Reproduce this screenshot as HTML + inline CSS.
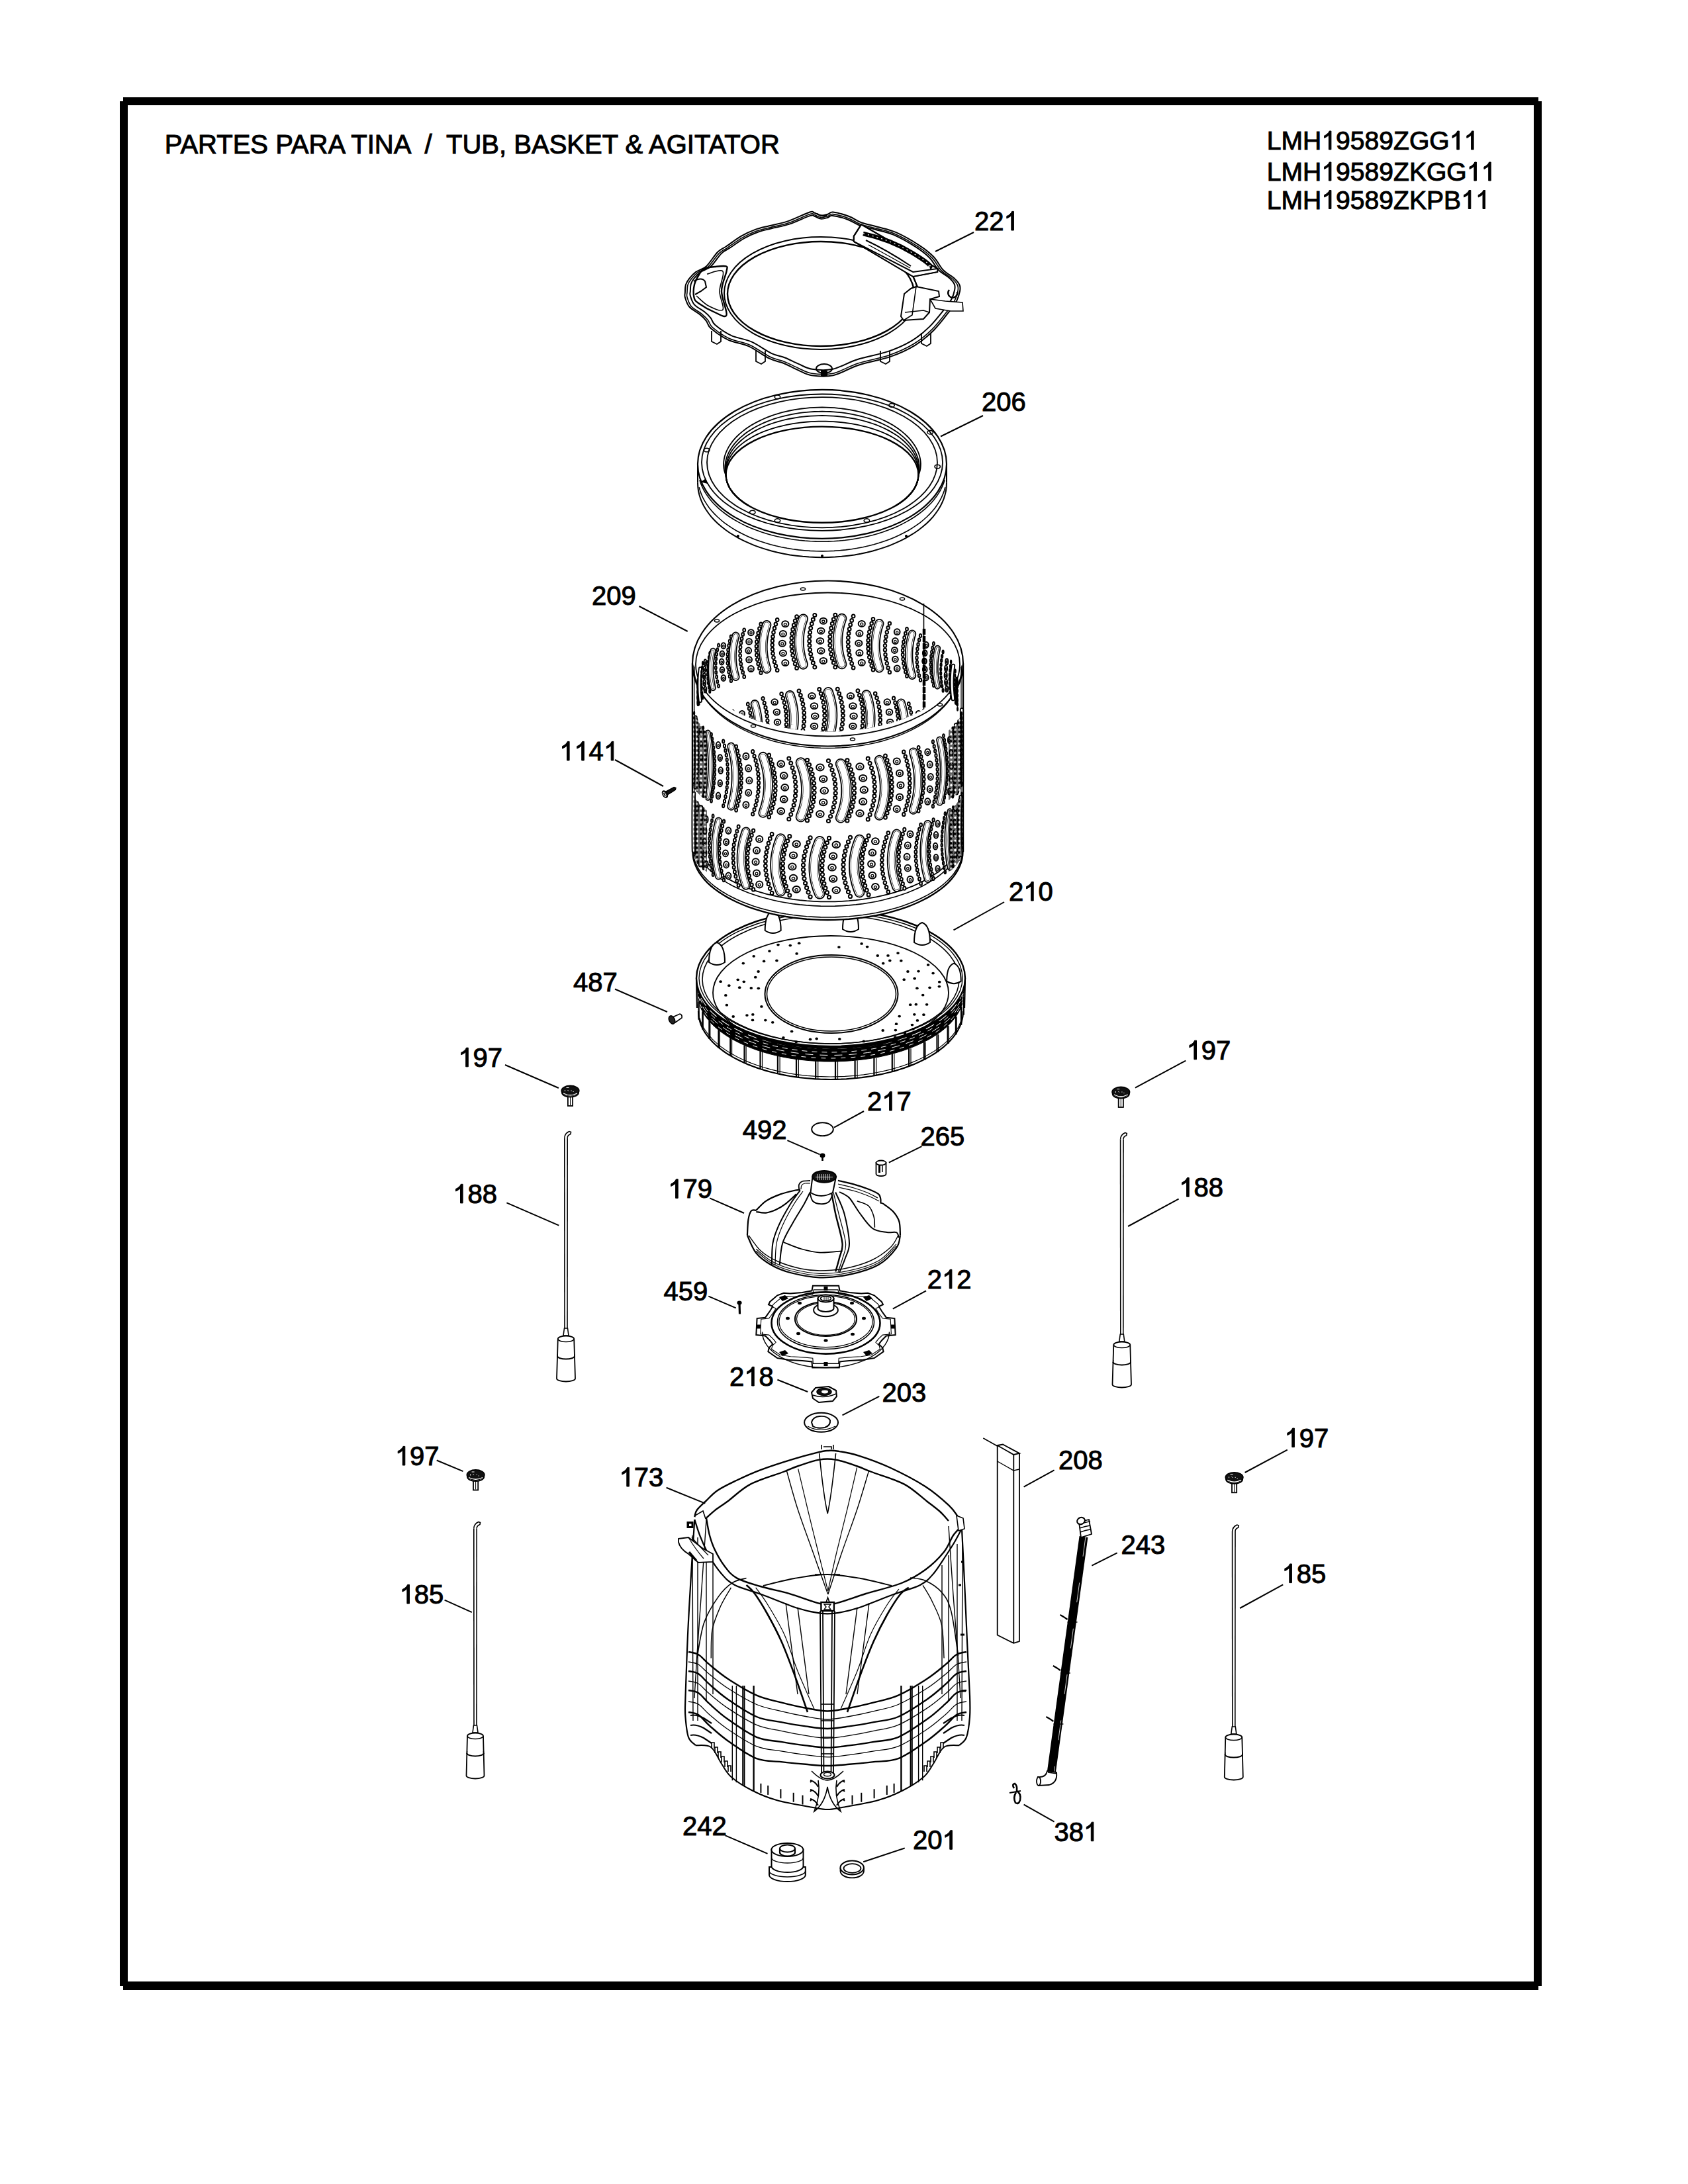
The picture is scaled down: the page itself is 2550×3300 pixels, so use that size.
<!DOCTYPE html>
<html><head><meta charset="utf-8"><style>
html,body{margin:0;padding:0;background:#fff;}
svg{display:block;}
text{font-family:"Liberation Sans",sans-serif;fill:#000;}
.k{fill:none;stroke:#000;stroke-linecap:round}
.w{fill:none;stroke:#fff;stroke-linecap:round}
.c{fill:#fff;stroke:#000;stroke-width:2}
.b{fill:#fff;stroke:#000;stroke-width:2}
.i{fill:none;stroke:#000;stroke-width:1.3}
</style></head><body>
<svg width="2550" height="3300" viewBox="0 0 2550 3300">
<rect width="2550" height="3300" fill="#fff"/>
<rect x="186" y="147" width="2138" height="12" fill="#000"/>
<rect x="186" y="2994" width="2138" height="13" fill="#000"/>
<rect x="181" y="153" width="12" height="2848" fill="#000"/>
<rect x="2317" y="153" width="12" height="2848" fill="#000"/>
<text x="248.7" y="232" font-size="40" stroke="#000" stroke-width="1.0" style="white-space:pre">PARTES PARA TINA  /  TUB, BASKET &amp; AGITATOR</text>
<text x="1913.8" y="226" font-size="39.1" stroke="#000" stroke-width="1.0" style="white-space:pre">LMH</text>
<path d="M2010.9,226 L2007.4,226 L2007.4,204.1 L2006.1,205.3 L2004.2,206.6 L2002.2,207.7 L2000.6,208.4 L2000.6,205.1 L2003,203.9 L2005.3,202.1 L2007.1,200.2 L2008.3,198 L2010.9,198Z" fill="#000" stroke="#000" stroke-width="1.0"/>
<text x="2018.1" y="226" font-size="39.1" stroke="#000" stroke-width="1.0" style="white-space:pre">9589ZGG</text>
<path d="M2204.4,226 L2200.8,226 L2200.8,204.1 L2199.6,205.3 L2197.6,206.6 L2195.6,207.7 L2194,208.4 L2194,205.1 L2196.4,203.9 L2198.8,202.1 L2200.5,200.2 L2201.7,198 L2204.4,198Z" fill="#000" stroke="#000" stroke-width="1.0"/>
<path d="M2226.1,226 L2222.6,226 L2222.6,204.1 L2221.3,205.3 L2219.3,206.6 L2217.4,207.7 L2215.8,208.4 L2215.8,205.1 L2218.2,203.9 L2220.5,202.1 L2222.3,200.2 L2223.5,198 L2226.1,198Z" fill="#000" stroke="#000" stroke-width="1.0"/>
<text x="1913.8" y="273" font-size="39.1" stroke="#000" stroke-width="1.0" style="white-space:pre">LMH</text>
<path d="M2010.9,273 L2007.4,273 L2007.4,251.1 L2006.1,252.3 L2004.2,253.6 L2002.2,254.7 L2000.6,255.4 L2000.6,252.1 L2003,250.9 L2005.3,249.1 L2007.1,247.2 L2008.3,245 L2010.9,245Z" fill="#000" stroke="#000" stroke-width="1.0"/>
<text x="2018.1" y="273" font-size="39.1" stroke="#000" stroke-width="1.0" style="white-space:pre">9589ZKGG</text>
<path d="M2230.4,273 L2226.9,273 L2226.9,251.1 L2225.6,252.3 L2223.7,253.6 L2221.7,254.7 L2220.1,255.4 L2220.1,252.1 L2222.5,250.9 L2224.9,249.1 L2226.6,247.2 L2227.8,245 L2230.4,245Z" fill="#000" stroke="#000" stroke-width="1.0"/>
<path d="M2252.2,273 L2248.7,273 L2248.7,251.1 L2247.4,252.3 L2245.4,253.6 L2243.5,254.7 L2241.9,255.4 L2241.9,252.1 L2244.3,250.9 L2246.6,249.1 L2248.4,247.2 L2249.5,245 L2252.2,245Z" fill="#000" stroke="#000" stroke-width="1.0"/>
<text x="1913.8" y="315.5" font-size="39.1" stroke="#000" stroke-width="1.0" style="white-space:pre">LMH</text>
<path d="M2010.9,315.5 L2007.4,315.5 L2007.4,293.6 L2006.1,294.8 L2004.2,296.1 L2002.2,297.2 L2000.6,297.9 L2000.6,294.6 L2003,293.4 L2005.3,291.6 L2007.1,289.7 L2008.3,287.5 L2010.9,287.5Z" fill="#000" stroke="#000" stroke-width="1.0"/>
<text x="2018.1" y="315.5" font-size="39.1" stroke="#000" stroke-width="1.0" style="white-space:pre">9589ZKPB</text>
<path d="M2221.8,315.5 L2218.3,315.5 L2218.3,293.6 L2217,294.8 L2215,296.1 L2213.1,297.2 L2211.5,297.9 L2211.5,294.6 L2213.8,293.4 L2216.2,291.6 L2217.9,289.7 L2219.1,287.5 L2221.8,287.5Z" fill="#000" stroke="#000" stroke-width="1.0"/>
<path d="M2243.5,315.5 L2240,315.5 L2240,293.6 L2238.7,294.8 L2236.8,296.1 L2234.8,297.2 L2233.2,297.9 L2233.2,294.6 L2235.6,293.4 L2237.9,291.6 L2239.7,289.7 L2240.9,287.5 L2243.5,287.5Z" fill="#000" stroke="#000" stroke-width="1.0"/>
<text x="1472" y="348" font-size="40" stroke="#000" stroke-width="1.0" style="white-space:pre">22</text>
<path d="M1531.4,348 L1527.8,348 L1527.8,325.6 L1526.5,326.8 L1524.5,328.2 L1522.5,329.3 L1520.8,330 L1520.8,326.6 L1523.3,325.4 L1525.7,323.6 L1527.5,321.6 L1528.7,319.4 L1531.4,319.4Z" fill="#000" stroke="#000" stroke-width="1.0"/>
<line x1="1471" y1="351" x2="1413" y2="380" stroke="#000" stroke-width="2"/>
<text x="1483" y="621" font-size="40" stroke="#000" stroke-width="1.0" style="white-space:pre">206</text>
<line x1="1485" y1="628" x2="1421" y2="659.5" stroke="#000" stroke-width="2"/>
<text x="894" y="914" font-size="40" stroke="#000" stroke-width="1.0" style="white-space:pre">209</text>
<line x1="965.5" y1="916" x2="1038.7" y2="954" stroke="#000" stroke-width="2"/>
<path d="M860.1,1149 L856.5,1149 L856.5,1126.6 L855.1,1127.8 L853.1,1129.2 L851.1,1130.3 L849.5,1131 L849.5,1127.6 L851.9,1126.4 L854.3,1124.6 L856.1,1122.6 L857.3,1120.4 L860.1,1120.4Z" fill="#000" stroke="#000" stroke-width="1.0"/>
<path d="M882.3,1149 L878.7,1149 L878.7,1126.6 L877.4,1127.8 L875.4,1129.2 L873.4,1130.3 L871.7,1131 L871.7,1127.6 L874.2,1126.4 L876.6,1124.6 L878.4,1122.6 L879.6,1120.4 L882.3,1120.4Z" fill="#000" stroke="#000" stroke-width="1.0"/>
<text x="889.6" y="1149" font-size="40" stroke="#000" stroke-width="1.0" style="white-space:pre">4</text>
<path d="M926.8,1149 L923.2,1149 L923.2,1126.6 L921.9,1127.8 L919.9,1129.2 L917.9,1130.3 L916.2,1131 L916.2,1127.6 L918.7,1126.4 L921.1,1124.6 L922.9,1122.6 L924.1,1120.4 L926.8,1120.4Z" fill="#000" stroke="#000" stroke-width="1.0"/>
<line x1="929" y1="1148" x2="1002" y2="1188" stroke="#000" stroke-width="2"/>
<text x="1524" y="1361" font-size="40" stroke="#000" stroke-width="1.0" style="white-space:pre">2</text>
<path d="M1561.2,1361 L1557.6,1361 L1557.6,1338.6 L1556.2,1339.8 L1554.2,1341.2 L1552.2,1342.3 L1550.6,1343 L1550.6,1339.6 L1553,1338.4 L1555.4,1336.6 L1557.2,1334.6 L1558.4,1332.4 L1561.2,1332.4Z" fill="#000" stroke="#000" stroke-width="1.0"/>
<text x="1568.5" y="1361" font-size="40" stroke="#000" stroke-width="1.0" style="white-space:pre">0</text>
<line x1="1517" y1="1363" x2="1440.5" y2="1405.4" stroke="#000" stroke-width="2"/>
<text x="866.1" y="1498" font-size="40" stroke="#000" stroke-width="1.0" style="white-space:pre">487</text>
<line x1="929" y1="1494.5" x2="1008" y2="1529" stroke="#000" stroke-width="2"/>
<path d="M707.3,1611.8 L703.7,1611.8 L703.7,1589.4 L702.3,1590.6 L700.3,1592 L698.3,1593.1 L696.7,1593.8 L696.7,1590.4 L699.1,1589.2 L701.5,1587.4 L703.3,1585.4 L704.5,1583.2 L707.3,1583.2Z" fill="#000" stroke="#000" stroke-width="1.0"/>
<text x="714.6" y="1611.8" font-size="40" stroke="#000" stroke-width="1.0" style="white-space:pre">97</text>
<line x1="763" y1="1609" x2="843.9" y2="1644" stroke="#000" stroke-width="2"/>
<path d="M1807.5,1600.8 L1803.9,1600.8 L1803.9,1578.4 L1802.5,1579.6 L1800.5,1581 L1798.5,1582.1 L1796.9,1582.8 L1796.9,1579.4 L1799.3,1578.2 L1801.7,1576.4 L1803.5,1574.4 L1804.7,1572.2 L1807.5,1572.2Z" fill="#000" stroke="#000" stroke-width="1.0"/>
<text x="1814.8" y="1600.8" font-size="40" stroke="#000" stroke-width="1.0" style="white-space:pre">97</text>
<line x1="1791.3" y1="1602.6" x2="1714.9" y2="1643.6" stroke="#000" stroke-width="2"/>
<text x="1310" y="1678" font-size="40" stroke="#000" stroke-width="1.0" style="white-space:pre">2</text>
<path d="M1347.2,1678 L1343.6,1678 L1343.6,1655.6 L1342.2,1656.8 L1340.2,1658.2 L1338.2,1659.3 L1336.6,1660 L1336.6,1656.6 L1339,1655.4 L1341.4,1653.6 L1343.2,1651.6 L1344.4,1649.4 L1347.2,1649.4Z" fill="#000" stroke="#000" stroke-width="1.0"/>
<text x="1354.5" y="1678" font-size="40" stroke="#000" stroke-width="1.0" style="white-space:pre">7</text>
<line x1="1305" y1="1679" x2="1260" y2="1703.6" stroke="#000" stroke-width="2"/>
<text x="1121.7" y="1721.3" font-size="40" stroke="#000" stroke-width="1.0" style="white-space:pre">492</text>
<line x1="1189.4" y1="1723.2" x2="1238.4" y2="1744.4" stroke="#000" stroke-width="2"/>
<text x="1390.4" y="1731" font-size="40" stroke="#000" stroke-width="1.0" style="white-space:pre">265</text>
<line x1="1392.4" y1="1732.2" x2="1342.8" y2="1756.7" stroke="#000" stroke-width="2"/>
<path d="M699.1,1817.9 L695.5,1817.9 L695.5,1795.5 L694.1,1796.7 L692.1,1798.1 L690.1,1799.2 L688.5,1799.9 L688.5,1796.5 L690.9,1795.3 L693.3,1793.5 L695.1,1791.5 L696.3,1789.3 L699.1,1789.3Z" fill="#000" stroke="#000" stroke-width="1.0"/>
<text x="706.4" y="1817.9" font-size="40" stroke="#000" stroke-width="1.0" style="white-space:pre">88</text>
<line x1="765.4" y1="1817.3" x2="844.3" y2="1851.7" stroke="#000" stroke-width="2"/>
<path d="M1796.2,1808.2 L1792.6,1808.2 L1792.6,1785.8 L1791.2,1787 L1789.2,1788.4 L1787.2,1789.5 L1785.6,1790.2 L1785.6,1786.8 L1788,1785.6 L1790.4,1783.8 L1792.2,1781.8 L1793.4,1779.6 L1796.2,1779.6Z" fill="#000" stroke="#000" stroke-width="1.0"/>
<text x="1803.5" y="1808.2" font-size="40" stroke="#000" stroke-width="1.0" style="white-space:pre">88</text>
<line x1="1780.5" y1="1811.5" x2="1704.1" y2="1853" stroke="#000" stroke-width="2"/>
<path d="M1024.2,1810.4 L1020.6,1810.4 L1020.6,1788 L1019.2,1789.2 L1017.2,1790.6 L1015.2,1791.7 L1013.6,1792.4 L1013.6,1789 L1016,1787.8 L1018.4,1786 L1020.2,1784 L1021.4,1781.8 L1024.2,1781.8Z" fill="#000" stroke="#000" stroke-width="1.0"/>
<text x="1031.5" y="1810.4" font-size="40" stroke="#000" stroke-width="1.0" style="white-space:pre">79</text>
<line x1="1072.2" y1="1810.4" x2="1124" y2="1833" stroke="#000" stroke-width="2"/>
<text x="1400.7" y="1946.9" font-size="40" stroke="#000" stroke-width="1.0" style="white-space:pre">2</text>
<path d="M1437.9,1946.9 L1434.3,1946.9 L1434.3,1924.5 L1432.9,1925.7 L1430.9,1927.1 L1428.9,1928.2 L1427.3,1928.9 L1427.3,1925.5 L1429.7,1924.3 L1432.1,1922.5 L1433.9,1920.5 L1435.1,1918.3 L1437.9,1918.3Z" fill="#000" stroke="#000" stroke-width="1.0"/>
<text x="1445.2" y="1946.9" font-size="40" stroke="#000" stroke-width="1.0" style="white-space:pre">2</text>
<line x1="1399" y1="1950.4" x2="1348.8" y2="1977.7" stroke="#000" stroke-width="2"/>
<text x="1002.4" y="1965.4" font-size="40" stroke="#000" stroke-width="1.0" style="white-space:pre">459</text>
<line x1="1070.3" y1="1958.6" x2="1111.7" y2="1976.3" stroke="#000" stroke-width="2"/>
<text x="1102" y="2094" font-size="40" stroke="#000" stroke-width="1.0" style="white-space:pre">2</text>
<path d="M1139.2,2094 L1135.6,2094 L1135.6,2071.6 L1134.2,2072.8 L1132.2,2074.2 L1130.2,2075.3 L1128.6,2076 L1128.6,2072.6 L1131,2071.4 L1133.4,2069.6 L1135.2,2067.6 L1136.4,2065.4 L1139.2,2065.4Z" fill="#000" stroke="#000" stroke-width="1.0"/>
<text x="1146.5" y="2094" font-size="40" stroke="#000" stroke-width="1.0" style="white-space:pre">8</text>
<line x1="1174.4" y1="2084.7" x2="1220.2" y2="2103" stroke="#000" stroke-width="2"/>
<text x="1332.6" y="2118" font-size="40" stroke="#000" stroke-width="1.0" style="white-space:pre">203</text>
<line x1="1328.3" y1="2109.8" x2="1272.5" y2="2138.4" stroke="#000" stroke-width="2"/>
<path d="M611.8,2214 L608.2,2214 L608.2,2191.6 L606.8,2192.8 L604.8,2194.2 L602.8,2195.3 L601.2,2196 L601.2,2192.6 L603.6,2191.4 L606,2189.6 L607.8,2187.6 L609,2185.4 L611.8,2185.4Z" fill="#000" stroke="#000" stroke-width="1.0"/>
<text x="619.1" y="2214" font-size="40" stroke="#000" stroke-width="1.0" style="white-space:pre">97</text>
<line x1="659.7" y1="2206.5" x2="699.5" y2="2223.2" stroke="#000" stroke-width="2"/>
<path d="M1955.4,2186.6 L1951.8,2186.6 L1951.8,2164.2 L1950.4,2165.4 L1948.4,2166.8 L1946.4,2167.9 L1944.8,2168.6 L1944.8,2165.2 L1947.2,2164 L1949.6,2162.2 L1951.4,2160.2 L1952.6,2158 L1955.4,2158Z" fill="#000" stroke="#000" stroke-width="1.0"/>
<text x="1962.7" y="2186.6" font-size="40" stroke="#000" stroke-width="1.0" style="white-space:pre">97</text>
<line x1="1944.8" y1="2190.6" x2="1880.6" y2="2225" stroke="#000" stroke-width="2"/>
<path d="M950.4,2246 L946.8,2246 L946.8,2223.6 L945.4,2224.8 L943.4,2226.2 L941.4,2227.3 L939.8,2228 L939.8,2224.6 L942.2,2223.4 L944.6,2221.6 L946.4,2219.6 L947.6,2217.4 L950.4,2217.4Z" fill="#000" stroke="#000" stroke-width="1.0"/>
<text x="957.7" y="2246" font-size="40" stroke="#000" stroke-width="1.0" style="white-space:pre">73</text>
<line x1="1006.6" y1="2247.8" x2="1065.3" y2="2271.6" stroke="#000" stroke-width="2"/>
<text x="1599" y="2219.6" font-size="40" stroke="#000" stroke-width="1.0" style="white-space:pre">208</text>
<line x1="1592.6" y1="2221.4" x2="1546.6" y2="2246.6" stroke="#000" stroke-width="2"/>
<text x="1693.4" y="2348.4" font-size="40" stroke="#000" stroke-width="1.0" style="white-space:pre">243</text>
<line x1="1687.7" y1="2346.3" x2="1649.4" y2="2365.6" stroke="#000" stroke-width="2"/>
<path d="M618.5,2423 L614.9,2423 L614.9,2400.6 L613.5,2401.8 L611.5,2403.2 L609.5,2404.3 L607.9,2405 L607.9,2401.6 L610.3,2400.4 L612.7,2398.6 L614.5,2396.6 L615.7,2394.4 L618.5,2394.4Z" fill="#000" stroke="#000" stroke-width="1.0"/>
<text x="625.8" y="2423" font-size="40" stroke="#000" stroke-width="1.0" style="white-space:pre">85</text>
<line x1="671.6" y1="2417.6" x2="712.8" y2="2436.2" stroke="#000" stroke-width="2"/>
<path d="M1951.4,2391.6 L1947.8,2391.6 L1947.8,2369.2 L1946.4,2370.4 L1944.4,2371.8 L1942.4,2372.9 L1940.8,2373.6 L1940.8,2370.2 L1943.2,2369 L1945.6,2367.2 L1947.4,2365.2 L1948.6,2363 L1951.4,2363Z" fill="#000" stroke="#000" stroke-width="1.0"/>
<text x="1958.7" y="2391.6" font-size="40" stroke="#000" stroke-width="1.0" style="white-space:pre">85</text>
<line x1="1938.2" y1="2394.3" x2="1873.1" y2="2430" stroke="#000" stroke-width="2"/>
<text x="1592.5" y="2781.8" font-size="40" stroke="#000" stroke-width="1.0" style="white-space:pre">38</text>
<path d="M1651.9,2781.8 L1648.3,2781.8 L1648.3,2759.4 L1647,2760.6 L1645,2762 L1643,2763.1 L1641.3,2763.8 L1641.3,2760.4 L1643.8,2759.2 L1646.2,2757.4 L1648,2755.4 L1649.2,2753.2 L1651.9,2753.2Z" fill="#000" stroke="#000" stroke-width="1.0"/>
<line x1="1546.6" y1="2726.6" x2="1592.6" y2="2752.7" stroke="#000" stroke-width="2"/>
<text x="1031" y="2773.4" font-size="40" stroke="#000" stroke-width="1.0" style="white-space:pre">242</text>
<line x1="1095.6" y1="2773.4" x2="1159.5" y2="2800.8" stroke="#000" stroke-width="2"/>
<text x="1379" y="2794.3" font-size="40" stroke="#000" stroke-width="1.0" style="white-space:pre">20</text>
<path d="M1438.4,2794.3 L1434.8,2794.3 L1434.8,2771.9 L1433.5,2773.1 L1431.5,2774.5 L1429.5,2775.6 L1427.8,2776.3 L1427.8,2772.9 L1430.3,2771.7 L1432.7,2769.9 L1434.5,2767.9 L1435.7,2765.7 L1438.4,2765.7Z" fill="#000" stroke="#000" stroke-width="1.0"/>
<line x1="1366.7" y1="2792.5" x2="1304.2" y2="2813.3" stroke="#000" stroke-width="2"/>
<path d="M1034.9,442.0 C1035.1,438.8 1034.9,433.5 1036.0,430.0 C1037.1,426.5 1038.8,424.1 1041.3,420.9 C1043.8,417.7 1047.0,414.0 1051.3,410.9 C1055.6,407.8 1061.5,407.4 1066.9,402.4 C1072.4,397.4 1079.0,386.0 1084.0,381.0 C1089.0,376.0 1090.9,376.5 1096.8,372.5 C1102.7,368.5 1112.2,361.2 1119.5,356.9 C1126.8,352.6 1133.8,349.5 1140.9,346.9 C1148.0,344.3 1153.9,343.3 1162.2,341.2 C1170.5,339.1 1180.4,337.6 1190.6,334.1 C1200.8,330.7 1216.7,322.6 1223.3,320.5 C1229.9,318.4 1227.2,320.7 1230.0,321.5 C1232.8,322.3 1236.5,325.2 1240.0,325.5 C1243.5,325.8 1247.9,324.3 1251.0,323.5 C1254.1,322.7 1253.2,319.9 1258.5,320.5 C1263.8,321.1 1275.6,324.4 1282.7,327.0 C1289.8,329.6 1294.0,333.7 1301.1,336.3 C1308.2,338.9 1316.5,340.2 1325.3,342.7 C1334.1,345.2 1343.0,346.5 1353.7,351.2 C1364.4,355.9 1379.8,364.9 1389.3,371.1 C1398.8,377.3 1404.7,382.1 1410.6,388.2 C1416.5,394.3 1419.6,402.6 1424.8,408.0 C1430.0,413.4 1437.8,417.1 1441.9,420.9 C1446.1,424.7 1448.4,427.6 1449.7,430.8 C1451.0,434.0 1450.8,436.0 1450.0,440.0 C1449.2,444.0 1447.3,450.4 1445.0,455.0 C1442.7,459.6 1441.9,460.5 1436.2,467.8 C1430.5,475.1 1419.6,490.0 1410.6,499.0 C1401.6,508.0 1393.1,515.1 1382.2,521.8 C1371.3,528.4 1359.4,533.9 1345.2,538.9 C1331.0,543.9 1311.4,547.0 1296.9,551.7 C1282.5,556.4 1270.3,564.7 1258.5,567.3 C1246.7,569.9 1235.2,568.7 1226.2,567.3 C1217.2,565.9 1211.9,561.9 1204.8,558.8 C1197.7,555.7 1190.6,551.6 1183.5,548.8 C1176.4,545.9 1171.0,546.0 1162.2,541.7 C1153.4,537.4 1141.3,527.9 1130.9,523.2 C1120.5,518.5 1109.1,517.8 1099.6,513.3 C1090.1,508.8 1079.5,500.9 1074.0,496.2 C1068.5,491.4 1069.7,488.4 1066.9,484.8 C1064.1,481.2 1061.3,478.4 1057.0,474.9 C1052.7,471.3 1045.0,467.8 1041.3,463.5 C1037.6,459.2 1036.0,452.9 1034.9,449.3 C1033.8,445.7 1034.7,445.2 1034.9,442.0Z" fill="none" stroke="#000" stroke-width="2" />
<path d="M1038.0,442.0 C1038.2,438.9 1038.1,433.8 1039.1,430.3 C1040.2,426.9 1041.8,424.6 1044.3,421.5 C1046.8,418.3 1050.0,414.7 1054.2,411.7 C1058.4,408.7 1064.2,408.3 1069.5,403.4 C1074.9,398.6 1081.5,387.4 1086.4,382.6 C1091.3,377.7 1093.2,378.2 1099.0,374.3 C1104.8,370.3 1114.1,363.2 1121.4,359.1 C1128.6,354.9 1135.4,351.9 1142.4,349.3 C1149.4,346.8 1155.3,345.8 1163.4,343.7 C1171.6,341.7 1181.4,340.2 1191.4,336.8 C1201.4,333.5 1217.1,325.6 1223.6,323.6 C1230.1,321.5 1227.5,323.7 1230.2,324.5 C1232.9,325.4 1236.6,328.1 1240.0,328.4 C1243.5,328.8 1247.8,327.3 1250.9,326.5 C1253.9,325.7 1253.1,323.0 1258.3,323.6 C1263.5,324.1 1275.1,327.3 1282.1,329.9 C1289.1,332.5 1293.2,336.4 1300.2,339.0 C1307.2,341.5 1315.4,342.8 1324.1,345.2 C1332.7,347.6 1341.5,348.9 1352.0,353.5 C1362.5,358.1 1377.8,366.9 1387.1,372.9 C1396.4,378.9 1402.3,383.6 1408.1,389.6 C1413.9,395.6 1416.9,403.6 1422.1,408.9 C1427.2,414.2 1434.8,417.7 1438.9,421.5 C1443.0,425.2 1445.3,428.0 1446.6,431.1 C1447.9,434.2 1447.7,436.1 1446.9,440.1 C1446.1,444.0 1444.2,450.2 1442.0,454.7 C1439.7,459.2 1438.9,460.0 1433.3,467.2 C1427.7,474.3 1417.0,488.8 1408.1,497.6 C1399.2,506.4 1390.8,513.3 1380.1,519.8 C1369.4,526.3 1357.7,531.6 1343.7,536.5 C1329.7,541.4 1310.3,544.4 1296.1,549.0 C1281.9,553.6 1269.9,561.7 1258.3,564.2 C1246.7,566.7 1235.3,565.6 1226.5,564.2 C1217.6,562.8 1212.4,558.9 1205.4,555.9 C1198.4,552.9 1191.4,548.9 1184.4,546.2 C1177.4,543.4 1172.0,543.4 1163.4,539.2 C1154.8,535.1 1142.9,525.8 1132.6,521.2 C1122.3,516.6 1111.1,515.9 1101.8,511.5 C1092.4,507.2 1081.9,499.5 1076.5,494.9 C1071.2,490.2 1072.3,487.2 1069.5,483.8 C1066.8,480.3 1064.0,477.6 1059.8,474.1 C1055.6,470.6 1048.0,467.1 1044.3,463.0 C1040.7,458.8 1039.1,452.6 1038.0,449.1 C1037.0,445.6 1037.8,445.2 1038.0,442.0Z" fill="none" stroke="#000" stroke-width="1.6" />
<path d="M1042.8,440.1 C1043.0,437.0 1042.8,432.1 1043.9,428.8 C1044.9,425.5 1046.5,423.2 1049.0,420.2 C1051.4,417.2 1054.5,413.7 1058.6,410.8 C1062.7,407.9 1068.3,407.5 1073.6,402.8 C1078.8,398.2 1085.2,387.4 1090.0,382.7 C1094.8,378.0 1096.7,378.5 1102.4,374.7 C1108.0,371.0 1117.1,364.1 1124.2,360.1 C1131.3,356.1 1137.9,353.1 1144.8,350.7 C1151.6,348.2 1157.3,347.3 1165.3,345.3 C1173.2,343.3 1182.8,341.9 1192.6,338.6 C1202.4,335.4 1217.7,327.8 1224.0,325.9 C1230.4,323.9 1227.8,326.0 1230.5,326.8 C1233.2,327.6 1236.7,330.2 1240.1,330.6 C1243.5,330.9 1247.7,329.5 1250.7,328.7 C1253.7,327.9 1252.8,325.3 1257.9,325.9 C1263.0,326.4 1274.4,329.5 1281.2,332.0 C1288.0,334.4 1292.1,338.2 1298.9,340.7 C1305.7,343.2 1313.7,344.4 1322.2,346.7 C1330.6,349.1 1339.2,350.3 1349.5,354.7 C1359.8,359.2 1374.6,367.6 1383.7,373.4 C1392.9,379.2 1398.5,383.7 1404.2,389.5 C1409.9,395.3 1412.9,403.0 1417.9,408.1 C1422.9,413.2 1430.3,416.7 1434.3,420.2 C1438.3,423.8 1440.5,426.5 1441.8,429.5 C1443.1,432.5 1442.9,434.4 1442.1,438.2 C1441.4,442.0 1439.5,447.9 1437.3,452.3 C1435.1,456.6 1434.4,457.4 1428.9,464.3 C1423.3,471.2 1412.9,485.2 1404.2,493.6 C1395.6,502.1 1387.4,508.8 1376.9,515.1 C1366.4,521.3 1355.0,526.5 1341.3,531.1 C1327.6,535.8 1308.8,538.7 1294.9,543.2 C1281.0,547.6 1269.2,555.4 1257.9,557.8 C1246.6,560.3 1235.4,559.2 1226.8,557.8 C1218.2,556.5 1213.1,552.8 1206.3,549.9 C1199.4,547.0 1192.6,543.1 1185.8,540.5 C1178.9,537.8 1173.7,537.8 1165.3,533.8 C1156.8,529.8 1145.2,520.8 1135.2,516.4 C1125.1,511.9 1114.2,511.3 1105.0,507.1 C1095.9,502.9 1085.7,495.5 1080.4,491.0 C1075.2,486.5 1076.3,483.6 1073.6,480.3 C1070.9,477.0 1068.2,474.3 1064.1,471.0 C1060.0,467.6 1052.5,464.3 1049.0,460.3 C1045.4,456.3 1043.8,450.3 1042.8,446.9 C1041.8,443.6 1042.6,443.1 1042.8,440.1Z" fill="none" stroke="#000" stroke-width="2" />
<path d="M1233,323 Q1240,329 1250,326 L1249,324 Q1241,327 1235,322 Z" fill="#000"/>
<ellipse cx="1240" cy="443" rx="146" ry="85" fill="none" stroke="#000" stroke-width="2" />
<ellipse cx="1240" cy="444" rx="141" ry="79" fill="none" stroke="#000" stroke-width="2.4" />
<path d="M1064.0,406.0 C1068.0,404.0 1074.5,403.6 1080.0,403.0 C1085.5,402.4 1093.9,401.2 1096.8,402.4 C1099.7,403.6 1098.6,403.7 1097.5,410.0 C1096.4,416.3 1090.0,429.0 1090.0,440.0 C1090.0,451.0 1099.2,470.7 1097.5,476.0 C1095.8,481.3 1087.1,475.0 1080.0,472.0 C1072.9,469.0 1060.3,461.8 1055.0,458.0 C1049.7,454.2 1049.4,453.7 1048.4,449.0 C1047.4,444.3 1047.7,435.7 1049.0,430.0 C1050.3,424.3 1053.5,419.0 1056.0,415.0 C1058.5,411.0 1060.0,408.0 1064.0,406.0Z" fill="none" stroke="#000" stroke-width="2.4" />
<path d="M1068.0,414.0 C1072.0,413.3 1088.8,405.7 1092.0,410.0 C1095.2,414.3 1087.0,430.3 1087.0,440.0 C1087.0,449.7 1094.8,464.3 1092.0,468.0 C1089.2,471.7 1076.7,465.5 1070.0,462.0 C1063.3,458.5 1055.0,449.5 1052.0,447.0" fill="none" stroke="#000" stroke-width="1.6" />
<path d="M1048,425 Q1060,418 1065,425 L1067,434 Q1060,440 1050,445" fill="none" stroke="#000" stroke-width="2" />
<path d="M1289.8,356.9 L1301.1,339.1 L1416.3,405.9 L1416.3,411.0 L1379.3,418.0 L1289.8,365.0Z" fill="#fff" stroke="#000" stroke-width="2" />
<path d="M1289.8,356.9 L1301.1,339.1 L1416.3,405.9 L1379.3,410.9 L1289.8,365.0Z" fill="none" stroke="#000" stroke-width="2" />
<path d="M1289.8,365.0 L1379.3,418.0 L1416.3,411.0" fill="none" stroke="#000" stroke-width="1.6" />
<path d="M1304,353 Q1345,362 1378,382 T1404.4,403.8" fill="none" stroke="#000" stroke-width="6.5"/>
<path d="M1304,353 Q1345,362 1378,382 T1404.4,403.8" fill="none" stroke="#fff" stroke-width="1.3" stroke-dasharray="2 5"/>
<path d="M1308,363 Q1340,378 1376,402" fill="none" stroke="#000" stroke-width="2" />
<path d="M1312,370 Q1345,388 1375,405" fill="none" stroke="#000" stroke-width="1.4" />
<path d="M1379.3,418.0 L1386.0,433.0 L1376.0,436.0" fill="none" stroke="#000" stroke-width="2" />
<path d="M1376.0,436.0 L1384.0,433.0 L1418.0,440.0 L1419.0,448.0 L1405.0,452.0 L1404.0,472.0 L1395.0,482.0 L1365.0,484.0 L1361.0,478.0 L1366.0,444.0Z" fill="#fff" stroke="#000" stroke-width="2" />
<path d="M1384.0,433.0 L1378.0,476.0 L1365.0,484.0" fill="none" stroke="#000" stroke-width="1.6" />
<path d="M1367.0,472.0 L1395.0,469.0 L1404.0,472.0" fill="none" stroke="#000" stroke-width="1.6" />
<path d="M1405.0,452.0 L1428.0,455.0 L1454.0,457.0 L1455.0,470.0 L1436.0,470.0 L1413.0,466.0Z" fill="#fff" stroke="#000" stroke-width="1.6" />
<path d="M1434,438 a7,7 0 1,0 12,3" fill="none" stroke="#000" stroke-width="2.4" />
<path d="M1075.0,500.0 L1075.0,516.0 L1083.0,520.0 L1089.0,516.0 L1089.0,500.0" fill="none" stroke="#000" stroke-width="1.8" />
<path d="M1142.0,530.0 L1142.0,546.0 L1150.0,550.0 L1156.0,546.0 L1156.0,530.0" fill="none" stroke="#000" stroke-width="1.8" />
<path d="M1330.0,530.0 L1330.0,546.0 L1338.0,550.0 L1344.0,546.0 L1344.0,530.0" fill="none" stroke="#000" stroke-width="1.8" />
<path d="M1392.0,503.0 L1392.0,519.0 L1400.0,523.0 L1406.0,519.0 L1406.0,503.0" fill="none" stroke="#000" stroke-width="1.8" />
<ellipse cx="1245" cy="557" rx="12" ry="7" fill="none" stroke="#000" stroke-width="2" />
<rect x="1240" y="560" width="10" height="8" fill="#000"/>
<path d="M1050.8,2637.2 C1054.7,2637.7 1067.5,2635.4 1074.0,2640.0 C1080.5,2644.6 1084.9,2657.5 1090.0,2665.0 C1095.1,2672.5 1097.1,2678.3 1104.7,2685.0 C1112.3,2691.7 1124.0,2699.1 1135.5,2705.0 C1147.0,2710.9 1158.6,2716.0 1174.0,2720.3 C1189.4,2724.6 1215.3,2728.7 1228.0,2731.0 C1240.7,2733.3 1242.7,2734.0 1250.0,2734.0 C1257.3,2734.0 1259.3,2733.3 1272.0,2731.0 C1284.7,2728.7 1310.6,2724.6 1326.0,2720.3 C1341.4,2716.0 1353.0,2710.9 1364.5,2705.0 C1376.0,2699.1 1387.7,2691.7 1395.3,2685.0 C1402.9,2678.3 1404.9,2672.5 1410.0,2665.0 C1415.1,2657.5 1419.5,2644.6 1426.0,2640.0 C1432.5,2635.4 1445.3,2637.7 1449.2,2637.2" fill="none" stroke="#000" stroke-width="2"/>
<path d="M1049.3,2296.0 C1048.4,2310.0 1045.7,2351.0 1044.0,2380.0 C1042.3,2409.0 1040.4,2439.0 1039.0,2470.0 C1037.6,2501.0 1036.0,2545.3 1035.4,2566.0 C1034.8,2586.7 1034.6,2584.2 1035.4,2594.0 C1036.2,2603.8 1037.4,2617.6 1040.0,2624.8 C1042.6,2632.0 1049.0,2635.1 1050.8,2637.2" fill="none" stroke="#000" stroke-width="2.2"/>
<path d="M1452.8,2306.0 C1453.5,2320.0 1455.6,2361.0 1457.0,2390.0 C1458.4,2419.0 1459.7,2451.3 1461.0,2480.0 C1462.3,2508.7 1464.3,2543.0 1465.0,2562.0 C1465.7,2581.0 1465.8,2583.5 1465.0,2594.0 C1464.2,2604.5 1462.6,2617.6 1460.0,2624.8 C1457.4,2632.0 1451.0,2635.1 1449.2,2637.2" fill="none" stroke="#000" stroke-width="2.2"/>
<path d="M1067.0,2296.0 C1065.8,2313.3 1062.3,2366.0 1060.0,2400.0 C1057.7,2434.0 1054.8,2472.3 1053.0,2500.0 C1051.2,2527.7 1049.7,2555.0 1049.0,2566.0" fill="none" stroke="#000" stroke-width="1.4"/>
<path d="M1433.0,2306.0 C1434.2,2323.3 1437.7,2377.7 1440.0,2410.0 C1442.3,2442.3 1445.2,2474.0 1447.0,2500.0 C1448.8,2526.0 1450.3,2555.0 1451.0,2566.0" fill="none" stroke="#000" stroke-width="1.4"/>
<path d="M1046,2320 L1047,2600 M1054,2323 L1054,2600 M1067,2344 L1067,2570 M1077,2360 L1077,2560" fill="none" stroke="#000" stroke-width="1.4"/>
<path d="M1454,2330 L1453,2600 M1446,2333 L1446,2600 M1433,2350 L1433,2570 M1423,2365 L1423,2560" fill="none" stroke="#000" stroke-width="1.4"/>
<path d="M1075.0,2642.0 l0,-9 l4.0,0 l0,9" fill="none" stroke="#000" stroke-width="1.6"/>
<path d="M1080.0,2649.0 l0,-9 l4.0,0 l0,9" fill="none" stroke="#000" stroke-width="1.6"/>
<path d="M1085.0,2656.0 l0,-9 l4.0,0 l0,9" fill="none" stroke="#000" stroke-width="1.6"/>
<path d="M1090.0,2663.0 l0,-9 l4.0,0 l0,9" fill="none" stroke="#000" stroke-width="1.6"/>
<path d="M1095.0,2670.0 l0,-9 l4.0,0 l0,9" fill="none" stroke="#000" stroke-width="1.6"/>
<path d="M1100.0,2677.0 l0,-9 l4.0,0 l0,9" fill="none" stroke="#000" stroke-width="1.6"/>
<line x1="1149.4" y1="2694.9" x2="1149.4" y2="2708.9" stroke="#000" stroke-width="2"/>
<line x1="1160.2" y1="2697.9" x2="1160.2" y2="2711.9" stroke="#000" stroke-width="2"/>
<line x1="1179.4" y1="2703.3" x2="1179.4" y2="2717.3" stroke="#000" stroke-width="2"/>
<line x1="1198.7" y1="2708.8" x2="1198.7" y2="2722.8" stroke="#000" stroke-width="2"/>
<line x1="1212.5" y1="2712.6" x2="1212.5" y2="2726.6" stroke="#000" stroke-width="2"/>
<path d="M1425.0,2642.0 l0,-9 l-4.0,0 l0,9" fill="none" stroke="#000" stroke-width="1.6"/>
<path d="M1420.0,2649.0 l0,-9 l-4.0,0 l0,9" fill="none" stroke="#000" stroke-width="1.6"/>
<path d="M1415.0,2656.0 l0,-9 l-4.0,0 l0,9" fill="none" stroke="#000" stroke-width="1.6"/>
<path d="M1410.0,2663.0 l0,-9 l-4.0,0 l0,9" fill="none" stroke="#000" stroke-width="1.6"/>
<path d="M1405.0,2670.0 l0,-9 l-4.0,0 l0,9" fill="none" stroke="#000" stroke-width="1.6"/>
<path d="M1400.0,2677.0 l0,-9 l-4.0,0 l0,9" fill="none" stroke="#000" stroke-width="1.6"/>
<line x1="1350.6" y1="2694.9" x2="1350.6" y2="2708.9" stroke="#000" stroke-width="2"/>
<line x1="1339.8" y1="2697.9" x2="1339.8" y2="2711.9" stroke="#000" stroke-width="2"/>
<line x1="1320.6" y1="2703.3" x2="1320.6" y2="2717.3" stroke="#000" stroke-width="2"/>
<line x1="1301.3" y1="2708.8" x2="1301.3" y2="2722.8" stroke="#000" stroke-width="2"/>
<line x1="1287.5" y1="2712.6" x2="1287.5" y2="2726.6" stroke="#000" stroke-width="2"/>
<path d="M1040.0,2496.0 C1042.5,2496.7 1049.7,2496.8 1055.0,2500.0 C1060.3,2503.2 1064.5,2509.3 1072.0,2515.4 C1079.5,2521.6 1088.2,2529.3 1100.0,2537.0 C1111.8,2544.7 1129.7,2555.8 1143.0,2561.7 C1156.3,2567.6 1167.7,2569.2 1180.0,2572.4 C1192.3,2575.6 1205.3,2578.6 1217.0,2580.7 C1228.7,2582.9 1239.0,2585.5 1250.0,2585.5 C1261.0,2585.5 1271.3,2582.9 1283.0,2580.7 C1294.7,2578.6 1307.7,2575.6 1320.0,2572.4 C1332.3,2569.2 1343.7,2567.6 1357.0,2561.7 C1370.3,2555.8 1388.2,2544.7 1400.0,2537.0 C1411.8,2529.3 1420.5,2521.6 1428.0,2515.4 C1435.5,2509.3 1439.7,2503.2 1445.0,2500.0 C1450.3,2496.8 1457.5,2496.7 1460.0,2496.0" fill="none" stroke="#000" stroke-width="2.4"/>
<path d="M1040.0,2511.0 C1042.5,2511.7 1049.7,2511.8 1055.0,2515.0 C1060.3,2518.2 1064.5,2524.1 1072.0,2530.1 C1079.5,2536.2 1088.2,2543.7 1100.0,2551.3 C1111.8,2558.9 1129.7,2569.8 1143.0,2575.5 C1156.3,2581.2 1167.7,2582.6 1180.0,2585.6 C1192.3,2588.6 1205.3,2591.4 1217.0,2593.5 C1228.7,2595.6 1239.0,2598.0 1250.0,2598.0 C1261.0,2598.0 1271.3,2595.6 1283.0,2593.5 C1294.7,2591.4 1307.7,2588.6 1320.0,2585.6 C1332.3,2582.6 1343.7,2581.2 1357.0,2575.5 C1370.3,2569.8 1388.2,2558.9 1400.0,2551.3 C1411.8,2543.7 1420.5,2536.2 1428.0,2530.1 C1435.5,2524.1 1439.7,2518.2 1445.0,2515.0 C1450.3,2511.8 1457.5,2511.7 1460.0,2511.0" fill="none" stroke="#000" stroke-width="1.3"/>
<path d="M1040.0,2525.0 C1042.5,2525.7 1049.7,2525.6 1055.0,2529.0 C1060.3,2532.4 1064.5,2538.8 1072.0,2545.2 C1079.5,2551.8 1088.2,2559.9 1100.0,2568.0 C1111.8,2576.1 1129.7,2588.3 1143.0,2594.0 C1156.3,2599.7 1167.7,2599.7 1180.0,2602.1 C1192.3,2604.5 1205.3,2606.8 1217.0,2608.4 C1228.7,2610.1 1239.0,2612.0 1250.0,2612.0 C1261.0,2612.0 1271.3,2610.1 1283.0,2608.4 C1294.7,2606.8 1307.7,2604.5 1320.0,2602.1 C1332.3,2599.7 1343.7,2599.7 1357.0,2594.0 C1370.3,2588.3 1388.2,2576.1 1400.0,2568.0 C1411.8,2559.9 1420.5,2551.8 1428.0,2545.2 C1435.5,2538.8 1439.7,2532.4 1445.0,2529.0 C1450.3,2525.6 1457.5,2525.7 1460.0,2525.0" fill="none" stroke="#000" stroke-width="2.4"/>
<path d="M1040.0,2540.0 C1042.5,2540.7 1049.7,2540.7 1055.0,2544.0 C1060.3,2547.3 1064.5,2553.4 1072.0,2559.6 C1079.5,2565.8 1088.2,2573.6 1100.0,2581.4 C1111.8,2589.2 1129.7,2600.7 1143.0,2606.4 C1156.3,2612.1 1167.7,2612.7 1180.0,2615.4 C1192.3,2618.1 1205.3,2620.6 1217.0,2622.4 C1228.7,2624.2 1239.0,2626.4 1250.0,2626.4 C1261.0,2626.4 1271.3,2624.2 1283.0,2622.4 C1294.7,2620.6 1307.7,2618.1 1320.0,2615.4 C1332.3,2612.7 1343.7,2612.1 1357.0,2606.4 C1370.3,2600.7 1388.2,2589.2 1400.0,2581.4 C1411.8,2573.6 1420.5,2565.8 1428.0,2559.6 C1435.5,2553.4 1439.7,2547.3 1445.0,2544.0 C1450.3,2540.7 1457.5,2540.7 1460.0,2540.0" fill="none" stroke="#000" stroke-width="1.3"/>
<path d="M1040.0,2554.0 C1042.5,2554.7 1049.7,2554.6 1055.0,2558.0 C1060.3,2561.4 1064.5,2568.0 1072.0,2574.7 C1079.5,2581.4 1088.2,2589.7 1100.0,2598.1 C1111.8,2606.4 1129.7,2619.2 1143.0,2624.8 C1156.3,2630.4 1167.7,2629.8 1180.0,2631.9 C1192.3,2634.0 1205.3,2636.0 1217.0,2637.4 C1228.7,2638.9 1239.0,2640.6 1250.0,2640.6 C1261.0,2640.6 1271.3,2638.9 1283.0,2637.4 C1294.7,2636.0 1307.7,2634.0 1320.0,2631.9 C1332.3,2629.8 1343.7,2630.4 1357.0,2624.8 C1370.3,2619.2 1388.2,2606.4 1400.0,2598.1 C1411.8,2589.7 1420.5,2581.4 1428.0,2574.7 C1435.5,2568.0 1439.7,2561.4 1445.0,2558.0 C1450.3,2554.6 1457.5,2554.7 1460.0,2554.0" fill="none" stroke="#000" stroke-width="2.4"/>
<path d="M1040.0,2571.0 C1042.5,2571.7 1049.7,2571.7 1055.0,2575.0 C1060.3,2578.3 1064.5,2584.6 1072.0,2590.9 C1079.5,2597.3 1088.2,2605.3 1100.0,2613.2 C1111.8,2621.2 1129.7,2633.2 1143.0,2638.7 C1156.3,2644.2 1167.7,2643.8 1180.0,2645.9 C1192.3,2648.1 1205.3,2650.1 1217.0,2651.6 C1228.7,2653.1 1239.0,2654.8 1250.0,2654.8 C1261.0,2654.8 1271.3,2653.1 1283.0,2651.6 C1294.7,2650.1 1307.7,2648.1 1320.0,2645.9 C1332.3,2643.8 1343.7,2644.2 1357.0,2638.7 C1370.3,2633.2 1388.2,2621.2 1400.0,2613.2 C1411.8,2605.3 1420.5,2597.3 1428.0,2590.9 C1435.5,2584.6 1439.7,2578.3 1445.0,2575.0 C1450.3,2571.7 1457.5,2571.7 1460.0,2571.0" fill="none" stroke="#000" stroke-width="1.3"/>
<path d="M1040.0,2587.0 C1042.5,2587.7 1049.7,2587.6 1055.0,2591.0 C1060.3,2594.4 1064.5,2600.9 1072.0,2607.6 C1079.5,2614.2 1088.2,2622.4 1100.0,2630.7 C1111.8,2639.0 1129.7,2652.0 1143.0,2657.2 C1156.3,2662.4 1167.7,2660.6 1180.0,2662.1 C1192.3,2663.5 1205.3,2664.9 1217.0,2665.8 C1228.7,2666.8 1239.0,2668.0 1250.0,2668.0 C1261.0,2668.0 1271.3,2666.8 1283.0,2665.8 C1294.7,2664.9 1307.7,2663.5 1320.0,2662.1 C1332.3,2660.6 1343.7,2662.4 1357.0,2657.2 C1370.3,2652.0 1388.2,2639.0 1400.0,2630.7 C1411.8,2622.4 1420.5,2614.2 1428.0,2607.6 C1435.5,2600.9 1439.7,2594.4 1445.0,2591.0 C1450.3,2587.6 1457.5,2587.7 1460.0,2587.0" fill="none" stroke="#000" stroke-width="2.4"/>
<path d="M1043.0,2592 q8,-2 20,4 l12,8" fill="none" stroke="#000" stroke-width="2.2"/>
<path d="M1457.0,2592 q-8,-2 -20,4 l-12,8" fill="none" stroke="#000" stroke-width="2.2"/>
<path d="M1043.0,2607 q8,-2 20,4 l12,8" fill="none" stroke="#000" stroke-width="2.2"/>
<path d="M1457.0,2607 q-8,-2 -20,4 l-12,8" fill="none" stroke="#000" stroke-width="2.2"/>
<path d="M1043.0,2622 q8,-2 20,4 l12,8" fill="none" stroke="#000" stroke-width="2.2"/>
<path d="M1457.0,2622 q-8,-2 -20,4 l-12,8" fill="none" stroke="#000" stroke-width="2.2"/>
<line x1="1106.3" y1="2547" x2="1106.3" y2="2690.2" stroke="#000" stroke-width="1.4"/>
<line x1="1393.7" y1="2547" x2="1393.7" y2="2690.2" stroke="#000" stroke-width="1.4"/>
<line x1="1112.4" y1="2547" x2="1112.4" y2="2693.2" stroke="#000" stroke-width="1.4"/>
<line x1="1387.6" y1="2547" x2="1387.6" y2="2693.2" stroke="#000" stroke-width="1.4"/>
<line x1="1122.4" y1="2547" x2="1122.4" y2="2698.2" stroke="#000" stroke-width="2.4"/>
<line x1="1377.6" y1="2547" x2="1377.6" y2="2698.2" stroke="#000" stroke-width="2.4"/>
<line x1="1124.7" y1="2547" x2="1124.7" y2="2699.3" stroke="#000" stroke-width="1.4"/>
<line x1="1375.3" y1="2547" x2="1375.3" y2="2699.3" stroke="#000" stroke-width="1.4"/>
<line x1="1138.6" y1="2547" x2="1138.6" y2="2706.3" stroke="#000" stroke-width="2.4"/>
<line x1="1361.4" y1="2547" x2="1361.4" y2="2706.3" stroke="#000" stroke-width="2.4"/>
<path d="M1239,2434 L1241,2683 M1261,2434 L1259,2683 M1243,2434 L1244.5,2683 M1257,2434 L1255.5,2683" fill="none" stroke="#000" stroke-width="1.8"/>
<line x1="1241" y1="2575" x2="1259" y2="2575" stroke="#000" stroke-width="1.6"/>
<line x1="1241" y1="2600" x2="1259" y2="2600" stroke="#000" stroke-width="1.6"/>
<line x1="1241" y1="2625" x2="1259" y2="2625" stroke="#000" stroke-width="1.6"/>
<line x1="1241" y1="2650" x2="1259" y2="2650" stroke="#000" stroke-width="1.6"/>
<ellipse cx="1250" cy="2682" rx="10.5" ry="5.5" fill="#fff" stroke="#000" stroke-width="2"/>
<ellipse cx="1250" cy="2681" rx="5.5" ry="2.8" fill="none" stroke="#000" stroke-width="1.4"/>
<path d="M1226,2676 Q1240,2690 1250,2690 Q1260,2690 1274,2676" fill="none" stroke="#000" stroke-width="1.6"/>
<path d="M1236,2690 Q1240,2712 1230,2737 Q1246,2725 1250,2700 Q1254,2725 1270,2737 Q1260,2712 1264,2690" fill="none" stroke="#000" stroke-width="1.6"/>
<path d="M1224.0,2690.0 q8,2 12,10 M1224.0,2693.0 l3,-3" fill="none" stroke="#000" stroke-width="2"/>
<path d="M1224.0,2704.0 q8,2 12,10 M1224.0,2707.0 l3,-3" fill="none" stroke="#000" stroke-width="2"/>
<path d="M1224.0,2718.0 q8,2 12,10 M1224.0,2721.0 l3,-3" fill="none" stroke="#000" stroke-width="2"/>
<path d="M1276.0,2690.0 q-8,2 -12,10 M1276.0,2693.0 l-3,-3" fill="none" stroke="#000" stroke-width="2"/>
<path d="M1276.0,2704.0 q-8,2 -12,10 M1276.0,2707.0 l-3,-3" fill="none" stroke="#000" stroke-width="2"/>
<path d="M1276.0,2718.0 q-8,2 -12,10 M1276.0,2721.0 l-3,-3" fill="none" stroke="#000" stroke-width="2"/>
<path d="M1052.9,2505.5 C1054.7,2496.6 1058.2,2467.6 1063.5,2452.2 C1068.8,2436.8 1077.8,2423.2 1084.9,2413.1 C1092.0,2403.0 1099.1,2396.4 1106.2,2391.7 C1113.3,2386.9 1124.0,2385.8 1127.5,2384.6" fill="none" stroke="#000" stroke-width="1.6"/>
<path d="M1074.2,2505.5 C1074.5,2498.4 1073.6,2475.8 1076.0,2462.8 C1078.4,2449.8 1083.7,2438.0 1088.4,2427.3 C1093.1,2416.6 1101.7,2403.6 1104.4,2398.8" fill="none" stroke="#000" stroke-width="1.4"/>
<path d="M1447.5,2502.0 C1445.7,2490.7 1441.0,2450.4 1436.8,2434.4 C1432.6,2418.4 1429.1,2413.7 1422.6,2406.0 C1416.1,2398.3 1405.6,2391.9 1397.7,2388.2 C1389.8,2384.5 1378.8,2384.7 1375.0,2384.0" fill="none" stroke="#000" stroke-width="1.6"/>
<path d="M1426.1,2505.5 C1425.5,2497.2 1425.5,2469.9 1422.6,2455.7 C1419.6,2441.5 1413.2,2430.3 1408.4,2420.2 C1403.7,2410.1 1396.5,2399.5 1394.1,2395.3" fill="none" stroke="#000" stroke-width="1.4"/>
<path d="M1153.0,2396.0 C1160.8,2394.2 1183.8,2387.8 1200.0,2385.0 C1216.2,2382.2 1233.3,2379.0 1250.0,2379.0 C1266.7,2379.0 1283.8,2382.2 1300.0,2385.0 C1316.2,2387.8 1339.2,2394.2 1347.0,2396.0" fill="none" stroke="#000" stroke-width="2"/>
<path d="M1127.5,2395.0 C1129.6,2397.1 1134.6,2400.3 1140.0,2407.8 C1145.4,2415.3 1153.3,2428.0 1160.0,2440.0 C1166.7,2452.0 1173.7,2465.0 1180.4,2480.0 C1187.1,2495.0 1193.4,2512.2 1200.0,2530.0 C1206.6,2547.8 1216.7,2577.5 1220.0,2587.0" fill="none" stroke="#000" stroke-width="2.6"/>
<path d="M1141.7,2398.8 C1144.8,2403.2 1152.8,2413.1 1160.0,2425.0 C1167.2,2436.9 1177.5,2453.3 1185.0,2470.0 C1192.5,2486.7 1197.4,2506.1 1205.0,2525.0 C1212.6,2543.9 1226.3,2573.9 1230.6,2583.7" fill="none" stroke="#000" stroke-width="1.2"/>
<path d="M1372.8,2398.8 C1370.7,2400.5 1365.5,2402.1 1360.0,2409.0 C1354.5,2415.9 1346.7,2428.2 1340.0,2440.0 C1333.3,2451.8 1326.5,2465.0 1319.8,2480.0 C1313.1,2495.0 1306.6,2512.2 1300.0,2530.0 C1293.4,2547.8 1283.3,2577.5 1280.0,2587.0" fill="none" stroke="#000" stroke-width="2.6"/>
<path d="M1358.0,2401.0 C1355.0,2405.0 1347.2,2413.5 1340.0,2425.0 C1332.8,2436.5 1322.5,2453.3 1315.0,2470.0 C1307.5,2486.7 1302.6,2506.1 1295.0,2525.0 C1287.4,2543.9 1273.7,2573.9 1269.4,2583.7" fill="none" stroke="#000" stroke-width="1.2"/>
<path d="M1187,2422 L1205,2560 M1205,2428.6 L1222,2560 M1313,2422 L1295,2560 M1295,2428.6 L1278,2560" fill="none" stroke="#000" stroke-width="1.4"/>
<path d="M1188.0,2221.0 C1190.8,2230.8 1198.3,2259.3 1205.0,2280.0 C1211.7,2300.7 1220.4,2323.5 1228.0,2345.0 C1235.6,2366.5 1247.0,2398.3 1250.8,2409.0" fill="none" stroke="#000" stroke-width="1.4"/>
<path d="M1312.4,2222.9 C1309.5,2232.4 1301.7,2259.7 1295.0,2280.0 C1288.3,2300.3 1279.4,2323.5 1272.0,2345.0 C1264.6,2366.5 1254.3,2398.3 1250.8,2409.0" fill="none" stroke="#000" stroke-width="1.4"/>
<path d="M1205.7,2219.3 C1208.1,2229.4 1215.0,2259.1 1220.0,2280.0 C1225.0,2300.9 1230.9,2324.3 1236.0,2345.0 C1241.1,2365.7 1248.3,2394.2 1250.8,2404.0" fill="none" stroke="#000" stroke-width="1.2"/>
<path d="M1294.6,2217.5 C1292.2,2227.9 1285.1,2258.8 1280.0,2280.0 C1274.9,2301.2 1268.9,2324.3 1264.0,2345.0 C1259.1,2365.7 1253.0,2394.2 1250.8,2404.0" fill="none" stroke="#000" stroke-width="1.2"/>
<path d="M1237.7,2196 Q1244,2260 1250.2,2287 Q1256,2260 1262.6,2196" fill="none" stroke="#000" stroke-width="1.6"/>
<path d="M1231,2379 L1241,2379 M1259,2379 L1269,2379" stroke="#000" stroke-width="1.6"/>
<path d="M1049.3,2292.2 C1049.9,2290.4 1049.9,2285.7 1052.9,2281.5 C1055.9,2277.3 1061.9,2272.2 1067.1,2267.3 C1072.3,2262.4 1076.5,2257.1 1084.0,2252.0 C1091.5,2246.9 1101.6,2242.2 1112.4,2237.0 C1123.2,2231.8 1134.6,2226.4 1148.8,2221.1 C1163.0,2215.8 1183.2,2209.3 1197.7,2204.9 C1212.2,2200.5 1227.2,2196.6 1236.0,2194.4 C1244.8,2192.2 1245.2,2192.3 1250.2,2192.0 C1255.2,2191.7 1258.2,2191.4 1266.2,2192.7 C1274.2,2194.0 1285.1,2195.7 1298.1,2199.8 C1311.1,2203.9 1327.8,2209.8 1344.4,2217.5 C1361.0,2225.2 1382.9,2236.5 1397.7,2246.0 C1412.5,2255.5 1424.9,2266.7 1433.2,2274.4 C1441.5,2282.1 1444.1,2287.4 1447.4,2292.2 C1450.7,2296.9 1451.9,2301.1 1452.8,2302.9" fill="none" stroke="#000" stroke-width="2.4"/>
<path d="M1067.0,2293.7 C1069.1,2291.8 1074.3,2286.7 1079.7,2282.4 C1085.1,2278.2 1090.6,2274.8 1099.6,2268.2 C1108.6,2261.6 1119.7,2250.0 1133.7,2242.6 C1147.7,2235.2 1171.7,2228.5 1183.5,2224.0 C1195.3,2219.5 1195.8,2218.6 1204.8,2215.5 C1213.8,2212.4 1227.9,2207.2 1237.5,2205.6 C1247.1,2203.9 1252.9,2203.9 1262.5,2205.6 C1272.1,2207.2 1286.0,2212.4 1295.0,2215.5 C1304.0,2218.6 1304.7,2219.5 1316.5,2224.0 C1328.3,2228.5 1352.1,2235.2 1366.0,2242.6 C1379.9,2250.0 1391.0,2261.3 1400.0,2268.2 C1409.0,2275.1 1414.5,2279.0 1420.0,2284.0 C1425.5,2289.0 1430.8,2295.7 1433.0,2298.0" fill="none" stroke="#000" stroke-width="2.4"/>
<path d="M1067.0,2293.7 C1067.8,2298.1 1069.8,2311.9 1072.0,2320.0 C1074.2,2328.1 1076.2,2334.2 1080.0,2342.0 C1083.8,2349.8 1089.5,2359.9 1095.0,2367.0 C1100.5,2374.1 1104.3,2379.6 1113.3,2384.6 C1122.3,2389.6 1135.7,2393.1 1148.8,2397.0 C1161.9,2400.9 1177.0,2403.5 1192.0,2407.8 C1207.0,2412.1 1227.5,2420.5 1239.0,2423.0 C1250.5,2425.5 1249.5,2425.5 1261.0,2423.0 C1272.5,2420.5 1291.2,2413.2 1308.0,2408.0 C1324.8,2402.8 1347.0,2398.0 1362.0,2392.0 C1377.0,2386.0 1387.0,2379.8 1397.7,2372.0 C1408.4,2364.2 1419.0,2353.7 1426.0,2345.0 C1433.0,2336.3 1435.5,2326.5 1440.0,2320.0 C1444.5,2313.5 1450.7,2308.3 1452.8,2306.0" fill="none" stroke="#000" stroke-width="2.4"/>
<path d="M1049.3,2296.0 C1050.8,2300.3 1054.2,2312.7 1058.0,2322.0 C1061.8,2331.3 1066.7,2342.7 1072.0,2352.0 C1077.3,2361.3 1083.7,2370.8 1090.0,2378.0 C1096.3,2385.2 1100.0,2389.8 1110.0,2395.0 C1120.0,2400.2 1134.2,2403.2 1150.0,2409.0 C1165.8,2414.8 1190.2,2425.2 1205.0,2430.0 C1219.8,2434.8 1229.7,2436.4 1239.0,2437.7 C1248.3,2439.0 1251.7,2439.0 1261.0,2437.7 C1270.3,2436.4 1280.2,2434.8 1295.0,2430.0 C1309.8,2425.2 1334.2,2414.8 1350.0,2409.0 C1365.8,2403.2 1380.0,2400.2 1390.0,2395.0 C1400.0,2389.8 1403.7,2385.2 1410.0,2378.0 C1416.3,2370.8 1422.7,2360.0 1428.0,2352.0 C1433.3,2344.0 1437.9,2337.0 1442.0,2330.0 C1446.1,2323.0 1451.0,2313.3 1452.8,2310.0" fill="none" stroke="#000" stroke-width="2.2"/>
<rect x="1240.4" y="2421" width="19.5" height="13" fill="#fff" stroke="#000" stroke-width="2.4"/>
<path d="M1245,2424 L1255,2424 L1252,2428 L1255,2432 L1245,2432 L1248,2428 Z" fill="none" stroke="#000" stroke-width="1.4"/>
<path d="M1248,2421 L1250.5,2414 L1253,2421" fill="none" stroke="#000" stroke-width="1.6"/>
<path d="M1241,2190 L1241,2183 M1259,2190 L1259,2183 M1244,2186 L1256,2186 L1256,2190" fill="none" stroke="#000" stroke-width="1.6"/>
<rect x="1037.5" y="2299" width="10" height="10" fill="#000"/><rect x="1041" y="2302.5" width="3.5" height="3.5" fill="#fff"/>
<path d="M1025,2325 L1040,2323 L1062,2340 L1077,2348 L1077,2360 L1055,2361 L1040,2348 Q1027,2340 1025,2330 Z" fill="#fff" stroke="#000" stroke-width="1.8"/>
<path d="M1040,2323 Q1050,2340 1063,2355 M1045,2323 Q1058,2338 1070,2350" fill="none" stroke="#000" stroke-width="1.2"/>
<path d="M1041,2345 L1052,2358" stroke="#000" stroke-width="3"/>
<path d="M1050,2290 L1062,2283 L1066,2295" fill="none" stroke="#000" stroke-width="1.6"/>
<path d="M1445,2290 L1455,2294 L1457,2310 L1448,2313 Z" fill="#fff" stroke="#000" stroke-width="1.6"/>
<path d="M1452,2360 l3,0 M1448,2395 l4,0 M1451,2470 l6,0 M1453,2555 l6,0" stroke="#000" stroke-width="3"/>
<path d="M1005.9,1202.4 L1020.3,1193.4 L1021.0,1190.5 L1018.1,1189.6 L1003.1,1197.6Z" fill="#111" stroke="#000" stroke-width="1.4"/>
<ellipse cx="1004.5" cy="1200.0" rx="3.3" ry="5.5" transform="rotate(-30.0 1004.5 1200.0)" fill="#222" stroke="#000" stroke-width="1.6"/>
<ellipse cx="1003.7" cy="1200.0" rx="1.6" ry="3.6" transform="rotate(-30.0 1004.5 1200.0)" fill="none" stroke="#fff" stroke-width="0.8"/>
<path d="M1016,1537 L1027,1532 Q1031,1533 1030,1538 L1020,1545 Z" fill="#fff" stroke="#000" stroke-width="1.6"/>
<ellipse cx="1015" cy="1541" rx="4.2" ry="6.5" transform="rotate(-25 1015 1541)" fill="#222" stroke="#000" stroke-width="1.6"/>
<rect x="857.9" y="1651.0" width="7.2" height="20" fill="#fff" stroke="#000" stroke-width="1.8"/>
<line x1="861.5" y1="1654.0" x2="861.5" y2="1670.0" stroke="#000" stroke-width="1"/>
<ellipse cx="861.5" cy="1651.0" rx="12.6" ry="6.5" fill="#fff" stroke="#000" stroke-width="1.8"/>
<ellipse cx="861.5" cy="1648.0" rx="13.3" ry="7.6" fill="#111" stroke="#000" stroke-width="1.6"/>
<path d="M851.0,1652.0 Q861.5,1657.5 872.0,1652.0" fill="none" stroke="#fff" stroke-width="1.3"/>
<path d="M855.5,1643.5 h4 M857.5,1647.0 l1.5,1.5 M862.5,1648.0 h1.2 M865.5,1649.5 h1.2 M853.5,1647.0 v2" fill="none" stroke="#fff" stroke-width="1"/>
<rect x="1689.7" y="1653.0" width="7.2" height="20" fill="#fff" stroke="#000" stroke-width="1.8"/>
<line x1="1693.3" y1="1656.0" x2="1693.3" y2="1672.0" stroke="#000" stroke-width="1"/>
<ellipse cx="1693.3" cy="1653.0" rx="12.6" ry="6.5" fill="#fff" stroke="#000" stroke-width="1.8"/>
<ellipse cx="1693.3" cy="1650.0" rx="13.3" ry="7.6" fill="#111" stroke="#000" stroke-width="1.6"/>
<path d="M1682.8,1654.0 Q1693.3,1659.5 1703.8,1654.0" fill="none" stroke="#fff" stroke-width="1.3"/>
<path d="M1687.3,1645.5 h4 M1689.3,1649.0 l1.5,1.5 M1694.3,1650.0 h1.2 M1697.3,1651.5 h1.2 M1685.3,1649.0 v2" fill="none" stroke="#fff" stroke-width="1"/>
<rect x="715.0" y="2231.5" width="7.2" height="20" fill="#fff" stroke="#000" stroke-width="1.8"/>
<line x1="718.6" y1="2234.5" x2="718.6" y2="2250.5" stroke="#000" stroke-width="1"/>
<ellipse cx="718.6" cy="2231.5" rx="12.6" ry="6.5" fill="#fff" stroke="#000" stroke-width="1.8"/>
<ellipse cx="718.6" cy="2228.5" rx="13.3" ry="7.6" fill="#111" stroke="#000" stroke-width="1.6"/>
<path d="M708.1,2232.5 Q718.6,2238.0 729.1,2232.5" fill="none" stroke="#fff" stroke-width="1.3"/>
<path d="M712.6,2224.0 h4 M714.6,2227.5 l1.5,1.5 M719.6,2228.5 h1.2 M722.6,2230.0 h1.2 M710.6,2227.5 v2" fill="none" stroke="#fff" stroke-width="1"/>
<rect x="1861.0" y="2235.3" width="7.2" height="20" fill="#fff" stroke="#000" stroke-width="1.8"/>
<line x1="1864.6" y1="2238.3" x2="1864.6" y2="2254.3" stroke="#000" stroke-width="1"/>
<ellipse cx="1864.6" cy="2235.3" rx="12.6" ry="6.5" fill="#fff" stroke="#000" stroke-width="1.8"/>
<ellipse cx="1864.6" cy="2232.3" rx="13.3" ry="7.6" fill="#111" stroke="#000" stroke-width="1.6"/>
<path d="M1854.1,2236.3 Q1864.6,2241.8 1875.1,2236.3" fill="none" stroke="#fff" stroke-width="1.3"/>
<path d="M1858.6,2227.8 h4 M1860.6,2231.3 l1.5,1.5 M1865.6,2232.3 h1.2 M1868.6,2233.8 h1.2 M1856.6,2231.3 v2" fill="none" stroke="#fff" stroke-width="1"/>
<path d="M852.8,1719.5 Q853.0,1712.5 860.0,1709.5 L862.5,1710.5 L862.0,1713.5 Q857.0,1715.5 857.2,1719.5" fill="#fff" stroke="#000" stroke-width="1.6"/>
<line x1="852.8" y1="1719.5" x2="853.0" y2="2007.0" stroke="#000" stroke-width="1.6"/>
<line x1="857.2" y1="1719.5" x2="857.0" y2="2007.0" stroke="#000" stroke-width="1.6"/>
<path d="M852.5,2007.0 L857.5,2007.0 L859.0,2018.0 L851.0,2018.0 Z" fill="#fff" stroke="#000" stroke-width="1.6"/>
<path d="M842.8,2023.0 L841.0,2083.0 A14.0,4.5 0 0 0 869.0,2083.0 L867.2,2023.0 A12.2,4.5 0 0 0 842.8,2023.0 Z" fill="#fff" stroke="#000" stroke-width="1.8"/>
<path d="M842.8,2023.0 A12.2,4.5 0 0 0 867.2,2023.0" fill="none" stroke="#000" stroke-width="1.6"/>
<path d="M842.0,2049.0 A13.0,4.5 0 0 0 868.0,2049.0" fill="none" stroke="#000" stroke-width="2"/>
<path d="M842.3,2046.0 L842.0,2050.0 M867.7,2046.0 L868.0,2050.0" fill="none" stroke="#000" stroke-width="1.4"/>
<path d="M1692.6,1721.5 Q1692.8,1714.5 1699.8,1711.5 L1702.3,1712.5 L1701.8,1715.5 Q1696.8,1717.5 1697.0,1721.5" fill="#fff" stroke="#000" stroke-width="1.6"/>
<line x1="1692.6" y1="1721.5" x2="1692.8" y2="2016.0" stroke="#000" stroke-width="1.6"/>
<line x1="1697.0" y1="1721.5" x2="1696.8" y2="2016.0" stroke="#000" stroke-width="1.6"/>
<path d="M1692.3,2016.0 L1697.3,2016.0 L1698.8,2027.0 L1690.8,2027.0 Z" fill="#fff" stroke="#000" stroke-width="1.6"/>
<path d="M1682.3,2032.0 L1680.5,2092.0 A14.2,4.5 0 0 0 1709.0,2092.0 L1707.3,2032.0 A12.5,4.5 0 0 0 1682.3,2032.0 Z" fill="#fff" stroke="#000" stroke-width="1.8"/>
<path d="M1682.3,2032.0 A12.5,4.5 0 0 0 1707.3,2032.0" fill="none" stroke="#000" stroke-width="1.6"/>
<path d="M1681.5,2058.0 A13.3,4.5 0 0 0 1708.1,2058.0" fill="none" stroke="#000" stroke-width="2"/>
<path d="M1681.8,2055.0 L1681.5,2059.0 M1707.8,2055.0 L1708.1,2059.0" fill="none" stroke="#000" stroke-width="1.4"/>
<path d="M715.8,2309.5 Q716.0,2302.5 723.0,2299.5 L725.5,2300.5 L725.0,2303.5 Q720.0,2305.5 720.2,2309.5" fill="#fff" stroke="#000" stroke-width="1.6"/>
<line x1="715.8" y1="2309.5" x2="716.0" y2="2607.0" stroke="#000" stroke-width="1.6"/>
<line x1="720.2" y1="2309.5" x2="720.0" y2="2607.0" stroke="#000" stroke-width="1.6"/>
<path d="M715.5,2607.0 L720.5,2607.0 L722.0,2618.0 L714.0,2618.0 Z" fill="#fff" stroke="#000" stroke-width="1.6"/>
<path d="M706.0,2623.0 L704.5,2683.0 A13.5,4.5 0 0 0 731.5,2683.0 L730.0,2623.0 A12.0,4.5 0 0 0 706.0,2623.0 Z" fill="#fff" stroke="#000" stroke-width="1.8"/>
<path d="M706.0,2623.0 A12.0,4.5 0 0 0 730.0,2623.0" fill="none" stroke="#000" stroke-width="1.6"/>
<path d="M705.3,2649.0 A12.7,4.5 0 0 0 730.7,2649.0" fill="none" stroke="#000" stroke-width="2"/>
<path d="M705.6,2646.0 L705.3,2650.0 M730.4,2646.0 L730.7,2650.0" fill="none" stroke="#000" stroke-width="1.4"/>
<path d="M1861.6,2314.0 Q1861.8,2307.0 1868.8,2304.0 L1871.3,2305.0 L1870.8,2308.0 Q1865.8,2310.0 1866.0,2314.0" fill="#fff" stroke="#000" stroke-width="1.6"/>
<line x1="1861.6" y1="2314.0" x2="1861.8" y2="2609.0" stroke="#000" stroke-width="1.6"/>
<line x1="1866.0" y1="2314.0" x2="1865.8" y2="2609.0" stroke="#000" stroke-width="1.6"/>
<path d="M1861.3,2609.0 L1866.3,2609.0 L1867.8,2620.0 L1859.8,2620.0 Z" fill="#fff" stroke="#000" stroke-width="1.6"/>
<path d="M1851.3,2625.0 L1849.8,2685.0 A14.0,4.5 0 0 0 1877.8,2685.0 L1876.3,2625.0 A12.5,4.5 0 0 0 1851.3,2625.0 Z" fill="#fff" stroke="#000" stroke-width="1.8"/>
<path d="M1851.3,2625.0 A12.5,4.5 0 0 0 1876.3,2625.0" fill="none" stroke="#000" stroke-width="1.6"/>
<path d="M1850.6,2651.0 A13.2,4.5 0 0 0 1877.0,2651.0" fill="none" stroke="#000" stroke-width="2"/>
<path d="M1850.9,2648.0 L1850.6,2652.0 M1876.7,2648.0 L1877.0,2652.0" fill="none" stroke="#000" stroke-width="1.4"/>
<ellipse cx="1242.5" cy="1706.3" rx="16.3" ry="10" fill="none" stroke="#000" stroke-width="2" />
<ellipse cx="1242.5" cy="1746" rx="4" ry="3.4" fill="#000"/>
<line x1="1242.5" y1="1748" x2="1242.5" y2="1754" stroke="#000" stroke-width="2.6"/>
<path d="M1323.5,1757 L1323.5,1774 A7.5,3 0 0 0 1338.5,1774 L1338.5,1757 Z" fill="#fff" stroke="#000" stroke-width="1.8"/>
<ellipse cx="1331" cy="1757" rx="7.5" ry="3.5" fill="#fff" stroke="#000" stroke-width="1.8"/>
<rect x="1327" y="1760" width="3" height="12" fill="#000"/><rect x="1332" y="1761" width="2" height="10" fill="#444"/>
<ellipse cx="1117" cy="1968.5" rx="3.6" ry="3" fill="#000"/>
<line x1="1117" y1="1969" x2="1117.5" y2="1985.5" stroke="#000" stroke-width="3.2"/>
<path d="M1226,2104 L1232,2097 L1252,2095 L1263,2101 L1264,2110 L1258,2117 L1237,2119 L1228,2113 Z" fill="#fff" stroke="#000" stroke-width="2"/>
<ellipse cx="1245" cy="2103" rx="11" ry="5.5" fill="#111" stroke="#000" stroke-width="1.5"/>
<ellipse cx="1246" cy="2103" rx="5" ry="2.4" fill="#fff"/>
<path d="M1228,2108 Q1245,2114 1263,2106" fill="none" stroke="#000" stroke-width="1.6"/>
<ellipse cx="1240.6" cy="2149.3" rx="25.5" ry="14.5" fill="none" stroke="#000" stroke-width="2" />
<path d="M1226,2149 Q1228,2141 1238,2140 Q1250,2139 1254,2146 Q1255,2154 1246,2157 Q1234,2159 1228,2155 Z" fill="none" stroke="#000" stroke-width="2"/>
<path d="M1220,2155 Q1240,2166 1262,2155" fill="none" stroke="#000" stroke-width="1.2"/>
<path d="M1162,2821 L1162,2833 A27.4,10 0 0 0 1216.8,2833 L1216.8,2821 Z" fill="#fff" stroke="#000" stroke-width="2"/>
<path d="M1162,2827 A27.4,9 0 0 0 1216.8,2827" fill="none" stroke="#000" stroke-width="1.6"/>
<path d="M1165.5,2795 L1165.5,2820 A24,9 0 0 0 1213.5,2820 L1213.5,2795 Z" fill="#fff" stroke="#000" stroke-width="2"/>
<path d="M1165.5,2807 A24,8 0 0 0 1213.5,2807" fill="none" stroke="#000" stroke-width="1.4"/>
<ellipse cx="1189.4" cy="2795" rx="24" ry="10" fill="#fff" stroke="#000" stroke-width="2" />
<path d="M1178,2793 L1178,2799 A11.5,5.5 0 0 0 1201,2799 L1201,2793" fill="#fff" stroke="#000" stroke-width="2.2"/>
<ellipse cx="1189.5" cy="2793" rx="11.5" ry="5.5" fill="#fff" stroke="#000" stroke-width="2" />
<path d="M1269.5,2822 L1269.5,2827 A17.7,10.4 0 0 0 1305,2827 L1305,2822" fill="#fff" stroke="#000" stroke-width="1.8"/>
<ellipse cx="1287.2" cy="2822" rx="17.7" ry="10.4" fill="#fff" stroke="#000" stroke-width="2" />
<ellipse cx="1287.5" cy="2823" rx="13" ry="6.8" fill="none" stroke="#000" stroke-width="1.8" />
<path d="M1532,2702 Q1528,2696 1533,2695 Q1537,2698 1536,2706 Q1543,2710 1541,2720 Q1539,2727 1534,2724 Q1530,2716 1535,2708" fill="none" stroke="#000" stroke-width="2.6"/>
<line x1="1525" y1="2709" x2="1542" y2="2706" stroke="#000" stroke-width="2"/>
<path d="M1485.3,2173 L1506.7,2185" fill="none" stroke="#000" stroke-width="1.6"/>
<path d="M1506.7,2184 L1515,2182.5 L1540,2196 L1531.3,2198 Z" fill="#fff" stroke="#000" stroke-width="1.8"/>
<path d="M1506.7,2184 L1506.7,2470.5 L1531.3,2482.8 L1539.9,2480 L1540,2196 M1531.3,2198 L1531.3,2482.8" fill="none" stroke="#000" stroke-width="1.8"/>
<path d="M1506.7,2208 L1531.3,2222 L1540,2220" fill="none" stroke="#000" stroke-width="1.4"/>
<path d="M1637,2322 L1588,2680" fill="none" stroke="#000" stroke-width="13"/>
<path d="M1640,2322 L1592,2680" fill="none" stroke="#fff" stroke-width="0.8" stroke-dasharray="30 40"/>
<path d="M1612.5,2447.0 Q1605.5,2442.0 1601.5,2440.0" fill="none" stroke="#000" stroke-width="2.4"/>
<path d="M1612.5,2451.0 L1627.5,2451.0" fill="none" stroke="#000" stroke-width="1.4"/>
<path d="M1601.9,2524.0 Q1594.9,2519.0 1590.9,2517.0" fill="none" stroke="#000" stroke-width="2.4"/>
<path d="M1601.9,2528.0 L1616.9,2528.0" fill="none" stroke="#000" stroke-width="1.4"/>
<path d="M1591.4,2601.0 Q1584.4,2596.0 1580.4,2594.0" fill="none" stroke="#000" stroke-width="2.4"/>
<path d="M1591.4,2605.0 L1606.4,2605.0" fill="none" stroke="#000" stroke-width="1.4"/>
<path d="M1630,2300 L1645,2296 L1649,2318 L1633,2323 Z" fill="#fff" stroke="#000" stroke-width="1.8"/>
<path d="M1630.0,2303.0 Q1640.0,2300.0 1647.0,2299.0" fill="none" stroke="#000" stroke-width="1.6"/>
<path d="M1631.0,2309.0 Q1640.0,2306.0 1647.0,2305.0" fill="none" stroke="#000" stroke-width="1.6"/>
<path d="M1632.0,2315.0 Q1640.0,2312.0 1647.0,2311.0" fill="none" stroke="#000" stroke-width="1.6"/>
<ellipse cx="1633" cy="2298" rx="6" ry="5" transform="rotate(-20 1633 2298)" fill="#fff" stroke="#000" stroke-width="2"/>
<path d="M1582,2676 L1596,2678 Q1598,2693 1585,2697 L1569,2698 L1568,2685 Q1580,2686 1582,2676 Z" fill="#fff" stroke="#000" stroke-width="1.8"/>
<ellipse cx="1569" cy="2691.5" rx="3" ry="6.5" fill="#fff" stroke="#000" stroke-width="1.8"/>
<path d="M1583,2678 L1597,2680" stroke="#000" stroke-width="1.4"/>
<path d="M1128.9,1866.6 C1126.9,1858.2 1129.4,1849.2 1130.4,1843.0 C1131.4,1836.8 1130.4,1834.3 1134.8,1829.6 C1139.2,1824.9 1149.6,1819.0 1157.0,1814.8 C1164.4,1810.6 1171.8,1807.1 1179.2,1804.4 C1186.6,1801.7 1196.4,1800.9 1201.5,1798.5 C1206.6,1796.1 1205.9,1793.2 1210.0,1790.0 C1214.1,1786.8 1220.2,1782.5 1226.0,1779.0 C1231.8,1775.5 1238.7,1769.0 1245.0,1769.0 C1251.3,1769.0 1256.5,1775.6 1264.0,1779.0 C1271.5,1782.4 1282.2,1786.6 1290.3,1789.6 C1298.4,1792.6 1306.3,1794.5 1312.5,1797.0 C1318.7,1799.5 1323.6,1800.7 1327.3,1804.4 C1331.0,1808.1 1331.1,1814.8 1334.8,1819.2 C1338.5,1823.6 1345.7,1826.5 1349.6,1831.0 C1353.5,1835.5 1356.7,1840.0 1358.4,1845.9 C1360.1,1851.8 1360.7,1859.9 1360.0,1866.6 C1359.3,1873.3 1359.5,1878.5 1354.0,1885.9 C1348.5,1893.3 1339.1,1904.3 1327.3,1911.0 C1315.5,1917.7 1297.8,1922.7 1283.0,1925.9 C1268.2,1929.1 1253.3,1930.8 1238.5,1930.3 C1223.7,1929.8 1206.3,1926.2 1194.0,1923.0 C1181.7,1919.8 1173.0,1916.0 1164.4,1911.0 C1155.8,1906.0 1148.1,1900.7 1142.2,1893.3 C1136.3,1885.9 1130.9,1875.0 1128.9,1866.6Z" fill="#fff" stroke="#000" stroke-width="0"/>
<path d="M1128.9,1866.6 C1131.1,1871.0 1136.3,1885.9 1142.2,1893.3 C1148.1,1900.7 1155.8,1906.0 1164.4,1911.0 C1173.0,1916.0 1181.7,1919.8 1194.0,1923.0 C1206.3,1926.2 1223.7,1929.8 1238.5,1930.3 C1253.3,1930.8 1268.2,1929.1 1283.0,1925.9 C1297.8,1922.7 1315.5,1917.7 1327.3,1911.0 C1339.1,1904.3 1348.5,1893.3 1354.0,1885.9 C1359.5,1878.5 1359.0,1869.8 1360.0,1866.6" fill="none" stroke="#000" stroke-width="2.2"/>
<path d="M1142.2,1890.3 C1145.9,1893.2 1155.8,1903.0 1164.4,1908.0 C1173.0,1913.0 1181.7,1916.8 1194.0,1920.0 C1206.3,1923.2 1223.7,1926.8 1238.5,1927.3 C1253.3,1927.8 1268.2,1926.1 1283.0,1922.9 C1297.8,1919.7 1315.5,1914.7 1327.3,1908.0 C1339.1,1901.3 1349.5,1887.1 1354.0,1882.9" fill="none" stroke="#000" stroke-width="1.2"/>
<path d="M1142.2,1887.3 C1145.9,1890.2 1155.8,1900.0 1164.4,1905.0 C1173.0,1910.0 1181.7,1913.8 1194.0,1917.0 C1206.3,1920.2 1223.7,1923.8 1238.5,1924.3 C1253.3,1924.8 1268.2,1923.1 1283.0,1919.9 C1297.8,1916.7 1315.5,1911.7 1327.3,1905.0 C1339.1,1898.3 1349.5,1884.1 1354.0,1879.9" fill="none" stroke="#000" stroke-width="1.2"/>
<path d="M1131.0,1866.6 C1134.1,1870.5 1142.3,1883.7 1149.6,1890.3 C1156.9,1896.9 1164.9,1901.5 1175.0,1906.0 C1185.1,1910.5 1199.4,1914.7 1210.0,1917.0 C1220.6,1919.3 1227.7,1920.0 1238.5,1920.0 C1249.3,1920.0 1262.2,1919.5 1275.0,1917.0 C1287.8,1914.5 1303.3,1910.3 1315.0,1905.0 C1326.7,1899.7 1338.0,1891.4 1345.0,1885.0 C1352.0,1878.6 1355.0,1869.7 1357.0,1866.6" fill="none" stroke="#000" stroke-width="1.4"/>
<path d="M1128.9,1866.6 C1129.2,1862.7 1129.4,1849.2 1130.4,1843.0 C1131.4,1836.8 1132.8,1831.9 1134.8,1829.6 C1136.8,1827.2 1141.0,1829.0 1142.2,1828.9" fill="none" stroke="#000" stroke-width="2.2"/>
<path d="M1142.2,1828.9 C1144.7,1826.6 1150.8,1818.9 1157.0,1814.8 C1163.2,1810.7 1171.8,1807.1 1179.2,1804.4 C1186.6,1801.7 1196.5,1799.6 1201.5,1798.5 C1206.5,1797.4 1207.7,1797.9 1208.9,1797.8" fill="none" stroke="#000" stroke-width="2.2"/>
<path d="M1142.2,1831.0 C1144.7,1831.3 1152.1,1833.1 1157.0,1832.6 C1161.9,1832.1 1166.9,1830.3 1171.8,1828.1 C1176.7,1825.9 1181.4,1823.2 1186.6,1819.2 C1191.8,1815.2 1200.3,1806.9 1203.0,1804.4" fill="none" stroke="#000" stroke-width="2.2"/>
<path d="M1207.4,1798.5 C1207.3,1797.1 1206.2,1792.2 1207.0,1790.0 C1207.8,1787.8 1209.2,1786.0 1212.0,1785.0 C1214.8,1784.0 1222.0,1784.2 1224.0,1784.0" fill="none" stroke="#000" stroke-width="1.8"/>
<path d="M1210.0,1797.0 C1210.2,1796.0 1210.0,1792.5 1211.0,1791.0 C1212.0,1789.5 1213.8,1788.5 1216.0,1788.0 C1218.2,1787.5 1222.7,1788.0 1224.0,1788.0" fill="none" stroke="#000" stroke-width="1.2"/>
<path d="M1265.9,1783.7 C1270.0,1784.7 1282.5,1787.4 1290.3,1789.6 C1298.1,1791.8 1306.3,1794.5 1312.5,1797.0 C1318.7,1799.5 1324.3,1801.9 1327.3,1804.4 C1330.3,1806.9 1329.8,1809.6 1330.3,1811.8 C1330.8,1814.0 1330.3,1816.8 1330.3,1817.8" fill="none" stroke="#000" stroke-width="2.2"/>
<path d="M1266.0,1789.0 C1270.0,1790.0 1282.7,1792.8 1290.0,1795.0 C1297.3,1797.2 1304.0,1799.5 1310.0,1802.0 C1316.0,1804.5 1323.3,1808.7 1326.0,1810.0" fill="none" stroke="#000" stroke-width="1.2"/>
<path d="M1267.0,1794.0 C1271.2,1795.0 1284.2,1797.7 1292.0,1800.0 C1299.8,1802.3 1308.0,1805.5 1314.0,1808.0 C1320.0,1810.5 1325.7,1813.8 1328.0,1815.0" fill="none" stroke="#000" stroke-width="1.2"/>
<path d="M1330.3,1817.8 C1331.0,1818.0 1331.6,1817.0 1334.8,1819.2 C1338.0,1821.4 1345.7,1826.5 1349.6,1831.0 C1353.5,1835.5 1356.7,1840.0 1358.4,1845.9 C1360.1,1851.8 1359.7,1863.1 1360.0,1866.6" fill="none" stroke="#000" stroke-width="2.2"/>
<path d="M1268.0,1801.0 C1270.5,1802.5 1278.0,1804.8 1283.0,1810.0 C1288.0,1815.2 1292.2,1824.3 1298.0,1832.0 C1303.8,1839.7 1311.0,1851.0 1318.0,1856.0 C1325.0,1861.0 1334.0,1861.0 1340.0,1862.0 C1346.0,1863.0 1351.0,1860.9 1354.0,1862.2 C1357.0,1863.5 1357.3,1868.7 1358.0,1870.0" fill="none" stroke="#000" stroke-width="2"/>
<path d="M1294.8,1814.8 C1297.7,1816.0 1307.8,1818.1 1312.0,1822.0 C1316.2,1825.9 1318.4,1832.5 1320.0,1838.0 C1321.6,1843.5 1321.2,1852.0 1321.4,1854.8" fill="none" stroke="#000" stroke-width="1.6"/>
<path d="M1183.7,1877.0 C1188.1,1878.7 1200.9,1884.4 1210.0,1887.0 C1219.1,1889.6 1228.1,1892.0 1238.5,1892.6 C1248.9,1893.1 1266.8,1890.7 1272.5,1890.3" fill="none" stroke="#000" stroke-width="1.8"/>
<path d="M1208.9,1798.5 C1206.4,1802.0 1199.4,1810.3 1194.0,1819.2 C1188.6,1828.1 1180.7,1841.9 1176.3,1851.8 C1171.9,1861.7 1169.1,1868.6 1167.4,1878.5 C1165.7,1888.4 1166.2,1905.6 1165.9,1911.0" fill="none" stroke="#000" stroke-width="2"/>
<path d="M1213.0,1800.0 C1210.7,1803.3 1204.2,1811.3 1199.0,1820.0 C1193.8,1828.7 1186.3,1842.2 1182.0,1852.0 C1177.7,1861.8 1174.8,1869.2 1173.0,1879.0 C1171.2,1888.8 1171.3,1905.7 1171.0,1911.0" fill="none" stroke="#000" stroke-width="1.2"/>
<path d="M1223.7,1801.5 C1222.2,1804.5 1219.2,1811.3 1214.8,1819.2 C1210.3,1827.1 1202.4,1839.0 1197.0,1848.9 C1191.6,1858.8 1185.4,1868.2 1182.2,1878.5 C1179.0,1888.8 1178.5,1905.6 1177.8,1911.0" fill="none" stroke="#000" stroke-width="2"/>
<path d="M1256.3,1803.0 C1257.3,1808.2 1259.5,1821.4 1262.2,1834.0 C1264.9,1846.6 1271.5,1867.4 1272.5,1878.5 C1273.5,1889.6 1269.7,1893.5 1268.0,1900.7 C1266.3,1907.9 1263.2,1918.0 1262.2,1921.4" fill="none" stroke="#000" stroke-width="2.4"/>
<path d="M1259.0,1802.0 C1260.3,1807.3 1263.9,1821.2 1267.0,1834.0 C1270.1,1846.8 1276.5,1867.4 1277.5,1878.5 C1278.5,1889.6 1274.9,1893.5 1273.0,1900.7 C1271.1,1908.0 1267.2,1918.5 1266.0,1922.0" fill="none" stroke="#000" stroke-width="1.2"/>
<path d="M1262.2,1801.5 C1264.4,1806.9 1272.0,1821.2 1275.5,1834.0 C1279.0,1846.8 1282.8,1867.4 1283.0,1878.5 C1283.2,1889.6 1279.5,1893.3 1277.0,1900.7 C1274.5,1908.1 1269.5,1919.3 1268.0,1923.0" fill="none" stroke="#000" stroke-width="2"/>
<path d="M1227.5,1778 L1224.5,1802 Q1240,1812 1258,1802 L1263,1778 Z" fill="#fff" stroke="#000" stroke-width="2"/>
<path d="M1223.7,1803.0 C1224.4,1805.0 1225.3,1812.3 1228.0,1815.0 C1230.7,1817.7 1236.0,1819.0 1240.0,1819.2 C1244.0,1819.4 1249.0,1818.4 1252.0,1816.0 C1255.0,1813.6 1256.8,1806.8 1257.7,1805.0" fill="none" stroke="#000" stroke-width="1.8"/>
<ellipse cx="1245.1" cy="1777.8" rx="17.8" ry="8.9" fill="#111" stroke="#000" stroke-width="2"/>
<g stroke="#fff" stroke-width="0.8"><line x1="1235" y1="1774" x2="1235" y2="1783"/><line x1="1238" y1="1774" x2="1238" y2="1783"/><line x1="1241" y1="1774" x2="1241" y2="1783"/><line x1="1244" y1="1774" x2="1244" y2="1783"/><line x1="1247" y1="1774" x2="1247" y2="1783"/><line x1="1250" y1="1774" x2="1250" y2="1783"/><line x1="1253" y1="1774" x2="1253" y2="1783"/><line x1="1232" y1="1778.5" x2="1258" y2="1778.5"/></g>
<path d="M1247.5,1942.7 L1267.1,1942.7 L1268.5,1950.3 L1283.1,1953.1 L1301.2,1954.5 L1311.0,1953.8 L1320.7,1957.3 L1331.9,1967.0 L1334.0,1971.2 L1327.7,1974.0 L1331.9,1981.0 L1338.8,1990.7 L1351.4,1992.1 L1352.7,2017.1 L1338.8,2018.5 L1331.9,2025.5 L1327.7,2031.0 L1333.3,2036.6 L1334.6,2042.2 L1320.7,2052.0 L1304.0,2054.7 L1283.1,2056.1 L1268.5,2057.5 L1267.8,2066.6 L1247.5,2066.6 L1227.2,2066.6 L1226.5,2057.5 L1211.9,2056.1 L1191.0,2054.7 L1174.3,2052.0 L1160.4,2042.2 L1161.7,2036.6 L1167.3,2031.0 L1163.1,2025.5 L1156.2,2018.5 L1142.3,2017.1 L1143.6,1992.1 L1156.2,1990.7 L1163.1,1981.0 L1167.3,1974.0 L1161.0,1971.2 L1163.1,1967.0 L1174.3,1957.3 L1184.0,1953.8 L1193.8,1954.5 L1211.9,1953.1 L1226.5,1950.3 L1227.9,1942.7Z" fill="#fff" stroke="#000" stroke-width="2"/>
<path d="M1247.5,1948.9 L1265.9,1948.9 L1267.2,1955.7 L1281.0,1958.2 L1298.0,1959.5 L1307.2,1958.9 L1316.3,1962.0 L1326.8,1970.8 L1328.8,1974.5 L1322.9,1977.0 L1326.8,1983.3 L1333.3,1992.1 L1345.2,1993.3 L1346.4,2015.8 L1333.3,2017.1 L1326.8,2023.4 L1322.9,2028.3 L1328.2,2033.4 L1329.4,2038.4 L1316.3,2047.2 L1300.6,2049.7 L1281.0,2050.9 L1267.2,2052.2 L1266.6,2060.4 L1247.5,2060.4 L1228.4,2060.4 L1227.8,2052.2 L1214.0,2050.9 L1194.4,2049.7 L1178.7,2047.2 L1165.6,2038.4 L1166.8,2033.4 L1172.1,2028.3 L1168.2,2023.4 L1161.7,2017.1 L1148.6,2015.8 L1149.8,1993.3 L1161.7,1992.1 L1168.2,1983.3 L1172.1,1977.0 L1166.2,1974.5 L1168.2,1970.8 L1178.7,1962.0 L1187.8,1958.9 L1197.0,1959.5 L1214.0,1958.2 L1227.8,1955.7 L1229.1,1948.9Z" fill="none" stroke="#000" stroke-width="1.1"/>
<path d="M1151.5,2012.5 A96,54 0 0 0 1343.5,2012.5" fill="none" stroke="#000" stroke-width="1.4"/>
<rect x="1244.5" y="1944.0" width="6" height="6" fill="#000"/>
<rect x="1244.5" y="2058.0" width="6" height="6" fill="#000"/>
<rect x="1143.0" y="2001.5" width="6" height="6" fill="#000"/>
<rect x="1346.0" y="2001.5" width="6" height="6" fill="#000"/>
<path d="M1177.0,1960.0 l9,-3 l5,5 l-9,4 z" fill="#000"/>
<path d="M1304.0,1960.0 l9,-3 l5,5 l-9,4 z" fill="#000"/>
<path d="M1177.0,2043.0 l9,-3 l5,5 l-9,4 z" fill="#000"/>
<path d="M1304.0,2043.0 l9,-3 l5,5 l-9,4 z" fill="#000"/>
<ellipse cx="1247.5" cy="1999" rx="82" ry="46.6" fill="none" stroke="#000" stroke-width="2.6" />
<ellipse cx="1247.5" cy="1997.5" rx="73" ry="41" fill="none" stroke="#000" stroke-width="1.6" />
<ellipse cx="1247.5" cy="1997" rx="70.5" ry="38.6" fill="none" stroke="#000" stroke-width="1.2" />
<ellipse cx="1247.5" cy="1993" rx="46.6" ry="26" fill="none" stroke="#000" stroke-width="2" />
<ellipse cx="1247.5" cy="1993" rx="44" ry="24.4" fill="none" stroke="#000" stroke-width="1.2" />
<ellipse cx="1208" cy="1969" rx="3" ry="2.2" fill="#000"/>
<ellipse cx="1287" cy="1969" rx="3" ry="2.2" fill="#000"/>
<ellipse cx="1190" cy="1992" rx="3" ry="2.2" fill="#000"/>
<ellipse cx="1305" cy="1992" rx="3" ry="2.2" fill="#000"/>
<ellipse cx="1206" cy="2015" rx="3" ry="2.2" fill="#000"/>
<ellipse cx="1288" cy="2016" rx="3" ry="2.2" fill="#000"/>
<ellipse cx="1247.5" cy="2025.5" rx="3" ry="2.2" fill="#000"/>
<ellipse cx="1247.5" cy="1979.5" rx="18.4" ry="9.7" fill="#fff" stroke="#000" stroke-width="2"/>
<path d="M1235.5,1962 L1235.5,1977 A12,5 0 0 0 1259.5,1977 L1259.5,1962 Z" fill="#fff" stroke="#000" stroke-width="2"/>
<ellipse cx="1247.5" cy="1962" rx="12" ry="5.4" fill="#fff" stroke="#000" stroke-width="2"/>
<ellipse cx="1247.5" cy="1962" rx="8" ry="3.4" fill="none" stroke="#000" stroke-width="1.6"/>
<path d="M1245,1959.5 L1245,1964.5 M1248,1959 L1248,1965 M1251,1959.5 L1251,1964.5" stroke="#000" stroke-width="1"/>
<polyline points="1430,729.7 1429.7,735.6 1429,741.5 1427.7,747.3 1425.9,753.1 1423.6,758.8 1420.8,764.5 1417.5,770 1413.7,775.5 1409.5,780.8 1404.8,786 1399.7,791 1394.1,795.8 1388.1,800.5 1381.7,805 1374.9,809.2 1367.8,813.3 1360.3,817.1 1352.5,820.7 1344.4,824.1 1336,827.1 1327.4,829.9 1318.5,832.5 1309.4,834.7 1300.1,836.7 1290.7,838.4 1281.1,839.7 1271.4,840.8 1261.7,841.6 1251.8,842 1242,842.2 1232.2,842 1222.3,841.6 1212.6,840.8 1202.9,839.7 1193.3,838.4 1183.9,836.7 1174.6,834.7 1165.5,832.5 1156.6,829.9 1148,827.1 1139.6,824.1 1131.5,820.7 1123.7,817.1 1116.2,813.3 1109.1,809.2 1102.3,805 1095.9,800.5 1089.9,795.8 1084.3,791 1079.2,786 1074.5,780.8 1070.3,775.5 1066.5,770 1063.2,764.5 1060.4,758.8 1058.1,753.1 1056.3,747.3 1055,741.5 1054.3,735.6 1054,729.7" fill="none" stroke="#000" stroke-width="2"/>
<line x1="1054" y1="701.3" x2="1054" y2="729.7" stroke="#000" stroke-width="2"/>
<line x1="1430" y1="701.3" x2="1430" y2="729.7" stroke="#000" stroke-width="2"/>
<polyline points="1427.9,736.1 1426.4,741.4 1424.5,746.6 1422.2,751.8 1419.5,756.9 1416.4,761.9 1412.9,766.9 1409,771.7 1404.8,776.4 1400.1,781 1395.1,785.5 1389.8,789.8 1384.1,793.9 1378.1,797.9 1371.8,801.7 1365.1,805.3 1358.2,808.7 1351.1,811.9 1343.7,815 1336,817.8 1328.2,820.3 1320.1,822.7 1311.9,824.8 1303.5,826.7 1295,828.3 1286.3,829.7 1277.6,830.9 1268.8,831.7 1259.9,832.4 1251,832.8 1242,832.9 1233,832.8 1224.1,832.4 1215.2,831.7 1206.4,830.9 1197.7,829.7 1189,828.3 1180.5,826.7 1172.1,824.8 1163.9,822.7 1155.8,820.3 1148,817.8 1140.3,815 1132.9,811.9 1125.8,808.7 1118.9,805.3 1112.2,801.7 1105.9,797.9 1099.9,793.9 1094.2,789.8 1088.9,785.5 1083.9,781 1079.2,776.4 1075,771.7 1071.1,766.9 1067.6,761.9 1064.5,756.9 1061.8,751.8 1059.5,746.6 1057.6,741.4 1056.1,736.1" fill="none" stroke="#000" stroke-width="1.6"/>
<polyline points="1427.1,725.2 1425.4,730.4 1423.3,735.4 1420.8,740.5 1417.9,745.4 1414.6,750.3 1411,755 1407,759.7 1402.6,764.2 1397.9,768.6 1392.8,772.9 1387.4,777 1381.7,781 1375.7,784.8 1369.4,788.4 1362.8,791.9 1356,795.2 1348.9,798.2 1341.6,801.1 1334.1,803.8 1326.4,806.2 1318.5,808.5 1310.4,810.5 1302.2,812.3 1293.8,813.8 1285.4,815.2 1276.8,816.3 1268.2,817.1 1259.5,817.7 1250.7,818.1 1242,818.2 1233.3,818.1 1224.5,817.7 1215.8,817.1 1207.2,816.3 1198.6,815.2 1190.2,813.8 1181.8,812.3 1173.6,810.5 1165.5,808.5 1157.6,806.2 1149.9,803.8 1142.4,801.1 1135.1,798.2 1128,795.2 1121.2,791.9 1114.6,788.4 1108.3,784.8 1102.3,781 1096.6,777 1091.2,772.9 1086.1,768.6 1081.4,764.2 1077,759.7 1073,755 1069.4,750.3 1066.1,745.4 1063.2,740.5 1060.7,735.4 1058.6,730.4 1056.9,725.2" fill="none" stroke="#000" stroke-width="1.6"/>
<ellipse cx="1242" cy="701.3" rx="188" ry="112.5" fill="none" stroke="#000" stroke-width="2.2" />
<ellipse cx="1242" cy="698.7" rx="182" ry="103.2" fill="none" stroke="#000" stroke-width="1.8" />
<ellipse cx="1242" cy="698.8" rx="174" ry="98.6" fill="none" stroke="#000" stroke-width="1.8" />
<path d="M1130.6,763.9 L1127.2,761.7 L1123.9,759.5 L1120.8,757.3 L1117.8,755.0 L1115.0,752.6 L1112.4,750.2 L1110.0,747.7 L1107.8,745.2 L1105.8,742.6 L1104.0,740.0 L1102.3,737.4 L1100.9,734.8 L1099.7,732.1 L1098.7,729.4 L1097.8,726.7 L1097.2,723.9 L1096.8,721.2 L1096.6,718.5 L1095.3,714.9 L1094.2,711.2 L1093.5,707.6 L1093.2,704.0 L1093.1,700.4 L1093.4,696.9 L1093.9,693.3 L1094.7,689.8 L1095.8,686.3 L1097.1,682.8 L1098.7,679.4 L1100.5,675.9 L1102.6,672.5 L1104.9,669.2 L1107.4,665.9 L1110.2,662.7 L1113.2,659.5 L1116.4,656.4 L1119.9,653.4 L1123.5,650.4 L1127.4,647.6 L1131.5,644.8 L1135.7,642.1 L1140.2,639.5 L1144.8,637.1 L1149.6,634.7 L1154.5,632.5 L1159.6,630.4 L1164.9,628.4 L1170.3,626.5 L1175.8,624.8 L1181.4,623.2 L1187.2,621.8 L1193.0,620.5 L1199.0,619.3 L1205.0,618.3 L1211.0,617.5 L1217.2,616.8 L1223.3,616.2 L1229.5,615.8 L1235.8,615.6 L1242.0,615.5 L1248.2,615.6 L1254.5,615.8 L1260.7,616.2 L1266.8,616.8 L1273.0,617.5 L1279.0,618.3 L1285.0,619.3 L1291.0,620.5 L1296.8,621.8 L1302.6,623.2 L1308.2,624.8 L1313.7,626.5 L1319.1,628.4 L1324.4,630.4 L1329.5,632.5 L1334.4,634.7 L1339.2,637.1 L1343.8,639.5 L1348.3,642.1 L1352.5,644.8 L1356.6,647.6 L1360.5,650.4 L1364.1,653.4 L1367.6,656.4 L1370.8,659.5 L1373.8,662.7 L1376.6,665.9 L1379.1,669.2 L1381.4,672.5 L1383.5,675.9 L1385.3,679.4 L1386.9,682.8 L1388.2,686.3 L1389.3,689.8 L1390.1,693.3 L1390.6,696.9 L1390.9,700.4 L1390.8,704.0 L1390.5,707.6 L1389.8,711.2 L1388.7,714.9 L1387.4,718.5 L1387.2,721.2 L1386.8,723.9 L1386.2,726.7 L1385.3,729.4 L1384.3,732.1 L1383.1,734.8 L1381.7,737.4 L1380.0,740.0 L1378.2,742.6 L1376.2,745.2 L1374.0,747.7 L1371.6,750.2 L1369.0,752.6 L1366.2,755.0 L1363.2,757.3 L1360.1,759.5 L1356.8,761.7 L1353.4,763.9" fill="none" stroke="#000" stroke-width="1.8"/>
<path d="M1130.6,763.9 L1127.2,761.7 L1123.9,759.5 L1120.8,757.3 L1117.8,755.0 L1115.0,752.6 L1112.4,750.2 L1110.0,747.7 L1107.8,745.2 L1105.8,742.6 L1104.0,740.0 L1102.3,737.4 L1100.9,734.8 L1099.7,732.1 L1098.7,729.4 L1097.8,726.7 L1097.2,723.9 L1096.8,721.2 L1096.6,718.5 L1095.9,714.8 L1095.4,711.0 L1095.2,707.3 L1095.3,703.8 L1095.7,700.2 L1096.3,696.8 L1097.2,693.3 L1098.3,689.9 L1099.6,686.6 L1101.2,683.2 L1103.0,680.0 L1105.0,676.7 L1107.2,673.6 L1109.6,670.4 L1112.3,667.4 L1115.1,664.4 L1118.2,661.4 L1121.5,658.6 L1124.9,655.8 L1128.6,653.1 L1132.4,650.5 L1136.4,648.0 L1140.6,645.5 L1144.9,643.2 L1149.4,641.0 L1154.0,638.9 L1158.8,636.9 L1163.7,635.0 L1168.8,633.2 L1173.9,631.5 L1179.2,630.0 L1184.6,628.6 L1190.1,627.3 L1195.6,626.1 L1201.3,625.1 L1207.0,624.2 L1212.7,623.4 L1218.5,622.8 L1224.3,622.3 L1230.2,622.0 L1236.1,621.8 L1242.0,621.7 L1247.9,621.8 L1253.8,622.0 L1259.7,622.3 L1265.5,622.8 L1271.3,623.4 L1277.0,624.2 L1282.7,625.1 L1288.4,626.1 L1293.9,627.3 L1299.4,628.6 L1304.8,630.0 L1310.1,631.5 L1315.2,633.2 L1320.3,635.0 L1325.2,636.9 L1330.0,638.9 L1334.6,641.0 L1339.1,643.2 L1343.4,645.5 L1347.6,648.0 L1351.6,650.5 L1355.4,653.1 L1359.1,655.8 L1362.5,658.6 L1365.8,661.4 L1368.9,664.4 L1371.7,667.4 L1374.4,670.4 L1376.8,673.6 L1379.0,676.7 L1381.0,680.0 L1382.8,683.2 L1384.4,686.6 L1385.7,689.9 L1386.8,693.3 L1387.7,696.8 L1388.3,700.2 L1388.7,703.8 L1388.8,707.3 L1388.6,711.0 L1388.1,714.8 L1387.4,718.5 L1387.2,721.2 L1386.8,723.9 L1386.2,726.7 L1385.3,729.4 L1384.3,732.1 L1383.1,734.8 L1381.7,737.4 L1380.0,740.0 L1378.2,742.6 L1376.2,745.2 L1374.0,747.7 L1371.6,750.2 L1369.0,752.6 L1366.2,755.0 L1363.2,757.3 L1360.1,759.5 L1356.8,761.7 L1353.4,763.9" fill="none" stroke="#000" stroke-width="1.8"/>
<path d="M1130.6,763.9 L1127.2,761.7 L1123.9,759.5 L1120.8,757.3 L1117.8,755.0 L1115.0,752.6 L1112.4,750.2 L1110.0,747.7 L1107.8,745.2 L1105.8,742.6 L1104.0,740.0 L1102.3,737.4 L1100.9,734.8 L1099.7,732.1 L1098.7,729.4 L1097.8,726.7 L1097.2,723.9 L1096.8,721.2 L1096.6,718.5 L1096.3,714.9 L1096.1,711.1 L1096.2,707.6 L1096.5,704.2 L1097.1,700.8 L1098.0,697.5 L1099.0,694.2 L1100.3,691.0 L1101.7,687.8 L1103.4,684.6 L1105.3,681.5 L1107.4,678.5 L1109.8,675.5 L1112.3,672.6 L1115.0,669.8 L1117.9,667.0 L1121.0,664.3 L1124.3,661.6 L1127.7,659.0 L1131.4,656.6 L1135.2,654.2 L1139.1,651.9 L1143.3,649.6 L1147.5,647.5 L1152.0,645.5 L1156.5,643.5 L1161.2,641.7 L1166.0,640.0 L1170.9,638.4 L1176.0,636.9 L1181.1,635.5 L1186.4,634.2 L1191.7,633.0 L1197.1,632.0 L1202.5,631.1 L1208.1,630.2 L1213.6,629.6 L1219.3,629.0 L1224.9,628.6 L1230.6,628.3 L1236.3,628.1 L1242.0,628.0 L1247.7,628.1 L1253.4,628.3 L1259.1,628.6 L1264.7,629.0 L1270.4,629.6 L1275.9,630.2 L1281.5,631.1 L1286.9,632.0 L1292.3,633.0 L1297.6,634.2 L1302.9,635.5 L1308.0,636.9 L1313.1,638.4 L1318.0,640.0 L1322.8,641.7 L1327.5,643.5 L1332.0,645.5 L1336.5,647.5 L1340.7,649.6 L1344.9,651.9 L1348.8,654.2 L1352.6,656.6 L1356.3,659.0 L1359.7,661.6 L1363.0,664.3 L1366.1,667.0 L1369.0,669.8 L1371.7,672.6 L1374.2,675.5 L1376.6,678.5 L1378.7,681.5 L1380.6,684.6 L1382.3,687.8 L1383.7,691.0 L1385.0,694.2 L1386.0,697.5 L1386.9,700.8 L1387.5,704.2 L1387.8,707.6 L1387.9,711.1 L1387.7,714.9 L1387.4,718.5 L1387.2,721.2 L1386.8,723.9 L1386.2,726.7 L1385.3,729.4 L1384.3,732.1 L1383.1,734.8 L1381.7,737.4 L1380.0,740.0 L1378.2,742.6 L1376.2,745.2 L1374.0,747.7 L1371.6,750.2 L1369.0,752.6 L1366.2,755.0 L1363.2,757.3 L1360.1,759.5 L1356.8,761.7 L1353.4,763.9" fill="none" stroke="#000" stroke-width="1.8"/>
<path d="M1130.6,763.9 L1127.2,761.7 L1123.9,759.5 L1120.8,757.3 L1117.8,755.0 L1115.0,752.6 L1112.4,750.2 L1110.0,747.7 L1107.8,745.2 L1105.8,742.6 L1104.0,740.0 L1102.3,737.4 L1100.9,734.8 L1099.7,732.1 L1098.7,729.4 L1097.8,726.7 L1097.2,723.9 L1096.8,721.2 L1096.6,718.5 L1096.5,715.2 L1096.5,711.9 L1096.8,708.7 L1097.3,705.5 L1098.0,702.4 L1098.9,699.4 L1100.1,696.4 L1101.4,693.4 L1103.0,690.5 L1104.8,687.7 L1106.8,684.8 L1108.9,682.1 L1111.3,679.4 L1113.9,676.7 L1116.6,674.1 L1119.6,671.6 L1122.7,669.1 L1126.0,666.8 L1129.4,664.4 L1133.1,662.2 L1136.8,660.0 L1140.8,657.9 L1144.9,655.9 L1149.1,654.0 L1153.5,652.2 L1158.0,650.5 L1162.6,648.8 L1167.4,647.3 L1172.2,645.9 L1177.2,644.5 L1182.3,643.3 L1187.4,642.1 L1192.6,641.1 L1197.9,640.1 L1203.3,639.3 L1208.7,638.6 L1214.2,638.0 L1219.7,637.5 L1225.2,637.1 L1230.8,636.8 L1236.4,636.7 L1242.0,636.6 L1247.6,636.7 L1253.2,636.8 L1258.8,637.1 L1264.3,637.5 L1269.8,638.0 L1275.3,638.6 L1280.7,639.3 L1286.1,640.1 L1291.4,641.1 L1296.6,642.1 L1301.7,643.3 L1306.8,644.5 L1311.8,645.9 L1316.6,647.3 L1321.4,648.8 L1326.0,650.5 L1330.5,652.2 L1334.9,654.0 L1339.1,655.9 L1343.2,657.9 L1347.2,660.0 L1350.9,662.2 L1354.6,664.4 L1358.0,666.8 L1361.3,669.1 L1364.4,671.6 L1367.4,674.1 L1370.1,676.7 L1372.7,679.4 L1375.1,682.1 L1377.2,684.8 L1379.2,687.7 L1381.0,690.5 L1382.6,693.4 L1383.9,696.4 L1385.1,699.4 L1386.0,702.4 L1386.7,705.5 L1387.2,708.7 L1387.5,711.9 L1387.5,715.2 L1387.4,718.5 L1387.2,721.2 L1386.8,723.9 L1386.2,726.7 L1385.3,729.4 L1384.3,732.1 L1383.1,734.8 L1381.7,737.4 L1380.0,740.0 L1378.2,742.6 L1376.2,745.2 L1374.0,747.7 L1371.6,750.2 L1369.0,752.6 L1366.2,755.0 L1363.2,757.3 L1360.1,759.5 L1356.8,761.7 L1353.4,763.9" fill="none" stroke="#000" stroke-width="1.8"/>
<ellipse cx="1242" cy="717.2" rx="145.4" ry="72.6" fill="none" stroke="#000" stroke-width="2.4" />
<ellipse cx="1174.5" cy="599.8" rx="4.2" ry="2.8" fill="none" stroke="#000" stroke-width="1.6" />
<ellipse cx="1347" cy="612.4" rx="4.2" ry="2.8" fill="none" stroke="#000" stroke-width="1.6" />
<ellipse cx="1405.2" cy="653.2" rx="4.2" ry="2.8" fill="none" stroke="#000" stroke-width="1.6" />
<ellipse cx="1416.2" cy="705" rx="4.2" ry="2.8" fill="none" stroke="#000" stroke-width="1.6" />
<ellipse cx="1067.7" cy="680" rx="4.2" ry="2.8" fill="none" stroke="#000" stroke-width="1.6" />
<ellipse cx="1136.8" cy="774" rx="4.2" ry="2.8" fill="none" stroke="#000" stroke-width="1.6" />
<ellipse cx="1174.5" cy="786.6" rx="4.2" ry="2.8" fill="none" stroke="#000" stroke-width="1.6" />
<ellipse cx="1309.4" cy="786.6" rx="4.2" ry="2.8" fill="none" stroke="#000" stroke-width="1.6" />
<ellipse cx="1114.8" cy="810" rx="1.6" ry="1.6" fill="#000" stroke="#000" stroke-width="1" />
<ellipse cx="1369" cy="810" rx="1.6" ry="1.6" fill="#000" stroke="#000" stroke-width="1" />
<ellipse cx="1242" cy="840" rx="1.6" ry="1.6" fill="#000" stroke="#000" stroke-width="1" />
<path d="M1060,728 l6,-4 l2,6 z" fill="#000" stroke="#000" stroke-width="1.4" />
<polyline points="1455,1528 1454.8,1532 1454.4,1536.1 1453.6,1540.1 1452.5,1544.1 1451.2,1548.1 1449.5,1552 1447.5,1556 1445.2,1559.8 1442.6,1563.7 1439.8,1567.4 1436.6,1571.1 1433.2,1574.8 1429.5,1578.3 1425.5,1581.8 1421.3,1585.2 1416.8,1588.5 1412.1,1591.8 1407.1,1594.9 1401.9,1597.9 1396.4,1600.8 1390.8,1603.6 1384.9,1606.3 1378.8,1608.9 1372.6,1611.3 1366.1,1613.6 1359.5,1615.8 1352.7,1617.9 1345.8,1619.8 1338.7,1621.5 1331.5,1623.2 1324.2,1624.6 1316.8,1626 1309.3,1627.1 1301.7,1628.2 1294,1629 1286.3,1629.7 1278.5,1630.3 1270.7,1630.7 1262.9,1630.9 1255,1631 1247.1,1630.9 1239.3,1630.7 1231.5,1630.3 1223.7,1629.7 1216,1629 1208.3,1628.2 1200.7,1627.1 1193.2,1626 1185.8,1624.6 1178.5,1623.2 1171.3,1621.5 1164.2,1619.8 1157.3,1617.9 1150.5,1615.8 1143.9,1613.6 1137.4,1611.3 1131.2,1608.9 1125.1,1606.3 1119.2,1603.6 1113.6,1600.8 1108.1,1597.9 1102.9,1594.9 1097.9,1591.8 1093.2,1588.5 1088.7,1585.2 1084.5,1581.8 1080.5,1578.3 1076.8,1574.8 1073.4,1571.1 1070.2,1567.4 1067.4,1563.7 1064.8,1559.8 1062.5,1556 1060.5,1552 1058.8,1548.1 1057.5,1544.1 1056.4,1540.1 1055.6,1536.1 1055.2,1532 1055,1528" fill="none" stroke="#000" stroke-width="2.2"/>
<polyline points="1453.1,1538.3 1451.9,1542 1450.6,1545.6 1448.9,1549.2 1447.1,1552.7 1444.9,1556.3 1442.6,1559.7 1440,1563.2 1437.1,1566.5 1434.1,1569.9 1430.8,1573.1 1427.2,1576.4 1423.5,1579.5 1419.5,1582.6 1415.4,1585.6 1411,1588.5 1406.4,1591.3 1401.6,1594 1396.7,1596.7 1391.5,1599.3 1386.2,1601.7 1380.7,1604.1 1375.1,1606.4 1369.3,1608.5 1363.3,1610.6 1357.3,1612.5 1351,1614.3 1344.7,1616.1 1338.3,1617.7 1331.7,1619.1 1325,1620.5 1318.3,1621.7 1311.5,1622.8 1304.6,1623.8 1297.6,1624.6 1290.6,1625.4 1283.5,1625.9 1276.4,1626.4 1269.3,1626.7 1262.2,1626.9 1255,1627 1247.8,1626.9 1240.7,1626.7 1233.6,1626.4 1226.5,1625.9 1219.4,1625.4 1212.4,1624.6 1205.4,1623.8 1198.5,1622.8 1191.7,1621.7 1185,1620.5 1178.3,1619.1 1171.7,1617.7 1165.3,1616.1 1159,1614.3 1152.7,1612.5 1146.7,1610.6 1140.7,1608.5 1134.9,1606.4 1129.3,1604.1 1123.8,1601.7 1118.5,1599.3 1113.3,1596.7 1108.4,1594 1103.6,1591.3 1099,1588.5 1094.6,1585.6 1090.5,1582.6 1086.5,1579.5 1082.8,1576.4 1079.2,1573.1 1075.9,1569.9 1072.9,1566.5 1070,1563.2 1067.4,1559.7 1065.1,1556.3 1062.9,1552.7 1061.1,1549.2 1059.4,1545.6 1058.1,1542 1056.9,1538.3" fill="none" stroke="#000" stroke-width="1.2"/>
<line x1="1052" y1="1478" x2="1053" y2="1523" stroke="#000" stroke-width="2.2"/>
<line x1="1458" y1="1478" x2="1457" y2="1523" stroke="#000" stroke-width="2.2"/>
<path d="M1458.0,1478.0 L1457.7,1483.4 L1456.9,1488.8 L1455.5,1494.1 L1453.6,1499.4 L1451.1,1504.7 L1448.1,1509.8 L1444.5,1514.9 L1440.4,1519.9 L1435.9,1524.8 L1430.8,1529.5 L1425.3,1534.1 L1419.2,1538.5 L1412.8,1542.8 L1405.9,1546.9 L1398.5,1550.8 L1390.8,1554.5 L1382.8,1558.0 L1374.3,1561.3 L1365.6,1564.4 L1356.5,1567.2 L1347.2,1569.8 L1337.6,1572.1 L1327.7,1574.2 L1317.7,1576.0 L1307.5,1577.5 L1297.2,1578.7 L1286.8,1579.7 L1276.2,1580.4 L1265.6,1580.9 L1255.0,1581.0 L1244.4,1580.9 L1233.8,1580.4 L1223.2,1579.7 L1212.8,1578.7 L1202.5,1577.5 L1192.3,1576.0 L1182.3,1574.2 L1172.4,1572.1 L1162.8,1569.8 L1153.5,1567.2 L1144.4,1564.4 L1135.7,1561.3 L1127.2,1558.0 L1119.2,1554.5 L1111.5,1550.8 L1104.1,1546.9 L1097.2,1542.8 L1090.8,1538.5 L1084.7,1534.1 L1079.2,1529.5 L1074.1,1524.8 L1069.6,1519.9 L1065.5,1514.9 L1061.9,1509.8 L1058.9,1504.7 L1056.4,1499.4 L1054.5,1494.1 L1053.1,1488.8 L1052.3,1483.4 L1052.0,1478.0 L1054.0,1501.0 L1054.3,1506.4 L1055.1,1511.8 L1056.5,1517.1 L1058.4,1522.4 L1060.8,1527.7 L1063.8,1532.8 L1067.4,1537.9 L1071.4,1542.9 L1075.9,1547.8 L1080.9,1552.5 L1086.4,1557.1 L1092.4,1561.5 L1098.8,1565.8 L1105.6,1569.9 L1112.9,1573.8 L1120.5,1577.5 L1128.5,1581.0 L1136.9,1584.3 L1145.5,1587.4 L1154.5,1590.2 L1163.7,1592.8 L1173.2,1595.1 L1183.0,1597.2 L1192.9,1599.0 L1203.0,1600.5 L1213.2,1601.7 L1223.6,1602.7 L1234.0,1603.4 L1244.5,1603.9 L1255.0,1604.0 L1265.5,1603.9 L1276.0,1603.4 L1286.4,1602.7 L1296.8,1601.7 L1307.0,1600.5 L1317.1,1599.0 L1327.0,1597.2 L1336.8,1595.1 L1346.3,1592.8 L1355.5,1590.2 L1364.5,1587.4 L1373.1,1584.3 L1381.5,1581.0 L1389.5,1577.5 L1397.1,1573.8 L1404.4,1569.9 L1411.2,1565.8 L1417.6,1561.5 L1423.6,1557.1 L1429.1,1552.5 L1434.1,1547.8 L1438.6,1542.9 L1442.6,1537.9 L1446.2,1532.8 L1449.2,1527.7 L1451.6,1522.4 L1453.5,1517.1 L1454.9,1511.8 L1455.7,1506.4 L1456.0,1501.0Z" fill="#000" stroke="#000" stroke-width="1"/>
<g fill="none" stroke="#fff">
<path d="M1455.0,1496.8 L1453.9,1500.4 L1452.6,1503.9 L1451.0,1507.4 L1449.2,1510.9 L1447.1,1514.3 L1444.8,1517.7 L1442.3,1521.1 L1439.5,1524.4 L1436.6,1527.7 L1433.4,1530.9 L1429.9,1534.0 L1426.3,1537.1 L1422.5,1540.1 L1418.4,1543.0 L1414.2,1545.9 L1409.7,1548.7 L1405.1,1551.4 L1400.3,1554.0 L1395.3,1556.6 L1390.2,1559.0 L1384.8,1561.4 L1379.4,1563.7 L1373.7,1565.8 L1368.0,1567.9 L1362.0,1569.8 L1356.0,1571.7 L1349.8,1573.4 L1343.6,1575.1 L1337.2,1576.6 L1330.7,1578.0 L1324.1,1579.3 L1317.4,1580.5 L1310.7,1581.5 L1303.9,1582.4 L1297.0,1583.2 L1290.1,1583.9 L1283.1,1584.5 L1276.1,1584.9 L1269.1,1585.2 L1262.0,1585.4 L1255.0,1585.5 L1248.0,1585.4 L1240.9,1585.2 L1233.9,1584.9 L1226.9,1584.5 L1219.9,1583.9 L1213.0,1583.2 L1206.1,1582.4 L1199.3,1581.5 L1192.6,1580.5 L1185.9,1579.3 L1179.3,1578.0 L1172.8,1576.6 L1166.4,1575.1 L1160.2,1573.4 L1154.0,1571.7 L1148.0,1569.8 L1142.0,1567.9 L1136.3,1565.8 L1130.6,1563.7 L1125.2,1561.4 L1119.8,1559.0 L1114.7,1556.6 L1109.7,1554.0 L1104.9,1551.4 L1100.3,1548.7 L1095.8,1545.9 L1091.6,1543.0 L1087.5,1540.1 L1083.7,1537.1 L1080.1,1534.0 L1076.6,1530.9 L1073.4,1527.7 L1070.5,1524.4 L1067.7,1521.1 L1065.2,1517.7 L1062.9,1514.3 L1060.8,1510.9 L1059.0,1507.4 L1057.4,1503.9 L1056.1,1500.4 L1055.0,1496.8" stroke-width="1.1" stroke-dasharray="14 9" stroke-dashoffset="0"/>
<path d="M1455.0,1501.3 L1453.9,1504.9 L1452.6,1508.4 L1451.0,1511.9 L1449.2,1515.4 L1447.1,1518.8 L1444.8,1522.2 L1442.3,1525.6 L1439.5,1528.9 L1436.6,1532.2 L1433.4,1535.4 L1429.9,1538.5 L1426.3,1541.6 L1422.5,1544.6 L1418.4,1547.5 L1414.2,1550.4 L1409.7,1553.2 L1405.1,1555.9 L1400.3,1558.5 L1395.3,1561.1 L1390.2,1563.5 L1384.8,1565.9 L1379.4,1568.2 L1373.7,1570.3 L1368.0,1572.4 L1362.0,1574.3 L1356.0,1576.2 L1349.8,1577.9 L1343.6,1579.6 L1337.2,1581.1 L1330.7,1582.5 L1324.1,1583.8 L1317.4,1585.0 L1310.7,1586.0 L1303.9,1586.9 L1297.0,1587.7 L1290.1,1588.4 L1283.1,1589.0 L1276.1,1589.4 L1269.1,1589.7 L1262.0,1589.9 L1255.0,1590.0 L1248.0,1589.9 L1240.9,1589.7 L1233.9,1589.4 L1226.9,1589.0 L1219.9,1588.4 L1213.0,1587.7 L1206.1,1586.9 L1199.3,1586.0 L1192.6,1585.0 L1185.9,1583.8 L1179.3,1582.5 L1172.8,1581.1 L1166.4,1579.6 L1160.2,1577.9 L1154.0,1576.2 L1148.0,1574.3 L1142.0,1572.4 L1136.3,1570.3 L1130.6,1568.2 L1125.2,1565.9 L1119.8,1563.5 L1114.7,1561.1 L1109.7,1558.5 L1104.9,1555.9 L1100.3,1553.2 L1095.8,1550.4 L1091.6,1547.5 L1087.5,1544.6 L1083.7,1541.6 L1080.1,1538.5 L1076.6,1535.4 L1073.4,1532.2 L1070.5,1528.9 L1067.7,1525.6 L1065.2,1522.2 L1062.9,1518.8 L1060.8,1515.4 L1059.0,1511.9 L1057.4,1508.4 L1056.1,1504.9 L1055.0,1501.3" stroke-width="1.0" stroke-dasharray="8 7" stroke-dashoffset="3"/>
<path d="M1455.0,1505.8 L1453.9,1509.4 L1452.6,1512.9 L1451.0,1516.4 L1449.2,1519.9 L1447.1,1523.3 L1444.8,1526.7 L1442.3,1530.1 L1439.5,1533.4 L1436.6,1536.7 L1433.4,1539.9 L1429.9,1543.0 L1426.3,1546.1 L1422.5,1549.1 L1418.4,1552.0 L1414.2,1554.9 L1409.7,1557.7 L1405.1,1560.4 L1400.3,1563.0 L1395.3,1565.6 L1390.2,1568.0 L1384.8,1570.4 L1379.4,1572.7 L1373.7,1574.8 L1368.0,1576.9 L1362.0,1578.8 L1356.0,1580.7 L1349.8,1582.4 L1343.6,1584.1 L1337.2,1585.6 L1330.7,1587.0 L1324.1,1588.3 L1317.4,1589.5 L1310.7,1590.5 L1303.9,1591.4 L1297.0,1592.2 L1290.1,1592.9 L1283.1,1593.5 L1276.1,1593.9 L1269.1,1594.2 L1262.0,1594.4 L1255.0,1594.5 L1248.0,1594.4 L1240.9,1594.2 L1233.9,1593.9 L1226.9,1593.5 L1219.9,1592.9 L1213.0,1592.2 L1206.1,1591.4 L1199.3,1590.5 L1192.6,1589.5 L1185.9,1588.3 L1179.3,1587.0 L1172.8,1585.6 L1166.4,1584.1 L1160.2,1582.4 L1154.0,1580.7 L1148.0,1578.8 L1142.0,1576.9 L1136.3,1574.8 L1130.6,1572.7 L1125.2,1570.4 L1119.8,1568.0 L1114.7,1565.6 L1109.7,1563.0 L1104.9,1560.4 L1100.3,1557.7 L1095.8,1554.9 L1091.6,1552.0 L1087.5,1549.1 L1083.7,1546.1 L1080.1,1543.0 L1076.6,1539.9 L1073.4,1536.7 L1070.5,1533.4 L1067.7,1530.1 L1065.2,1526.7 L1062.9,1523.3 L1060.8,1519.9 L1059.0,1516.4 L1057.4,1512.9 L1056.1,1509.4 L1055.0,1505.8" stroke-width="1.0" stroke-dasharray="12 10" stroke-dashoffset="6"/>
<path d="M1455.0,1510.3 L1453.9,1513.9 L1452.6,1517.4 L1451.0,1520.9 L1449.2,1524.4 L1447.1,1527.8 L1444.8,1531.2 L1442.3,1534.6 L1439.5,1537.9 L1436.6,1541.2 L1433.4,1544.4 L1429.9,1547.5 L1426.3,1550.6 L1422.5,1553.6 L1418.4,1556.5 L1414.2,1559.4 L1409.7,1562.2 L1405.1,1564.9 L1400.3,1567.5 L1395.3,1570.1 L1390.2,1572.5 L1384.8,1574.9 L1379.4,1577.2 L1373.7,1579.3 L1368.0,1581.4 L1362.0,1583.3 L1356.0,1585.2 L1349.8,1586.9 L1343.6,1588.6 L1337.2,1590.1 L1330.7,1591.5 L1324.1,1592.8 L1317.4,1594.0 L1310.7,1595.0 L1303.9,1595.9 L1297.0,1596.7 L1290.1,1597.4 L1283.1,1598.0 L1276.1,1598.4 L1269.1,1598.7 L1262.0,1598.9 L1255.0,1599.0 L1248.0,1598.9 L1240.9,1598.7 L1233.9,1598.4 L1226.9,1598.0 L1219.9,1597.4 L1213.0,1596.7 L1206.1,1595.9 L1199.3,1595.0 L1192.6,1594.0 L1185.9,1592.8 L1179.3,1591.5 L1172.8,1590.1 L1166.4,1588.6 L1160.2,1586.9 L1154.0,1585.2 L1148.0,1583.3 L1142.0,1581.4 L1136.3,1579.3 L1130.6,1577.2 L1125.2,1574.9 L1119.8,1572.5 L1114.7,1570.1 L1109.7,1567.5 L1104.9,1564.9 L1100.3,1562.2 L1095.8,1559.4 L1091.6,1556.5 L1087.5,1553.6 L1083.7,1550.6 L1080.1,1547.5 L1076.6,1544.4 L1073.4,1541.2 L1070.5,1537.9 L1067.7,1534.6 L1065.2,1531.2 L1062.9,1527.8 L1060.8,1524.4 L1059.0,1520.9 L1057.4,1517.4 L1056.1,1513.9 L1055.0,1510.3" stroke-width="1.0" stroke-dasharray="7 8" stroke-dashoffset="1"/>
</g>
<line x1="1455.7" y1="1506.4" x2="1455.7" y2="1533.4" stroke="#000" stroke-width="2.2"/>
<line x1="1455.9" y1="1506.4" x2="1455.9" y2="1533.4" stroke="#000" stroke-width="1.2"/>
<line x1="1452" y1="1521.5" x2="1452" y2="1548.5" stroke="#000" stroke-width="2.2"/>
<line x1="1452.7" y1="1521.5" x2="1452.7" y2="1548.5" stroke="#000" stroke-width="1.2"/>
<line x1="1443.9" y1="1536.2" x2="1443.9" y2="1563.2" stroke="#000" stroke-width="2.2"/>
<line x1="1445.1" y1="1536.2" x2="1445.1" y2="1563.2" stroke="#000" stroke-width="1.2"/>
<line x1="1431.6" y1="1550.1" x2="1431.6" y2="1577.1" stroke="#000" stroke-width="2.2"/>
<line x1="1433.3" y1="1550.1" x2="1433.3" y2="1577.1" stroke="#000" stroke-width="1.2"/>
<line x1="1415.5" y1="1563" x2="1415.5" y2="1590" stroke="#000" stroke-width="2.2"/>
<line x1="1417.6" y1="1563" x2="1417.6" y2="1590" stroke="#000" stroke-width="1.2"/>
<line x1="1395.9" y1="1574.5" x2="1395.9" y2="1601.5" stroke="#000" stroke-width="2.2"/>
<line x1="1398.4" y1="1574.5" x2="1398.4" y2="1601.5" stroke="#000" stroke-width="1.2"/>
<line x1="1373.1" y1="1584.3" x2="1373.1" y2="1611.3" stroke="#000" stroke-width="2.2"/>
<line x1="1376" y1="1584.3" x2="1376" y2="1611.3" stroke="#000" stroke-width="1.2"/>
<line x1="1347.8" y1="1592.4" x2="1347.8" y2="1619.4" stroke="#000" stroke-width="2.2"/>
<line x1="1350.9" y1="1592.4" x2="1350.9" y2="1619.4" stroke="#000" stroke-width="1.2"/>
<line x1="1320.4" y1="1598.4" x2="1320.4" y2="1625.4" stroke="#000" stroke-width="2.2"/>
<line x1="1323.7" y1="1598.4" x2="1323.7" y2="1625.4" stroke="#000" stroke-width="1.2"/>
<line x1="1291.6" y1="1602.3" x2="1291.6" y2="1629.3" stroke="#000" stroke-width="2.2"/>
<line x1="1295.1" y1="1602.3" x2="1295.1" y2="1629.3" stroke="#000" stroke-width="1.2"/>
<line x1="1262" y1="1603.9" x2="1262" y2="1630.9" stroke="#000" stroke-width="2.2"/>
<line x1="1265.5" y1="1603.9" x2="1265.5" y2="1630.9" stroke="#000" stroke-width="1.2"/>
<line x1="1232.2" y1="1603.3" x2="1232.2" y2="1630.3" stroke="#000" stroke-width="2.2"/>
<line x1="1235.7" y1="1603.3" x2="1235.7" y2="1630.3" stroke="#000" stroke-width="1.2"/>
<line x1="1203" y1="1600.5" x2="1203" y2="1627.5" stroke="#000" stroke-width="2.2"/>
<line x1="1206.4" y1="1600.5" x2="1206.4" y2="1627.5" stroke="#000" stroke-width="1.2"/>
<line x1="1174.9" y1="1595.5" x2="1174.9" y2="1622.5" stroke="#000" stroke-width="2.2"/>
<line x1="1178.1" y1="1595.5" x2="1178.1" y2="1622.5" stroke="#000" stroke-width="1.2"/>
<line x1="1148.5" y1="1588.3" x2="1148.5" y2="1615.3" stroke="#000" stroke-width="2.2"/>
<line x1="1151.5" y1="1588.3" x2="1151.5" y2="1615.3" stroke="#000" stroke-width="1.2"/>
<line x1="1124.5" y1="1579.3" x2="1124.5" y2="1606.3" stroke="#000" stroke-width="2.2"/>
<line x1="1127.1" y1="1579.3" x2="1127.1" y2="1606.3" stroke="#000" stroke-width="1.2"/>
<line x1="1103.3" y1="1568.6" x2="1103.3" y2="1595.6" stroke="#000" stroke-width="2.2"/>
<line x1="1105.6" y1="1568.6" x2="1105.6" y2="1595.6" stroke="#000" stroke-width="1.2"/>
<line x1="1085.5" y1="1556.3" x2="1085.5" y2="1583.3" stroke="#000" stroke-width="2.2"/>
<line x1="1087.4" y1="1556.3" x2="1087.4" y2="1583.3" stroke="#000" stroke-width="1.2"/>
<line x1="1071.4" y1="1542.9" x2="1071.4" y2="1569.9" stroke="#000" stroke-width="2.2"/>
<line x1="1072.8" y1="1542.9" x2="1072.8" y2="1569.9" stroke="#000" stroke-width="1.2"/>
<line x1="1061.3" y1="1528.5" x2="1061.3" y2="1555.5" stroke="#000" stroke-width="2.2"/>
<line x1="1062.2" y1="1528.5" x2="1062.2" y2="1555.5" stroke="#000" stroke-width="1.2"/>
<line x1="1055.5" y1="1513.6" x2="1055.5" y2="1540.6" stroke="#000" stroke-width="2.2"/>
<line x1="1055.9" y1="1513.6" x2="1055.9" y2="1540.6" stroke="#000" stroke-width="1.2"/>
<ellipse cx="1255" cy="1478" rx="203" ry="103" fill="#fff" stroke="#000" stroke-width="2.4"/>
<ellipse cx="1255" cy="1478" rx="199" ry="99" fill="none" stroke="#000" stroke-width="1.4" />
<ellipse cx="1255" cy="1480" rx="194" ry="97" fill="none" stroke="#000" stroke-width="1.6" />
<ellipse cx="1255" cy="1500" rx="178" ry="86" fill="none" stroke="#000" stroke-width="1.8" />
<path d="M1155.7,1406 Q1155.7,1380 1167.7,1376 Q1179.7,1380 1179.7,1406 Q1167.7,1414 1155.7,1406 Z" fill="#fff" stroke="#000" stroke-width="2"/>
<path d="M1273,1404 Q1273,1378 1285,1374 Q1297,1378 1297,1404 Q1285,1412 1273,1404 Z" fill="#fff" stroke="#000" stroke-width="2"/>
<path d="M1381,1424 Q1381,1398 1393,1394 Q1405,1398 1405,1424 Q1393,1432 1381,1424 Z" fill="#fff" stroke="#000" stroke-width="2"/>
<path d="M1071,1454 Q1071,1428 1083,1424 Q1095,1428 1095,1454 Q1083,1462 1071,1454 Z" fill="#fff" stroke="#000" stroke-width="2"/>
<path d="M1430.2,1482.6 Q1430.2,1459.2 1441,1455.6 Q1451.8,1459.2 1451.8,1482.6 Q1441,1489.8 1430.2,1482.6 Z" fill="#fff" stroke="#000" stroke-width="2"/>
<ellipse cx="1256" cy="1502" rx="100.5" ry="59" fill="none" stroke="#000" stroke-width="2" />
<ellipse cx="1256" cy="1502" rx="97.5" ry="56" fill="none" stroke="#000" stroke-width="1.6" />
<ellipse cx="1175.5" cy="1427.6" rx="2.3" ry="1.9" fill="#000"/>
<ellipse cx="1193.8" cy="1428.6" rx="2.3" ry="1.9" fill="#000"/>
<ellipse cx="1207.2" cy="1425.2" rx="2.3" ry="1.9" fill="#000"/>
<ellipse cx="1267.4" cy="1431.1" rx="2.3" ry="1.9" fill="#000"/>
<ellipse cx="1301.6" cy="1425.9" rx="2.3" ry="1.9" fill="#000"/>
<ellipse cx="1310.1" cy="1430.6" rx="2.3" ry="1.9" fill="#000"/>
<ellipse cx="1138.7" cy="1444.8" rx="2.3" ry="1.9" fill="#000"/>
<ellipse cx="1162.4" cy="1437.1" rx="2.3" ry="1.9" fill="#000"/>
<ellipse cx="1203.6" cy="1440.9" rx="2.3" ry="1.9" fill="#000"/>
<ellipse cx="1325.8" cy="1444.0" rx="2.3" ry="1.9" fill="#000"/>
<ellipse cx="1341.5" cy="1443.9" rx="2.3" ry="1.9" fill="#000"/>
<ellipse cx="1356.5" cy="1440.1" rx="2.3" ry="1.9" fill="#000"/>
<ellipse cx="1122.8" cy="1455.6" rx="2.3" ry="1.9" fill="#000"/>
<ellipse cx="1154.1" cy="1452.4" rx="2.3" ry="1.9" fill="#000"/>
<ellipse cx="1173.4" cy="1451.4" rx="2.3" ry="1.9" fill="#000"/>
<ellipse cx="1334.2" cy="1455.7" rx="2.3" ry="1.9" fill="#000"/>
<ellipse cx="1344.3" cy="1451.4" rx="2.3" ry="1.9" fill="#000"/>
<ellipse cx="1361.3" cy="1451.7" rx="2.3" ry="1.9" fill="#000"/>
<ellipse cx="1402.1" cy="1457.9" rx="2.3" ry="1.9" fill="#000"/>
<ellipse cx="1145.6" cy="1468.0" rx="2.3" ry="1.9" fill="#000"/>
<ellipse cx="1371.4" cy="1468.0" rx="2.3" ry="1.9" fill="#000"/>
<ellipse cx="1387.5" cy="1467.6" rx="2.3" ry="1.9" fill="#000"/>
<ellipse cx="1409.6" cy="1470.6" rx="2.3" ry="1.9" fill="#000"/>
<ellipse cx="1088.6" cy="1483.2" rx="2.3" ry="1.9" fill="#000"/>
<ellipse cx="1114.7" cy="1480.3" rx="2.3" ry="1.9" fill="#000"/>
<ellipse cx="1123.8" cy="1483.3" rx="2.3" ry="1.9" fill="#000"/>
<ellipse cx="1141.2" cy="1476.7" rx="2.3" ry="1.9" fill="#000"/>
<ellipse cx="1365.7" cy="1480.2" rx="2.3" ry="1.9" fill="#000"/>
<ellipse cx="1381.7" cy="1478.5" rx="2.3" ry="1.9" fill="#000"/>
<ellipse cx="1419.2" cy="1483.7" rx="2.3" ry="1.9" fill="#000"/>
<ellipse cx="1101.3" cy="1489.2" rx="2.3" ry="1.9" fill="#000"/>
<ellipse cx="1117.2" cy="1492.2" rx="2.3" ry="1.9" fill="#000"/>
<ellipse cx="1134.8" cy="1492.9" rx="2.3" ry="1.9" fill="#000"/>
<ellipse cx="1145.8" cy="1493.3" rx="2.3" ry="1.9" fill="#000"/>
<ellipse cx="1385.4" cy="1493.2" rx="2.3" ry="1.9" fill="#000"/>
<ellipse cx="1404.5" cy="1492.3" rx="2.3" ry="1.9" fill="#000"/>
<ellipse cx="1418.9" cy="1490.6" rx="2.3" ry="1.9" fill="#000"/>
<ellipse cx="1096.3" cy="1503.9" rx="2.3" ry="1.9" fill="#000"/>
<ellipse cx="1394.2" cy="1503.6" rx="2.3" ry="1.9" fill="#000"/>
<ellipse cx="1097.9" cy="1518.7" rx="2.3" ry="1.9" fill="#000"/>
<ellipse cx="1150.4" cy="1520.9" rx="2.3" ry="1.9" fill="#000"/>
<ellipse cx="1375.2" cy="1518.2" rx="2.3" ry="1.9" fill="#000"/>
<ellipse cx="1383.8" cy="1517.7" rx="2.3" ry="1.9" fill="#000"/>
<ellipse cx="1400.1" cy="1517.8" rx="2.3" ry="1.9" fill="#000"/>
<ellipse cx="1107.7" cy="1536.0" rx="2.3" ry="1.9" fill="#000"/>
<ellipse cx="1128.4" cy="1534.1" rx="2.3" ry="1.9" fill="#000"/>
<ellipse cx="1137.3" cy="1532.9" rx="2.3" ry="1.9" fill="#000"/>
<ellipse cx="1358.7" cy="1535.6" rx="2.3" ry="1.9" fill="#000"/>
<ellipse cx="1381.3" cy="1532.8" rx="2.3" ry="1.9" fill="#000"/>
<ellipse cx="1395.4" cy="1533.2" rx="2.3" ry="1.9" fill="#000"/>
<ellipse cx="1137.0" cy="1541.4" rx="2.3" ry="1.9" fill="#000"/>
<ellipse cx="1156.3" cy="1541.6" rx="2.3" ry="1.9" fill="#000"/>
<ellipse cx="1167.2" cy="1544.8" rx="2.3" ry="1.9" fill="#000"/>
<ellipse cx="1354.0" cy="1547.2" rx="2.3" ry="1.9" fill="#000"/>
<ellipse cx="1378.0" cy="1548.6" rx="2.3" ry="1.9" fill="#000"/>
<ellipse cx="1385.9" cy="1541.9" rx="2.3" ry="1.9" fill="#000"/>
<ellipse cx="1196.1" cy="1558.4" rx="2.3" ry="1.9" fill="#000"/>
<ellipse cx="1333.7" cy="1557.0" rx="2.3" ry="1.9" fill="#000"/>
<ellipse cx="1352.9" cy="1556.6" rx="2.3" ry="1.9" fill="#000"/>
<ellipse cx="1367.0" cy="1561.4" rx="2.3" ry="1.9" fill="#000"/>
<ellipse cx="1379.4" cy="1554.8" rx="2.3" ry="1.9" fill="#000"/>
<ellipse cx="1183.4" cy="1567.9" rx="2.3" ry="1.9" fill="#000"/>
<ellipse cx="1202.8" cy="1574.3" rx="2.3" ry="1.9" fill="#000"/>
<ellipse cx="1224.0" cy="1570.5" rx="2.3" ry="1.9" fill="#000"/>
<ellipse cx="1233.7" cy="1569.5" rx="2.3" ry="1.9" fill="#000"/>
<ellipse cx="1268.3" cy="1569.9" rx="2.3" ry="1.9" fill="#000"/>
<ellipse cx="1304.8" cy="1573.4" rx="2.3" ry="1.9" fill="#000"/>
<ellipse cx="1352.4" cy="1567.2" rx="2.3" ry="1.9" fill="#000"/>
<path d="M1046.0,1002.5 A204.5,125 0 0 1 1455.0,1002.5 L1455.0,1287 A204.5,103 0 0 1 1046.0,1287 Z" fill="#fff" stroke="none"/>
<line x1="1046" y1="1002.5" x2="1046" y2="1287" stroke="#000" stroke-width="2.4"/>
<line x1="1455" y1="1002.5" x2="1455" y2="1287" stroke="#000" stroke-width="2.4"/>
<line x1="1049" y1="1007.5" x2="1049" y2="1281" stroke="#000" stroke-width="1.2"/>
<line x1="1452" y1="1007.5" x2="1452" y2="1281" stroke="#000" stroke-width="1.2"/>
<ellipse cx="1250.5" cy="1002.5" rx="204.5" ry="125" fill="none" stroke="#000" stroke-width="2.2" />
<ellipse cx="1250.5" cy="1004" rx="199.5" ry="108.5" fill="none" stroke="#000" stroke-width="1.8" />
<polyline points="1453,1005.5 1452.7,1012 1451.9,1018.6 1450.5,1025.1 1448.6,1031.5 1446.1,1037.9 1443.1,1044.1 1439.6,1050.3 1435.5,1056.3 1430.9,1062.2 1425.9,1068 1420.3,1073.6 1414.3,1079 1407.9,1084.2 1401,1089.1 1393.7,1093.9 1386,1098.4 1377.9,1102.6 1369.5,1106.6 1360.8,1110.3 1351.8,1113.8 1342.4,1116.9 1332.9,1119.7 1323.1,1122.2 1313.1,1124.4 1302.9,1126.2 1292.6,1127.8 1282.2,1129 1271.7,1129.8 1261.1,1130.3 1250.5,1130.5 1239.9,1130.3 1229.3,1129.8 1218.8,1129 1208.4,1127.8 1198.1,1126.2 1187.9,1124.4 1177.9,1122.2 1168.1,1119.7 1158.6,1116.9 1149.2,1113.8 1140.2,1110.3 1131.5,1106.6 1123.1,1102.6 1115,1098.4 1107.3,1093.9 1100,1089.1 1093.1,1084.2 1086.7,1079 1080.7,1073.6 1075.1,1068 1070.1,1062.2 1065.5,1056.3 1061.4,1050.3 1057.9,1044.1 1054.9,1037.9 1052.4,1031.5 1050.5,1025.1 1049.1,1018.6 1048.3,1012 1048,1005.5" fill="none" stroke="#000" stroke-width="1.4"/>
<polyline points="1454.5,1256.4 1454.2,1261.9 1453.4,1267.5 1452,1273 1450,1278.4 1447.5,1283.8 1444.5,1289.2 1441,1294.4 1436.9,1299.5 1432.3,1304.5 1427.2,1309.4 1421.6,1314.1 1415.5,1318.7 1409,1323.1 1402.1,1327.3 1394.7,1331.4 1387,1335.2 1378.9,1338.8 1370.4,1342.2 1361.6,1345.3 1352.5,1348.2 1343.1,1350.8 1333.5,1353.2 1323.6,1355.4 1313.5,1357.2 1303.3,1358.8 1292.9,1360.1 1282.4,1361.1 1271.8,1361.8 1261.2,1362.3 1250.5,1362.4 1239.8,1362.3 1229.2,1361.8 1218.6,1361.1 1208.1,1360.1 1197.7,1358.8 1187.5,1357.2 1177.4,1355.4 1167.5,1353.2 1157.9,1350.8 1148.5,1348.2 1139.4,1345.3 1130.6,1342.2 1122.1,1338.8 1114,1335.2 1106.3,1331.4 1098.9,1327.3 1092,1323.1 1085.5,1318.7 1079.4,1314.1 1073.8,1309.4 1068.7,1304.5 1064.1,1299.5 1060,1294.4 1056.5,1289.2 1053.5,1283.8 1051,1278.4 1049,1273 1047.6,1267.5 1046.8,1261.9 1046.5,1256.4" fill="none" stroke="#000" stroke-width="1.8"/>
<polyline points="1454.5,1263.2 1454.2,1268.7 1453.4,1274.3 1452,1279.8 1450,1285.2 1447.5,1290.6 1444.5,1296 1441,1301.2 1436.9,1306.3 1432.3,1311.3 1427.2,1316.2 1421.6,1320.9 1415.5,1325.5 1409,1329.9 1402.1,1334.1 1394.7,1338.2 1387,1342 1378.9,1345.6 1370.4,1349 1361.6,1352.1 1352.5,1355 1343.1,1357.6 1333.5,1360 1323.6,1362.2 1313.5,1364 1303.3,1365.6 1292.9,1366.9 1282.4,1367.9 1271.8,1368.6 1261.2,1369.1 1250.5,1369.2 1239.8,1369.1 1229.2,1368.6 1218.6,1367.9 1208.1,1366.9 1197.7,1365.6 1187.5,1364 1177.4,1362.2 1167.5,1360 1157.9,1357.6 1148.5,1355 1139.4,1352.1 1130.6,1349 1122.1,1345.6 1114,1342 1106.3,1338.2 1098.9,1334.1 1092,1329.9 1085.5,1325.5 1079.4,1320.9 1073.8,1316.2 1068.7,1311.3 1064.1,1306.3 1060,1301.2 1056.5,1296 1053.5,1290.6 1051,1285.2 1049,1279.8 1047.6,1274.3 1046.8,1268.7 1046.5,1263.2" fill="none" stroke="#000" stroke-width="1.6"/>
<polyline points="1454.5,1283 1454.2,1288.4 1453.4,1293.8 1452,1299.1 1450,1304.4 1447.5,1309.7 1444.5,1314.8 1441,1319.9 1436.9,1324.9 1432.3,1329.8 1427.2,1334.5 1421.6,1339.1 1415.5,1343.5 1409,1347.8 1402.1,1351.9 1394.7,1355.8 1387,1359.5 1378.9,1363 1370.4,1366.3 1361.6,1369.4 1352.5,1372.2 1343.1,1374.8 1333.5,1377.1 1323.6,1379.2 1313.5,1381 1303.3,1382.5 1292.9,1383.7 1282.4,1384.7 1271.8,1385.4 1261.2,1385.9 1250.5,1386 1239.8,1385.9 1229.2,1385.4 1218.6,1384.7 1208.1,1383.7 1197.7,1382.5 1187.5,1381 1177.4,1379.2 1167.5,1377.1 1157.9,1374.8 1148.5,1372.2 1139.4,1369.4 1130.6,1366.3 1122.1,1363 1114,1359.5 1106.3,1355.8 1098.9,1351.9 1092,1347.8 1085.5,1343.5 1079.4,1339.1 1073.8,1334.5 1068.7,1329.8 1064.1,1324.9 1060,1319.9 1056.5,1314.8 1053.5,1309.7 1051,1304.4 1049,1299.1 1047.6,1293.8 1046.8,1288.4 1046.5,1283" fill="none" stroke="#000" stroke-width="1.6"/>
<polyline points="1454.5,1287 1454.2,1292.4 1453.4,1297.8 1452,1303.1 1450,1308.4 1447.5,1313.7 1444.5,1318.8 1441,1323.9 1436.9,1328.9 1432.3,1333.8 1427.2,1338.5 1421.6,1343.1 1415.5,1347.5 1409,1351.8 1402.1,1355.9 1394.7,1359.8 1387,1363.5 1378.9,1367 1370.4,1370.3 1361.6,1373.4 1352.5,1376.2 1343.1,1378.8 1333.5,1381.1 1323.6,1383.2 1313.5,1385 1303.3,1386.5 1292.9,1387.7 1282.4,1388.7 1271.8,1389.4 1261.2,1389.9 1250.5,1390 1239.8,1389.9 1229.2,1389.4 1218.6,1388.7 1208.1,1387.7 1197.7,1386.5 1187.5,1385 1177.4,1383.2 1167.5,1381.1 1157.9,1378.8 1148.5,1376.2 1139.4,1373.4 1130.6,1370.3 1122.1,1367 1114,1363.5 1106.3,1359.8 1098.9,1355.9 1092,1351.8 1085.5,1347.5 1079.4,1343.1 1073.8,1338.5 1068.7,1333.8 1064.1,1328.9 1060,1323.9 1056.5,1318.8 1053.5,1313.7 1051,1308.4 1049,1303.1 1047.6,1297.8 1046.8,1292.4 1046.5,1287" fill="none" stroke="#000" stroke-width="2.4"/>
<path class="k" d="M1453.0,1072.3 C1453.0,1074.5 1453.0,1081.3 1453.0,1085.8 C1453.0,1090.4 1453.0,1094.9 1453.0,1099.4 C1453.0,1103.9 1453.0,1108.4 1453.0,1112.9 C1453.0,1117.5 1453.0,1122.0 1453.0,1126.5 C1453.0,1131.0 1453.0,1135.5 1453.0,1140.1 C1453.0,1144.6 1453.0,1149.1 1453.0,1153.6 C1453.0,1158.1 1453.0,1162.6 1453.0,1167.2 C1453.0,1171.7 1453.0,1178.5 1453.0,1180.7" style="stroke-width:6.2"/>
<path class="w" d="M1453.0,1072.3 C1453.0,1074.5 1453.0,1081.3 1453.0,1085.8 C1453.0,1090.4 1453.0,1094.9 1453.0,1099.4 C1453.0,1103.9 1453.0,1108.4 1453.0,1112.9 C1453.0,1117.5 1453.0,1122.0 1453.0,1126.5 C1453.0,1131.0 1453.0,1135.5 1453.0,1140.1 C1453.0,1144.6 1453.0,1149.1 1453.0,1153.6 C1453.0,1158.1 1453.0,1162.6 1453.0,1167.2 C1453.0,1171.7 1453.0,1178.5 1453.0,1180.7" style="stroke-width:2.6"/>
<ellipse class="c" cx="1452.5" cy="1078.6" rx="0.6" ry="2.6"/>
<ellipse class="c" cx="1452.7" cy="1085.2" rx="0.6" ry="2.6"/>
<ellipse class="c" cx="1452.9" cy="1091.9" rx="0.6" ry="2.6"/>
<ellipse class="c" cx="1453.0" cy="1098.6" rx="0.6" ry="2.6"/>
<ellipse class="c" cx="1453.2" cy="1105.3" rx="0.6" ry="2.6"/>
<ellipse class="c" cx="1453.3" cy="1112.0" rx="0.6" ry="2.6"/>
<ellipse class="c" cx="1453.3" cy="1118.7" rx="0.6" ry="2.6"/>
<ellipse class="c" cx="1453.4" cy="1125.3" rx="0.6" ry="2.6"/>
<ellipse class="c" cx="1453.4" cy="1132.0" rx="0.6" ry="2.6"/>
<ellipse class="c" cx="1453.4" cy="1138.7" rx="0.6" ry="2.6"/>
<ellipse class="c" cx="1453.3" cy="1145.4" rx="0.6" ry="2.6"/>
<ellipse class="c" cx="1453.3" cy="1152.1" rx="0.6" ry="2.6"/>
<ellipse class="c" cx="1453.2" cy="1158.8" rx="0.6" ry="2.6"/>
<ellipse class="c" cx="1453.0" cy="1165.4" rx="0.6" ry="2.6"/>
<ellipse class="c" cx="1452.9" cy="1172.1" rx="0.6" ry="2.6"/>
<ellipse class="c" cx="1452.7" cy="1178.8" rx="0.6" ry="2.6"/>
<ellipse class="c" cx="1452.5" cy="1185.5" rx="0.6" ry="2.6"/>
<ellipse class="b" cx="1451.3" cy="1096.8" rx="1.3" ry="4.9"/>
<ellipse class="i" cx="1451.3" cy="1097.4" rx="0.5" ry="1.9"/>
<ellipse class="b" cx="1452.1" cy="1117.3" rx="1.3" ry="4.9"/>
<ellipse class="i" cx="1452.1" cy="1117.9" rx="0.5" ry="1.9"/>
<ellipse class="b" cx="1452.4" cy="1137.7" rx="1.3" ry="4.9"/>
<ellipse class="i" cx="1452.4" cy="1138.3" rx="0.5" ry="1.9"/>
<ellipse class="b" cx="1452.1" cy="1158.2" rx="1.3" ry="4.9"/>
<ellipse class="i" cx="1452.1" cy="1158.8" rx="0.5" ry="1.9"/>
<ellipse class="b" cx="1451.3" cy="1178.6" rx="1.3" ry="4.9"/>
<ellipse class="i" cx="1451.3" cy="1179.2" rx="0.5" ry="1.9"/>
<ellipse class="c" cx="1447.7" cy="1090.7" rx="0.6" ry="2.6"/>
<ellipse class="c" cx="1448.3" cy="1097.7" rx="0.6" ry="2.6"/>
<ellipse class="c" cx="1448.9" cy="1104.6" rx="0.6" ry="2.6"/>
<ellipse class="c" cx="1449.4" cy="1111.5" rx="0.6" ry="2.6"/>
<ellipse class="c" cx="1449.7" cy="1118.5" rx="0.6" ry="2.6"/>
<ellipse class="c" cx="1450.0" cy="1125.4" rx="0.6" ry="2.6"/>
<ellipse class="c" cx="1450.2" cy="1132.3" rx="0.6" ry="2.6"/>
<ellipse class="c" cx="1450.3" cy="1139.3" rx="0.6" ry="2.6"/>
<ellipse class="c" cx="1450.3" cy="1146.2" rx="0.6" ry="2.6"/>
<ellipse class="c" cx="1450.2" cy="1153.1" rx="0.6" ry="2.6"/>
<ellipse class="c" cx="1450.0" cy="1160.1" rx="0.6" ry="2.6"/>
<ellipse class="c" cx="1449.7" cy="1167.0" rx="0.6" ry="2.6"/>
<ellipse class="c" cx="1449.4" cy="1174.0" rx="0.6" ry="2.6"/>
<ellipse class="c" cx="1448.9" cy="1180.9" rx="0.6" ry="2.6"/>
<ellipse class="c" cx="1448.3" cy="1187.8" rx="0.6" ry="2.6"/>
<ellipse class="c" cx="1447.7" cy="1194.8" rx="0.6" ry="2.6"/>
<path class="k" d="M1444.6,1095.6 C1444.9,1097.7 1445.6,1104.1 1446.0,1108.4 C1446.4,1112.6 1446.8,1116.9 1447.0,1121.1 C1447.3,1125.4 1447.5,1129.7 1447.6,1133.9 C1447.8,1138.2 1447.8,1142.4 1447.8,1146.7 C1447.8,1150.9 1447.8,1155.2 1447.6,1159.5 C1447.5,1163.7 1447.3,1168.0 1447.0,1172.2 C1446.8,1176.5 1446.4,1180.8 1446.0,1185.0 C1445.6,1189.3 1444.9,1195.7 1444.6,1197.8" style="stroke-width:7.4"/>
<path class="w" d="M1444.6,1095.6 C1444.9,1097.7 1445.6,1104.1 1446.0,1108.4 C1446.4,1112.6 1446.8,1116.9 1447.0,1121.1 C1447.3,1125.4 1447.5,1129.7 1447.6,1133.9 C1447.8,1138.2 1447.8,1142.4 1447.8,1146.7 C1447.8,1150.9 1447.8,1155.2 1447.6,1159.5 C1447.5,1163.7 1447.3,1168.0 1447.0,1172.2 C1446.8,1176.5 1446.4,1180.8 1446.0,1185.0 C1445.6,1189.3 1444.9,1195.7 1444.6,1197.8" style="stroke-width:3.8"/>
<ellipse class="c" cx="1439.3" cy="1101.0" rx="1.0" ry="2.6"/>
<ellipse class="c" cx="1440.3" cy="1107.7" rx="1.0" ry="2.6"/>
<ellipse class="c" cx="1441.2" cy="1114.5" rx="1.0" ry="2.6"/>
<ellipse class="c" cx="1441.9" cy="1121.3" rx="1.0" ry="2.6"/>
<ellipse class="c" cx="1442.5" cy="1128.1" rx="1.0" ry="2.6"/>
<ellipse class="c" cx="1442.9" cy="1134.9" rx="1.0" ry="2.6"/>
<ellipse class="c" cx="1443.2" cy="1141.7" rx="1.0" ry="2.6"/>
<ellipse class="c" cx="1443.4" cy="1148.5" rx="1.0" ry="2.6"/>
<ellipse class="c" cx="1443.4" cy="1155.3" rx="1.0" ry="2.6"/>
<ellipse class="c" cx="1443.2" cy="1162.1" rx="1.0" ry="2.6"/>
<ellipse class="c" cx="1442.9" cy="1168.9" rx="1.0" ry="2.6"/>
<ellipse class="c" cx="1442.5" cy="1175.7" rx="1.0" ry="2.6"/>
<ellipse class="c" cx="1441.9" cy="1182.5" rx="1.0" ry="2.6"/>
<ellipse class="c" cx="1441.2" cy="1189.3" rx="1.0" ry="2.6"/>
<ellipse class="c" cx="1440.3" cy="1196.1" rx="1.0" ry="2.6"/>
<ellipse class="c" cx="1439.3" cy="1202.9" rx="1.0" ry="2.6"/>
<ellipse class="b" cx="1434.5" cy="1118.2" rx="2.6" ry="4.9"/>
<ellipse class="i" cx="1434.5" cy="1118.8" rx="1.0" ry="1.9"/>
<ellipse class="b" cx="1436.7" cy="1137.7" rx="2.6" ry="4.9"/>
<ellipse class="i" cx="1436.7" cy="1138.3" rx="1.0" ry="1.9"/>
<ellipse class="b" cx="1437.4" cy="1157.1" rx="2.6" ry="4.9"/>
<ellipse class="i" cx="1437.4" cy="1157.7" rx="1.0" ry="1.9"/>
<ellipse class="b" cx="1436.7" cy="1176.6" rx="2.6" ry="4.9"/>
<ellipse class="i" cx="1436.7" cy="1177.2" rx="1.0" ry="1.9"/>
<ellipse class="b" cx="1434.5" cy="1196.1" rx="2.6" ry="4.9"/>
<ellipse class="i" cx="1434.5" cy="1196.7" rx="1.0" ry="1.9"/>
<ellipse class="c" cx="1425.4" cy="1111.8" rx="1.3" ry="2.6"/>
<ellipse class="c" cx="1426.8" cy="1118.5" rx="1.3" ry="2.6"/>
<ellipse class="c" cx="1428.0" cy="1125.1" rx="1.3" ry="2.6"/>
<ellipse class="c" cx="1429.0" cy="1131.7" rx="1.3" ry="2.6"/>
<ellipse class="c" cx="1429.8" cy="1138.4" rx="1.3" ry="2.6"/>
<ellipse class="c" cx="1430.4" cy="1145.0" rx="1.3" ry="2.6"/>
<ellipse class="c" cx="1430.8" cy="1151.7" rx="1.3" ry="2.6"/>
<ellipse class="c" cx="1431.0" cy="1158.3" rx="1.3" ry="2.6"/>
<ellipse class="c" cx="1431.0" cy="1165.0" rx="1.3" ry="2.6"/>
<ellipse class="c" cx="1430.8" cy="1171.6" rx="1.3" ry="2.6"/>
<ellipse class="c" cx="1430.4" cy="1178.2" rx="1.3" ry="2.6"/>
<ellipse class="c" cx="1429.8" cy="1184.9" rx="1.3" ry="2.6"/>
<ellipse class="c" cx="1429.0" cy="1191.5" rx="1.3" ry="2.6"/>
<ellipse class="c" cx="1428.0" cy="1198.2" rx="1.3" ry="2.6"/>
<ellipse class="c" cx="1426.8" cy="1204.8" rx="1.3" ry="2.6"/>
<ellipse class="c" cx="1425.4" cy="1211.5" rx="1.3" ry="2.6"/>
<path class="k" d="M1419.5,1118.0 C1419.9,1119.9 1421.3,1125.8 1422.0,1129.8 C1422.7,1133.7 1423.3,1137.6 1423.7,1141.5 C1424.2,1145.5 1424.5,1149.4 1424.8,1153.3 C1425.0,1157.2 1425.1,1161.2 1425.1,1165.1 C1425.1,1169.0 1425.0,1172.9 1424.8,1176.9 C1424.5,1180.8 1424.2,1184.7 1423.7,1188.6 C1423.3,1192.6 1422.7,1196.5 1422.0,1200.4 C1421.3,1204.3 1419.9,1210.2 1419.5,1212.2" style="stroke-width:10.8"/>
<path class="w" d="M1419.5,1118.0 C1419.9,1119.9 1421.3,1125.8 1422.0,1129.8 C1422.7,1133.7 1423.3,1137.6 1423.7,1141.5 C1424.2,1145.5 1424.5,1149.4 1424.8,1153.3 C1425.0,1157.2 1425.1,1161.2 1425.1,1165.1 C1425.1,1169.0 1425.0,1172.9 1424.8,1176.9 C1424.5,1180.8 1424.2,1184.7 1423.7,1188.6 C1423.3,1192.6 1422.7,1196.5 1422.0,1200.4 C1421.3,1204.3 1419.9,1210.2 1419.5,1212.2" style="stroke-width:7.2"/>
<path class="k" d="M1419.5,1118.0 C1419.9,1119.9 1421.3,1125.8 1422.0,1129.8 C1422.7,1133.7 1423.3,1137.6 1423.7,1141.5 C1424.2,1145.5 1424.5,1149.4 1424.8,1153.3 C1425.0,1157.2 1425.1,1161.2 1425.1,1165.1 C1425.1,1169.0 1425.0,1172.9 1424.8,1176.9 C1424.5,1180.8 1424.2,1184.7 1423.7,1188.6 C1423.3,1192.6 1422.7,1196.5 1422.0,1200.4 C1421.3,1204.3 1419.9,1210.2 1419.5,1212.2" style="stroke-width:5.0"/>
<path class="w" d="M1419.5,1118.0 C1419.9,1119.9 1421.3,1125.8 1422.0,1129.8 C1422.7,1133.7 1423.3,1137.6 1423.7,1141.5 C1424.2,1145.5 1424.5,1149.4 1424.8,1153.3 C1425.0,1157.2 1425.1,1161.2 1425.1,1165.1 C1425.1,1169.0 1425.0,1172.9 1424.8,1176.9 C1424.5,1180.8 1424.2,1184.7 1423.7,1188.6 C1423.3,1192.6 1422.7,1196.5 1422.0,1200.4 C1421.3,1204.3 1419.9,1210.2 1419.5,1212.2" style="stroke-width:3.8"/>
<ellipse class="c" cx="1409.4" cy="1120.8" rx="1.6" ry="2.6"/>
<ellipse class="c" cx="1411.2" cy="1127.8" rx="1.6" ry="2.6"/>
<ellipse class="c" cx="1412.7" cy="1134.8" rx="1.6" ry="2.6"/>
<ellipse class="c" cx="1414.0" cy="1141.7" rx="1.6" ry="2.6"/>
<ellipse class="c" cx="1415.0" cy="1148.7" rx="1.6" ry="2.6"/>
<ellipse class="c" cx="1415.7" cy="1155.6" rx="1.6" ry="2.6"/>
<ellipse class="c" cx="1416.1" cy="1162.6" rx="1.6" ry="2.6"/>
<ellipse class="c" cx="1416.2" cy="1169.5" rx="1.6" ry="2.6"/>
<ellipse class="c" cx="1416.1" cy="1176.5" rx="1.6" ry="2.6"/>
<ellipse class="c" cx="1415.7" cy="1183.4" rx="1.6" ry="2.6"/>
<ellipse class="c" cx="1415.0" cy="1190.4" rx="1.6" ry="2.6"/>
<ellipse class="c" cx="1414.0" cy="1197.3" rx="1.6" ry="2.6"/>
<ellipse class="c" cx="1412.7" cy="1204.3" rx="1.6" ry="2.6"/>
<ellipse class="c" cx="1411.2" cy="1211.3" rx="1.6" ry="2.6"/>
<ellipse class="c" cx="1409.4" cy="1218.2" rx="1.6" ry="2.6"/>
<ellipse class="b" cx="1401.3" cy="1136.5" rx="4.0" ry="4.9"/>
<ellipse class="i" cx="1401.3" cy="1137.1" rx="1.5" ry="1.9"/>
<ellipse class="b" cx="1404.7" cy="1155.2" rx="4.0" ry="4.9"/>
<ellipse class="i" cx="1404.7" cy="1155.8" rx="1.5" ry="1.9"/>
<ellipse class="b" cx="1405.8" cy="1173.8" rx="4.0" ry="4.9"/>
<ellipse class="i" cx="1405.8" cy="1174.4" rx="1.5" ry="1.9"/>
<ellipse class="b" cx="1404.7" cy="1192.5" rx="4.0" ry="4.9"/>
<ellipse class="i" cx="1404.7" cy="1193.1" rx="1.5" ry="1.9"/>
<ellipse class="b" cx="1401.3" cy="1211.1" rx="4.0" ry="4.9"/>
<ellipse class="i" cx="1401.3" cy="1211.7" rx="1.5" ry="1.9"/>
<ellipse class="c" cx="1387.6" cy="1129.6" rx="1.9" ry="2.6"/>
<ellipse class="c" cx="1389.7" cy="1136.5" rx="1.9" ry="2.6"/>
<ellipse class="c" cx="1391.5" cy="1143.3" rx="1.9" ry="2.6"/>
<ellipse class="c" cx="1393.0" cy="1150.1" rx="1.9" ry="2.6"/>
<ellipse class="c" cx="1394.2" cy="1156.9" rx="1.9" ry="2.6"/>
<ellipse class="c" cx="1395.0" cy="1163.8" rx="1.9" ry="2.6"/>
<ellipse class="c" cx="1395.5" cy="1170.6" rx="1.9" ry="2.6"/>
<ellipse class="c" cx="1395.7" cy="1177.4" rx="1.9" ry="2.6"/>
<ellipse class="c" cx="1395.5" cy="1184.2" rx="1.9" ry="2.6"/>
<ellipse class="c" cx="1395.0" cy="1191.1" rx="1.9" ry="2.6"/>
<ellipse class="c" cx="1394.2" cy="1197.9" rx="1.9" ry="2.6"/>
<ellipse class="c" cx="1393.0" cy="1204.7" rx="1.9" ry="2.6"/>
<ellipse class="c" cx="1391.5" cy="1211.5" rx="1.9" ry="2.6"/>
<ellipse class="c" cx="1389.7" cy="1218.4" rx="1.9" ry="2.6"/>
<ellipse class="c" cx="1387.6" cy="1225.2" rx="1.9" ry="2.6"/>
<path class="k" d="M1379.7,1136.2 C1380.2,1138.0 1381.9,1143.5 1382.8,1147.2 C1383.7,1150.8 1384.5,1154.5 1385.1,1158.1 C1385.7,1161.8 1386.2,1165.4 1386.5,1169.1 C1386.8,1172.7 1386.9,1176.4 1386.9,1180.1 C1386.9,1183.7 1386.8,1187.4 1386.5,1191.0 C1386.2,1194.7 1385.7,1198.3 1385.1,1202.0 C1384.5,1205.6 1383.7,1209.3 1382.8,1212.9 C1381.9,1216.6 1380.2,1222.1 1379.7,1223.9" style="stroke-width:13.6"/>
<path class="w" d="M1379.7,1136.2 C1380.2,1138.0 1381.9,1143.5 1382.8,1147.2 C1383.7,1150.8 1384.5,1154.5 1385.1,1158.1 C1385.7,1161.8 1386.2,1165.4 1386.5,1169.1 C1386.8,1172.7 1386.9,1176.4 1386.9,1180.1 C1386.9,1183.7 1386.8,1187.4 1386.5,1191.0 C1386.2,1194.7 1385.7,1198.3 1385.1,1202.0 C1384.5,1205.6 1383.7,1209.3 1382.8,1212.9 C1381.9,1216.6 1380.2,1222.1 1379.7,1223.9" style="stroke-width:10.0"/>
<path class="k" d="M1379.7,1136.2 C1380.2,1138.0 1381.9,1143.5 1382.8,1147.2 C1383.7,1150.8 1384.5,1154.5 1385.1,1158.1 C1385.7,1161.8 1386.2,1165.4 1386.5,1169.1 C1386.8,1172.7 1386.9,1176.4 1386.9,1180.1 C1386.9,1183.7 1386.8,1187.4 1386.5,1191.0 C1386.2,1194.7 1385.7,1198.3 1385.1,1202.0 C1384.5,1205.6 1383.7,1209.3 1382.8,1212.9 C1381.9,1216.6 1380.2,1222.1 1379.7,1223.9" style="stroke-width:7.8"/>
<path class="w" d="M1379.7,1136.2 C1380.2,1138.0 1381.9,1143.5 1382.8,1147.2 C1383.7,1150.8 1384.5,1154.5 1385.1,1158.1 C1385.7,1161.8 1386.2,1165.4 1386.5,1169.1 C1386.8,1172.7 1386.9,1176.4 1386.9,1180.1 C1386.9,1183.7 1386.8,1187.4 1386.5,1191.0 C1386.2,1194.7 1385.7,1198.3 1385.1,1202.0 C1384.5,1205.6 1383.7,1209.3 1382.8,1212.9 C1381.9,1216.6 1380.2,1222.1 1379.7,1223.9" style="stroke-width:6.6"/>
<ellipse class="c" cx="1365.3" cy="1136.2" rx="2.2" ry="2.6"/>
<ellipse class="c" cx="1367.7" cy="1143.0" rx="2.2" ry="2.6"/>
<ellipse class="c" cx="1369.7" cy="1149.7" rx="2.2" ry="2.6"/>
<ellipse class="c" cx="1371.4" cy="1156.4" rx="2.2" ry="2.6"/>
<ellipse class="c" cx="1372.7" cy="1163.1" rx="2.2" ry="2.6"/>
<ellipse class="c" cx="1373.6" cy="1169.9" rx="2.2" ry="2.6"/>
<ellipse class="c" cx="1374.2" cy="1176.6" rx="2.2" ry="2.6"/>
<ellipse class="c" cx="1374.4" cy="1183.3" rx="2.2" ry="2.6"/>
<ellipse class="c" cx="1374.2" cy="1190.1" rx="2.2" ry="2.6"/>
<ellipse class="c" cx="1373.6" cy="1196.8" rx="2.2" ry="2.6"/>
<ellipse class="c" cx="1372.7" cy="1203.5" rx="2.2" ry="2.6"/>
<ellipse class="c" cx="1371.4" cy="1210.2" rx="2.2" ry="2.6"/>
<ellipse class="c" cx="1369.7" cy="1217.0" rx="2.2" ry="2.6"/>
<ellipse class="c" cx="1367.7" cy="1223.7" rx="2.2" ry="2.6"/>
<ellipse class="c" cx="1365.3" cy="1230.4" rx="2.2" ry="2.6"/>
<ellipse class="b" cx="1354.8" cy="1150.3" rx="5.1" ry="4.9"/>
<ellipse class="i" cx="1354.8" cy="1150.9" rx="1.9" ry="1.9"/>
<ellipse class="b" cx="1359.1" cy="1168.3" rx="5.1" ry="4.9"/>
<ellipse class="i" cx="1359.1" cy="1168.9" rx="1.9" ry="1.9"/>
<ellipse class="b" cx="1360.5" cy="1186.3" rx="5.1" ry="4.9"/>
<ellipse class="i" cx="1360.5" cy="1186.9" rx="1.9" ry="1.9"/>
<ellipse class="b" cx="1359.1" cy="1204.4" rx="5.1" ry="4.9"/>
<ellipse class="i" cx="1359.1" cy="1205.0" rx="1.9" ry="1.9"/>
<ellipse class="b" cx="1354.8" cy="1222.4" rx="5.1" ry="4.9"/>
<ellipse class="i" cx="1354.8" cy="1223.0" rx="1.9" ry="1.9"/>
<ellipse class="c" cx="1337.5" cy="1142.2" rx="2.4" ry="2.6"/>
<ellipse class="c" cx="1340.2" cy="1148.8" rx="2.4" ry="2.6"/>
<ellipse class="c" cx="1342.4" cy="1155.5" rx="2.4" ry="2.6"/>
<ellipse class="c" cx="1344.2" cy="1162.1" rx="2.4" ry="2.6"/>
<ellipse class="c" cx="1345.6" cy="1168.7" rx="2.4" ry="2.6"/>
<ellipse class="c" cx="1346.6" cy="1175.4" rx="2.4" ry="2.6"/>
<ellipse class="c" cx="1347.2" cy="1182.0" rx="2.4" ry="2.6"/>
<ellipse class="c" cx="1347.4" cy="1188.7" rx="2.4" ry="2.6"/>
<ellipse class="c" cx="1347.2" cy="1195.3" rx="2.4" ry="2.6"/>
<ellipse class="c" cx="1346.6" cy="1201.9" rx="2.4" ry="2.6"/>
<ellipse class="c" cx="1345.6" cy="1208.6" rx="2.4" ry="2.6"/>
<ellipse class="c" cx="1344.2" cy="1215.2" rx="2.4" ry="2.6"/>
<ellipse class="c" cx="1342.4" cy="1221.8" rx="2.4" ry="2.6"/>
<ellipse class="c" cx="1340.2" cy="1228.5" rx="2.4" ry="2.6"/>
<ellipse class="c" cx="1337.5" cy="1235.1" rx="2.4" ry="2.6"/>
<path class="k" d="M1328.4,1148.6 C1329.0,1150.4 1330.9,1155.6 1332.0,1159.0 C1333.0,1162.5 1333.9,1166.0 1334.5,1169.4 C1335.2,1172.9 1335.7,1176.4 1336.1,1179.9 C1336.4,1183.3 1336.6,1186.8 1336.6,1190.3 C1336.6,1193.7 1336.4,1197.2 1336.1,1200.7 C1335.7,1204.1 1335.2,1207.6 1334.5,1211.1 C1333.9,1214.5 1333.0,1218.0 1332.0,1221.5 C1330.9,1225.0 1329.0,1230.2 1328.4,1231.9" style="stroke-width:15.5"/>
<path class="w" d="M1328.4,1148.6 C1329.0,1150.4 1330.9,1155.6 1332.0,1159.0 C1333.0,1162.5 1333.9,1166.0 1334.5,1169.4 C1335.2,1172.9 1335.7,1176.4 1336.1,1179.9 C1336.4,1183.3 1336.6,1186.8 1336.6,1190.3 C1336.6,1193.7 1336.4,1197.2 1336.1,1200.7 C1335.7,1204.1 1335.2,1207.6 1334.5,1211.1 C1333.9,1214.5 1333.0,1218.0 1332.0,1221.5 C1330.9,1225.0 1329.0,1230.2 1328.4,1231.9" style="stroke-width:11.9"/>
<path class="k" d="M1328.4,1148.6 C1329.0,1150.4 1330.9,1155.6 1332.0,1159.0 C1333.0,1162.5 1333.9,1166.0 1334.5,1169.4 C1335.2,1172.9 1335.7,1176.4 1336.1,1179.9 C1336.4,1183.3 1336.6,1186.8 1336.6,1190.3 C1336.6,1193.7 1336.4,1197.2 1336.1,1200.7 C1335.7,1204.1 1335.2,1207.6 1334.5,1211.1 C1333.9,1214.5 1333.0,1218.0 1332.0,1221.5 C1330.9,1225.0 1329.0,1230.2 1328.4,1231.9" style="stroke-width:9.7"/>
<path class="w" d="M1328.4,1148.6 C1329.0,1150.4 1330.9,1155.6 1332.0,1159.0 C1333.0,1162.5 1333.9,1166.0 1334.5,1169.4 C1335.2,1172.9 1335.7,1176.4 1336.1,1179.9 C1336.4,1183.3 1336.6,1186.8 1336.6,1190.3 C1336.6,1193.7 1336.4,1197.2 1336.1,1200.7 C1335.7,1204.1 1335.2,1207.6 1334.5,1211.1 C1333.9,1214.5 1333.0,1218.0 1332.0,1221.5 C1330.9,1225.0 1329.0,1230.2 1328.4,1231.9" style="stroke-width:8.5"/>
<ellipse class="c" cx="1311.2" cy="1146.2" rx="2.5" ry="2.6"/>
<ellipse class="c" cx="1314.1" cy="1153.3" rx="2.5" ry="2.6"/>
<ellipse class="c" cx="1316.5" cy="1160.3" rx="2.5" ry="2.6"/>
<ellipse class="c" cx="1318.5" cy="1167.4" rx="2.5" ry="2.6"/>
<ellipse class="c" cx="1319.9" cy="1174.4" rx="2.5" ry="2.6"/>
<ellipse class="c" cx="1320.9" cy="1181.5" rx="2.5" ry="2.6"/>
<ellipse class="c" cx="1321.4" cy="1188.6" rx="2.5" ry="2.6"/>
<ellipse class="c" cx="1321.4" cy="1195.6" rx="2.5" ry="2.6"/>
<ellipse class="c" cx="1320.9" cy="1202.7" rx="2.5" ry="2.6"/>
<ellipse class="c" cx="1319.9" cy="1209.7" rx="2.5" ry="2.6"/>
<ellipse class="c" cx="1318.5" cy="1216.8" rx="2.5" ry="2.6"/>
<ellipse class="c" cx="1316.5" cy="1223.8" rx="2.5" ry="2.6"/>
<ellipse class="c" cx="1314.1" cy="1230.9" rx="2.5" ry="2.6"/>
<ellipse class="c" cx="1311.2" cy="1237.9" rx="2.5" ry="2.6"/>
<ellipse class="b" cx="1299.0" cy="1158.2" rx="5.7" ry="4.9"/>
<ellipse class="i" cx="1299.0" cy="1158.8" rx="2.2" ry="1.9"/>
<ellipse class="b" cx="1303.7" cy="1175.8" rx="5.7" ry="4.9"/>
<ellipse class="i" cx="1303.7" cy="1176.4" rx="2.2" ry="1.9"/>
<ellipse class="b" cx="1305.3" cy="1193.5" rx="5.7" ry="4.9"/>
<ellipse class="i" cx="1305.3" cy="1194.1" rx="2.2" ry="1.9"/>
<ellipse class="b" cx="1303.7" cy="1211.2" rx="5.7" ry="4.9"/>
<ellipse class="i" cx="1303.7" cy="1211.8" rx="2.2" ry="1.9"/>
<ellipse class="b" cx="1299.0" cy="1228.9" rx="5.7" ry="4.9"/>
<ellipse class="i" cx="1299.0" cy="1229.5" rx="2.2" ry="1.9"/>
<ellipse class="c" cx="1279.9" cy="1148.8" rx="2.6" ry="2.6"/>
<ellipse class="c" cx="1282.9" cy="1155.8" rx="2.6" ry="2.6"/>
<ellipse class="c" cx="1285.5" cy="1162.8" rx="2.6" ry="2.6"/>
<ellipse class="c" cx="1287.5" cy="1169.8" rx="2.6" ry="2.6"/>
<ellipse class="c" cx="1289.0" cy="1176.9" rx="2.6" ry="2.6"/>
<ellipse class="c" cx="1290.0" cy="1183.9" rx="2.6" ry="2.6"/>
<ellipse class="c" cx="1290.5" cy="1190.9" rx="2.6" ry="2.6"/>
<ellipse class="c" cx="1290.5" cy="1197.9" rx="2.6" ry="2.6"/>
<ellipse class="c" cx="1290.0" cy="1204.9" rx="2.6" ry="2.6"/>
<ellipse class="c" cx="1289.0" cy="1211.9" rx="2.6" ry="2.6"/>
<ellipse class="c" cx="1287.5" cy="1218.9" rx="2.6" ry="2.6"/>
<ellipse class="c" cx="1285.5" cy="1225.9" rx="2.6" ry="2.6"/>
<ellipse class="c" cx="1282.9" cy="1232.9" rx="2.6" ry="2.6"/>
<ellipse class="c" cx="1279.9" cy="1240.0" rx="2.6" ry="2.6"/>
<path class="k" d="M1270.0,1154.2 C1270.7,1155.9 1272.7,1160.9 1273.8,1164.3 C1274.9,1167.7 1275.7,1171.1 1276.5,1174.5 C1277.2,1177.9 1277.7,1181.3 1278.1,1184.6 C1278.4,1188.0 1278.6,1191.4 1278.6,1194.8 C1278.6,1198.2 1278.4,1201.6 1278.1,1205.0 C1277.7,1208.4 1277.2,1211.7 1276.5,1215.1 C1275.7,1218.5 1274.9,1221.9 1273.8,1225.3 C1272.7,1228.7 1270.7,1233.8 1270.0,1235.5" style="stroke-width:16.4"/>
<path class="w" d="M1270.0,1154.2 C1270.7,1155.9 1272.7,1160.9 1273.8,1164.3 C1274.9,1167.7 1275.7,1171.1 1276.5,1174.5 C1277.2,1177.9 1277.7,1181.3 1278.1,1184.6 C1278.4,1188.0 1278.6,1191.4 1278.6,1194.8 C1278.6,1198.2 1278.4,1201.6 1278.1,1205.0 C1277.7,1208.4 1277.2,1211.7 1276.5,1215.1 C1275.7,1218.5 1274.9,1221.9 1273.8,1225.3 C1272.7,1228.7 1270.7,1233.8 1270.0,1235.5" style="stroke-width:12.8"/>
<path class="k" d="M1270.0,1154.2 C1270.7,1155.9 1272.7,1160.9 1273.8,1164.3 C1274.9,1167.7 1275.7,1171.1 1276.5,1174.5 C1277.2,1177.9 1277.7,1181.3 1278.1,1184.6 C1278.4,1188.0 1278.6,1191.4 1278.6,1194.8 C1278.6,1198.2 1278.4,1201.6 1278.1,1205.0 C1277.7,1208.4 1277.2,1211.7 1276.5,1215.1 C1275.7,1218.5 1274.9,1221.9 1273.8,1225.3 C1272.7,1228.7 1270.7,1233.8 1270.0,1235.5" style="stroke-width:10.6"/>
<path class="w" d="M1270.0,1154.2 C1270.7,1155.9 1272.7,1160.9 1273.8,1164.3 C1274.9,1167.7 1275.7,1171.1 1276.5,1174.5 C1277.2,1177.9 1277.7,1181.3 1278.1,1184.6 C1278.4,1188.0 1278.6,1191.4 1278.6,1194.8 C1278.6,1198.2 1278.4,1201.6 1278.1,1205.0 C1277.7,1208.4 1277.2,1211.7 1276.5,1215.1 C1275.7,1218.5 1274.9,1221.9 1273.8,1225.3 C1272.7,1228.7 1270.7,1233.8 1270.0,1235.5" style="stroke-width:9.4"/>
<ellipse class="c" cx="1251.5" cy="1149.5" rx="2.6" ry="2.6"/>
<ellipse class="c" cx="1254.6" cy="1156.5" rx="2.6" ry="2.6"/>
<ellipse class="c" cx="1257.1" cy="1163.5" rx="2.6" ry="2.6"/>
<ellipse class="c" cx="1259.2" cy="1170.5" rx="2.6" ry="2.6"/>
<ellipse class="c" cx="1260.7" cy="1177.5" rx="2.6" ry="2.6"/>
<ellipse class="c" cx="1261.7" cy="1184.5" rx="2.6" ry="2.6"/>
<ellipse class="c" cx="1262.2" cy="1191.5" rx="2.6" ry="2.6"/>
<ellipse class="c" cx="1262.2" cy="1198.5" rx="2.6" ry="2.6"/>
<ellipse class="c" cx="1261.7" cy="1205.5" rx="2.6" ry="2.6"/>
<ellipse class="c" cx="1260.7" cy="1212.5" rx="2.6" ry="2.6"/>
<ellipse class="c" cx="1259.2" cy="1219.5" rx="2.6" ry="2.6"/>
<ellipse class="c" cx="1257.1" cy="1226.5" rx="2.6" ry="2.6"/>
<ellipse class="c" cx="1254.6" cy="1233.5" rx="2.6" ry="2.6"/>
<ellipse class="c" cx="1251.5" cy="1240.5" rx="2.6" ry="2.6"/>
<ellipse class="b" cx="1238.9" cy="1159.5" rx="5.8" ry="4.9"/>
<ellipse class="i" cx="1238.9" cy="1160.1" rx="2.2" ry="1.9"/>
<ellipse class="b" cx="1243.7" cy="1177.1" rx="5.8" ry="4.9"/>
<ellipse class="i" cx="1243.7" cy="1177.7" rx="2.2" ry="1.9"/>
<ellipse class="b" cx="1245.3" cy="1194.7" rx="5.8" ry="4.9"/>
<ellipse class="i" cx="1245.3" cy="1195.3" rx="2.2" ry="1.9"/>
<ellipse class="b" cx="1243.7" cy="1212.3" rx="5.8" ry="4.9"/>
<ellipse class="i" cx="1243.7" cy="1212.9" rx="2.2" ry="1.9"/>
<ellipse class="b" cx="1238.9" cy="1230.0" rx="5.8" ry="4.9"/>
<ellipse class="i" cx="1238.9" cy="1230.6" rx="2.2" ry="1.9"/>
<ellipse class="c" cx="1219.5" cy="1148.5" rx="2.6" ry="2.6"/>
<ellipse class="c" cx="1222.5" cy="1155.5" rx="2.6" ry="2.6"/>
<ellipse class="c" cx="1225.1" cy="1162.5" rx="2.6" ry="2.6"/>
<ellipse class="c" cx="1227.1" cy="1169.5" rx="2.6" ry="2.6"/>
<ellipse class="c" cx="1228.6" cy="1176.5" rx="2.6" ry="2.6"/>
<ellipse class="c" cx="1229.6" cy="1183.5" rx="2.6" ry="2.6"/>
<ellipse class="c" cx="1230.1" cy="1190.6" rx="2.6" ry="2.6"/>
<ellipse class="c" cx="1230.1" cy="1197.6" rx="2.6" ry="2.6"/>
<ellipse class="c" cx="1229.6" cy="1204.6" rx="2.6" ry="2.6"/>
<ellipse class="c" cx="1228.6" cy="1211.6" rx="2.6" ry="2.6"/>
<ellipse class="c" cx="1227.1" cy="1218.6" rx="2.6" ry="2.6"/>
<ellipse class="c" cx="1225.1" cy="1225.6" rx="2.6" ry="2.6"/>
<ellipse class="c" cx="1222.5" cy="1232.7" rx="2.6" ry="2.6"/>
<ellipse class="c" cx="1219.5" cy="1239.7" rx="2.6" ry="2.6"/>
<path class="k" d="M1209.7,1152.3 C1210.3,1154.0 1212.3,1159.1 1213.4,1162.6 C1214.4,1166.0 1215.3,1169.4 1216.0,1172.8 C1216.7,1176.2 1217.2,1179.6 1217.6,1183.0 C1217.9,1186.5 1218.1,1189.9 1218.1,1193.3 C1218.1,1196.7 1217.9,1200.1 1217.6,1203.5 C1217.2,1206.9 1216.7,1210.4 1216.0,1213.8 C1215.3,1217.2 1214.4,1220.6 1213.4,1224.0 C1212.3,1227.4 1210.3,1232.5 1209.7,1234.3" style="stroke-width:16.1"/>
<path class="w" d="M1209.7,1152.3 C1210.3,1154.0 1212.3,1159.1 1213.4,1162.6 C1214.4,1166.0 1215.3,1169.4 1216.0,1172.8 C1216.7,1176.2 1217.2,1179.6 1217.6,1183.0 C1217.9,1186.5 1218.1,1189.9 1218.1,1193.3 C1218.1,1196.7 1217.9,1200.1 1217.6,1203.5 C1217.2,1206.9 1216.7,1210.4 1216.0,1213.8 C1215.3,1217.2 1214.4,1220.6 1213.4,1224.0 C1212.3,1227.4 1210.3,1232.5 1209.7,1234.3" style="stroke-width:12.5"/>
<path class="k" d="M1209.7,1152.3 C1210.3,1154.0 1212.3,1159.1 1213.4,1162.6 C1214.4,1166.0 1215.3,1169.4 1216.0,1172.8 C1216.7,1176.2 1217.2,1179.6 1217.6,1183.0 C1217.9,1186.5 1218.1,1189.9 1218.1,1193.3 C1218.1,1196.7 1217.9,1200.1 1217.6,1203.5 C1217.2,1206.9 1216.7,1210.4 1216.0,1213.8 C1215.3,1217.2 1214.4,1220.6 1213.4,1224.0 C1212.3,1227.4 1210.3,1232.5 1209.7,1234.3" style="stroke-width:10.3"/>
<path class="w" d="M1209.7,1152.3 C1210.3,1154.0 1212.3,1159.1 1213.4,1162.6 C1214.4,1166.0 1215.3,1169.4 1216.0,1172.8 C1216.7,1176.2 1217.2,1179.6 1217.6,1183.0 C1217.9,1186.5 1218.1,1189.9 1218.1,1193.3 C1218.1,1196.7 1217.9,1200.1 1217.6,1203.5 C1217.2,1206.9 1216.7,1210.4 1216.0,1213.8 C1215.3,1217.2 1214.4,1220.6 1213.4,1224.0 C1212.3,1227.4 1210.3,1232.5 1209.7,1234.3" style="stroke-width:9.1"/>
<ellipse class="c" cx="1191.8" cy="1146.0" rx="2.5" ry="2.6"/>
<ellipse class="c" cx="1194.7" cy="1153.0" rx="2.5" ry="2.6"/>
<ellipse class="c" cx="1197.1" cy="1160.1" rx="2.5" ry="2.6"/>
<ellipse class="c" cx="1199.1" cy="1167.1" rx="2.5" ry="2.6"/>
<ellipse class="c" cx="1200.5" cy="1174.2" rx="2.5" ry="2.6"/>
<ellipse class="c" cx="1201.5" cy="1181.3" rx="2.5" ry="2.6"/>
<ellipse class="c" cx="1202.0" cy="1188.3" rx="2.5" ry="2.6"/>
<ellipse class="c" cx="1202.0" cy="1195.4" rx="2.5" ry="2.6"/>
<ellipse class="c" cx="1201.5" cy="1202.4" rx="2.5" ry="2.6"/>
<ellipse class="c" cx="1200.5" cy="1209.5" rx="2.5" ry="2.6"/>
<ellipse class="c" cx="1199.1" cy="1216.5" rx="2.5" ry="2.6"/>
<ellipse class="c" cx="1197.1" cy="1223.6" rx="2.5" ry="2.6"/>
<ellipse class="c" cx="1194.7" cy="1230.6" rx="2.5" ry="2.6"/>
<ellipse class="c" cx="1191.8" cy="1237.7" rx="2.5" ry="2.6"/>
<ellipse class="b" cx="1179.8" cy="1154.2" rx="5.4" ry="4.9"/>
<ellipse class="i" cx="1179.8" cy="1154.8" rx="2.0" ry="1.9"/>
<ellipse class="b" cx="1184.2" cy="1172.0" rx="5.4" ry="4.9"/>
<ellipse class="i" cx="1184.2" cy="1172.6" rx="2.0" ry="1.9"/>
<ellipse class="b" cx="1185.7" cy="1189.9" rx="5.4" ry="4.9"/>
<ellipse class="i" cx="1185.7" cy="1190.5" rx="2.0" ry="1.9"/>
<ellipse class="b" cx="1184.2" cy="1207.7" rx="5.4" ry="4.9"/>
<ellipse class="i" cx="1184.2" cy="1208.3" rx="2.0" ry="1.9"/>
<ellipse class="b" cx="1179.8" cy="1225.6" rx="5.4" ry="4.9"/>
<ellipse class="i" cx="1179.8" cy="1226.2" rx="2.0" ry="1.9"/>
<ellipse class="c" cx="1161.8" cy="1141.2" rx="2.3" ry="2.6"/>
<ellipse class="c" cx="1164.4" cy="1147.8" rx="2.3" ry="2.6"/>
<ellipse class="c" cx="1166.6" cy="1154.5" rx="2.3" ry="2.6"/>
<ellipse class="c" cx="1168.4" cy="1161.2" rx="2.3" ry="2.6"/>
<ellipse class="c" cx="1169.8" cy="1167.8" rx="2.3" ry="2.6"/>
<ellipse class="c" cx="1170.8" cy="1174.5" rx="2.3" ry="2.6"/>
<ellipse class="c" cx="1171.3" cy="1181.1" rx="2.3" ry="2.6"/>
<ellipse class="c" cx="1171.5" cy="1187.8" rx="2.3" ry="2.6"/>
<ellipse class="c" cx="1171.3" cy="1194.4" rx="2.3" ry="2.6"/>
<ellipse class="c" cx="1170.8" cy="1201.1" rx="2.3" ry="2.6"/>
<ellipse class="c" cx="1169.8" cy="1207.7" rx="2.3" ry="2.6"/>
<ellipse class="c" cx="1168.4" cy="1214.4" rx="2.3" ry="2.6"/>
<ellipse class="c" cx="1166.6" cy="1221.0" rx="2.3" ry="2.6"/>
<ellipse class="c" cx="1164.4" cy="1227.7" rx="2.3" ry="2.6"/>
<ellipse class="c" cx="1161.8" cy="1234.3" rx="2.3" ry="2.6"/>
<path class="k" d="M1152.7,1143.2 C1153.3,1145.0 1155.1,1150.3 1156.1,1153.9 C1157.1,1157.4 1157.9,1161.0 1158.6,1164.5 C1159.2,1168.1 1159.7,1171.6 1160.0,1175.2 C1160.3,1178.7 1160.5,1182.3 1160.5,1185.8 C1160.5,1189.4 1160.3,1192.9 1160.0,1196.5 C1159.7,1200.0 1159.2,1203.6 1158.6,1207.1 C1157.9,1210.7 1157.1,1214.2 1156.1,1217.8 C1155.1,1221.3 1153.3,1226.6 1152.7,1228.4" style="stroke-width:14.7"/>
<path class="w" d="M1152.7,1143.2 C1153.3,1145.0 1155.1,1150.3 1156.1,1153.9 C1157.1,1157.4 1157.9,1161.0 1158.6,1164.5 C1159.2,1168.1 1159.7,1171.6 1160.0,1175.2 C1160.3,1178.7 1160.5,1182.3 1160.5,1185.8 C1160.5,1189.4 1160.3,1192.9 1160.0,1196.5 C1159.7,1200.0 1159.2,1203.6 1158.6,1207.1 C1157.9,1210.7 1157.1,1214.2 1156.1,1217.8 C1155.1,1221.3 1153.3,1226.6 1152.7,1228.4" style="stroke-width:11.1"/>
<path class="k" d="M1152.7,1143.2 C1153.3,1145.0 1155.1,1150.3 1156.1,1153.9 C1157.1,1157.4 1157.9,1161.0 1158.6,1164.5 C1159.2,1168.1 1159.7,1171.6 1160.0,1175.2 C1160.3,1178.7 1160.5,1182.3 1160.5,1185.8 C1160.5,1189.4 1160.3,1192.9 1160.0,1196.5 C1159.7,1200.0 1159.2,1203.6 1158.6,1207.1 C1157.9,1210.7 1157.1,1214.2 1156.1,1217.8 C1155.1,1221.3 1153.3,1226.6 1152.7,1228.4" style="stroke-width:8.9"/>
<path class="w" d="M1152.7,1143.2 C1153.3,1145.0 1155.1,1150.3 1156.1,1153.9 C1157.1,1157.4 1157.9,1161.0 1158.6,1164.5 C1159.2,1168.1 1159.7,1171.6 1160.0,1175.2 C1160.3,1178.7 1160.5,1182.3 1160.5,1185.8 C1160.5,1189.4 1160.3,1192.9 1160.0,1196.5 C1159.7,1200.0 1159.2,1203.6 1158.6,1207.1 C1157.9,1210.7 1157.1,1214.2 1156.1,1217.8 C1155.1,1221.3 1153.3,1226.6 1152.7,1228.4" style="stroke-width:7.7"/>
<ellipse class="c" cx="1137.2" cy="1135.7" rx="2.1" ry="2.6"/>
<ellipse class="c" cx="1139.5" cy="1142.5" rx="2.1" ry="2.6"/>
<ellipse class="c" cx="1141.6" cy="1149.2" rx="2.1" ry="2.6"/>
<ellipse class="c" cx="1143.2" cy="1155.9" rx="2.1" ry="2.6"/>
<ellipse class="c" cx="1144.5" cy="1162.7" rx="2.1" ry="2.6"/>
<ellipse class="c" cx="1145.4" cy="1169.4" rx="2.1" ry="2.6"/>
<ellipse class="c" cx="1145.9" cy="1176.1" rx="2.1" ry="2.6"/>
<ellipse class="c" cx="1146.1" cy="1182.9" rx="2.1" ry="2.6"/>
<ellipse class="c" cx="1145.9" cy="1189.6" rx="2.1" ry="2.6"/>
<ellipse class="c" cx="1145.4" cy="1196.3" rx="2.1" ry="2.6"/>
<ellipse class="c" cx="1144.5" cy="1203.1" rx="2.1" ry="2.6"/>
<ellipse class="c" cx="1143.2" cy="1209.8" rx="2.1" ry="2.6"/>
<ellipse class="c" cx="1141.6" cy="1216.5" rx="2.1" ry="2.6"/>
<ellipse class="c" cx="1139.5" cy="1223.3" rx="2.1" ry="2.6"/>
<ellipse class="c" cx="1137.2" cy="1230.0" rx="2.1" ry="2.6"/>
<ellipse class="b" cx="1126.9" cy="1142.7" rx="4.5" ry="4.9"/>
<ellipse class="i" cx="1126.9" cy="1143.3" rx="1.7" ry="1.9"/>
<ellipse class="b" cx="1130.7" cy="1161.0" rx="4.5" ry="4.9"/>
<ellipse class="i" cx="1130.7" cy="1161.6" rx="1.7" ry="1.9"/>
<ellipse class="b" cx="1131.9" cy="1179.4" rx="4.5" ry="4.9"/>
<ellipse class="i" cx="1131.9" cy="1180.0" rx="1.7" ry="1.9"/>
<ellipse class="b" cx="1130.7" cy="1197.8" rx="4.5" ry="4.9"/>
<ellipse class="i" cx="1130.7" cy="1198.4" rx="1.7" ry="1.9"/>
<ellipse class="b" cx="1126.9" cy="1216.2" rx="4.5" ry="4.9"/>
<ellipse class="i" cx="1126.9" cy="1216.8" rx="1.7" ry="1.9"/>
<ellipse class="c" cx="1112.1" cy="1128.1" rx="1.9" ry="2.6"/>
<ellipse class="c" cx="1114.2" cy="1134.9" rx="1.9" ry="2.6"/>
<ellipse class="c" cx="1115.9" cy="1141.8" rx="1.9" ry="2.6"/>
<ellipse class="c" cx="1117.4" cy="1148.6" rx="1.9" ry="2.6"/>
<ellipse class="c" cx="1118.5" cy="1155.5" rx="1.9" ry="2.6"/>
<ellipse class="c" cx="1119.3" cy="1162.3" rx="1.9" ry="2.6"/>
<ellipse class="c" cx="1119.8" cy="1169.2" rx="1.9" ry="2.6"/>
<ellipse class="c" cx="1120.0" cy="1176.0" rx="1.9" ry="2.6"/>
<ellipse class="c" cx="1119.8" cy="1182.9" rx="1.9" ry="2.6"/>
<ellipse class="c" cx="1119.3" cy="1189.7" rx="1.9" ry="2.6"/>
<ellipse class="c" cx="1118.5" cy="1196.6" rx="1.9" ry="2.6"/>
<ellipse class="c" cx="1117.4" cy="1203.4" rx="1.9" ry="2.6"/>
<ellipse class="c" cx="1115.9" cy="1210.2" rx="1.9" ry="2.6"/>
<ellipse class="c" cx="1114.2" cy="1217.1" rx="1.9" ry="2.6"/>
<ellipse class="c" cx="1112.1" cy="1223.9" rx="1.9" ry="2.6"/>
<path class="k" d="M1104.4,1127.7 C1104.8,1129.6 1106.4,1135.3 1107.2,1139.1 C1108.0,1142.8 1108.7,1146.6 1109.3,1150.4 C1109.8,1154.2 1110.2,1158.0 1110.5,1161.8 C1110.8,1165.5 1110.9,1169.3 1110.9,1173.1 C1110.9,1176.9 1110.8,1180.7 1110.5,1184.4 C1110.2,1188.2 1109.8,1192.0 1109.3,1195.8 C1108.7,1199.6 1108.0,1203.3 1107.2,1207.1 C1106.4,1210.9 1104.8,1216.6 1104.4,1218.5" style="stroke-width:12.3"/>
<path class="w" d="M1104.4,1127.7 C1104.8,1129.6 1106.4,1135.3 1107.2,1139.1 C1108.0,1142.8 1108.7,1146.6 1109.3,1150.4 C1109.8,1154.2 1110.2,1158.0 1110.5,1161.8 C1110.8,1165.5 1110.9,1169.3 1110.9,1173.1 C1110.9,1176.9 1110.8,1180.7 1110.5,1184.4 C1110.2,1188.2 1109.8,1192.0 1109.3,1195.8 C1108.7,1199.6 1108.0,1203.3 1107.2,1207.1 C1106.4,1210.9 1104.8,1216.6 1104.4,1218.5" style="stroke-width:8.7"/>
<path class="k" d="M1104.4,1127.7 C1104.8,1129.6 1106.4,1135.3 1107.2,1139.1 C1108.0,1142.8 1108.7,1146.6 1109.3,1150.4 C1109.8,1154.2 1110.2,1158.0 1110.5,1161.8 C1110.8,1165.5 1110.9,1169.3 1110.9,1173.1 C1110.9,1176.9 1110.8,1180.7 1110.5,1184.4 C1110.2,1188.2 1109.8,1192.0 1109.3,1195.8 C1108.7,1199.6 1108.0,1203.3 1107.2,1207.1 C1106.4,1210.9 1104.8,1216.6 1104.4,1218.5" style="stroke-width:6.5"/>
<path class="w" d="M1104.4,1127.7 C1104.8,1129.6 1106.4,1135.3 1107.2,1139.1 C1108.0,1142.8 1108.7,1146.6 1109.3,1150.4 C1109.8,1154.2 1110.2,1158.0 1110.5,1161.8 C1110.8,1165.5 1110.9,1169.3 1110.9,1173.1 C1110.9,1176.9 1110.8,1180.7 1110.5,1184.4 C1110.2,1188.2 1109.8,1192.0 1109.3,1195.8 C1108.7,1199.6 1108.0,1203.3 1107.2,1207.1 C1106.4,1210.9 1104.8,1216.6 1104.4,1218.5" style="stroke-width:5.3"/>
<ellipse class="c" cx="1092.7" cy="1120.1" rx="1.6" ry="2.6"/>
<ellipse class="c" cx="1094.5" cy="1127.1" rx="1.6" ry="2.6"/>
<ellipse class="c" cx="1096.0" cy="1134.1" rx="1.6" ry="2.6"/>
<ellipse class="c" cx="1097.3" cy="1141.0" rx="1.6" ry="2.6"/>
<ellipse class="c" cx="1098.2" cy="1148.0" rx="1.6" ry="2.6"/>
<ellipse class="c" cx="1098.9" cy="1155.0" rx="1.6" ry="2.6"/>
<ellipse class="c" cx="1099.3" cy="1161.9" rx="1.6" ry="2.6"/>
<ellipse class="c" cx="1099.5" cy="1168.9" rx="1.6" ry="2.6"/>
<ellipse class="c" cx="1099.3" cy="1175.9" rx="1.6" ry="2.6"/>
<ellipse class="c" cx="1098.9" cy="1182.8" rx="1.6" ry="2.6"/>
<ellipse class="c" cx="1098.2" cy="1189.8" rx="1.6" ry="2.6"/>
<ellipse class="c" cx="1097.3" cy="1196.7" rx="1.6" ry="2.6"/>
<ellipse class="c" cx="1096.0" cy="1203.7" rx="1.6" ry="2.6"/>
<ellipse class="c" cx="1094.5" cy="1210.7" rx="1.6" ry="2.6"/>
<ellipse class="c" cx="1092.7" cy="1217.6" rx="1.6" ry="2.6"/>
<ellipse class="b" cx="1085.0" cy="1126.0" rx="3.2" ry="4.9"/>
<ellipse class="i" cx="1085.0" cy="1126.6" rx="1.2" ry="1.9"/>
<ellipse class="b" cx="1087.8" cy="1145.1" rx="3.2" ry="4.9"/>
<ellipse class="i" cx="1087.8" cy="1145.7" rx="1.2" ry="1.9"/>
<ellipse class="b" cx="1088.7" cy="1164.2" rx="3.2" ry="4.9"/>
<ellipse class="i" cx="1088.7" cy="1164.8" rx="1.2" ry="1.9"/>
<ellipse class="b" cx="1087.8" cy="1183.4" rx="3.2" ry="4.9"/>
<ellipse class="i" cx="1087.8" cy="1184.0" rx="1.2" ry="1.9"/>
<ellipse class="b" cx="1085.0" cy="1202.5" rx="3.2" ry="4.9"/>
<ellipse class="i" cx="1085.0" cy="1203.1" rx="1.2" ry="1.9"/>
<ellipse class="c" cx="1074.6" cy="1109.8" rx="1.3" ry="2.6"/>
<ellipse class="c" cx="1075.9" cy="1116.5" rx="1.3" ry="2.6"/>
<ellipse class="c" cx="1077.1" cy="1123.2" rx="1.3" ry="2.6"/>
<ellipse class="c" cx="1078.0" cy="1129.8" rx="1.3" ry="2.6"/>
<ellipse class="c" cx="1078.8" cy="1136.5" rx="1.3" ry="2.6"/>
<ellipse class="c" cx="1079.4" cy="1143.2" rx="1.3" ry="2.6"/>
<ellipse class="c" cx="1079.8" cy="1149.9" rx="1.3" ry="2.6"/>
<ellipse class="c" cx="1079.9" cy="1156.5" rx="1.3" ry="2.6"/>
<ellipse class="c" cx="1079.9" cy="1163.2" rx="1.3" ry="2.6"/>
<ellipse class="c" cx="1079.8" cy="1169.9" rx="1.3" ry="2.6"/>
<ellipse class="c" cx="1079.4" cy="1176.5" rx="1.3" ry="2.6"/>
<ellipse class="c" cx="1078.8" cy="1183.2" rx="1.3" ry="2.6"/>
<ellipse class="c" cx="1078.0" cy="1189.9" rx="1.3" ry="2.6"/>
<ellipse class="c" cx="1077.1" cy="1196.5" rx="1.3" ry="2.6"/>
<ellipse class="c" cx="1075.9" cy="1203.2" rx="1.3" ry="2.6"/>
<ellipse class="c" cx="1074.6" cy="1209.9" rx="1.3" ry="2.6"/>
<path class="k" d="M1069.2,1107.2 C1069.5,1109.2 1070.6,1115.4 1071.2,1119.4 C1071.7,1123.5 1072.2,1127.6 1072.6,1131.7 C1072.9,1135.8 1073.2,1139.9 1073.4,1144.0 C1073.6,1148.0 1073.7,1152.1 1073.7,1156.2 C1073.7,1160.3 1073.6,1164.4 1073.4,1168.5 C1073.2,1172.6 1072.9,1176.7 1072.6,1180.7 C1072.2,1184.8 1071.7,1188.9 1071.2,1193.0 C1070.6,1197.1 1069.5,1203.2 1069.2,1205.3" style="stroke-width:9.2"/>
<path class="w" d="M1069.2,1107.2 C1069.5,1109.2 1070.6,1115.4 1071.2,1119.4 C1071.7,1123.5 1072.2,1127.6 1072.6,1131.7 C1072.9,1135.8 1073.2,1139.9 1073.4,1144.0 C1073.6,1148.0 1073.7,1152.1 1073.7,1156.2 C1073.7,1160.3 1073.6,1164.4 1073.4,1168.5 C1073.2,1172.6 1072.9,1176.7 1072.6,1180.7 C1072.2,1184.8 1071.7,1188.9 1071.2,1193.0 C1070.6,1197.1 1069.5,1203.2 1069.2,1205.3" style="stroke-width:5.6"/>
<path class="k" d="M1069.2,1107.2 C1069.5,1109.2 1070.6,1115.4 1071.2,1119.4 C1071.7,1123.5 1072.2,1127.6 1072.6,1131.7 C1072.9,1135.8 1073.2,1139.9 1073.4,1144.0 C1073.6,1148.0 1073.7,1152.1 1073.7,1156.2 C1073.7,1160.3 1073.6,1164.4 1073.4,1168.5 C1073.2,1172.6 1072.9,1176.7 1072.6,1180.7 C1072.2,1184.8 1071.7,1188.9 1071.2,1193.0 C1070.6,1197.1 1069.5,1203.2 1069.2,1205.3" style="stroke-width:3.4"/>
<path class="w" d="M1069.2,1107.2 C1069.5,1109.2 1070.6,1115.4 1071.2,1119.4 C1071.7,1123.5 1072.2,1127.6 1072.6,1131.7 C1072.9,1135.8 1073.2,1139.9 1073.4,1144.0 C1073.6,1148.0 1073.7,1152.1 1073.7,1156.2 C1073.7,1160.3 1073.6,1164.4 1073.4,1168.5 C1073.2,1172.6 1072.9,1176.7 1072.6,1180.7 C1072.2,1184.8 1071.7,1188.9 1071.2,1193.0 C1070.6,1197.1 1069.5,1203.2 1069.2,1205.3" style="stroke-width:2.2"/>
<ellipse class="c" cx="1062.3" cy="1100.1" rx="0.9" ry="2.6"/>
<ellipse class="c" cx="1063.3" cy="1106.9" rx="0.9" ry="2.6"/>
<ellipse class="c" cx="1064.1" cy="1113.7" rx="0.9" ry="2.6"/>
<ellipse class="c" cx="1064.8" cy="1120.5" rx="0.9" ry="2.6"/>
<ellipse class="c" cx="1065.4" cy="1127.3" rx="0.9" ry="2.6"/>
<ellipse class="c" cx="1065.8" cy="1134.1" rx="0.9" ry="2.6"/>
<ellipse class="c" cx="1066.1" cy="1140.9" rx="0.9" ry="2.6"/>
<ellipse class="c" cx="1066.2" cy="1147.7" rx="0.9" ry="2.6"/>
<ellipse class="c" cx="1066.2" cy="1154.5" rx="0.9" ry="2.6"/>
<ellipse class="c" cx="1066.1" cy="1161.4" rx="0.9" ry="2.6"/>
<ellipse class="c" cx="1065.8" cy="1168.2" rx="0.9" ry="2.6"/>
<ellipse class="c" cx="1065.4" cy="1175.0" rx="0.9" ry="2.6"/>
<ellipse class="c" cx="1064.8" cy="1181.8" rx="0.9" ry="2.6"/>
<ellipse class="c" cx="1064.1" cy="1188.6" rx="0.9" ry="2.6"/>
<ellipse class="c" cx="1063.3" cy="1195.4" rx="0.9" ry="2.6"/>
<ellipse class="c" cx="1062.3" cy="1202.2" rx="0.9" ry="2.6"/>
<ellipse class="b" cx="1057.9" cy="1105.6" rx="1.6" ry="4.9"/>
<ellipse class="i" cx="1057.9" cy="1106.2" rx="0.6" ry="1.9"/>
<ellipse class="b" cx="1059.3" cy="1125.7" rx="1.6" ry="4.9"/>
<ellipse class="i" cx="1059.3" cy="1126.3" rx="0.6" ry="1.9"/>
<ellipse class="b" cx="1059.8" cy="1145.7" rx="1.6" ry="4.9"/>
<ellipse class="i" cx="1059.8" cy="1146.3" rx="0.6" ry="1.9"/>
<ellipse class="b" cx="1059.3" cy="1165.8" rx="1.6" ry="4.9"/>
<ellipse class="i" cx="1059.3" cy="1166.4" rx="0.6" ry="1.9"/>
<ellipse class="b" cx="1057.9" cy="1185.8" rx="1.6" ry="4.9"/>
<ellipse class="i" cx="1057.9" cy="1186.4" rx="0.6" ry="1.9"/>
<ellipse class="c" cx="1052.8" cy="1088.5" rx="0.6" ry="2.6"/>
<ellipse class="c" cx="1053.4" cy="1095.5" rx="0.6" ry="2.6"/>
<ellipse class="c" cx="1053.9" cy="1102.4" rx="0.6" ry="2.6"/>
<ellipse class="c" cx="1054.3" cy="1109.4" rx="0.6" ry="2.6"/>
<ellipse class="c" cx="1054.6" cy="1116.4" rx="0.6" ry="2.6"/>
<ellipse class="c" cx="1054.9" cy="1123.3" rx="0.6" ry="2.6"/>
<ellipse class="c" cx="1055.0" cy="1130.3" rx="0.6" ry="2.6"/>
<ellipse class="c" cx="1055.1" cy="1137.3" rx="0.6" ry="2.6"/>
<ellipse class="c" cx="1055.1" cy="1144.2" rx="0.6" ry="2.6"/>
<ellipse class="c" cx="1055.0" cy="1151.2" rx="0.6" ry="2.6"/>
<ellipse class="c" cx="1054.9" cy="1158.2" rx="0.6" ry="2.6"/>
<ellipse class="c" cx="1054.6" cy="1165.1" rx="0.6" ry="2.6"/>
<ellipse class="c" cx="1054.3" cy="1172.1" rx="0.6" ry="2.6"/>
<ellipse class="c" cx="1053.9" cy="1179.1" rx="0.6" ry="2.6"/>
<ellipse class="c" cx="1053.4" cy="1186.0" rx="0.6" ry="2.6"/>
<ellipse class="c" cx="1052.8" cy="1193.0" rx="0.6" ry="2.6"/>
<path class="k" d="M1050.5,1083.8 C1050.7,1086.0 1051.1,1092.6 1051.3,1097.0 C1051.5,1101.4 1051.6,1105.8 1051.8,1110.2 C1051.9,1114.6 1052.0,1119.1 1052.1,1123.5 C1052.2,1127.9 1052.2,1132.3 1052.2,1136.7 C1052.2,1141.1 1052.2,1145.5 1052.1,1149.9 C1052.0,1154.4 1051.9,1158.8 1051.8,1163.2 C1051.6,1167.6 1051.5,1172.0 1051.3,1176.4 C1051.1,1180.8 1050.7,1187.5 1050.5,1189.7" style="stroke-width:6.2"/>
<path class="w" d="M1050.5,1083.8 C1050.7,1086.0 1051.1,1092.6 1051.3,1097.0 C1051.5,1101.4 1051.6,1105.8 1051.8,1110.2 C1051.9,1114.6 1052.0,1119.1 1052.1,1123.5 C1052.2,1127.9 1052.2,1132.3 1052.2,1136.7 C1052.2,1141.1 1052.2,1145.5 1052.1,1149.9 C1052.0,1154.4 1051.9,1158.8 1051.8,1163.2 C1051.6,1167.6 1051.5,1172.0 1051.3,1176.4 C1051.1,1180.8 1050.7,1187.5 1050.5,1189.7" style="stroke-width:2.6"/>
<ellipse class="c" cx="1048.6" cy="1077.6" rx="0.6" ry="2.6"/>
<ellipse class="c" cx="1048.8" cy="1084.3" rx="0.6" ry="2.6"/>
<ellipse class="c" cx="1048.9" cy="1091.0" rx="0.6" ry="2.6"/>
<ellipse class="c" cx="1049.1" cy="1097.7" rx="0.6" ry="2.6"/>
<ellipse class="c" cx="1049.2" cy="1104.4" rx="0.6" ry="2.6"/>
<ellipse class="c" cx="1049.3" cy="1111.1" rx="0.6" ry="2.6"/>
<ellipse class="c" cx="1049.3" cy="1117.8" rx="0.6" ry="2.6"/>
<ellipse class="c" cx="1049.4" cy="1124.5" rx="0.6" ry="2.6"/>
<ellipse class="c" cx="1049.4" cy="1131.2" rx="0.6" ry="2.6"/>
<ellipse class="c" cx="1049.4" cy="1137.9" rx="0.6" ry="2.6"/>
<ellipse class="c" cx="1049.3" cy="1144.6" rx="0.6" ry="2.6"/>
<ellipse class="c" cx="1049.3" cy="1151.3" rx="0.6" ry="2.6"/>
<ellipse class="c" cx="1049.2" cy="1158.0" rx="0.6" ry="2.6"/>
<ellipse class="c" cx="1049.1" cy="1164.7" rx="0.6" ry="2.6"/>
<ellipse class="c" cx="1048.9" cy="1171.4" rx="0.6" ry="2.6"/>
<ellipse class="c" cx="1048.8" cy="1178.1" rx="0.6" ry="2.6"/>
<ellipse class="c" cx="1048.6" cy="1184.8" rx="0.6" ry="2.6"/>
<ellipse class="c" cx="1452.6" cy="1200.1" rx="0.6" ry="2.6"/>
<ellipse class="c" cx="1452.4" cy="1206.8" rx="0.6" ry="2.6"/>
<ellipse class="c" cx="1452.3" cy="1213.6" rx="0.6" ry="2.6"/>
<ellipse class="c" cx="1452.2" cy="1220.3" rx="0.6" ry="2.6"/>
<ellipse class="c" cx="1452.1" cy="1227.0" rx="0.6" ry="2.6"/>
<ellipse class="c" cx="1452.0" cy="1233.7" rx="0.6" ry="2.6"/>
<ellipse class="c" cx="1452.0" cy="1240.4" rx="0.6" ry="2.6"/>
<ellipse class="c" cx="1452.0" cy="1247.2" rx="0.6" ry="2.6"/>
<ellipse class="c" cx="1452.0" cy="1253.9" rx="0.6" ry="2.6"/>
<ellipse class="c" cx="1452.1" cy="1260.6" rx="0.6" ry="2.6"/>
<ellipse class="c" cx="1452.2" cy="1267.3" rx="0.6" ry="2.6"/>
<ellipse class="c" cx="1452.3" cy="1274.1" rx="0.6" ry="2.6"/>
<ellipse class="c" cx="1452.4" cy="1280.8" rx="0.6" ry="2.6"/>
<ellipse class="c" cx="1452.6" cy="1287.5" rx="0.6" ry="2.6"/>
<path class="k" d="M1451.4,1204.2 C1451.4,1206.0 1451.1,1211.5 1450.9,1215.2 C1450.8,1218.8 1450.6,1222.5 1450.5,1226.1 C1450.4,1229.8 1450.4,1233.4 1450.3,1237.1 C1450.3,1240.7 1450.2,1244.4 1450.2,1248.0 C1450.2,1251.7 1450.3,1255.3 1450.3,1259.0 C1450.4,1262.6 1450.4,1266.3 1450.5,1270.0 C1450.6,1273.6 1450.8,1277.3 1450.9,1280.9 C1451.1,1284.6 1451.4,1290.0 1451.4,1291.9" style="stroke-width:6.2"/>
<path class="w" d="M1451.4,1204.2 C1451.4,1206.0 1451.1,1211.5 1450.9,1215.2 C1450.8,1218.8 1450.6,1222.5 1450.5,1226.1 C1450.4,1229.8 1450.4,1233.4 1450.3,1237.1 C1450.3,1240.7 1450.2,1244.4 1450.2,1248.0 C1450.2,1251.7 1450.3,1255.3 1450.3,1259.0 C1450.4,1262.6 1450.4,1266.3 1450.5,1270.0 C1450.6,1273.6 1450.8,1277.3 1450.9,1280.9 C1451.1,1284.6 1451.4,1290.0 1451.4,1291.9" style="stroke-width:2.6"/>
<ellipse class="c" cx="1448.8" cy="1209.9" rx="0.6" ry="2.6"/>
<ellipse class="c" cx="1448.2" cy="1216.6" rx="0.6" ry="2.6"/>
<ellipse class="c" cx="1447.7" cy="1223.4" rx="0.6" ry="2.6"/>
<ellipse class="c" cx="1447.3" cy="1230.1" rx="0.6" ry="2.6"/>
<ellipse class="c" cx="1447.0" cy="1236.8" rx="0.6" ry="2.6"/>
<ellipse class="c" cx="1446.8" cy="1243.6" rx="0.6" ry="2.6"/>
<ellipse class="c" cx="1446.7" cy="1250.3" rx="0.6" ry="2.6"/>
<ellipse class="c" cx="1446.7" cy="1257.1" rx="0.6" ry="2.6"/>
<ellipse class="c" cx="1446.8" cy="1263.8" rx="0.6" ry="2.6"/>
<ellipse class="c" cx="1447.0" cy="1270.6" rx="0.6" ry="2.6"/>
<ellipse class="c" cx="1447.3" cy="1277.3" rx="0.6" ry="2.6"/>
<ellipse class="c" cx="1447.7" cy="1284.0" rx="0.6" ry="2.6"/>
<ellipse class="c" cx="1448.2" cy="1290.8" rx="0.6" ry="2.6"/>
<ellipse class="c" cx="1448.8" cy="1297.5" rx="0.6" ry="2.6"/>
<ellipse class="b" cx="1443.4" cy="1225.7" rx="1.6" ry="4.9"/>
<ellipse class="i" cx="1443.4" cy="1226.3" rx="0.6" ry="1.9"/>
<ellipse class="b" cx="1442.1" cy="1242.6" rx="1.6" ry="4.9"/>
<ellipse class="i" cx="1442.1" cy="1243.2" rx="0.6" ry="1.9"/>
<ellipse class="b" cx="1441.7" cy="1259.5" rx="1.6" ry="4.9"/>
<ellipse class="i" cx="1441.7" cy="1260.1" rx="0.6" ry="1.9"/>
<ellipse class="b" cx="1442.1" cy="1276.4" rx="1.6" ry="4.9"/>
<ellipse class="i" cx="1442.1" cy="1277.0" rx="0.6" ry="1.9"/>
<ellipse class="b" cx="1443.4" cy="1293.3" rx="1.6" ry="4.9"/>
<ellipse class="i" cx="1443.4" cy="1293.9" rx="0.6" ry="1.9"/>
<ellipse class="c" cx="1439.8" cy="1220.6" rx="0.9" ry="2.6"/>
<ellipse class="c" cx="1438.7" cy="1227.3" rx="0.9" ry="2.6"/>
<ellipse class="c" cx="1437.8" cy="1234.1" rx="0.9" ry="2.6"/>
<ellipse class="c" cx="1437.1" cy="1240.9" rx="0.9" ry="2.6"/>
<ellipse class="c" cx="1436.6" cy="1247.6" rx="0.9" ry="2.6"/>
<ellipse class="c" cx="1436.2" cy="1254.4" rx="0.9" ry="2.6"/>
<ellipse class="c" cx="1436.1" cy="1261.2" rx="0.9" ry="2.6"/>
<ellipse class="c" cx="1436.1" cy="1267.9" rx="0.9" ry="2.6"/>
<ellipse class="c" cx="1436.2" cy="1274.7" rx="0.9" ry="2.6"/>
<ellipse class="c" cx="1436.6" cy="1281.4" rx="0.9" ry="2.6"/>
<ellipse class="c" cx="1437.1" cy="1288.2" rx="0.9" ry="2.6"/>
<ellipse class="c" cx="1437.8" cy="1295.0" rx="0.9" ry="2.6"/>
<ellipse class="c" cx="1438.7" cy="1301.7" rx="0.9" ry="2.6"/>
<ellipse class="c" cx="1439.8" cy="1308.5" rx="0.9" ry="2.6"/>
<path class="k" d="M1434.9,1225.6 C1434.6,1227.4 1433.6,1232.8 1433.1,1236.3 C1432.6,1239.9 1432.2,1243.5 1431.8,1247.1 C1431.5,1250.6 1431.2,1254.2 1431.0,1257.8 C1430.9,1261.3 1430.8,1264.9 1430.8,1268.5 C1430.8,1272.0 1430.9,1275.6 1431.0,1279.2 C1431.2,1282.8 1431.5,1286.3 1431.8,1289.9 C1432.2,1293.5 1432.6,1297.0 1433.1,1300.6 C1433.6,1304.2 1434.6,1309.5 1434.9,1311.3" style="stroke-width:8.7"/>
<path class="w" d="M1434.9,1225.6 C1434.6,1227.4 1433.6,1232.8 1433.1,1236.3 C1432.6,1239.9 1432.2,1243.5 1431.8,1247.1 C1431.5,1250.6 1431.2,1254.2 1431.0,1257.8 C1430.9,1261.3 1430.8,1264.9 1430.8,1268.5 C1430.8,1272.0 1430.9,1275.6 1431.0,1279.2 C1431.2,1282.8 1431.5,1286.3 1431.8,1289.9 C1432.2,1293.5 1432.6,1297.0 1433.1,1300.6 C1433.6,1304.2 1434.6,1309.5 1434.9,1311.3" style="stroke-width:5.1"/>
<path class="k" d="M1434.9,1225.6 C1434.6,1227.4 1433.6,1232.8 1433.1,1236.3 C1432.6,1239.9 1432.2,1243.5 1431.8,1247.1 C1431.5,1250.6 1431.2,1254.2 1431.0,1257.8 C1430.9,1261.3 1430.8,1264.9 1430.8,1268.5 C1430.8,1272.0 1430.9,1275.6 1431.0,1279.2 C1431.2,1282.8 1431.5,1286.3 1431.8,1289.9 C1432.2,1293.5 1432.6,1297.0 1433.1,1300.6 C1433.6,1304.2 1434.6,1309.5 1434.9,1311.3" style="stroke-width:2.9"/>
<path class="w" d="M1434.9,1225.6 C1434.6,1227.4 1433.6,1232.8 1433.1,1236.3 C1432.6,1239.9 1432.2,1243.5 1431.8,1247.1 C1431.5,1250.6 1431.2,1254.2 1431.0,1257.8 C1430.9,1261.3 1430.8,1264.9 1430.8,1268.5 C1430.8,1272.0 1430.9,1275.6 1431.0,1279.2 C1431.2,1282.8 1431.5,1286.3 1431.8,1289.9 C1432.2,1293.5 1432.6,1297.0 1433.1,1300.6 C1433.6,1304.2 1434.6,1309.5 1434.9,1311.3" style="stroke-width:1.7"/>
<ellipse class="c" cx="1427.8" cy="1229.5" rx="1.2" ry="2.6"/>
<ellipse class="c" cx="1426.3" cy="1236.3" rx="1.2" ry="2.6"/>
<ellipse class="c" cx="1425.1" cy="1243.1" rx="1.2" ry="2.6"/>
<ellipse class="c" cx="1424.2" cy="1249.9" rx="1.2" ry="2.6"/>
<ellipse class="c" cx="1423.4" cy="1256.7" rx="1.2" ry="2.6"/>
<ellipse class="c" cx="1423.0" cy="1263.5" rx="1.2" ry="2.6"/>
<ellipse class="c" cx="1422.7" cy="1270.2" rx="1.2" ry="2.6"/>
<ellipse class="c" cx="1422.7" cy="1277.0" rx="1.2" ry="2.6"/>
<ellipse class="c" cx="1423.0" cy="1283.8" rx="1.2" ry="2.6"/>
<ellipse class="c" cx="1423.4" cy="1290.6" rx="1.2" ry="2.6"/>
<ellipse class="c" cx="1424.2" cy="1297.4" rx="1.2" ry="2.6"/>
<ellipse class="c" cx="1425.1" cy="1304.1" rx="1.2" ry="2.6"/>
<ellipse class="c" cx="1426.3" cy="1310.9" rx="1.2" ry="2.6"/>
<ellipse class="c" cx="1427.8" cy="1317.7" rx="1.2" ry="2.6"/>
<ellipse class="b" cx="1416.6" cy="1244.7" rx="3.2" ry="4.9"/>
<ellipse class="i" cx="1416.6" cy="1245.3" rx="1.2" ry="1.9"/>
<ellipse class="b" cx="1414.0" cy="1261.7" rx="3.2" ry="4.9"/>
<ellipse class="i" cx="1414.0" cy="1262.3" rx="1.2" ry="1.9"/>
<ellipse class="b" cx="1413.1" cy="1278.7" rx="3.2" ry="4.9"/>
<ellipse class="i" cx="1413.1" cy="1279.3" rx="1.2" ry="1.9"/>
<ellipse class="b" cx="1414.0" cy="1295.8" rx="3.2" ry="4.9"/>
<ellipse class="i" cx="1414.0" cy="1296.4" rx="1.2" ry="1.9"/>
<ellipse class="b" cx="1416.6" cy="1312.8" rx="3.2" ry="4.9"/>
<ellipse class="i" cx="1416.6" cy="1313.4" rx="1.2" ry="1.9"/>
<ellipse class="c" cx="1410.1" cy="1238.9" rx="1.6" ry="2.6"/>
<ellipse class="c" cx="1408.2" cy="1245.7" rx="1.6" ry="2.6"/>
<ellipse class="c" cx="1406.7" cy="1252.5" rx="1.6" ry="2.6"/>
<ellipse class="c" cx="1405.5" cy="1259.3" rx="1.6" ry="2.6"/>
<ellipse class="c" cx="1404.5" cy="1266.1" rx="1.6" ry="2.6"/>
<ellipse class="c" cx="1403.9" cy="1272.9" rx="1.6" ry="2.6"/>
<ellipse class="c" cx="1403.6" cy="1279.7" rx="1.6" ry="2.6"/>
<ellipse class="c" cx="1403.6" cy="1286.5" rx="1.6" ry="2.6"/>
<ellipse class="c" cx="1403.9" cy="1293.3" rx="1.6" ry="2.6"/>
<ellipse class="c" cx="1404.5" cy="1300.1" rx="1.6" ry="2.6"/>
<ellipse class="c" cx="1405.5" cy="1306.9" rx="1.6" ry="2.6"/>
<ellipse class="c" cx="1406.7" cy="1313.7" rx="1.6" ry="2.6"/>
<ellipse class="c" cx="1408.2" cy="1320.5" rx="1.6" ry="2.6"/>
<ellipse class="c" cx="1410.1" cy="1327.3" rx="1.6" ry="2.6"/>
<path class="k" d="M1401.5,1244.9 C1401.1,1246.6 1399.6,1251.8 1398.8,1255.3 C1398.0,1258.7 1397.4,1262.2 1396.9,1265.6 C1396.4,1269.1 1396.0,1272.6 1395.7,1276.0 C1395.5,1279.5 1395.3,1282.9 1395.3,1286.4 C1395.3,1289.8 1395.5,1293.3 1395.7,1296.7 C1396.0,1300.2 1396.4,1303.7 1396.9,1307.1 C1397.4,1310.6 1398.0,1314.0 1398.8,1317.5 C1399.6,1320.9 1401.1,1326.1 1401.5,1327.9" style="stroke-width:12.0"/>
<path class="w" d="M1401.5,1244.9 C1401.1,1246.6 1399.6,1251.8 1398.8,1255.3 C1398.0,1258.7 1397.4,1262.2 1396.9,1265.6 C1396.4,1269.1 1396.0,1272.6 1395.7,1276.0 C1395.5,1279.5 1395.3,1282.9 1395.3,1286.4 C1395.3,1289.8 1395.5,1293.3 1395.7,1296.7 C1396.0,1300.2 1396.4,1303.7 1396.9,1307.1 C1397.4,1310.6 1398.0,1314.0 1398.8,1317.5 C1399.6,1320.9 1401.1,1326.1 1401.5,1327.9" style="stroke-width:8.4"/>
<path class="k" d="M1401.5,1244.9 C1401.1,1246.6 1399.6,1251.8 1398.8,1255.3 C1398.0,1258.7 1397.4,1262.2 1396.9,1265.6 C1396.4,1269.1 1396.0,1272.6 1395.7,1276.0 C1395.5,1279.5 1395.3,1282.9 1395.3,1286.4 C1395.3,1289.8 1395.5,1293.3 1395.7,1296.7 C1396.0,1300.2 1396.4,1303.7 1396.9,1307.1 C1397.4,1310.6 1398.0,1314.0 1398.8,1317.5 C1399.6,1320.9 1401.1,1326.1 1401.5,1327.9" style="stroke-width:6.2"/>
<path class="w" d="M1401.5,1244.9 C1401.1,1246.6 1399.6,1251.8 1398.8,1255.3 C1398.0,1258.7 1397.4,1262.2 1396.9,1265.6 C1396.4,1269.1 1396.0,1272.6 1395.7,1276.0 C1395.5,1279.5 1395.3,1282.9 1395.3,1286.4 C1395.3,1289.8 1395.5,1293.3 1395.7,1296.7 C1396.0,1300.2 1396.4,1303.7 1396.9,1307.1 C1397.4,1310.6 1398.0,1314.0 1398.8,1317.5 C1399.6,1320.9 1401.1,1326.1 1401.5,1327.9" style="stroke-width:5.0"/>
<ellipse class="c" cx="1391.1" cy="1246.3" rx="1.9" ry="2.6"/>
<ellipse class="c" cx="1388.9" cy="1253.1" rx="1.9" ry="2.6"/>
<ellipse class="c" cx="1387.1" cy="1259.9" rx="1.9" ry="2.6"/>
<ellipse class="c" cx="1385.6" cy="1266.7" rx="1.9" ry="2.6"/>
<ellipse class="c" cx="1384.5" cy="1273.5" rx="1.9" ry="2.6"/>
<ellipse class="c" cx="1383.8" cy="1280.3" rx="1.9" ry="2.6"/>
<ellipse class="c" cx="1383.4" cy="1287.2" rx="1.9" ry="2.6"/>
<ellipse class="c" cx="1383.4" cy="1294.0" rx="1.9" ry="2.6"/>
<ellipse class="c" cx="1383.8" cy="1300.8" rx="1.9" ry="2.6"/>
<ellipse class="c" cx="1384.5" cy="1307.6" rx="1.9" ry="2.6"/>
<ellipse class="c" cx="1385.6" cy="1314.4" rx="1.9" ry="2.6"/>
<ellipse class="c" cx="1387.1" cy="1321.2" rx="1.9" ry="2.6"/>
<ellipse class="c" cx="1388.9" cy="1328.1" rx="1.9" ry="2.6"/>
<ellipse class="c" cx="1391.1" cy="1334.9" rx="1.9" ry="2.6"/>
<ellipse class="b" cx="1375.0" cy="1260.3" rx="4.5" ry="4.9"/>
<ellipse class="i" cx="1375.0" cy="1260.9" rx="1.7" ry="1.9"/>
<ellipse class="b" cx="1371.3" cy="1277.5" rx="4.5" ry="4.9"/>
<ellipse class="i" cx="1371.3" cy="1278.1" rx="1.7" ry="1.9"/>
<ellipse class="b" cx="1370.1" cy="1294.6" rx="4.5" ry="4.9"/>
<ellipse class="i" cx="1370.1" cy="1295.2" rx="1.7" ry="1.9"/>
<ellipse class="b" cx="1371.3" cy="1311.7" rx="4.5" ry="4.9"/>
<ellipse class="i" cx="1371.3" cy="1312.3" rx="1.7" ry="1.9"/>
<ellipse class="b" cx="1375.0" cy="1328.8" rx="4.5" ry="4.9"/>
<ellipse class="i" cx="1375.0" cy="1329.4" rx="1.7" ry="1.9"/>
<ellipse class="c" cx="1366.3" cy="1253.4" rx="2.1" ry="2.6"/>
<ellipse class="c" cx="1363.8" cy="1260.2" rx="2.1" ry="2.6"/>
<ellipse class="c" cx="1361.7" cy="1267.1" rx="2.1" ry="2.6"/>
<ellipse class="c" cx="1360.0" cy="1273.9" rx="2.1" ry="2.6"/>
<ellipse class="c" cx="1358.8" cy="1280.7" rx="2.1" ry="2.6"/>
<ellipse class="c" cx="1358.0" cy="1287.6" rx="2.1" ry="2.6"/>
<ellipse class="c" cx="1357.6" cy="1294.4" rx="2.1" ry="2.6"/>
<ellipse class="c" cx="1357.6" cy="1301.2" rx="2.1" ry="2.6"/>
<ellipse class="c" cx="1358.0" cy="1308.0" rx="2.1" ry="2.6"/>
<ellipse class="c" cx="1358.8" cy="1314.9" rx="2.1" ry="2.6"/>
<ellipse class="c" cx="1360.0" cy="1321.7" rx="2.1" ry="2.6"/>
<ellipse class="c" cx="1361.7" cy="1328.5" rx="2.1" ry="2.6"/>
<ellipse class="c" cx="1363.8" cy="1335.4" rx="2.1" ry="2.6"/>
<ellipse class="c" cx="1366.3" cy="1342.2" rx="2.1" ry="2.6"/>
<path class="k" d="M1354.6,1259.7 C1354.0,1261.4 1352.2,1266.5 1351.3,1269.8 C1350.3,1273.2 1349.5,1276.6 1348.9,1280.0 C1348.3,1283.3 1347.8,1286.7 1347.5,1290.1 C1347.2,1293.4 1347.0,1296.8 1347.0,1300.2 C1347.0,1303.5 1347.2,1306.9 1347.5,1310.3 C1347.8,1313.6 1348.3,1317.0 1348.9,1320.4 C1349.5,1323.7 1350.3,1327.1 1351.3,1330.5 C1352.2,1333.9 1354.0,1338.9 1354.6,1340.6" style="stroke-width:14.4"/>
<path class="w" d="M1354.6,1259.7 C1354.0,1261.4 1352.2,1266.5 1351.3,1269.8 C1350.3,1273.2 1349.5,1276.6 1348.9,1280.0 C1348.3,1283.3 1347.8,1286.7 1347.5,1290.1 C1347.2,1293.4 1347.0,1296.8 1347.0,1300.2 C1347.0,1303.5 1347.2,1306.9 1347.5,1310.3 C1347.8,1313.6 1348.3,1317.0 1348.9,1320.4 C1349.5,1323.7 1350.3,1327.1 1351.3,1330.5 C1352.2,1333.9 1354.0,1338.9 1354.6,1340.6" style="stroke-width:10.8"/>
<path class="k" d="M1354.6,1259.7 C1354.0,1261.4 1352.2,1266.5 1351.3,1269.8 C1350.3,1273.2 1349.5,1276.6 1348.9,1280.0 C1348.3,1283.3 1347.8,1286.7 1347.5,1290.1 C1347.2,1293.4 1347.0,1296.8 1347.0,1300.2 C1347.0,1303.5 1347.2,1306.9 1347.5,1310.3 C1347.8,1313.6 1348.3,1317.0 1348.9,1320.4 C1349.5,1323.7 1350.3,1327.1 1351.3,1330.5 C1352.2,1333.9 1354.0,1338.9 1354.6,1340.6" style="stroke-width:8.6"/>
<path class="w" d="M1354.6,1259.7 C1354.0,1261.4 1352.2,1266.5 1351.3,1269.8 C1350.3,1273.2 1349.5,1276.6 1348.9,1280.0 C1348.3,1283.3 1347.8,1286.7 1347.5,1290.1 C1347.2,1293.4 1347.0,1296.8 1347.0,1300.2 C1347.0,1303.5 1347.2,1306.9 1347.5,1310.3 C1347.8,1313.6 1348.3,1317.0 1348.9,1320.4 C1349.5,1323.7 1350.3,1327.1 1351.3,1330.5 C1352.2,1333.9 1354.0,1338.9 1354.6,1340.6" style="stroke-width:7.4"/>
<ellipse class="c" cx="1341.8" cy="1258.5" rx="2.3" ry="2.6"/>
<ellipse class="c" cx="1339.1" cy="1265.4" rx="2.3" ry="2.6"/>
<ellipse class="c" cx="1336.9" cy="1272.2" rx="2.3" ry="2.6"/>
<ellipse class="c" cx="1335.1" cy="1279.1" rx="2.3" ry="2.6"/>
<ellipse class="c" cx="1333.7" cy="1285.9" rx="2.3" ry="2.6"/>
<ellipse class="c" cx="1332.8" cy="1292.7" rx="2.3" ry="2.6"/>
<ellipse class="c" cx="1332.3" cy="1299.6" rx="2.3" ry="2.6"/>
<ellipse class="c" cx="1332.3" cy="1306.4" rx="2.3" ry="2.6"/>
<ellipse class="c" cx="1332.8" cy="1313.3" rx="2.3" ry="2.6"/>
<ellipse class="c" cx="1333.7" cy="1320.1" rx="2.3" ry="2.6"/>
<ellipse class="c" cx="1335.1" cy="1327.0" rx="2.3" ry="2.6"/>
<ellipse class="c" cx="1336.9" cy="1333.8" rx="2.3" ry="2.6"/>
<ellipse class="c" cx="1339.1" cy="1340.6" rx="2.3" ry="2.6"/>
<ellipse class="c" cx="1341.8" cy="1347.5" rx="2.3" ry="2.6"/>
<ellipse class="b" cx="1322.4" cy="1271.2" rx="5.4" ry="4.9"/>
<ellipse class="i" cx="1322.4" cy="1271.8" rx="2.0" ry="1.9"/>
<ellipse class="b" cx="1317.9" cy="1288.4" rx="5.4" ry="4.9"/>
<ellipse class="i" cx="1317.9" cy="1289.0" rx="2.0" ry="1.9"/>
<ellipse class="b" cx="1316.5" cy="1305.5" rx="5.4" ry="4.9"/>
<ellipse class="i" cx="1316.5" cy="1306.1" rx="2.0" ry="1.9"/>
<ellipse class="b" cx="1317.9" cy="1322.7" rx="5.4" ry="4.9"/>
<ellipse class="i" cx="1317.9" cy="1323.3" rx="2.0" ry="1.9"/>
<ellipse class="b" cx="1322.4" cy="1339.9" rx="5.4" ry="4.9"/>
<ellipse class="i" cx="1322.4" cy="1340.5" rx="2.0" ry="1.9"/>
<ellipse class="c" cx="1312.1" cy="1262.9" rx="2.5" ry="2.6"/>
<ellipse class="c" cx="1309.2" cy="1269.7" rx="2.5" ry="2.6"/>
<ellipse class="c" cx="1306.8" cy="1276.6" rx="2.5" ry="2.6"/>
<ellipse class="c" cx="1304.9" cy="1283.4" rx="2.5" ry="2.6"/>
<ellipse class="c" cx="1303.4" cy="1290.3" rx="2.5" ry="2.6"/>
<ellipse class="c" cx="1302.5" cy="1297.1" rx="2.5" ry="2.6"/>
<ellipse class="c" cx="1302.0" cy="1304.0" rx="2.5" ry="2.6"/>
<ellipse class="c" cx="1302.0" cy="1310.8" rx="2.5" ry="2.6"/>
<ellipse class="c" cx="1302.5" cy="1317.7" rx="2.5" ry="2.6"/>
<ellipse class="c" cx="1303.4" cy="1324.5" rx="2.5" ry="2.6"/>
<ellipse class="c" cx="1304.9" cy="1331.4" rx="2.5" ry="2.6"/>
<ellipse class="c" cx="1306.8" cy="1338.2" rx="2.5" ry="2.6"/>
<ellipse class="c" cx="1309.2" cy="1345.1" rx="2.5" ry="2.6"/>
<ellipse class="c" cx="1312.1" cy="1351.9" rx="2.5" ry="2.6"/>
<path class="k" d="M1298.4,1268.8 C1297.8,1270.5 1295.8,1275.5 1294.8,1278.8 C1293.7,1282.1 1292.9,1285.4 1292.2,1288.7 C1291.5,1292.0 1291.0,1295.3 1290.6,1298.7 C1290.3,1302.0 1290.1,1305.3 1290.1,1308.6 C1290.1,1311.9 1290.3,1315.2 1290.6,1318.5 C1291.0,1321.9 1291.5,1325.2 1292.2,1328.5 C1292.9,1331.8 1293.7,1335.1 1294.8,1338.4 C1295.8,1341.8 1297.8,1346.7 1298.4,1348.4" style="stroke-width:16.0"/>
<path class="w" d="M1298.4,1268.8 C1297.8,1270.5 1295.8,1275.5 1294.8,1278.8 C1293.7,1282.1 1292.9,1285.4 1292.2,1288.7 C1291.5,1292.0 1291.0,1295.3 1290.6,1298.7 C1290.3,1302.0 1290.1,1305.3 1290.1,1308.6 C1290.1,1311.9 1290.3,1315.2 1290.6,1318.5 C1291.0,1321.9 1291.5,1325.2 1292.2,1328.5 C1292.9,1331.8 1293.7,1335.1 1294.8,1338.4 C1295.8,1341.8 1297.8,1346.7 1298.4,1348.4" style="stroke-width:12.4"/>
<path class="k" d="M1298.4,1268.8 C1297.8,1270.5 1295.8,1275.5 1294.8,1278.8 C1293.7,1282.1 1292.9,1285.4 1292.2,1288.7 C1291.5,1292.0 1291.0,1295.3 1290.6,1298.7 C1290.3,1302.0 1290.1,1305.3 1290.1,1308.6 C1290.1,1311.9 1290.3,1315.2 1290.6,1318.5 C1291.0,1321.9 1291.5,1325.2 1292.2,1328.5 C1292.9,1331.8 1293.7,1335.1 1294.8,1338.4 C1295.8,1341.8 1297.8,1346.7 1298.4,1348.4" style="stroke-width:10.2"/>
<path class="w" d="M1298.4,1268.8 C1297.8,1270.5 1295.8,1275.5 1294.8,1278.8 C1293.7,1282.1 1292.9,1285.4 1292.2,1288.7 C1291.5,1292.0 1291.0,1295.3 1290.6,1298.7 C1290.3,1302.0 1290.1,1305.3 1290.1,1308.6 C1290.1,1311.9 1290.3,1315.2 1290.6,1318.5 C1291.0,1321.9 1291.5,1325.2 1292.2,1328.5 C1292.9,1331.8 1293.7,1335.1 1294.8,1338.4 C1295.8,1341.8 1297.8,1346.7 1298.4,1348.4" style="stroke-width:9.0"/>
<ellipse class="c" cx="1284.5" cy="1265.3" rx="2.6" ry="2.6"/>
<ellipse class="c" cx="1281.5" cy="1272.2" rx="2.6" ry="2.6"/>
<ellipse class="c" cx="1279.0" cy="1279.0" rx="2.6" ry="2.6"/>
<ellipse class="c" cx="1277.0" cy="1285.9" rx="2.6" ry="2.6"/>
<ellipse class="c" cx="1275.5" cy="1292.7" rx="2.6" ry="2.6"/>
<ellipse class="c" cx="1274.5" cy="1299.6" rx="2.6" ry="2.6"/>
<ellipse class="c" cx="1274.0" cy="1306.4" rx="2.6" ry="2.6"/>
<ellipse class="c" cx="1274.0" cy="1313.3" rx="2.6" ry="2.6"/>
<ellipse class="c" cx="1274.5" cy="1320.1" rx="2.6" ry="2.6"/>
<ellipse class="c" cx="1275.5" cy="1327.0" rx="2.6" ry="2.6"/>
<ellipse class="c" cx="1277.0" cy="1333.8" rx="2.6" ry="2.6"/>
<ellipse class="c" cx="1279.0" cy="1340.7" rx="2.6" ry="2.6"/>
<ellipse class="c" cx="1281.5" cy="1347.6" rx="2.6" ry="2.6"/>
<ellipse class="c" cx="1284.5" cy="1354.4" rx="2.6" ry="2.6"/>
<ellipse class="b" cx="1263.3" cy="1276.3" rx="5.8" ry="4.9"/>
<ellipse class="i" cx="1263.3" cy="1276.9" rx="2.2" ry="1.9"/>
<ellipse class="b" cx="1258.6" cy="1293.5" rx="5.8" ry="4.9"/>
<ellipse class="i" cx="1258.6" cy="1294.1" rx="2.2" ry="1.9"/>
<ellipse class="b" cx="1257.0" cy="1310.7" rx="5.8" ry="4.9"/>
<ellipse class="i" cx="1257.0" cy="1311.3" rx="2.2" ry="1.9"/>
<ellipse class="b" cx="1258.6" cy="1327.9" rx="5.8" ry="4.9"/>
<ellipse class="i" cx="1258.6" cy="1328.5" rx="2.2" ry="1.9"/>
<ellipse class="b" cx="1263.3" cy="1345.1" rx="5.8" ry="4.9"/>
<ellipse class="i" cx="1263.3" cy="1345.7" rx="2.2" ry="1.9"/>
<ellipse class="c" cx="1252.5" cy="1266.4" rx="2.6" ry="2.6"/>
<ellipse class="c" cx="1249.5" cy="1273.3" rx="2.6" ry="2.6"/>
<ellipse class="c" cx="1246.9" cy="1280.1" rx="2.6" ry="2.6"/>
<ellipse class="c" cx="1244.9" cy="1287.0" rx="2.6" ry="2.6"/>
<ellipse class="c" cx="1243.4" cy="1293.8" rx="2.6" ry="2.6"/>
<ellipse class="c" cx="1242.4" cy="1300.7" rx="2.6" ry="2.6"/>
<ellipse class="c" cx="1241.9" cy="1307.6" rx="2.6" ry="2.6"/>
<ellipse class="c" cx="1241.9" cy="1314.4" rx="2.6" ry="2.6"/>
<ellipse class="c" cx="1242.4" cy="1321.3" rx="2.6" ry="2.6"/>
<ellipse class="c" cx="1243.4" cy="1328.1" rx="2.6" ry="2.6"/>
<ellipse class="c" cx="1244.9" cy="1335.0" rx="2.6" ry="2.6"/>
<ellipse class="c" cx="1246.9" cy="1341.8" rx="2.6" ry="2.6"/>
<ellipse class="c" cx="1249.5" cy="1348.7" rx="2.6" ry="2.6"/>
<ellipse class="c" cx="1252.5" cy="1355.6" rx="2.6" ry="2.6"/>
<path class="k" d="M1238.2,1271.3 C1237.6,1273.0 1235.5,1277.9 1234.5,1281.2 C1233.4,1284.5 1232.5,1287.8 1231.8,1291.1 C1231.1,1294.4 1230.6,1297.7 1230.2,1301.0 C1229.9,1304.3 1229.7,1307.6 1229.7,1310.9 C1229.7,1314.2 1229.9,1317.5 1230.2,1320.8 C1230.6,1324.1 1231.1,1327.4 1231.8,1330.7 C1232.5,1334.0 1233.4,1337.3 1234.5,1340.7 C1235.5,1344.0 1237.6,1348.9 1238.2,1350.6" style="stroke-width:16.4"/>
<path class="w" d="M1238.2,1271.3 C1237.6,1273.0 1235.5,1277.9 1234.5,1281.2 C1233.4,1284.5 1232.5,1287.8 1231.8,1291.1 C1231.1,1294.4 1230.6,1297.7 1230.2,1301.0 C1229.9,1304.3 1229.7,1307.6 1229.7,1310.9 C1229.7,1314.2 1229.9,1317.5 1230.2,1320.8 C1230.6,1324.1 1231.1,1327.4 1231.8,1330.7 C1232.5,1334.0 1233.4,1337.3 1234.5,1340.7 C1235.5,1344.0 1237.6,1348.9 1238.2,1350.6" style="stroke-width:12.8"/>
<path class="k" d="M1238.2,1271.3 C1237.6,1273.0 1235.5,1277.9 1234.5,1281.2 C1233.4,1284.5 1232.5,1287.8 1231.8,1291.1 C1231.1,1294.4 1230.6,1297.7 1230.2,1301.0 C1229.9,1304.3 1229.7,1307.6 1229.7,1310.9 C1229.7,1314.2 1229.9,1317.5 1230.2,1320.8 C1230.6,1324.1 1231.1,1327.4 1231.8,1330.7 C1232.5,1334.0 1233.4,1337.3 1234.5,1340.7 C1235.5,1344.0 1237.6,1348.9 1238.2,1350.6" style="stroke-width:10.6"/>
<path class="w" d="M1238.2,1271.3 C1237.6,1273.0 1235.5,1277.9 1234.5,1281.2 C1233.4,1284.5 1232.5,1287.8 1231.8,1291.1 C1231.1,1294.4 1230.6,1297.7 1230.2,1301.0 C1229.9,1304.3 1229.7,1307.6 1229.7,1310.9 C1229.7,1314.2 1229.9,1317.5 1230.2,1320.8 C1230.6,1324.1 1231.1,1327.4 1231.8,1330.7 C1232.5,1334.0 1233.4,1337.3 1234.5,1340.7 C1235.5,1344.0 1237.6,1348.9 1238.2,1350.6" style="stroke-width:9.4"/>
<ellipse class="c" cx="1224.1" cy="1265.9" rx="2.6" ry="2.6"/>
<ellipse class="c" cx="1221.1" cy="1272.8" rx="2.6" ry="2.6"/>
<ellipse class="c" cx="1218.6" cy="1279.6" rx="2.6" ry="2.6"/>
<ellipse class="c" cx="1216.6" cy="1286.5" rx="2.6" ry="2.6"/>
<ellipse class="c" cx="1215.0" cy="1293.4" rx="2.6" ry="2.6"/>
<ellipse class="c" cx="1214.0" cy="1300.2" rx="2.6" ry="2.6"/>
<ellipse class="c" cx="1213.5" cy="1307.1" rx="2.6" ry="2.6"/>
<ellipse class="c" cx="1213.5" cy="1313.9" rx="2.6" ry="2.6"/>
<ellipse class="c" cx="1214.0" cy="1320.8" rx="2.6" ry="2.6"/>
<ellipse class="c" cx="1215.0" cy="1327.6" rx="2.6" ry="2.6"/>
<ellipse class="c" cx="1216.6" cy="1334.5" rx="2.6" ry="2.6"/>
<ellipse class="c" cx="1218.6" cy="1341.3" rx="2.6" ry="2.6"/>
<ellipse class="c" cx="1221.1" cy="1348.2" rx="2.6" ry="2.6"/>
<ellipse class="c" cx="1224.1" cy="1355.1" rx="2.6" ry="2.6"/>
<ellipse class="b" cx="1203.2" cy="1275.2" rx="5.7" ry="4.9"/>
<ellipse class="i" cx="1203.2" cy="1275.8" rx="2.2" ry="1.9"/>
<ellipse class="b" cx="1198.5" cy="1292.3" rx="5.7" ry="4.9"/>
<ellipse class="i" cx="1198.5" cy="1292.9" rx="2.2" ry="1.9"/>
<ellipse class="b" cx="1196.9" cy="1309.5" rx="5.7" ry="4.9"/>
<ellipse class="i" cx="1196.9" cy="1310.1" rx="2.2" ry="1.9"/>
<ellipse class="b" cx="1198.5" cy="1326.7" rx="5.7" ry="4.9"/>
<ellipse class="i" cx="1198.5" cy="1327.3" rx="2.2" ry="1.9"/>
<ellipse class="b" cx="1203.2" cy="1343.9" rx="5.7" ry="4.9"/>
<ellipse class="i" cx="1203.2" cy="1344.5" rx="2.2" ry="1.9"/>
<ellipse class="c" cx="1192.8" cy="1263.7" rx="2.5" ry="2.6"/>
<ellipse class="c" cx="1189.8" cy="1270.6" rx="2.5" ry="2.6"/>
<ellipse class="c" cx="1187.4" cy="1277.4" rx="2.5" ry="2.6"/>
<ellipse class="c" cx="1185.4" cy="1284.3" rx="2.5" ry="2.6"/>
<ellipse class="c" cx="1184.0" cy="1291.1" rx="2.5" ry="2.6"/>
<ellipse class="c" cx="1183.0" cy="1298.0" rx="2.5" ry="2.6"/>
<ellipse class="c" cx="1182.5" cy="1304.8" rx="2.5" ry="2.6"/>
<ellipse class="c" cx="1182.5" cy="1311.7" rx="2.5" ry="2.6"/>
<ellipse class="c" cx="1183.0" cy="1318.6" rx="2.5" ry="2.6"/>
<ellipse class="c" cx="1184.0" cy="1325.4" rx="2.5" ry="2.6"/>
<ellipse class="c" cx="1185.4" cy="1332.3" rx="2.5" ry="2.6"/>
<ellipse class="c" cx="1187.4" cy="1339.1" rx="2.5" ry="2.6"/>
<ellipse class="c" cx="1189.8" cy="1346.0" rx="2.5" ry="2.6"/>
<ellipse class="c" cx="1192.8" cy="1352.8" rx="2.5" ry="2.6"/>
<path class="k" d="M1179.3,1267.1 C1178.7,1268.7 1176.7,1273.7 1175.7,1277.1 C1174.7,1280.4 1173.8,1283.7 1173.2,1287.0 C1172.5,1290.4 1172.0,1293.7 1171.6,1297.0 C1171.3,1300.3 1171.1,1303.7 1171.1,1307.0 C1171.1,1310.3 1171.3,1313.6 1171.6,1317.0 C1172.0,1320.3 1172.5,1323.6 1173.2,1326.9 C1173.8,1330.3 1174.7,1333.6 1175.7,1336.9 C1176.7,1340.2 1178.7,1345.2 1179.3,1346.9" style="stroke-width:15.7"/>
<path class="w" d="M1179.3,1267.1 C1178.7,1268.7 1176.7,1273.7 1175.7,1277.1 C1174.7,1280.4 1173.8,1283.7 1173.2,1287.0 C1172.5,1290.4 1172.0,1293.7 1171.6,1297.0 C1171.3,1300.3 1171.1,1303.7 1171.1,1307.0 C1171.1,1310.3 1171.3,1313.6 1171.6,1317.0 C1172.0,1320.3 1172.5,1323.6 1173.2,1326.9 C1173.8,1330.3 1174.7,1333.6 1175.7,1336.9 C1176.7,1340.2 1178.7,1345.2 1179.3,1346.9" style="stroke-width:12.1"/>
<path class="k" d="M1179.3,1267.1 C1178.7,1268.7 1176.7,1273.7 1175.7,1277.1 C1174.7,1280.4 1173.8,1283.7 1173.2,1287.0 C1172.5,1290.4 1172.0,1293.7 1171.6,1297.0 C1171.3,1300.3 1171.1,1303.7 1171.1,1307.0 C1171.1,1310.3 1171.3,1313.6 1171.6,1317.0 C1172.0,1320.3 1172.5,1323.6 1173.2,1326.9 C1173.8,1330.3 1174.7,1333.6 1175.7,1336.9 C1176.7,1340.2 1178.7,1345.2 1179.3,1346.9" style="stroke-width:9.9"/>
<path class="w" d="M1179.3,1267.1 C1178.7,1268.7 1176.7,1273.7 1175.7,1277.1 C1174.7,1280.4 1173.8,1283.7 1173.2,1287.0 C1172.5,1290.4 1172.0,1293.7 1171.6,1297.0 C1171.3,1300.3 1171.1,1303.7 1171.1,1307.0 C1171.1,1310.3 1171.3,1313.6 1171.6,1317.0 C1172.0,1320.3 1172.5,1323.6 1173.2,1326.9 C1173.8,1330.3 1174.7,1333.6 1175.7,1336.9 C1176.7,1340.2 1178.7,1345.2 1179.3,1346.9" style="stroke-width:8.7"/>
<ellipse class="c" cx="1166.1" cy="1260.4" rx="2.4" ry="2.6"/>
<ellipse class="c" cx="1163.3" cy="1267.2" rx="2.4" ry="2.6"/>
<ellipse class="c" cx="1161.0" cy="1274.1" rx="2.4" ry="2.6"/>
<ellipse class="c" cx="1159.2" cy="1280.9" rx="2.4" ry="2.6"/>
<ellipse class="c" cx="1157.8" cy="1287.8" rx="2.4" ry="2.6"/>
<ellipse class="c" cx="1156.8" cy="1294.6" rx="2.4" ry="2.6"/>
<ellipse class="c" cx="1156.4" cy="1301.4" rx="2.4" ry="2.6"/>
<ellipse class="c" cx="1156.4" cy="1308.3" rx="2.4" ry="2.6"/>
<ellipse class="c" cx="1156.8" cy="1315.1" rx="2.4" ry="2.6"/>
<ellipse class="c" cx="1157.8" cy="1322.0" rx="2.4" ry="2.6"/>
<ellipse class="c" cx="1159.2" cy="1328.8" rx="2.4" ry="2.6"/>
<ellipse class="c" cx="1161.0" cy="1335.7" rx="2.4" ry="2.6"/>
<ellipse class="c" cx="1163.3" cy="1342.5" rx="2.4" ry="2.6"/>
<ellipse class="c" cx="1166.1" cy="1349.4" rx="2.4" ry="2.6"/>
<ellipse class="b" cx="1147.2" cy="1267.9" rx="5.1" ry="4.9"/>
<ellipse class="i" cx="1147.2" cy="1268.5" rx="1.9" ry="1.9"/>
<ellipse class="b" cx="1143.0" cy="1285.1" rx="5.1" ry="4.9"/>
<ellipse class="i" cx="1143.0" cy="1285.7" rx="1.9" ry="1.9"/>
<ellipse class="b" cx="1141.6" cy="1302.2" rx="5.1" ry="4.9"/>
<ellipse class="i" cx="1141.6" cy="1302.8" rx="1.9" ry="1.9"/>
<ellipse class="b" cx="1143.0" cy="1319.4" rx="5.1" ry="4.9"/>
<ellipse class="i" cx="1143.0" cy="1320.0" rx="1.9" ry="1.9"/>
<ellipse class="b" cx="1147.2" cy="1336.5" rx="5.1" ry="4.9"/>
<ellipse class="i" cx="1147.2" cy="1337.1" rx="1.9" ry="1.9"/>
<ellipse class="c" cx="1138.1" cy="1255.1" rx="2.2" ry="2.6"/>
<ellipse class="c" cx="1135.6" cy="1261.9" rx="2.2" ry="2.6"/>
<ellipse class="c" cx="1133.4" cy="1268.7" rx="2.2" ry="2.6"/>
<ellipse class="c" cx="1131.7" cy="1275.6" rx="2.2" ry="2.6"/>
<ellipse class="c" cx="1130.4" cy="1282.4" rx="2.2" ry="2.6"/>
<ellipse class="c" cx="1129.6" cy="1289.2" rx="2.2" ry="2.6"/>
<ellipse class="c" cx="1129.2" cy="1296.1" rx="2.2" ry="2.6"/>
<ellipse class="c" cx="1129.2" cy="1302.9" rx="2.2" ry="2.6"/>
<ellipse class="c" cx="1129.6" cy="1309.7" rx="2.2" ry="2.6"/>
<ellipse class="c" cx="1130.4" cy="1316.6" rx="2.2" ry="2.6"/>
<ellipse class="c" cx="1131.7" cy="1323.4" rx="2.2" ry="2.6"/>
<ellipse class="c" cx="1133.4" cy="1330.3" rx="2.2" ry="2.6"/>
<ellipse class="c" cx="1135.6" cy="1337.1" rx="2.2" ry="2.6"/>
<ellipse class="c" cx="1138.1" cy="1343.9" rx="2.2" ry="2.6"/>
<path class="k" d="M1126.9,1256.4 C1126.3,1258.1 1124.6,1263.2 1123.7,1266.6 C1122.8,1270.0 1122.0,1273.4 1121.4,1276.7 C1120.8,1280.1 1120.4,1283.5 1120.1,1286.9 C1119.7,1290.3 1119.6,1293.7 1119.6,1297.1 C1119.6,1300.5 1119.7,1303.9 1120.1,1307.2 C1120.4,1310.6 1120.8,1314.0 1121.4,1317.4 C1122.0,1320.8 1122.8,1324.2 1123.7,1327.6 C1124.6,1331.0 1126.3,1336.0 1126.9,1337.7" style="stroke-width:13.9"/>
<path class="w" d="M1126.9,1256.4 C1126.3,1258.1 1124.6,1263.2 1123.7,1266.6 C1122.8,1270.0 1122.0,1273.4 1121.4,1276.7 C1120.8,1280.1 1120.4,1283.5 1120.1,1286.9 C1119.7,1290.3 1119.6,1293.7 1119.6,1297.1 C1119.6,1300.5 1119.7,1303.9 1120.1,1307.2 C1120.4,1310.6 1120.8,1314.0 1121.4,1317.4 C1122.0,1320.8 1122.8,1324.2 1123.7,1327.6 C1124.6,1331.0 1126.3,1336.0 1126.9,1337.7" style="stroke-width:10.3"/>
<path class="k" d="M1126.9,1256.4 C1126.3,1258.1 1124.6,1263.2 1123.7,1266.6 C1122.8,1270.0 1122.0,1273.4 1121.4,1276.7 C1120.8,1280.1 1120.4,1283.5 1120.1,1286.9 C1119.7,1290.3 1119.6,1293.7 1119.6,1297.1 C1119.6,1300.5 1119.7,1303.9 1120.1,1307.2 C1120.4,1310.6 1120.8,1314.0 1121.4,1317.4 C1122.0,1320.8 1122.8,1324.2 1123.7,1327.6 C1124.6,1331.0 1126.3,1336.0 1126.9,1337.7" style="stroke-width:8.1"/>
<path class="w" d="M1126.9,1256.4 C1126.3,1258.1 1124.6,1263.2 1123.7,1266.6 C1122.8,1270.0 1122.0,1273.4 1121.4,1276.7 C1120.8,1280.1 1120.4,1283.5 1120.1,1286.9 C1119.7,1290.3 1119.6,1293.7 1119.6,1297.1 C1119.6,1300.5 1119.7,1303.9 1120.1,1307.2 C1120.4,1310.6 1120.8,1314.0 1121.4,1317.4 C1122.0,1320.8 1122.8,1324.2 1123.7,1327.6 C1124.6,1331.0 1126.3,1336.0 1126.9,1337.7" style="stroke-width:6.9"/>
<ellipse class="c" cx="1115.6" cy="1249.1" rx="2.0" ry="2.6"/>
<ellipse class="c" cx="1113.3" cy="1256.0" rx="2.0" ry="2.6"/>
<ellipse class="c" cx="1111.4" cy="1262.8" rx="2.0" ry="2.6"/>
<ellipse class="c" cx="1109.9" cy="1269.6" rx="2.0" ry="2.6"/>
<ellipse class="c" cx="1108.7" cy="1276.4" rx="2.0" ry="2.6"/>
<ellipse class="c" cx="1107.9" cy="1283.2" rx="2.0" ry="2.6"/>
<ellipse class="c" cx="1107.6" cy="1290.1" rx="2.0" ry="2.6"/>
<ellipse class="c" cx="1107.6" cy="1296.9" rx="2.0" ry="2.6"/>
<ellipse class="c" cx="1107.9" cy="1303.7" rx="2.0" ry="2.6"/>
<ellipse class="c" cx="1108.7" cy="1310.5" rx="2.0" ry="2.6"/>
<ellipse class="c" cx="1109.9" cy="1317.4" rx="2.0" ry="2.6"/>
<ellipse class="c" cx="1111.4" cy="1324.2" rx="2.0" ry="2.6"/>
<ellipse class="c" cx="1113.3" cy="1331.0" rx="2.0" ry="2.6"/>
<ellipse class="c" cx="1115.6" cy="1337.8" rx="2.0" ry="2.6"/>
<ellipse class="b" cx="1100.4" cy="1255.2" rx="4.0" ry="4.9"/>
<ellipse class="i" cx="1100.4" cy="1255.8" rx="1.5" ry="1.9"/>
<ellipse class="b" cx="1097.1" cy="1272.3" rx="4.0" ry="4.9"/>
<ellipse class="i" cx="1097.1" cy="1272.9" rx="1.5" ry="1.9"/>
<ellipse class="b" cx="1096.0" cy="1289.4" rx="4.0" ry="4.9"/>
<ellipse class="i" cx="1096.0" cy="1290.0" rx="1.5" ry="1.9"/>
<ellipse class="b" cx="1097.1" cy="1306.5" rx="4.0" ry="4.9"/>
<ellipse class="i" cx="1097.1" cy="1307.1" rx="1.5" ry="1.9"/>
<ellipse class="b" cx="1100.4" cy="1323.5" rx="4.0" ry="4.9"/>
<ellipse class="i" cx="1100.4" cy="1324.1" rx="1.5" ry="1.9"/>
<ellipse class="c" cx="1093.5" cy="1241.2" rx="1.7" ry="2.6"/>
<ellipse class="c" cx="1091.5" cy="1248.0" rx="1.7" ry="2.6"/>
<ellipse class="c" cx="1089.9" cy="1254.8" rx="1.7" ry="2.6"/>
<ellipse class="c" cx="1088.6" cy="1261.6" rx="1.7" ry="2.6"/>
<ellipse class="c" cx="1087.6" cy="1268.4" rx="1.7" ry="2.6"/>
<ellipse class="c" cx="1086.9" cy="1275.2" rx="1.7" ry="2.6"/>
<ellipse class="c" cx="1086.6" cy="1282.0" rx="1.7" ry="2.6"/>
<ellipse class="c" cx="1086.6" cy="1288.8" rx="1.7" ry="2.6"/>
<ellipse class="c" cx="1086.9" cy="1295.6" rx="1.7" ry="2.6"/>
<ellipse class="c" cx="1087.6" cy="1302.4" rx="1.7" ry="2.6"/>
<ellipse class="c" cx="1088.6" cy="1309.3" rx="1.7" ry="2.6"/>
<ellipse class="c" cx="1089.9" cy="1316.1" rx="1.7" ry="2.6"/>
<ellipse class="c" cx="1091.5" cy="1322.9" rx="1.7" ry="2.6"/>
<ellipse class="c" cx="1093.5" cy="1329.7" rx="1.7" ry="2.6"/>
<path class="k" d="M1085.4,1240.3 C1085.0,1242.0 1083.6,1247.3 1082.9,1250.7 C1082.2,1254.2 1081.6,1257.7 1081.1,1261.2 C1080.7,1264.7 1080.3,1268.2 1080.1,1271.6 C1079.8,1275.1 1079.7,1278.6 1079.7,1282.1 C1079.7,1285.6 1079.8,1289.1 1080.1,1292.5 C1080.3,1296.0 1080.7,1299.5 1081.1,1303.0 C1081.6,1306.5 1082.2,1310.0 1082.9,1313.4 C1083.6,1316.9 1085.0,1322.1 1085.4,1323.9" style="stroke-width:11.2"/>
<path class="w" d="M1085.4,1240.3 C1085.0,1242.0 1083.6,1247.3 1082.9,1250.7 C1082.2,1254.2 1081.6,1257.7 1081.1,1261.2 C1080.7,1264.7 1080.3,1268.2 1080.1,1271.6 C1079.8,1275.1 1079.7,1278.6 1079.7,1282.1 C1079.7,1285.6 1079.8,1289.1 1080.1,1292.5 C1080.3,1296.0 1080.7,1299.5 1081.1,1303.0 C1081.6,1306.5 1082.2,1310.0 1082.9,1313.4 C1083.6,1316.9 1085.0,1322.1 1085.4,1323.9" style="stroke-width:7.6"/>
<path class="k" d="M1085.4,1240.3 C1085.0,1242.0 1083.6,1247.3 1082.9,1250.7 C1082.2,1254.2 1081.6,1257.7 1081.1,1261.2 C1080.7,1264.7 1080.3,1268.2 1080.1,1271.6 C1079.8,1275.1 1079.7,1278.6 1079.7,1282.1 C1079.7,1285.6 1079.8,1289.1 1080.1,1292.5 C1080.3,1296.0 1080.7,1299.5 1081.1,1303.0 C1081.6,1306.5 1082.2,1310.0 1082.9,1313.4 C1083.6,1316.9 1085.0,1322.1 1085.4,1323.9" style="stroke-width:5.4"/>
<path class="w" d="M1085.4,1240.3 C1085.0,1242.0 1083.6,1247.3 1082.9,1250.7 C1082.2,1254.2 1081.6,1257.7 1081.1,1261.2 C1080.7,1264.7 1080.3,1268.2 1080.1,1271.6 C1079.8,1275.1 1079.7,1278.6 1079.7,1282.1 C1079.7,1285.6 1079.8,1289.1 1080.1,1292.5 C1080.3,1296.0 1080.7,1299.5 1081.1,1303.0 C1081.6,1306.5 1082.2,1310.0 1082.9,1313.4 C1083.6,1316.9 1085.0,1322.1 1085.4,1323.9" style="stroke-width:4.2"/>
<ellipse class="c" cx="1077.1" cy="1233.2" rx="1.4" ry="2.6"/>
<ellipse class="c" cx="1075.5" cy="1240.0" rx="1.4" ry="2.6"/>
<ellipse class="c" cx="1074.1" cy="1246.8" rx="1.4" ry="2.6"/>
<ellipse class="c" cx="1073.1" cy="1253.6" rx="1.4" ry="2.6"/>
<ellipse class="c" cx="1072.3" cy="1260.4" rx="1.4" ry="2.6"/>
<ellipse class="c" cx="1071.7" cy="1267.2" rx="1.4" ry="2.6"/>
<ellipse class="c" cx="1071.5" cy="1273.9" rx="1.4" ry="2.6"/>
<ellipse class="c" cx="1071.5" cy="1280.7" rx="1.4" ry="2.6"/>
<ellipse class="c" cx="1071.7" cy="1287.5" rx="1.4" ry="2.6"/>
<ellipse class="c" cx="1072.3" cy="1294.3" rx="1.4" ry="2.6"/>
<ellipse class="c" cx="1073.1" cy="1301.1" rx="1.4" ry="2.6"/>
<ellipse class="c" cx="1074.1" cy="1307.9" rx="1.4" ry="2.6"/>
<ellipse class="c" cx="1075.5" cy="1314.7" rx="1.4" ry="2.6"/>
<ellipse class="c" cx="1077.1" cy="1321.5" rx="1.4" ry="2.6"/>
<ellipse class="b" cx="1067.0" cy="1238.2" rx="2.6" ry="4.9"/>
<ellipse class="i" cx="1067.0" cy="1238.8" rx="1.0" ry="1.9"/>
<ellipse class="b" cx="1064.8" cy="1255.2" rx="2.6" ry="4.9"/>
<ellipse class="i" cx="1064.8" cy="1255.8" rx="1.0" ry="1.9"/>
<ellipse class="b" cx="1064.1" cy="1272.2" rx="2.6" ry="4.9"/>
<ellipse class="i" cx="1064.1" cy="1272.8" rx="1.0" ry="1.9"/>
<ellipse class="b" cx="1064.8" cy="1289.1" rx="2.6" ry="4.9"/>
<ellipse class="i" cx="1064.8" cy="1289.7" rx="1.0" ry="1.9"/>
<ellipse class="b" cx="1067.0" cy="1306.1" rx="2.6" ry="4.9"/>
<ellipse class="i" cx="1067.0" cy="1306.7" rx="1.0" ry="1.9"/>
<ellipse class="c" cx="1062.7" cy="1223.3" rx="1.0" ry="2.6"/>
<ellipse class="c" cx="1061.6" cy="1230.1" rx="1.0" ry="2.6"/>
<ellipse class="c" cx="1060.6" cy="1236.9" rx="1.0" ry="2.6"/>
<ellipse class="c" cx="1059.8" cy="1243.6" rx="1.0" ry="2.6"/>
<ellipse class="c" cx="1059.2" cy="1250.4" rx="1.0" ry="2.6"/>
<ellipse class="c" cx="1058.8" cy="1257.2" rx="1.0" ry="2.6"/>
<ellipse class="c" cx="1058.6" cy="1263.9" rx="1.0" ry="2.6"/>
<ellipse class="c" cx="1058.6" cy="1270.7" rx="1.0" ry="2.6"/>
<ellipse class="c" cx="1058.8" cy="1277.5" rx="1.0" ry="2.6"/>
<ellipse class="c" cx="1059.2" cy="1284.3" rx="1.0" ry="2.6"/>
<ellipse class="c" cx="1059.8" cy="1291.0" rx="1.0" ry="2.6"/>
<ellipse class="c" cx="1060.6" cy="1297.8" rx="1.0" ry="2.6"/>
<ellipse class="c" cx="1061.6" cy="1304.6" rx="1.0" ry="2.6"/>
<ellipse class="c" cx="1062.7" cy="1311.3" rx="1.0" ry="2.6"/>
<path class="k" d="M1058.4,1220.1 C1058.2,1221.9 1057.4,1227.3 1056.9,1230.9 C1056.5,1234.6 1056.1,1238.2 1055.9,1241.8 C1055.6,1245.4 1055.4,1249.0 1055.2,1252.6 C1055.1,1256.2 1055.0,1259.8 1055.0,1263.4 C1055.0,1267.0 1055.1,1270.6 1055.2,1274.2 C1055.4,1277.8 1055.6,1281.4 1055.9,1285.0 C1056.1,1288.6 1056.5,1292.2 1056.9,1295.8 C1057.4,1299.4 1058.2,1304.8 1058.4,1306.6" style="stroke-width:7.8"/>
<path class="w" d="M1058.4,1220.1 C1058.2,1221.9 1057.4,1227.3 1056.9,1230.9 C1056.5,1234.6 1056.1,1238.2 1055.9,1241.8 C1055.6,1245.4 1055.4,1249.0 1055.2,1252.6 C1055.1,1256.2 1055.0,1259.8 1055.0,1263.4 C1055.0,1267.0 1055.1,1270.6 1055.2,1274.2 C1055.4,1277.8 1055.6,1281.4 1055.9,1285.0 C1056.1,1288.6 1056.5,1292.2 1056.9,1295.8 C1057.4,1299.4 1058.2,1304.8 1058.4,1306.6" style="stroke-width:4.2"/>
<ellipse class="c" cx="1054.0" cy="1214.0" rx="0.7" ry="2.6"/>
<ellipse class="c" cx="1053.2" cy="1220.8" rx="0.7" ry="2.6"/>
<ellipse class="c" cx="1052.5" cy="1227.5" rx="0.7" ry="2.6"/>
<ellipse class="c" cx="1052.0" cy="1234.3" rx="0.7" ry="2.6"/>
<ellipse class="c" cx="1051.7" cy="1241.0" rx="0.7" ry="2.6"/>
<ellipse class="c" cx="1051.4" cy="1247.8" rx="0.7" ry="2.6"/>
<ellipse class="c" cx="1051.3" cy="1254.5" rx="0.7" ry="2.6"/>
<ellipse class="c" cx="1051.3" cy="1261.3" rx="0.7" ry="2.6"/>
<ellipse class="c" cx="1051.4" cy="1268.0" rx="0.7" ry="2.6"/>
<ellipse class="c" cx="1051.7" cy="1274.8" rx="0.7" ry="2.6"/>
<ellipse class="c" cx="1052.0" cy="1281.5" rx="0.7" ry="2.6"/>
<ellipse class="c" cx="1052.5" cy="1288.3" rx="0.7" ry="2.6"/>
<ellipse class="c" cx="1053.2" cy="1295.0" rx="0.7" ry="2.6"/>
<ellipse class="c" cx="1054.0" cy="1301.8" rx="0.7" ry="2.6"/>
<ellipse class="b" cx="1049.8" cy="1218.3" rx="1.3" ry="4.9"/>
<ellipse class="i" cx="1049.8" cy="1218.9" rx="0.5" ry="1.9"/>
<ellipse class="b" cx="1049.0" cy="1235.2" rx="1.3" ry="4.9"/>
<ellipse class="i" cx="1049.0" cy="1235.8" rx="0.5" ry="1.9"/>
<ellipse class="b" cx="1048.7" cy="1252.1" rx="1.3" ry="4.9"/>
<ellipse class="i" cx="1048.7" cy="1252.7" rx="0.5" ry="1.9"/>
<ellipse class="b" cx="1049.0" cy="1268.9" rx="1.3" ry="4.9"/>
<ellipse class="i" cx="1049.0" cy="1269.5" rx="0.5" ry="1.9"/>
<ellipse class="b" cx="1049.8" cy="1285.8" rx="1.3" ry="4.9"/>
<ellipse class="i" cx="1049.8" cy="1286.4" rx="0.5" ry="1.9"/>
<ellipse class="c" cx="1048.7" cy="1203.1" rx="0.6" ry="2.6"/>
<ellipse class="c" cx="1048.4" cy="1209.8" rx="0.6" ry="2.6"/>
<ellipse class="c" cx="1048.2" cy="1216.5" rx="0.6" ry="2.6"/>
<ellipse class="c" cx="1048.0" cy="1223.3" rx="0.6" ry="2.6"/>
<ellipse class="c" cx="1047.8" cy="1230.0" rx="0.6" ry="2.6"/>
<ellipse class="c" cx="1047.7" cy="1236.7" rx="0.6" ry="2.6"/>
<ellipse class="c" cx="1047.7" cy="1243.4" rx="0.6" ry="2.6"/>
<ellipse class="c" cx="1047.7" cy="1250.2" rx="0.6" ry="2.6"/>
<ellipse class="c" cx="1047.7" cy="1256.9" rx="0.6" ry="2.6"/>
<ellipse class="c" cx="1047.8" cy="1263.6" rx="0.6" ry="2.6"/>
<ellipse class="c" cx="1048.0" cy="1270.4" rx="0.6" ry="2.6"/>
<ellipse class="c" cx="1048.2" cy="1277.1" rx="0.6" ry="2.6"/>
<ellipse class="c" cx="1048.4" cy="1283.8" rx="0.6" ry="2.6"/>
<ellipse class="c" cx="1048.7" cy="1290.5" rx="0.6" ry="2.6"/>
<path class="k" d="M1048.1,1198.8 C1048.0,1200.6 1047.9,1206.1 1047.9,1209.7 C1047.8,1213.4 1047.8,1217.0 1047.8,1220.7 C1047.7,1224.3 1047.7,1228.0 1047.7,1231.6 C1047.7,1235.3 1047.7,1238.9 1047.7,1242.6 C1047.7,1246.2 1047.7,1249.9 1047.7,1253.5 C1047.7,1257.2 1047.7,1260.8 1047.8,1264.4 C1047.8,1268.1 1047.8,1271.7 1047.9,1275.4 C1047.9,1279.0 1048.0,1284.5 1048.1,1286.3" style="stroke-width:6.2"/>
<path class="w" d="M1048.1,1198.8 C1048.0,1200.6 1047.9,1206.1 1047.9,1209.7 C1047.8,1213.4 1047.8,1217.0 1047.8,1220.7 C1047.7,1224.3 1047.7,1228.0 1047.7,1231.6 C1047.7,1235.3 1047.7,1238.9 1047.7,1242.6 C1047.7,1246.2 1047.7,1249.9 1047.7,1253.5 C1047.7,1257.2 1047.7,1260.8 1047.8,1264.4 C1047.8,1268.1 1047.8,1271.7 1047.9,1275.4 C1047.9,1279.0 1048.0,1284.5 1048.1,1286.3" style="stroke-width:2.6"/>
<defs><pattern id="dk" width="6" height="7" patternUnits="userSpaceOnUse"><rect width="6" height="7" fill="#000"/><ellipse cx="3" cy="3.5" rx="1.7" ry="2.1" fill="#fff"/></pattern></defs>
<path d="M1047.5,1070.7 L1047.7,1073.5 L1048.2,1076.4 L1049.0,1079.2 L1050.0,1082.0 L1051.3,1084.9 L1052.9,1087.6 L1054.8,1090.4 L1056.9,1093.2 L1059.3,1095.9 L1062.0,1098.5 L1064.9,1101.2 L1068.0,1103.8 L1068.0,1209.3 L1064.9,1207.3 L1062.0,1205.2 L1059.3,1203.2 L1056.9,1201.0 L1054.8,1198.9 L1052.9,1196.8 L1051.3,1194.6 L1050.0,1192.4 L1049.0,1190.2 L1048.2,1188.0 L1047.7,1185.7 L1047.5,1183.5Z" fill="url(#dk)" stroke="none" opacity="0.62"/>
<path d="M1047.5,1194.6 L1047.7,1197.2 L1048.2,1199.8 L1049.0,1202.4 L1050.0,1205.0 L1051.3,1207.5 L1052.9,1210.0 L1054.8,1212.6 L1056.9,1215.0 L1059.3,1217.5 L1062.0,1219.9 L1064.9,1222.3 L1068.0,1224.7 L1068.0,1317.6 L1064.9,1315.1 L1062.0,1312.7 L1059.3,1310.2 L1056.9,1307.7 L1054.8,1305.1 L1052.9,1302.5 L1051.3,1299.9 L1050.0,1297.3 L1049.0,1294.6 L1048.2,1292.0 L1047.7,1289.3 L1047.5,1286.6Z" fill="url(#dk)" stroke="none" opacity="0.62"/>
<path d="M1453.5,1070.7 L1453.3,1073.5 L1452.8,1076.4 L1452.0,1079.2 L1451.0,1082.0 L1449.7,1084.9 L1448.1,1087.6 L1446.2,1090.4 L1444.1,1093.2 L1441.7,1095.9 L1439.0,1098.5 L1436.1,1101.2 L1433.0,1103.8 L1433.0,1209.3 L1436.1,1207.3 L1439.0,1205.2 L1441.7,1203.2 L1444.1,1201.0 L1446.2,1198.9 L1448.1,1196.8 L1449.7,1194.6 L1451.0,1192.4 L1452.0,1190.2 L1452.8,1188.0 L1453.3,1185.7 L1453.5,1183.5Z" fill="url(#dk)" stroke="none" opacity="0.62"/>
<path d="M1453.5,1194.6 L1453.3,1197.2 L1452.8,1199.8 L1452.0,1202.4 L1451.0,1205.0 L1449.7,1207.5 L1448.1,1210.0 L1446.2,1212.6 L1444.1,1215.0 L1441.7,1217.5 L1439.0,1219.9 L1436.1,1222.3 L1433.0,1224.7 L1433.0,1317.6 L1436.1,1315.1 L1439.0,1312.7 L1441.7,1310.2 L1444.1,1307.7 L1446.2,1305.1 L1448.1,1302.5 L1449.7,1299.9 L1451.0,1297.3 L1452.0,1294.6 L1452.8,1292.0 L1453.3,1289.3 L1453.5,1286.6Z" fill="url(#dk)" stroke="none" opacity="0.62"/>
<ellipse class="b" cx="1054.5" cy="1029.6" rx="1.2" ry="4.5"/>
<ellipse class="i" cx="1054.5" cy="1030.2" rx="0.5" ry="1.8"/>
<ellipse class="b" cx="1054.3" cy="1037.7" rx="1.2" ry="4.5"/>
<ellipse class="i" cx="1054.3" cy="1038.3" rx="0.5" ry="1.8"/>
<ellipse class="b" cx="1054.3" cy="1045.7" rx="1.2" ry="4.5"/>
<ellipse class="i" cx="1054.3" cy="1046.3" rx="0.5" ry="1.8"/>
<ellipse class="b" cx="1054.3" cy="1053.8" rx="1.2" ry="4.5"/>
<ellipse class="i" cx="1054.3" cy="1054.4" rx="0.5" ry="1.8"/>
<ellipse class="b" cx="1054.5" cy="1061.8" rx="1.2" ry="4.5"/>
<ellipse class="i" cx="1054.5" cy="1062.4" rx="0.5" ry="1.8"/>
<ellipse class="c" cx="1056.1" cy="1016.3" rx="0.5" ry="2.5"/>
<ellipse class="c" cx="1055.6" cy="1023.0" rx="0.5" ry="2.5"/>
<ellipse class="c" cx="1055.2" cy="1029.6" rx="0.5" ry="2.5"/>
<ellipse class="c" cx="1055.1" cy="1036.2" rx="0.5" ry="2.5"/>
<ellipse class="c" cx="1055.1" cy="1042.9" rx="0.5" ry="2.5"/>
<ellipse class="c" cx="1055.2" cy="1049.5" rx="0.5" ry="2.5"/>
<ellipse class="c" cx="1055.6" cy="1056.1" rx="0.5" ry="2.5"/>
<ellipse class="c" cx="1056.1" cy="1062.8" rx="0.5" ry="2.5"/>
<path class="k" d="M1057.9,1010.2 C1057.8,1011.2 1057.5,1014.3 1057.3,1016.3 C1057.1,1018.3 1057.0,1020.4 1056.8,1022.4 C1056.7,1024.5 1056.6,1026.5 1056.6,1028.5 C1056.5,1030.6 1056.5,1032.6 1056.5,1034.7 C1056.5,1036.7 1056.5,1038.7 1056.6,1040.8 C1056.6,1042.8 1056.7,1044.9 1056.8,1046.9 C1057.0,1048.9 1057.1,1051.0 1057.3,1053.0 C1057.5,1055.1 1057.8,1058.1 1057.9,1059.1" style="stroke-width:6.0"/>
<path class="w" d="M1057.9,1010.2 C1057.8,1011.2 1057.5,1014.3 1057.3,1016.3 C1057.1,1018.3 1057.0,1020.4 1056.8,1022.4 C1056.7,1024.5 1056.6,1026.5 1056.6,1028.5 C1056.5,1030.6 1056.5,1032.6 1056.5,1034.7 C1056.5,1036.7 1056.5,1038.7 1056.6,1040.8 C1056.6,1042.8 1056.7,1044.9 1056.8,1046.9 C1057.0,1048.9 1057.1,1051.0 1057.3,1053.0 C1057.5,1055.1 1057.8,1058.1 1057.9,1059.1" style="stroke-width:2.4"/>
<ellipse class="c" cx="1061.6" cy="1002.3" rx="0.7" ry="2.5"/>
<ellipse class="c" cx="1060.7" cy="1008.7" rx="0.7" ry="2.5"/>
<ellipse class="c" cx="1060.0" cy="1015.2" rx="0.7" ry="2.5"/>
<ellipse class="c" cx="1059.6" cy="1021.7" rx="0.7" ry="2.5"/>
<ellipse class="c" cx="1059.5" cy="1028.2" rx="0.7" ry="2.5"/>
<ellipse class="c" cx="1059.6" cy="1034.6" rx="0.7" ry="2.5"/>
<ellipse class="c" cx="1060.0" cy="1041.1" rx="0.7" ry="2.5"/>
<ellipse class="c" cx="1060.7" cy="1047.6" rx="0.7" ry="2.5"/>
<ellipse class="c" cx="1061.6" cy="1054.1" rx="0.7" ry="2.5"/>
<ellipse class="b" cx="1065.4" cy="1001.1" rx="1.9" ry="4.5"/>
<ellipse class="i" cx="1065.4" cy="1001.7" rx="0.7" ry="1.8"/>
<ellipse class="b" cx="1064.3" cy="1011.3" rx="1.9" ry="4.5"/>
<ellipse class="i" cx="1064.3" cy="1011.9" rx="0.7" ry="1.8"/>
<ellipse class="b" cx="1063.9" cy="1021.6" rx="1.9" ry="4.5"/>
<ellipse class="i" cx="1063.9" cy="1022.2" rx="0.7" ry="1.8"/>
<ellipse class="b" cx="1064.3" cy="1031.8" rx="1.9" ry="4.5"/>
<ellipse class="i" cx="1064.3" cy="1032.4" rx="0.7" ry="1.8"/>
<ellipse class="b" cx="1065.4" cy="1042.1" rx="1.9" ry="4.5"/>
<ellipse class="i" cx="1065.4" cy="1042.7" rx="0.7" ry="1.8"/>
<ellipse class="c" cx="1072.3" cy="987.2" rx="1.1" ry="2.5"/>
<ellipse class="c" cx="1071.0" cy="993.5" rx="1.1" ry="2.5"/>
<ellipse class="c" cx="1070.0" cy="999.9" rx="1.1" ry="2.5"/>
<ellipse class="c" cx="1069.4" cy="1006.3" rx="1.1" ry="2.5"/>
<ellipse class="c" cx="1069.0" cy="1012.7" rx="1.1" ry="2.5"/>
<ellipse class="c" cx="1069.0" cy="1019.1" rx="1.1" ry="2.5"/>
<ellipse class="c" cx="1069.4" cy="1025.4" rx="1.1" ry="2.5"/>
<ellipse class="c" cx="1070.0" cy="1031.8" rx="1.1" ry="2.5"/>
<ellipse class="c" cx="1071.0" cy="1038.2" rx="1.1" ry="2.5"/>
<ellipse class="c" cx="1072.3" cy="1044.6" rx="1.1" ry="2.5"/>
<path class="k" d="M1077.1,983.4 C1076.9,984.5 1076.1,988.0 1075.7,990.4 C1075.2,992.7 1074.9,995.1 1074.6,997.4 C1074.3,999.7 1074.1,1002.1 1074.0,1004.4 C1073.9,1006.8 1073.8,1009.1 1073.8,1011.4 C1073.8,1013.8 1073.9,1016.1 1074.0,1018.5 C1074.1,1020.8 1074.3,1023.1 1074.6,1025.5 C1074.9,1027.8 1075.2,1030.2 1075.7,1032.5 C1076.1,1034.8 1076.9,1038.4 1077.1,1039.5" style="stroke-width:9.3"/>
<path class="w" d="M1077.1,983.4 C1076.9,984.5 1076.1,988.0 1075.7,990.4 C1075.2,992.7 1074.9,995.1 1074.6,997.4 C1074.3,999.7 1074.1,1002.1 1074.0,1004.4 C1073.9,1006.8 1073.8,1009.1 1073.8,1011.4 C1073.8,1013.8 1073.9,1016.1 1074.0,1018.5 C1074.1,1020.8 1074.3,1023.1 1074.6,1025.5 C1074.9,1027.8 1075.2,1030.2 1075.7,1032.5 C1076.1,1034.8 1076.9,1038.4 1077.1,1039.5" style="stroke-width:5.7"/>
<path class="k" d="M1077.1,983.4 C1076.9,984.5 1076.1,988.0 1075.7,990.4 C1075.2,992.7 1074.9,995.1 1074.6,997.4 C1074.3,999.7 1074.1,1002.1 1074.0,1004.4 C1073.9,1006.8 1073.8,1009.1 1073.8,1011.4 C1073.8,1013.8 1073.9,1016.1 1074.0,1018.5 C1074.1,1020.8 1074.3,1023.1 1074.6,1025.5 C1074.9,1027.8 1075.2,1030.2 1075.7,1032.5 C1076.1,1034.8 1076.9,1038.4 1077.1,1039.5" style="stroke-width:3.5"/>
<path class="w" d="M1077.1,983.4 C1076.9,984.5 1076.1,988.0 1075.7,990.4 C1075.2,992.7 1074.9,995.1 1074.6,997.4 C1074.3,999.7 1074.1,1002.1 1074.0,1004.4 C1073.9,1006.8 1073.8,1009.1 1073.8,1011.4 C1073.8,1013.8 1073.9,1016.1 1074.0,1018.5 C1074.1,1020.8 1074.3,1023.1 1074.6,1025.5 C1074.9,1027.8 1075.2,1030.2 1075.7,1032.5 C1076.1,1034.8 1076.9,1038.4 1077.1,1039.5" style="stroke-width:2.3"/>
<ellipse class="c" cx="1085.5" cy="974.9" rx="1.4" ry="2.5"/>
<ellipse class="c" cx="1083.8" cy="981.8" rx="1.4" ry="2.5"/>
<ellipse class="c" cx="1082.6" cy="988.6" rx="1.4" ry="2.5"/>
<ellipse class="c" cx="1081.7" cy="995.4" rx="1.4" ry="2.5"/>
<ellipse class="c" cx="1081.3" cy="1002.3" rx="1.4" ry="2.5"/>
<ellipse class="c" cx="1081.3" cy="1009.1" rx="1.4" ry="2.5"/>
<ellipse class="c" cx="1081.7" cy="1016.0" rx="1.4" ry="2.5"/>
<ellipse class="c" cx="1082.6" cy="1022.8" rx="1.4" ry="2.5"/>
<ellipse class="c" cx="1083.8" cy="1029.7" rx="1.4" ry="2.5"/>
<ellipse class="c" cx="1085.5" cy="1036.5" rx="1.4" ry="2.5"/>
<ellipse class="b" cx="1092.9" cy="975.7" rx="3.3" ry="4.5"/>
<ellipse class="i" cx="1092.9" cy="976.3" rx="1.3" ry="1.8"/>
<ellipse class="b" cx="1090.9" cy="987.9" rx="3.3" ry="4.5"/>
<ellipse class="i" cx="1090.9" cy="988.5" rx="1.3" ry="1.8"/>
<ellipse class="b" cx="1090.2" cy="1000.1" rx="3.3" ry="4.5"/>
<ellipse class="i" cx="1090.2" cy="1000.7" rx="1.3" ry="1.8"/>
<ellipse class="b" cx="1090.9" cy="1012.3" rx="3.3" ry="4.5"/>
<ellipse class="i" cx="1090.9" cy="1012.9" rx="1.3" ry="1.8"/>
<ellipse class="b" cx="1092.9" cy="1024.5" rx="3.3" ry="4.5"/>
<ellipse class="i" cx="1092.9" cy="1025.1" rx="1.3" ry="1.8"/>
<ellipse class="c" cx="1104.4" cy="962.1" rx="1.7" ry="2.5"/>
<ellipse class="c" cx="1102.5" cy="968.8" rx="1.7" ry="2.5"/>
<ellipse class="c" cx="1101.0" cy="975.4" rx="1.7" ry="2.5"/>
<ellipse class="c" cx="1099.9" cy="982.0" rx="1.7" ry="2.5"/>
<ellipse class="c" cx="1099.3" cy="988.7" rx="1.7" ry="2.5"/>
<ellipse class="c" cx="1099.1" cy="995.3" rx="1.7" ry="2.5"/>
<ellipse class="c" cx="1099.3" cy="1002.0" rx="1.7" ry="2.5"/>
<ellipse class="c" cx="1099.9" cy="1008.6" rx="1.7" ry="2.5"/>
<ellipse class="c" cx="1101.0" cy="1015.3" rx="1.7" ry="2.5"/>
<ellipse class="c" cx="1102.5" cy="1021.9" rx="1.7" ry="2.5"/>
<ellipse class="c" cx="1104.4" cy="1028.6" rx="1.7" ry="2.5"/>
<path class="k" d="M1111.5,960.6 C1111.2,961.9 1110.1,965.8 1109.5,968.4 C1108.9,971.0 1108.4,973.6 1108.0,976.2 C1107.6,978.8 1107.3,981.4 1107.1,984.0 C1106.9,986.6 1106.8,989.2 1106.8,991.8 C1106.8,994.4 1106.9,997.0 1107.1,999.6 C1107.3,1002.2 1107.6,1004.7 1108.0,1007.3 C1108.4,1009.9 1108.9,1012.5 1109.5,1015.1 C1110.1,1017.7 1111.2,1021.6 1111.5,1022.9" style="stroke-width:12.1"/>
<path class="w" d="M1111.5,960.6 C1111.2,961.9 1110.1,965.8 1109.5,968.4 C1108.9,971.0 1108.4,973.6 1108.0,976.2 C1107.6,978.8 1107.3,981.4 1107.1,984.0 C1106.9,986.6 1106.8,989.2 1106.8,991.8 C1106.8,994.4 1106.9,997.0 1107.1,999.6 C1107.3,1002.2 1107.6,1004.7 1108.0,1007.3 C1108.4,1009.9 1108.9,1012.5 1109.5,1015.1 C1110.1,1017.7 1111.2,1021.6 1111.5,1022.9" style="stroke-width:8.5"/>
<path class="k" d="M1111.5,960.6 C1111.2,961.9 1110.1,965.8 1109.5,968.4 C1108.9,971.0 1108.4,973.6 1108.0,976.2 C1107.6,978.8 1107.3,981.4 1107.1,984.0 C1106.9,986.6 1106.8,989.2 1106.8,991.8 C1106.8,994.4 1106.9,997.0 1107.1,999.6 C1107.3,1002.2 1107.6,1004.7 1108.0,1007.3 C1108.4,1009.9 1108.9,1012.5 1109.5,1015.1 C1110.1,1017.7 1111.2,1021.6 1111.5,1022.9" style="stroke-width:6.3"/>
<path class="w" d="M1111.5,960.6 C1111.2,961.9 1110.1,965.8 1109.5,968.4 C1108.9,971.0 1108.4,973.6 1108.0,976.2 C1107.6,978.8 1107.3,981.4 1107.1,984.0 C1106.9,986.6 1106.8,989.2 1106.8,991.8 C1106.8,994.4 1106.9,997.0 1107.1,999.6 C1107.3,1002.2 1107.6,1004.7 1108.0,1007.3 C1108.4,1009.9 1108.9,1012.5 1109.5,1015.1 C1110.1,1017.7 1111.2,1021.6 1111.5,1022.9" style="stroke-width:5.1"/>
<ellipse class="c" cx="1124.2" cy="952.1" rx="1.9" ry="2.5"/>
<ellipse class="c" cx="1122.2" cy="958.5" rx="1.9" ry="2.5"/>
<ellipse class="c" cx="1120.6" cy="964.9" rx="1.9" ry="2.5"/>
<ellipse class="c" cx="1119.3" cy="971.3" rx="1.9" ry="2.5"/>
<ellipse class="c" cx="1118.5" cy="977.7" rx="1.9" ry="2.5"/>
<ellipse class="c" cx="1118.1" cy="984.1" rx="1.9" ry="2.5"/>
<ellipse class="c" cx="1118.1" cy="990.5" rx="1.9" ry="2.5"/>
<ellipse class="c" cx="1118.5" cy="996.9" rx="1.9" ry="2.5"/>
<ellipse class="c" cx="1119.3" cy="1003.3" rx="1.9" ry="2.5"/>
<ellipse class="c" cx="1120.6" cy="1009.7" rx="1.9" ry="2.5"/>
<ellipse class="c" cx="1122.2" cy="1016.1" rx="1.9" ry="2.5"/>
<ellipse class="c" cx="1124.2" cy="1022.5" rx="1.9" ry="2.5"/>
<ellipse class="b" cx="1134.5" cy="955.7" rx="4.4" ry="4.5"/>
<ellipse class="i" cx="1134.5" cy="956.3" rx="1.7" ry="1.8"/>
<ellipse class="b" cx="1131.6" cy="969.4" rx="4.4" ry="4.5"/>
<ellipse class="i" cx="1131.6" cy="970.0" rx="1.7" ry="1.8"/>
<ellipse class="b" cx="1130.7" cy="983.1" rx="4.4" ry="4.5"/>
<ellipse class="i" cx="1130.7" cy="983.7" rx="1.7" ry="1.8"/>
<ellipse class="b" cx="1131.6" cy="996.8" rx="4.4" ry="4.5"/>
<ellipse class="i" cx="1131.6" cy="997.4" rx="1.7" ry="1.8"/>
<ellipse class="b" cx="1134.5" cy="1010.6" rx="4.4" ry="4.5"/>
<ellipse class="i" cx="1134.5" cy="1011.2" rx="1.7" ry="1.8"/>
<ellipse class="c" cx="1149.5" cy="943.0" rx="2.1" ry="2.5"/>
<ellipse class="c" cx="1147.2" cy="949.7" rx="2.1" ry="2.5"/>
<ellipse class="c" cx="1145.4" cy="956.4" rx="2.1" ry="2.5"/>
<ellipse class="c" cx="1144.0" cy="963.1" rx="2.1" ry="2.5"/>
<ellipse class="c" cx="1143.1" cy="969.8" rx="2.1" ry="2.5"/>
<ellipse class="c" cx="1142.7" cy="976.4" rx="2.1" ry="2.5"/>
<ellipse class="c" cx="1142.7" cy="983.1" rx="2.1" ry="2.5"/>
<ellipse class="c" cx="1143.1" cy="989.8" rx="2.1" ry="2.5"/>
<ellipse class="c" cx="1144.0" cy="996.5" rx="2.1" ry="2.5"/>
<ellipse class="c" cx="1145.4" cy="1003.1" rx="2.1" ry="2.5"/>
<ellipse class="c" cx="1147.2" cy="1009.8" rx="2.1" ry="2.5"/>
<ellipse class="c" cx="1149.5" cy="1016.5" rx="2.1" ry="2.5"/>
<path class="k" d="M1158.3,944.0 C1157.9,945.4 1156.5,949.6 1155.8,952.4 C1155.1,955.2 1154.5,957.9 1154.0,960.7 C1153.6,963.5 1153.2,966.3 1153.0,969.1 C1152.7,971.8 1152.6,974.6 1152.6,977.4 C1152.6,980.2 1152.7,983.0 1153.0,985.7 C1153.2,988.5 1153.6,991.3 1154.0,994.1 C1154.5,996.9 1155.1,999.6 1155.8,1002.4 C1156.5,1005.2 1157.9,1009.4 1158.3,1010.7" style="stroke-width:14.1"/>
<path class="w" d="M1158.3,944.0 C1157.9,945.4 1156.5,949.6 1155.8,952.4 C1155.1,955.2 1154.5,957.9 1154.0,960.7 C1153.6,963.5 1153.2,966.3 1153.0,969.1 C1152.7,971.8 1152.6,974.6 1152.6,977.4 C1152.6,980.2 1152.7,983.0 1153.0,985.7 C1153.2,988.5 1153.6,991.3 1154.0,994.1 C1154.5,996.9 1155.1,999.6 1155.8,1002.4 C1156.5,1005.2 1157.9,1009.4 1158.3,1010.7" style="stroke-width:10.5"/>
<path class="k" d="M1158.3,944.0 C1157.9,945.4 1156.5,949.6 1155.8,952.4 C1155.1,955.2 1154.5,957.9 1154.0,960.7 C1153.6,963.5 1153.2,966.3 1153.0,969.1 C1152.7,971.8 1152.6,974.6 1152.6,977.4 C1152.6,980.2 1152.7,983.0 1153.0,985.7 C1153.2,988.5 1153.6,991.3 1154.0,994.1 C1154.5,996.9 1155.1,999.6 1155.8,1002.4 C1156.5,1005.2 1157.9,1009.4 1158.3,1010.7" style="stroke-width:8.3"/>
<path class="w" d="M1158.3,944.0 C1157.9,945.4 1156.5,949.6 1155.8,952.4 C1155.1,955.2 1154.5,957.9 1154.0,960.7 C1153.6,963.5 1153.2,966.3 1153.0,969.1 C1152.7,971.8 1152.6,974.6 1152.6,977.4 C1152.6,980.2 1152.7,983.0 1153.0,985.7 C1153.2,988.5 1153.6,991.3 1154.0,994.1 C1154.5,996.9 1155.1,999.6 1155.8,1002.4 C1156.5,1005.2 1157.9,1009.4 1158.3,1010.7" style="stroke-width:7.1"/>
<ellipse class="c" cx="1174.2" cy="936.5" rx="2.3" ry="2.5"/>
<ellipse class="c" cx="1171.9" cy="942.9" rx="2.3" ry="2.5"/>
<ellipse class="c" cx="1170.0" cy="949.2" rx="2.3" ry="2.5"/>
<ellipse class="c" cx="1168.5" cy="955.6" rx="2.3" ry="2.5"/>
<ellipse class="c" cx="1167.5" cy="961.9" rx="2.3" ry="2.5"/>
<ellipse class="c" cx="1166.9" cy="968.2" rx="2.3" ry="2.5"/>
<ellipse class="c" cx="1166.7" cy="974.6" rx="2.3" ry="2.5"/>
<ellipse class="c" cx="1166.9" cy="980.9" rx="2.3" ry="2.5"/>
<ellipse class="c" cx="1167.5" cy="987.3" rx="2.3" ry="2.5"/>
<ellipse class="c" cx="1168.5" cy="993.6" rx="2.3" ry="2.5"/>
<ellipse class="c" cx="1170.0" cy="1000.0" rx="2.3" ry="2.5"/>
<ellipse class="c" cx="1171.9" cy="1006.3" rx="2.3" ry="2.5"/>
<ellipse class="c" cx="1174.2" cy="1012.7" rx="2.3" ry="2.5"/>
<ellipse class="b" cx="1186.3" cy="942.8" rx="5.1" ry="4.5"/>
<ellipse class="i" cx="1186.3" cy="943.4" rx="2.0" ry="1.8"/>
<ellipse class="b" cx="1182.9" cy="957.5" rx="5.1" ry="4.5"/>
<ellipse class="i" cx="1182.9" cy="958.1" rx="2.0" ry="1.8"/>
<ellipse class="b" cx="1181.8" cy="972.2" rx="5.1" ry="4.5"/>
<ellipse class="i" cx="1181.8" cy="972.8" rx="2.0" ry="1.8"/>
<ellipse class="b" cx="1182.9" cy="986.9" rx="5.1" ry="4.5"/>
<ellipse class="i" cx="1182.9" cy="987.5" rx="2.0" ry="1.8"/>
<ellipse class="b" cx="1186.3" cy="1001.6" rx="5.1" ry="4.5"/>
<ellipse class="i" cx="1186.3" cy="1002.2" rx="2.0" ry="1.8"/>
<ellipse class="c" cx="1203.6" cy="931.7" rx="2.4" ry="2.5"/>
<ellipse class="c" cx="1201.2" cy="938.1" rx="2.4" ry="2.5"/>
<ellipse class="c" cx="1199.2" cy="944.6" rx="2.4" ry="2.5"/>
<ellipse class="c" cx="1197.7" cy="951.1" rx="2.4" ry="2.5"/>
<ellipse class="c" cx="1196.6" cy="957.6" rx="2.4" ry="2.5"/>
<ellipse class="c" cx="1195.9" cy="964.1" rx="2.4" ry="2.5"/>
<ellipse class="c" cx="1195.7" cy="970.6" rx="2.4" ry="2.5"/>
<ellipse class="c" cx="1195.9" cy="977.1" rx="2.4" ry="2.5"/>
<ellipse class="c" cx="1196.6" cy="983.5" rx="2.4" ry="2.5"/>
<ellipse class="c" cx="1197.7" cy="990.0" rx="2.4" ry="2.5"/>
<ellipse class="c" cx="1199.2" cy="996.5" rx="2.4" ry="2.5"/>
<ellipse class="c" cx="1201.2" cy="1003.0" rx="2.4" ry="2.5"/>
<ellipse class="c" cx="1203.6" cy="1009.5" rx="2.4" ry="2.5"/>
<path class="k" d="M1213.4,935.0 C1212.9,936.4 1211.4,940.8 1210.6,943.6 C1209.8,946.5 1209.2,949.4 1208.7,952.3 C1208.1,955.2 1207.7,958.1 1207.5,960.9 C1207.2,963.8 1207.1,966.7 1207.1,969.6 C1207.1,972.5 1207.2,975.3 1207.5,978.2 C1207.7,981.1 1208.1,984.0 1208.7,986.9 C1209.2,989.7 1209.8,992.6 1210.6,995.5 C1211.4,998.4 1212.9,1002.7 1213.4,1004.1" style="stroke-width:15.2"/>
<path class="w" d="M1213.4,935.0 C1212.9,936.4 1211.4,940.8 1210.6,943.6 C1209.8,946.5 1209.2,949.4 1208.7,952.3 C1208.1,955.2 1207.7,958.1 1207.5,960.9 C1207.2,963.8 1207.1,966.7 1207.1,969.6 C1207.1,972.5 1207.2,975.3 1207.5,978.2 C1207.7,981.1 1208.1,984.0 1208.7,986.9 C1209.2,989.7 1209.8,992.6 1210.6,995.5 C1211.4,998.4 1212.9,1002.7 1213.4,1004.1" style="stroke-width:11.6"/>
<path class="k" d="M1213.4,935.0 C1212.9,936.4 1211.4,940.8 1210.6,943.6 C1209.8,946.5 1209.2,949.4 1208.7,952.3 C1208.1,955.2 1207.7,958.1 1207.5,960.9 C1207.2,963.8 1207.1,966.7 1207.1,969.6 C1207.1,972.5 1207.2,975.3 1207.5,978.2 C1207.7,981.1 1208.1,984.0 1208.7,986.9 C1209.2,989.7 1209.8,992.6 1210.6,995.5 C1211.4,998.4 1212.9,1002.7 1213.4,1004.1" style="stroke-width:9.4"/>
<path class="w" d="M1213.4,935.0 C1212.9,936.4 1211.4,940.8 1210.6,943.6 C1209.8,946.5 1209.2,949.4 1208.7,952.3 C1208.1,955.2 1207.7,958.1 1207.5,960.9 C1207.2,963.8 1207.1,966.7 1207.1,969.6 C1207.1,972.5 1207.2,975.3 1207.5,978.2 C1207.7,981.1 1208.1,984.0 1208.7,986.9 C1209.2,989.7 1209.8,992.6 1210.6,995.5 C1211.4,998.4 1212.9,1002.7 1213.4,1004.1" style="stroke-width:8.2"/>
<ellipse class="c" cx="1230.8" cy="929.4" rx="2.5" ry="2.5"/>
<ellipse class="c" cx="1228.3" cy="935.9" rx="2.5" ry="2.5"/>
<ellipse class="c" cx="1226.3" cy="942.5" rx="2.5" ry="2.5"/>
<ellipse class="c" cx="1224.7" cy="949.0" rx="2.5" ry="2.5"/>
<ellipse class="c" cx="1223.6" cy="955.6" rx="2.5" ry="2.5"/>
<ellipse class="c" cx="1222.9" cy="962.1" rx="2.5" ry="2.5"/>
<ellipse class="c" cx="1222.7" cy="968.7" rx="2.5" ry="2.5"/>
<ellipse class="c" cx="1222.9" cy="975.2" rx="2.5" ry="2.5"/>
<ellipse class="c" cx="1223.6" cy="981.8" rx="2.5" ry="2.5"/>
<ellipse class="c" cx="1224.7" cy="988.3" rx="2.5" ry="2.5"/>
<ellipse class="c" cx="1226.3" cy="994.9" rx="2.5" ry="2.5"/>
<ellipse class="c" cx="1228.3" cy="1001.4" rx="2.5" ry="2.5"/>
<ellipse class="c" cx="1230.8" cy="1008.0" rx="2.5" ry="2.5"/>
<ellipse class="b" cx="1243.8" cy="938.2" rx="5.3" ry="4.5"/>
<ellipse class="i" cx="1243.8" cy="938.8" rx="2.1" ry="1.8"/>
<ellipse class="b" cx="1240.2" cy="953.3" rx="5.3" ry="4.5"/>
<ellipse class="i" cx="1240.2" cy="953.9" rx="2.1" ry="1.8"/>
<ellipse class="b" cx="1239.0" cy="968.4" rx="5.3" ry="4.5"/>
<ellipse class="i" cx="1239.0" cy="969.0" rx="2.1" ry="1.8"/>
<ellipse class="b" cx="1240.2" cy="983.4" rx="5.3" ry="4.5"/>
<ellipse class="i" cx="1240.2" cy="984.0" rx="2.1" ry="1.8"/>
<ellipse class="b" cx="1243.8" cy="998.5" rx="5.3" ry="4.5"/>
<ellipse class="i" cx="1243.8" cy="999.1" rx="2.1" ry="1.8"/>
<ellipse class="c" cx="1261.8" cy="929.2" rx="2.5" ry="2.5"/>
<ellipse class="c" cx="1259.3" cy="935.8" rx="2.5" ry="2.5"/>
<ellipse class="c" cx="1257.3" cy="942.3" rx="2.5" ry="2.5"/>
<ellipse class="c" cx="1255.7" cy="948.9" rx="2.5" ry="2.5"/>
<ellipse class="c" cx="1254.6" cy="955.4" rx="2.5" ry="2.5"/>
<ellipse class="c" cx="1253.9" cy="962.0" rx="2.5" ry="2.5"/>
<ellipse class="c" cx="1253.7" cy="968.5" rx="2.5" ry="2.5"/>
<ellipse class="c" cx="1253.9" cy="975.1" rx="2.5" ry="2.5"/>
<ellipse class="c" cx="1254.6" cy="981.6" rx="2.5" ry="2.5"/>
<ellipse class="c" cx="1255.7" cy="988.2" rx="2.5" ry="2.5"/>
<ellipse class="c" cx="1257.3" cy="994.8" rx="2.5" ry="2.5"/>
<ellipse class="c" cx="1259.3" cy="1001.3" rx="2.5" ry="2.5"/>
<ellipse class="c" cx="1261.8" cy="1007.9" rx="2.5" ry="2.5"/>
<path class="k" d="M1271.7,934.4 C1271.3,935.8 1269.8,940.1 1269.0,943.0 C1268.2,945.9 1267.5,948.8 1267.0,951.7 C1266.5,954.6 1266.1,957.5 1265.8,960.4 C1265.6,963.2 1265.4,966.1 1265.4,969.0 C1265.4,971.9 1265.6,974.8 1265.8,977.7 C1266.1,980.6 1266.5,983.5 1267.0,986.3 C1267.5,989.2 1268.2,992.1 1269.0,995.0 C1269.8,997.9 1271.3,1002.2 1271.7,1003.7" style="stroke-width:15.3"/>
<path class="w" d="M1271.7,934.4 C1271.3,935.8 1269.8,940.1 1269.0,943.0 C1268.2,945.9 1267.5,948.8 1267.0,951.7 C1266.5,954.6 1266.1,957.5 1265.8,960.4 C1265.6,963.2 1265.4,966.1 1265.4,969.0 C1265.4,971.9 1265.6,974.8 1265.8,977.7 C1266.1,980.6 1266.5,983.5 1267.0,986.3 C1267.5,989.2 1268.2,992.1 1269.0,995.0 C1269.8,997.9 1271.3,1002.2 1271.7,1003.7" style="stroke-width:11.7"/>
<path class="k" d="M1271.7,934.4 C1271.3,935.8 1269.8,940.1 1269.0,943.0 C1268.2,945.9 1267.5,948.8 1267.0,951.7 C1266.5,954.6 1266.1,957.5 1265.8,960.4 C1265.6,963.2 1265.4,966.1 1265.4,969.0 C1265.4,971.9 1265.6,974.8 1265.8,977.7 C1266.1,980.6 1266.5,983.5 1267.0,986.3 C1267.5,989.2 1268.2,992.1 1269.0,995.0 C1269.8,997.9 1271.3,1002.2 1271.7,1003.7" style="stroke-width:9.5"/>
<path class="w" d="M1271.7,934.4 C1271.3,935.8 1269.8,940.1 1269.0,943.0 C1268.2,945.9 1267.5,948.8 1267.0,951.7 C1266.5,954.6 1266.1,957.5 1265.8,960.4 C1265.6,963.2 1265.4,966.1 1265.4,969.0 C1265.4,971.9 1265.6,974.8 1265.8,977.7 C1266.1,980.6 1266.5,983.5 1267.0,986.3 C1267.5,989.2 1268.2,992.1 1269.0,995.0 C1269.8,997.9 1271.3,1002.2 1271.7,1003.7" style="stroke-width:8.3"/>
<ellipse class="c" cx="1289.1" cy="931.1" rx="2.4" ry="2.5"/>
<ellipse class="c" cx="1286.7" cy="937.6" rx="2.4" ry="2.5"/>
<ellipse class="c" cx="1284.7" cy="944.1" rx="2.4" ry="2.5"/>
<ellipse class="c" cx="1283.2" cy="950.6" rx="2.4" ry="2.5"/>
<ellipse class="c" cx="1282.1" cy="957.1" rx="2.4" ry="2.5"/>
<ellipse class="c" cx="1281.4" cy="963.6" rx="2.4" ry="2.5"/>
<ellipse class="c" cx="1281.2" cy="970.1" rx="2.4" ry="2.5"/>
<ellipse class="c" cx="1281.4" cy="976.6" rx="2.4" ry="2.5"/>
<ellipse class="c" cx="1282.1" cy="983.1" rx="2.4" ry="2.5"/>
<ellipse class="c" cx="1283.2" cy="989.6" rx="2.4" ry="2.5"/>
<ellipse class="c" cx="1284.7" cy="996.1" rx="2.4" ry="2.5"/>
<ellipse class="c" cx="1286.7" cy="1002.6" rx="2.4" ry="2.5"/>
<ellipse class="c" cx="1289.1" cy="1009.1" rx="2.4" ry="2.5"/>
<ellipse class="b" cx="1301.8" cy="942.4" rx="5.1" ry="4.5"/>
<ellipse class="i" cx="1301.8" cy="943.0" rx="2.0" ry="1.8"/>
<ellipse class="b" cx="1298.4" cy="957.1" rx="5.1" ry="4.5"/>
<ellipse class="i" cx="1298.4" cy="957.7" rx="2.0" ry="1.8"/>
<ellipse class="b" cx="1297.3" cy="971.9" rx="5.1" ry="4.5"/>
<ellipse class="i" cx="1297.3" cy="972.5" rx="2.0" ry="1.8"/>
<ellipse class="b" cx="1298.4" cy="986.6" rx="5.1" ry="4.5"/>
<ellipse class="i" cx="1298.4" cy="987.2" rx="2.0" ry="1.8"/>
<ellipse class="b" cx="1301.8" cy="1001.3" rx="5.1" ry="4.5"/>
<ellipse class="i" cx="1301.8" cy="1001.9" rx="2.0" ry="1.8"/>
<ellipse class="c" cx="1319.0" cy="935.6" rx="2.3" ry="2.5"/>
<ellipse class="c" cx="1316.7" cy="942.0" rx="2.3" ry="2.5"/>
<ellipse class="c" cx="1314.8" cy="948.4" rx="2.3" ry="2.5"/>
<ellipse class="c" cx="1313.3" cy="954.7" rx="2.3" ry="2.5"/>
<ellipse class="c" cx="1312.2" cy="961.1" rx="2.3" ry="2.5"/>
<ellipse class="c" cx="1311.6" cy="967.5" rx="2.3" ry="2.5"/>
<ellipse class="c" cx="1311.4" cy="973.9" rx="2.3" ry="2.5"/>
<ellipse class="c" cx="1311.6" cy="980.2" rx="2.3" ry="2.5"/>
<ellipse class="c" cx="1312.2" cy="986.6" rx="2.3" ry="2.5"/>
<ellipse class="c" cx="1313.3" cy="993.0" rx="2.3" ry="2.5"/>
<ellipse class="c" cx="1314.8" cy="999.3" rx="2.3" ry="2.5"/>
<ellipse class="c" cx="1316.7" cy="1005.7" rx="2.3" ry="2.5"/>
<ellipse class="c" cx="1319.0" cy="1012.1" rx="2.3" ry="2.5"/>
<path class="k" d="M1328.3,942.2 C1327.9,943.6 1326.5,947.8 1325.7,950.6 C1325.0,953.4 1324.4,956.2 1323.9,959.0 C1323.4,961.8 1323.1,964.6 1322.8,967.4 C1322.6,970.2 1322.5,973.0 1322.5,975.8 C1322.5,978.6 1322.6,981.4 1322.8,984.2 C1323.1,987.0 1323.4,989.8 1323.9,992.6 C1324.4,995.4 1325.0,998.2 1325.7,1001.0 C1326.5,1003.8 1327.9,1008.0 1328.3,1009.4" style="stroke-width:14.3"/>
<path class="w" d="M1328.3,942.2 C1327.9,943.6 1326.5,947.8 1325.7,950.6 C1325.0,953.4 1324.4,956.2 1323.9,959.0 C1323.4,961.8 1323.1,964.6 1322.8,967.4 C1322.6,970.2 1322.5,973.0 1322.5,975.8 C1322.5,978.6 1322.6,981.4 1322.8,984.2 C1323.1,987.0 1323.4,989.8 1323.9,992.6 C1324.4,995.4 1325.0,998.2 1325.7,1001.0 C1326.5,1003.8 1327.9,1008.0 1328.3,1009.4" style="stroke-width:10.7"/>
<path class="k" d="M1328.3,942.2 C1327.9,943.6 1326.5,947.8 1325.7,950.6 C1325.0,953.4 1324.4,956.2 1323.9,959.0 C1323.4,961.8 1323.1,964.6 1322.8,967.4 C1322.6,970.2 1322.5,973.0 1322.5,975.8 C1322.5,978.6 1322.6,981.4 1322.8,984.2 C1323.1,987.0 1323.4,989.8 1323.9,992.6 C1324.4,995.4 1325.0,998.2 1325.7,1001.0 C1326.5,1003.8 1327.9,1008.0 1328.3,1009.4" style="stroke-width:8.5"/>
<path class="w" d="M1328.3,942.2 C1327.9,943.6 1326.5,947.8 1325.7,950.6 C1325.0,953.4 1324.4,956.2 1323.9,959.0 C1323.4,961.8 1323.1,964.6 1322.8,967.4 C1322.6,970.2 1322.5,973.0 1322.5,975.8 C1322.5,978.6 1322.6,981.4 1322.8,984.2 C1323.1,987.0 1323.4,989.8 1323.9,992.6 C1324.4,995.4 1325.0,998.2 1325.7,1001.0 C1326.5,1003.8 1327.9,1008.0 1328.3,1009.4" style="stroke-width:7.3"/>
<ellipse class="c" cx="1343.9" cy="941.9" rx="2.2" ry="2.5"/>
<ellipse class="c" cx="1341.6" cy="948.6" rx="2.2" ry="2.5"/>
<ellipse class="c" cx="1339.8" cy="955.3" rx="2.2" ry="2.5"/>
<ellipse class="c" cx="1338.4" cy="962.0" rx="2.2" ry="2.5"/>
<ellipse class="c" cx="1337.5" cy="968.7" rx="2.2" ry="2.5"/>
<ellipse class="c" cx="1337.0" cy="975.4" rx="2.2" ry="2.5"/>
<ellipse class="c" cx="1337.0" cy="982.1" rx="2.2" ry="2.5"/>
<ellipse class="c" cx="1337.5" cy="988.9" rx="2.2" ry="2.5"/>
<ellipse class="c" cx="1338.4" cy="995.6" rx="2.2" ry="2.5"/>
<ellipse class="c" cx="1339.8" cy="1002.3" rx="2.2" ry="2.5"/>
<ellipse class="c" cx="1341.6" cy="1009.0" rx="2.2" ry="2.5"/>
<ellipse class="c" cx="1343.9" cy="1015.7" rx="2.2" ry="2.5"/>
<ellipse class="b" cx="1355.2" cy="954.8" rx="4.4" ry="4.5"/>
<ellipse class="i" cx="1355.2" cy="955.4" rx="1.7" ry="1.8"/>
<ellipse class="b" cx="1352.4" cy="968.6" rx="4.4" ry="4.5"/>
<ellipse class="i" cx="1352.4" cy="969.2" rx="1.7" ry="1.8"/>
<ellipse class="b" cx="1351.4" cy="982.4" rx="4.4" ry="4.5"/>
<ellipse class="i" cx="1351.4" cy="983.0" rx="1.7" ry="1.8"/>
<ellipse class="b" cx="1352.4" cy="996.2" rx="4.4" ry="4.5"/>
<ellipse class="i" cx="1352.4" cy="996.8" rx="1.7" ry="1.8"/>
<ellipse class="b" cx="1355.2" cy="1010.0" rx="4.4" ry="4.5"/>
<ellipse class="i" cx="1355.2" cy="1010.6" rx="1.7" ry="1.8"/>
<ellipse class="c" cx="1370.0" cy="950.6" rx="1.9" ry="2.5"/>
<ellipse class="c" cx="1367.9" cy="957.1" rx="1.9" ry="2.5"/>
<ellipse class="c" cx="1366.2" cy="963.5" rx="1.9" ry="2.5"/>
<ellipse class="c" cx="1365.0" cy="970.0" rx="1.9" ry="2.5"/>
<ellipse class="c" cx="1364.2" cy="976.4" rx="1.9" ry="2.5"/>
<ellipse class="c" cx="1363.7" cy="982.8" rx="1.9" ry="2.5"/>
<ellipse class="c" cx="1363.7" cy="989.3" rx="1.9" ry="2.5"/>
<ellipse class="c" cx="1364.2" cy="995.7" rx="1.9" ry="2.5"/>
<ellipse class="c" cx="1365.0" cy="1002.2" rx="1.9" ry="2.5"/>
<ellipse class="c" cx="1366.2" cy="1008.6" rx="1.9" ry="2.5"/>
<ellipse class="c" cx="1367.9" cy="1015.0" rx="1.9" ry="2.5"/>
<ellipse class="c" cx="1370.0" cy="1021.5" rx="1.9" ry="2.5"/>
<path class="k" d="M1378.0,957.7 C1377.6,959.0 1376.4,963.0 1375.8,965.6 C1375.2,968.2 1374.7,970.9 1374.3,973.5 C1373.9,976.1 1373.6,978.7 1373.4,981.4 C1373.2,984.0 1373.1,986.6 1373.1,989.2 C1373.1,991.9 1373.2,994.5 1373.4,997.1 C1373.6,999.7 1373.9,1002.4 1374.3,1005.0 C1374.7,1007.6 1375.2,1010.3 1375.8,1012.9 C1376.4,1015.5 1377.6,1019.5 1378.0,1020.8" style="stroke-width:12.4"/>
<path class="w" d="M1378.0,957.7 C1377.6,959.0 1376.4,963.0 1375.8,965.6 C1375.2,968.2 1374.7,970.9 1374.3,973.5 C1373.9,976.1 1373.6,978.7 1373.4,981.4 C1373.2,984.0 1373.1,986.6 1373.1,989.2 C1373.1,991.9 1373.2,994.5 1373.4,997.1 C1373.6,999.7 1373.9,1002.4 1374.3,1005.0 C1374.7,1007.6 1375.2,1010.3 1375.8,1012.9 C1376.4,1015.5 1377.6,1019.5 1378.0,1020.8" style="stroke-width:8.8"/>
<path class="k" d="M1378.0,957.7 C1377.6,959.0 1376.4,963.0 1375.8,965.6 C1375.2,968.2 1374.7,970.9 1374.3,973.5 C1373.9,976.1 1373.6,978.7 1373.4,981.4 C1373.2,984.0 1373.1,986.6 1373.1,989.2 C1373.1,991.9 1373.2,994.5 1373.4,997.1 C1373.6,999.7 1373.9,1002.4 1374.3,1005.0 C1374.7,1007.6 1375.2,1010.3 1375.8,1012.9 C1376.4,1015.5 1377.6,1019.5 1378.0,1020.8" style="stroke-width:6.6"/>
<path class="w" d="M1378.0,957.7 C1377.6,959.0 1376.4,963.0 1375.8,965.6 C1375.2,968.2 1374.7,970.9 1374.3,973.5 C1373.9,976.1 1373.6,978.7 1373.4,981.4 C1373.2,984.0 1373.1,986.6 1373.1,989.2 C1373.1,991.9 1373.2,994.5 1373.4,997.1 C1373.6,999.7 1373.9,1002.4 1374.3,1005.0 C1374.7,1007.6 1375.2,1010.3 1375.8,1012.9 C1376.4,1015.5 1377.6,1019.5 1378.0,1020.8" style="stroke-width:5.4"/>
<ellipse class="c" cx="1390.5" cy="960.4" rx="1.7" ry="2.5"/>
<ellipse class="c" cx="1388.5" cy="967.1" rx="1.7" ry="2.5"/>
<ellipse class="c" cx="1387.0" cy="973.8" rx="1.7" ry="2.5"/>
<ellipse class="c" cx="1385.9" cy="980.5" rx="1.7" ry="2.5"/>
<ellipse class="c" cx="1385.3" cy="987.2" rx="1.7" ry="2.5"/>
<ellipse class="c" cx="1385.0" cy="993.9" rx="1.7" ry="2.5"/>
<ellipse class="c" cx="1385.3" cy="1000.6" rx="1.7" ry="2.5"/>
<ellipse class="c" cx="1385.9" cy="1007.3" rx="1.7" ry="2.5"/>
<ellipse class="c" cx="1387.0" cy="1014.0" rx="1.7" ry="2.5"/>
<ellipse class="c" cx="1388.5" cy="1020.7" rx="1.7" ry="2.5"/>
<ellipse class="c" cx="1390.5" cy="1027.4" rx="1.7" ry="2.5"/>
<ellipse class="b" cx="1399.3" cy="974.5" rx="3.3" ry="4.5"/>
<ellipse class="i" cx="1399.3" cy="975.1" rx="1.3" ry="1.8"/>
<ellipse class="b" cx="1397.2" cy="986.8" rx="3.3" ry="4.5"/>
<ellipse class="i" cx="1397.2" cy="987.4" rx="1.3" ry="1.8"/>
<ellipse class="b" cx="1396.5" cy="999.1" rx="3.3" ry="4.5"/>
<ellipse class="i" cx="1396.5" cy="999.7" rx="1.3" ry="1.8"/>
<ellipse class="b" cx="1397.2" cy="1011.4" rx="3.3" ry="4.5"/>
<ellipse class="i" cx="1397.2" cy="1012.0" rx="1.3" ry="1.8"/>
<ellipse class="b" cx="1399.3" cy="1023.7" rx="3.3" ry="4.5"/>
<ellipse class="i" cx="1399.3" cy="1024.3" rx="1.3" ry="1.8"/>
<ellipse class="c" cx="1410.4" cy="972.6" rx="1.4" ry="2.5"/>
<ellipse class="c" cx="1408.8" cy="978.9" rx="1.4" ry="2.5"/>
<ellipse class="c" cx="1407.5" cy="985.2" rx="1.4" ry="2.5"/>
<ellipse class="c" cx="1406.6" cy="991.5" rx="1.4" ry="2.5"/>
<ellipse class="c" cx="1406.1" cy="997.8" rx="1.4" ry="2.5"/>
<ellipse class="c" cx="1405.9" cy="1004.1" rx="1.4" ry="2.5"/>
<ellipse class="c" cx="1406.1" cy="1010.3" rx="1.4" ry="2.5"/>
<ellipse class="c" cx="1406.6" cy="1016.6" rx="1.4" ry="2.5"/>
<ellipse class="c" cx="1407.5" cy="1022.9" rx="1.4" ry="2.5"/>
<ellipse class="c" cx="1408.8" cy="1029.2" rx="1.4" ry="2.5"/>
<ellipse class="c" cx="1410.4" cy="1035.5" rx="1.4" ry="2.5"/>
<path class="k" d="M1416.3,979.6 C1416.1,980.8 1415.2,984.4 1414.8,986.8 C1414.4,989.2 1414.0,991.6 1413.7,993.9 C1413.4,996.3 1413.2,998.7 1413.0,1001.1 C1412.9,1003.5 1412.8,1005.8 1412.8,1008.2 C1412.8,1010.6 1412.9,1013.0 1413.0,1015.4 C1413.2,1017.7 1413.4,1020.1 1413.7,1022.5 C1414.0,1024.9 1414.4,1027.3 1414.8,1029.7 C1415.2,1032.0 1416.1,1035.6 1416.3,1036.8" style="stroke-width:9.7"/>
<path class="w" d="M1416.3,979.6 C1416.1,980.8 1415.2,984.4 1414.8,986.8 C1414.4,989.2 1414.0,991.6 1413.7,993.9 C1413.4,996.3 1413.2,998.7 1413.0,1001.1 C1412.9,1003.5 1412.8,1005.8 1412.8,1008.2 C1412.8,1010.6 1412.9,1013.0 1413.0,1015.4 C1413.2,1017.7 1413.4,1020.1 1413.7,1022.5 C1414.0,1024.9 1414.4,1027.3 1414.8,1029.7 C1415.2,1032.0 1416.1,1035.6 1416.3,1036.8" style="stroke-width:6.1"/>
<path class="k" d="M1416.3,979.6 C1416.1,980.8 1415.2,984.4 1414.8,986.8 C1414.4,989.2 1414.0,991.6 1413.7,993.9 C1413.4,996.3 1413.2,998.7 1413.0,1001.1 C1412.9,1003.5 1412.8,1005.8 1412.8,1008.2 C1412.8,1010.6 1412.9,1013.0 1413.0,1015.4 C1413.2,1017.7 1413.4,1020.1 1413.7,1022.5 C1414.0,1024.9 1414.4,1027.3 1414.8,1029.7 C1415.2,1032.0 1416.1,1035.6 1416.3,1036.8" style="stroke-width:3.9"/>
<path class="w" d="M1416.3,979.6 C1416.1,980.8 1415.2,984.4 1414.8,986.8 C1414.4,989.2 1414.0,991.6 1413.7,993.9 C1413.4,996.3 1413.2,998.7 1413.0,1001.1 C1412.9,1003.5 1412.8,1005.8 1412.8,1008.2 C1412.8,1010.6 1412.9,1013.0 1413.0,1015.4 C1413.2,1017.7 1413.4,1020.1 1413.7,1022.5 C1414.0,1024.9 1414.4,1027.3 1414.8,1029.7 C1415.2,1032.0 1416.1,1035.6 1416.3,1036.8" style="stroke-width:2.7"/>
<ellipse class="c" cx="1424.6" cy="985.0" rx="1.1" ry="2.5"/>
<ellipse class="c" cx="1423.2" cy="991.5" rx="1.1" ry="2.5"/>
<ellipse class="c" cx="1422.2" cy="997.9" rx="1.1" ry="2.5"/>
<ellipse class="c" cx="1421.6" cy="1004.4" rx="1.1" ry="2.5"/>
<ellipse class="c" cx="1421.2" cy="1010.9" rx="1.1" ry="2.5"/>
<ellipse class="c" cx="1421.2" cy="1017.3" rx="1.1" ry="2.5"/>
<ellipse class="c" cx="1421.6" cy="1023.8" rx="1.1" ry="2.5"/>
<ellipse class="c" cx="1422.2" cy="1030.2" rx="1.1" ry="2.5"/>
<ellipse class="c" cx="1423.2" cy="1036.7" rx="1.1" ry="2.5"/>
<ellipse class="c" cx="1424.6" cy="1043.2" rx="1.1" ry="2.5"/>
<ellipse class="b" cx="1430.3" cy="999.7" rx="2.0" ry="4.5"/>
<ellipse class="i" cx="1430.3" cy="1000.3" rx="0.8" ry="1.8"/>
<ellipse class="b" cx="1429.1" cy="1010.1" rx="2.0" ry="4.5"/>
<ellipse class="i" cx="1429.1" cy="1010.7" rx="0.8" ry="1.8"/>
<ellipse class="b" cx="1428.7" cy="1020.4" rx="2.0" ry="4.5"/>
<ellipse class="i" cx="1428.7" cy="1021.0" rx="0.8" ry="1.8"/>
<ellipse class="b" cx="1429.1" cy="1030.8" rx="2.0" ry="4.5"/>
<ellipse class="i" cx="1429.1" cy="1031.4" rx="0.8" ry="1.8"/>
<ellipse class="b" cx="1430.3" cy="1041.1" rx="2.0" ry="4.5"/>
<ellipse class="i" cx="1430.3" cy="1041.7" rx="0.8" ry="1.8"/>
<ellipse class="c" cx="1436.6" cy="1000.0" rx="0.7" ry="2.5"/>
<ellipse class="c" cx="1435.6" cy="1006.6" rx="0.7" ry="2.5"/>
<ellipse class="c" cx="1434.9" cy="1013.1" rx="0.7" ry="2.5"/>
<ellipse class="c" cx="1434.5" cy="1019.7" rx="0.7" ry="2.5"/>
<ellipse class="c" cx="1434.3" cy="1026.3" rx="0.7" ry="2.5"/>
<ellipse class="c" cx="1434.5" cy="1032.8" rx="0.7" ry="2.5"/>
<ellipse class="c" cx="1434.9" cy="1039.4" rx="0.7" ry="2.5"/>
<ellipse class="c" cx="1435.6" cy="1046.0" rx="0.7" ry="2.5"/>
<ellipse class="c" cx="1436.6" cy="1052.5" rx="0.7" ry="2.5"/>
<path class="k" d="M1439.9,1006.0 C1439.8,1007.0 1439.3,1010.2 1439.1,1012.3 C1438.9,1014.3 1438.7,1016.4 1438.6,1018.5 C1438.4,1020.6 1438.3,1022.7 1438.2,1024.8 C1438.2,1026.9 1438.1,1028.9 1438.1,1031.0 C1438.1,1033.1 1438.2,1035.2 1438.2,1037.3 C1438.3,1039.4 1438.4,1041.5 1438.6,1043.6 C1438.7,1045.6 1438.9,1047.7 1439.1,1049.8 C1439.3,1051.9 1439.8,1055.0 1439.9,1056.1" style="stroke-width:6.5"/>
<path class="w" d="M1439.9,1006.0 C1439.8,1007.0 1439.3,1010.2 1439.1,1012.3 C1438.9,1014.3 1438.7,1016.4 1438.6,1018.5 C1438.4,1020.6 1438.3,1022.7 1438.2,1024.8 C1438.2,1026.9 1438.1,1028.9 1438.1,1031.0 C1438.1,1033.1 1438.2,1035.2 1438.2,1037.3 C1438.3,1039.4 1438.4,1041.5 1438.6,1043.6 C1438.7,1045.6 1438.9,1047.7 1439.1,1049.8 C1439.3,1051.9 1439.8,1055.0 1439.9,1056.1" style="stroke-width:2.9"/>
<ellipse class="c" cx="1443.3" cy="1014.0" rx="0.5" ry="2.5"/>
<ellipse class="c" cx="1442.8" cy="1020.7" rx="0.5" ry="2.5"/>
<ellipse class="c" cx="1442.4" cy="1027.5" rx="0.5" ry="2.5"/>
<ellipse class="c" cx="1442.2" cy="1034.2" rx="0.5" ry="2.5"/>
<ellipse class="c" cx="1442.2" cy="1041.0" rx="0.5" ry="2.5"/>
<ellipse class="c" cx="1442.4" cy="1047.7" rx="0.5" ry="2.5"/>
<ellipse class="c" cx="1442.8" cy="1054.5" rx="0.5" ry="2.5"/>
<ellipse class="c" cx="1443.3" cy="1061.2" rx="0.5" ry="2.5"/>
<ellipse class="b" cx="1445.3" cy="1028.1" rx="1.2" ry="4.5"/>
<ellipse class="i" cx="1445.3" cy="1028.7" rx="0.5" ry="1.8"/>
<ellipse class="b" cx="1445.1" cy="1036.3" rx="1.2" ry="4.5"/>
<ellipse class="i" cx="1445.1" cy="1036.9" rx="0.5" ry="1.8"/>
<ellipse class="b" cx="1445.0" cy="1044.5" rx="1.2" ry="4.5"/>
<ellipse class="i" cx="1445.0" cy="1045.1" rx="0.5" ry="1.8"/>
<ellipse class="b" cx="1445.1" cy="1052.7" rx="1.2" ry="4.5"/>
<ellipse class="i" cx="1445.1" cy="1053.3" rx="0.5" ry="1.8"/>
<ellipse class="b" cx="1445.3" cy="1060.8" rx="1.2" ry="4.5"/>
<ellipse class="i" cx="1445.3" cy="1061.4" rx="0.5" ry="1.8"/>
<ellipse class="c" cx="1446.5" cy="1030.1" rx="0.5" ry="2.5"/>
<ellipse class="c" cx="1446.4" cy="1036.9" rx="0.5" ry="2.5"/>
<ellipse class="c" cx="1446.4" cy="1043.8" rx="0.5" ry="2.5"/>
<ellipse class="c" cx="1446.4" cy="1050.7" rx="0.5" ry="2.5"/>
<ellipse class="c" cx="1446.4" cy="1057.5" rx="0.5" ry="2.5"/>
<ellipse class="c" cx="1446.4" cy="1064.4" rx="0.5" ry="2.5"/>
<ellipse class="c" cx="1446.5" cy="1071.3" rx="0.5" ry="2.5"/>
<clipPath id="cb2"><path d="M1052.0,999.5 L1052.0,900 L1449.0,900 L1449.0,999.5 A198.5,106 0 0 1 1052.0,999.5 Z"/></clipPath><g clip-path="url(#cb2)">
<path class="k" d="M1055.0,1139.5 C1055.0,1141.2 1055.1,1146.1 1055.2,1149.5 C1055.2,1152.8 1055.3,1156.1 1055.3,1159.4 C1055.4,1162.7 1055.4,1166.1 1055.4,1169.4 C1055.4,1172.7 1055.4,1176.0 1055.4,1179.3 C1055.4,1182.7 1055.4,1186.0 1055.4,1189.3 C1055.4,1192.6 1055.4,1195.9 1055.3,1199.2 C1055.3,1202.6 1055.2,1205.9 1055.2,1209.2 C1055.1,1212.5 1055.0,1217.5 1055.0,1219.2" style="stroke-width:6.0"/>
<path class="w" d="M1055.0,1139.5 C1055.0,1141.2 1055.1,1146.1 1055.2,1149.5 C1055.2,1152.8 1055.3,1156.1 1055.3,1159.4 C1055.4,1162.7 1055.4,1166.1 1055.4,1169.4 C1055.4,1172.7 1055.4,1176.0 1055.4,1179.3 C1055.4,1182.7 1055.4,1186.0 1055.4,1189.3 C1055.4,1192.6 1055.4,1195.9 1055.3,1199.2 C1055.3,1202.6 1055.2,1205.9 1055.2,1209.2 C1055.1,1212.5 1055.0,1217.5 1055.0,1219.2" style="stroke-width:2.4"/>
<ellipse class="c" cx="1056.7" cy="1131.2" rx="0.5" ry="2.5"/>
<ellipse class="c" cx="1057.0" cy="1137.8" rx="0.5" ry="2.5"/>
<ellipse class="c" cx="1057.3" cy="1144.4" rx="0.5" ry="2.5"/>
<ellipse class="c" cx="1057.6" cy="1151.1" rx="0.5" ry="2.5"/>
<ellipse class="c" cx="1057.7" cy="1157.7" rx="0.5" ry="2.5"/>
<ellipse class="c" cx="1057.8" cy="1164.3" rx="0.5" ry="2.5"/>
<ellipse class="c" cx="1057.8" cy="1170.9" rx="0.5" ry="2.5"/>
<ellipse class="c" cx="1057.8" cy="1177.5" rx="0.5" ry="2.5"/>
<ellipse class="c" cx="1057.7" cy="1184.1" rx="0.5" ry="2.5"/>
<ellipse class="c" cx="1057.6" cy="1190.8" rx="0.5" ry="2.5"/>
<ellipse class="c" cx="1057.3" cy="1197.4" rx="0.5" ry="2.5"/>
<ellipse class="c" cx="1057.0" cy="1204.0" rx="0.5" ry="2.5"/>
<ellipse class="c" cx="1056.7" cy="1210.6" rx="0.5" ry="2.5"/>
<ellipse class="b" cx="1060.6" cy="1131.9" rx="1.2" ry="4.5"/>
<ellipse class="i" cx="1060.6" cy="1132.5" rx="0.5" ry="1.8"/>
<ellipse class="b" cx="1061.4" cy="1147.1" rx="1.2" ry="4.5"/>
<ellipse class="i" cx="1061.4" cy="1147.7" rx="0.5" ry="1.8"/>
<ellipse class="b" cx="1061.6" cy="1162.3" rx="1.2" ry="4.5"/>
<ellipse class="i" cx="1061.6" cy="1162.9" rx="0.5" ry="1.8"/>
<ellipse class="b" cx="1061.4" cy="1177.5" rx="1.2" ry="4.5"/>
<ellipse class="i" cx="1061.4" cy="1178.1" rx="0.5" ry="1.8"/>
<ellipse class="b" cx="1060.6" cy="1192.7" rx="1.2" ry="4.5"/>
<ellipse class="i" cx="1060.6" cy="1193.3" rx="0.5" ry="1.8"/>
<ellipse class="c" cx="1063.8" cy="1115.0" rx="0.7" ry="2.5"/>
<ellipse class="c" cx="1064.5" cy="1121.6" rx="0.7" ry="2.5"/>
<ellipse class="c" cx="1065.1" cy="1128.2" rx="0.7" ry="2.5"/>
<ellipse class="c" cx="1065.6" cy="1134.9" rx="0.7" ry="2.5"/>
<ellipse class="c" cx="1065.9" cy="1141.5" rx="0.7" ry="2.5"/>
<ellipse class="c" cx="1066.1" cy="1148.1" rx="0.7" ry="2.5"/>
<ellipse class="c" cx="1066.2" cy="1154.7" rx="0.7" ry="2.5"/>
<ellipse class="c" cx="1066.1" cy="1161.3" rx="0.7" ry="2.5"/>
<ellipse class="c" cx="1065.9" cy="1167.9" rx="0.7" ry="2.5"/>
<ellipse class="c" cx="1065.6" cy="1174.6" rx="0.7" ry="2.5"/>
<ellipse class="c" cx="1065.1" cy="1181.2" rx="0.7" ry="2.5"/>
<ellipse class="c" cx="1064.5" cy="1187.8" rx="0.7" ry="2.5"/>
<ellipse class="c" cx="1063.8" cy="1194.4" rx="0.7" ry="2.5"/>
<path class="k" d="M1067.8,1109.8 C1068.0,1111.5 1068.6,1116.3 1069.0,1119.6 C1069.3,1122.8 1069.6,1126.1 1069.8,1129.3 C1070.1,1132.6 1070.2,1135.8 1070.3,1139.0 C1070.5,1142.3 1070.5,1145.5 1070.5,1148.8 C1070.5,1152.0 1070.5,1155.3 1070.3,1158.5 C1070.2,1161.8 1070.1,1165.0 1069.8,1168.2 C1069.6,1171.5 1069.3,1174.7 1069.0,1178.0 C1068.6,1181.2 1068.0,1186.1 1067.8,1187.7" style="stroke-width:7.7"/>
<path class="w" d="M1067.8,1109.8 C1068.0,1111.5 1068.6,1116.3 1069.0,1119.6 C1069.3,1122.8 1069.6,1126.1 1069.8,1129.3 C1070.1,1132.6 1070.2,1135.8 1070.3,1139.0 C1070.5,1142.3 1070.5,1145.5 1070.5,1148.8 C1070.5,1152.0 1070.5,1155.3 1070.3,1158.5 C1070.2,1161.8 1070.1,1165.0 1069.8,1168.2 C1069.6,1171.5 1069.3,1174.7 1069.0,1178.0 C1068.6,1181.2 1068.0,1186.1 1067.8,1187.7" style="stroke-width:4.1"/>
<ellipse class="c" cx="1073.9" cy="1101.3" rx="1.1" ry="2.5"/>
<ellipse class="c" cx="1075.0" cy="1107.9" rx="1.1" ry="2.5"/>
<ellipse class="c" cx="1075.9" cy="1114.5" rx="1.1" ry="2.5"/>
<ellipse class="c" cx="1076.5" cy="1121.1" rx="1.1" ry="2.5"/>
<ellipse class="c" cx="1077.0" cy="1127.7" rx="1.1" ry="2.5"/>
<ellipse class="c" cx="1077.3" cy="1134.4" rx="1.1" ry="2.5"/>
<ellipse class="c" cx="1077.4" cy="1141.0" rx="1.1" ry="2.5"/>
<ellipse class="c" cx="1077.3" cy="1147.6" rx="1.1" ry="2.5"/>
<ellipse class="c" cx="1077.0" cy="1154.2" rx="1.1" ry="2.5"/>
<ellipse class="c" cx="1076.5" cy="1160.8" rx="1.1" ry="2.5"/>
<ellipse class="c" cx="1075.9" cy="1167.4" rx="1.1" ry="2.5"/>
<ellipse class="c" cx="1075.0" cy="1174.1" rx="1.1" ry="2.5"/>
<ellipse class="c" cx="1073.9" cy="1180.7" rx="1.1" ry="2.5"/>
<ellipse class="b" cx="1083.4" cy="1102.8" rx="2.7" ry="4.5"/>
<ellipse class="i" cx="1083.4" cy="1103.4" rx="1.0" ry="1.8"/>
<ellipse class="b" cx="1085.2" cy="1118.0" rx="2.7" ry="4.5"/>
<ellipse class="i" cx="1085.2" cy="1118.6" rx="1.0" ry="1.8"/>
<ellipse class="b" cx="1085.8" cy="1133.2" rx="2.7" ry="4.5"/>
<ellipse class="i" cx="1085.8" cy="1133.8" rx="1.0" ry="1.8"/>
<ellipse class="b" cx="1085.2" cy="1148.4" rx="2.7" ry="4.5"/>
<ellipse class="i" cx="1085.2" cy="1149.0" rx="1.0" ry="1.8"/>
<ellipse class="b" cx="1083.4" cy="1163.6" rx="2.7" ry="4.5"/>
<ellipse class="i" cx="1083.4" cy="1164.2" rx="1.0" ry="1.8"/>
<ellipse class="c" cx="1089.6" cy="1086.9" rx="1.4" ry="2.5"/>
<ellipse class="c" cx="1091.0" cy="1093.5" rx="1.4" ry="2.5"/>
<ellipse class="c" cx="1092.2" cy="1100.1" rx="1.4" ry="2.5"/>
<ellipse class="c" cx="1093.0" cy="1106.7" rx="1.4" ry="2.5"/>
<ellipse class="c" cx="1093.7" cy="1113.3" rx="1.4" ry="2.5"/>
<ellipse class="c" cx="1094.1" cy="1119.9" rx="1.4" ry="2.5"/>
<ellipse class="c" cx="1094.2" cy="1126.6" rx="1.4" ry="2.5"/>
<ellipse class="c" cx="1094.1" cy="1133.2" rx="1.4" ry="2.5"/>
<ellipse class="c" cx="1093.7" cy="1139.8" rx="1.4" ry="2.5"/>
<ellipse class="c" cx="1093.0" cy="1146.4" rx="1.4" ry="2.5"/>
<ellipse class="c" cx="1092.2" cy="1153.0" rx="1.4" ry="2.5"/>
<ellipse class="c" cx="1091.0" cy="1159.6" rx="1.4" ry="2.5"/>
<ellipse class="c" cx="1089.6" cy="1166.3" rx="1.4" ry="2.5"/>
<path class="k" d="M1097.1,1084.1 C1097.5,1085.7 1098.5,1090.3 1099.1,1093.4 C1099.6,1096.6 1100.1,1099.7 1100.5,1102.8 C1100.8,1105.9 1101.1,1109.0 1101.3,1112.1 C1101.5,1115.3 1101.6,1118.4 1101.6,1121.5 C1101.6,1124.6 1101.5,1127.7 1101.3,1130.8 C1101.1,1134.0 1100.8,1137.1 1100.5,1140.2 C1100.1,1143.3 1099.6,1146.4 1099.1,1149.5 C1098.5,1152.7 1097.5,1157.3 1097.1,1158.9" style="stroke-width:10.8"/>
<path class="w" d="M1097.1,1084.1 C1097.5,1085.7 1098.5,1090.3 1099.1,1093.4 C1099.6,1096.6 1100.1,1099.7 1100.5,1102.8 C1100.8,1105.9 1101.1,1109.0 1101.3,1112.1 C1101.5,1115.3 1101.6,1118.4 1101.6,1121.5 C1101.6,1124.6 1101.5,1127.7 1101.3,1130.8 C1101.1,1134.0 1100.8,1137.1 1100.5,1140.2 C1100.1,1143.3 1099.6,1146.4 1099.1,1149.5 C1098.5,1152.7 1097.5,1157.3 1097.1,1158.9" style="stroke-width:7.2"/>
<path class="k" d="M1097.1,1084.1 C1097.5,1085.7 1098.5,1090.3 1099.1,1093.4 C1099.6,1096.6 1100.1,1099.7 1100.5,1102.8 C1100.8,1105.9 1101.1,1109.0 1101.3,1112.1 C1101.5,1115.3 1101.6,1118.4 1101.6,1121.5 C1101.6,1124.6 1101.5,1127.7 1101.3,1130.8 C1101.1,1134.0 1100.8,1137.1 1100.5,1140.2 C1100.1,1143.3 1099.6,1146.4 1099.1,1149.5 C1098.5,1152.7 1097.5,1157.3 1097.1,1158.9" style="stroke-width:5.0"/>
<path class="w" d="M1097.1,1084.1 C1097.5,1085.7 1098.5,1090.3 1099.1,1093.4 C1099.6,1096.6 1100.1,1099.7 1100.5,1102.8 C1100.8,1105.9 1101.1,1109.0 1101.3,1112.1 C1101.5,1115.3 1101.6,1118.4 1101.6,1121.5 C1101.6,1124.6 1101.5,1127.7 1101.3,1130.8 C1101.1,1134.0 1100.8,1137.1 1100.5,1140.2 C1100.1,1143.3 1099.6,1146.4 1099.1,1149.5 C1098.5,1152.7 1097.5,1157.3 1097.1,1158.9" style="stroke-width:3.8"/>
<ellipse class="c" cx="1106.9" cy="1075.3" rx="1.7" ry="2.5"/>
<ellipse class="c" cx="1108.6" cy="1081.9" rx="1.7" ry="2.5"/>
<ellipse class="c" cx="1109.9" cy="1088.5" rx="1.7" ry="2.5"/>
<ellipse class="c" cx="1111.0" cy="1095.2" rx="1.7" ry="2.5"/>
<ellipse class="c" cx="1111.8" cy="1101.8" rx="1.7" ry="2.5"/>
<ellipse class="c" cx="1112.2" cy="1108.4" rx="1.7" ry="2.5"/>
<ellipse class="c" cx="1112.4" cy="1115.0" rx="1.7" ry="2.5"/>
<ellipse class="c" cx="1112.2" cy="1121.6" rx="1.7" ry="2.5"/>
<ellipse class="c" cx="1111.8" cy="1128.2" rx="1.7" ry="2.5"/>
<ellipse class="c" cx="1111.0" cy="1134.9" rx="1.7" ry="2.5"/>
<ellipse class="c" cx="1109.9" cy="1141.5" rx="1.7" ry="2.5"/>
<ellipse class="c" cx="1108.6" cy="1148.1" rx="1.7" ry="2.5"/>
<ellipse class="c" cx="1106.9" cy="1154.7" rx="1.7" ry="2.5"/>
<ellipse class="b" cx="1121.0" cy="1078.4" rx="3.9" ry="4.5"/>
<ellipse class="i" cx="1121.0" cy="1079.0" rx="1.5" ry="1.8"/>
<ellipse class="b" cx="1123.6" cy="1093.6" rx="3.9" ry="4.5"/>
<ellipse class="i" cx="1123.6" cy="1094.2" rx="1.5" ry="1.8"/>
<ellipse class="b" cx="1124.5" cy="1108.8" rx="3.9" ry="4.5"/>
<ellipse class="i" cx="1124.5" cy="1109.4" rx="1.5" ry="1.8"/>
<ellipse class="b" cx="1123.6" cy="1124.0" rx="3.9" ry="4.5"/>
<ellipse class="i" cx="1123.6" cy="1124.6" rx="1.5" ry="1.8"/>
<ellipse class="b" cx="1121.0" cy="1139.2" rx="3.9" ry="4.5"/>
<ellipse class="i" cx="1121.0" cy="1139.8" rx="1.5" ry="1.8"/>
<ellipse class="c" cx="1129.8" cy="1064.0" rx="1.9" ry="2.5"/>
<ellipse class="c" cx="1131.7" cy="1070.6" rx="1.9" ry="2.5"/>
<ellipse class="c" cx="1133.3" cy="1077.2" rx="1.9" ry="2.5"/>
<ellipse class="c" cx="1134.5" cy="1083.8" rx="1.9" ry="2.5"/>
<ellipse class="c" cx="1135.4" cy="1090.4" rx="1.9" ry="2.5"/>
<ellipse class="c" cx="1135.9" cy="1097.0" rx="1.9" ry="2.5"/>
<ellipse class="c" cx="1136.1" cy="1103.7" rx="1.9" ry="2.5"/>
<ellipse class="c" cx="1135.9" cy="1110.3" rx="1.9" ry="2.5"/>
<ellipse class="c" cx="1135.4" cy="1116.9" rx="1.9" ry="2.5"/>
<ellipse class="c" cx="1134.5" cy="1123.5" rx="1.9" ry="2.5"/>
<ellipse class="c" cx="1133.3" cy="1130.1" rx="1.9" ry="2.5"/>
<ellipse class="c" cx="1131.7" cy="1136.7" rx="1.9" ry="2.5"/>
<ellipse class="c" cx="1129.8" cy="1143.4" rx="1.9" ry="2.5"/>
<path class="k" d="M1140.3,1063.7 C1140.7,1065.2 1142.1,1069.7 1142.7,1072.8 C1143.4,1075.8 1144.0,1078.8 1144.5,1081.8 C1144.9,1084.8 1145.3,1087.8 1145.5,1090.9 C1145.7,1093.9 1145.9,1096.9 1145.9,1099.9 C1145.9,1102.9 1145.7,1105.9 1145.5,1108.9 C1145.3,1112.0 1144.9,1115.0 1144.5,1118.0 C1144.0,1121.0 1143.4,1124.0 1142.7,1127.0 C1142.1,1130.1 1140.7,1134.6 1140.3,1136.1" style="stroke-width:13.2"/>
<path class="w" d="M1140.3,1063.7 C1140.7,1065.2 1142.1,1069.7 1142.7,1072.8 C1143.4,1075.8 1144.0,1078.8 1144.5,1081.8 C1144.9,1084.8 1145.3,1087.8 1145.5,1090.9 C1145.7,1093.9 1145.9,1096.9 1145.9,1099.9 C1145.9,1102.9 1145.7,1105.9 1145.5,1108.9 C1145.3,1112.0 1144.9,1115.0 1144.5,1118.0 C1144.0,1121.0 1143.4,1124.0 1142.7,1127.0 C1142.1,1130.1 1140.7,1134.6 1140.3,1136.1" style="stroke-width:9.6"/>
<path class="k" d="M1140.3,1063.7 C1140.7,1065.2 1142.1,1069.7 1142.7,1072.8 C1143.4,1075.8 1144.0,1078.8 1144.5,1081.8 C1144.9,1084.8 1145.3,1087.8 1145.5,1090.9 C1145.7,1093.9 1145.9,1096.9 1145.9,1099.9 C1145.9,1102.9 1145.7,1105.9 1145.5,1108.9 C1145.3,1112.0 1144.9,1115.0 1144.5,1118.0 C1144.0,1121.0 1143.4,1124.0 1142.7,1127.0 C1142.1,1130.1 1140.7,1134.6 1140.3,1136.1" style="stroke-width:7.4"/>
<path class="w" d="M1140.3,1063.7 C1140.7,1065.2 1142.1,1069.7 1142.7,1072.8 C1143.4,1075.8 1144.0,1078.8 1144.5,1081.8 C1144.9,1084.8 1145.3,1087.8 1145.5,1090.9 C1145.7,1093.9 1145.9,1096.9 1145.9,1099.9 C1145.9,1102.9 1145.7,1105.9 1145.5,1108.9 C1145.3,1112.0 1144.9,1115.0 1144.5,1118.0 C1144.0,1121.0 1143.4,1124.0 1142.7,1127.0 C1142.1,1130.1 1140.7,1134.6 1140.3,1136.1" style="stroke-width:6.2"/>
<ellipse class="c" cx="1152.6" cy="1055.6" rx="2.1" ry="2.5"/>
<ellipse class="c" cx="1154.7" cy="1062.2" rx="2.1" ry="2.5"/>
<ellipse class="c" cx="1156.5" cy="1068.9" rx="2.1" ry="2.5"/>
<ellipse class="c" cx="1157.8" cy="1075.5" rx="2.1" ry="2.5"/>
<ellipse class="c" cx="1158.8" cy="1082.1" rx="2.1" ry="2.5"/>
<ellipse class="c" cx="1159.4" cy="1088.7" rx="2.1" ry="2.5"/>
<ellipse class="c" cx="1159.6" cy="1095.3" rx="2.1" ry="2.5"/>
<ellipse class="c" cx="1159.4" cy="1101.9" rx="2.1" ry="2.5"/>
<ellipse class="c" cx="1158.8" cy="1108.5" rx="2.1" ry="2.5"/>
<ellipse class="c" cx="1157.8" cy="1115.2" rx="2.1" ry="2.5"/>
<ellipse class="c" cx="1156.5" cy="1121.8" rx="2.1" ry="2.5"/>
<ellipse class="c" cx="1154.7" cy="1128.4" rx="2.1" ry="2.5"/>
<ellipse class="c" cx="1152.6" cy="1135.0" rx="2.1" ry="2.5"/>
<ellipse class="b" cx="1170.2" cy="1060.8" rx="4.8" ry="4.5"/>
<ellipse class="i" cx="1170.2" cy="1061.4" rx="1.9" ry="1.8"/>
<ellipse class="b" cx="1173.4" cy="1076.0" rx="4.8" ry="4.5"/>
<ellipse class="i" cx="1173.4" cy="1076.6" rx="1.9" ry="1.8"/>
<ellipse class="b" cx="1174.5" cy="1091.2" rx="4.8" ry="4.5"/>
<ellipse class="i" cx="1174.5" cy="1091.8" rx="1.9" ry="1.8"/>
<ellipse class="b" cx="1173.4" cy="1106.4" rx="4.8" ry="4.5"/>
<ellipse class="i" cx="1173.4" cy="1107.0" rx="1.9" ry="1.8"/>
<ellipse class="b" cx="1170.2" cy="1121.6" rx="4.8" ry="4.5"/>
<ellipse class="i" cx="1170.2" cy="1122.2" rx="1.9" ry="1.8"/>
<ellipse class="c" cx="1180.6" cy="1048.4" rx="2.3" ry="2.5"/>
<ellipse class="c" cx="1182.9" cy="1055.0" rx="2.3" ry="2.5"/>
<ellipse class="c" cx="1184.8" cy="1061.6" rx="2.3" ry="2.5"/>
<ellipse class="c" cx="1186.3" cy="1068.2" rx="2.3" ry="2.5"/>
<ellipse class="c" cx="1187.4" cy="1074.8" rx="2.3" ry="2.5"/>
<ellipse class="c" cx="1188.0" cy="1081.4" rx="2.3" ry="2.5"/>
<ellipse class="c" cx="1188.2" cy="1088.0" rx="2.3" ry="2.5"/>
<ellipse class="c" cx="1188.0" cy="1094.7" rx="2.3" ry="2.5"/>
<ellipse class="c" cx="1187.4" cy="1101.3" rx="2.3" ry="2.5"/>
<ellipse class="c" cx="1186.3" cy="1107.9" rx="2.3" ry="2.5"/>
<ellipse class="c" cx="1184.8" cy="1114.5" rx="2.3" ry="2.5"/>
<ellipse class="c" cx="1182.9" cy="1121.1" rx="2.3" ry="2.5"/>
<ellipse class="c" cx="1180.6" cy="1127.7" rx="2.3" ry="2.5"/>
<path class="k" d="M1193.3,1050.5 C1193.7,1052.0 1195.2,1056.4 1196.0,1059.4 C1196.8,1062.3 1197.4,1065.3 1197.9,1068.2 C1198.4,1071.2 1198.8,1074.1 1199.1,1077.1 C1199.3,1080.0 1199.4,1083.0 1199.4,1085.9 C1199.4,1088.9 1199.3,1091.8 1199.1,1094.8 C1198.8,1097.7 1198.4,1100.7 1197.9,1103.6 C1197.4,1106.6 1196.8,1109.5 1196.0,1112.5 C1195.2,1115.4 1193.7,1119.9 1193.3,1121.3" style="stroke-width:14.8"/>
<path class="w" d="M1193.3,1050.5 C1193.7,1052.0 1195.2,1056.4 1196.0,1059.4 C1196.8,1062.3 1197.4,1065.3 1197.9,1068.2 C1198.4,1071.2 1198.8,1074.1 1199.1,1077.1 C1199.3,1080.0 1199.4,1083.0 1199.4,1085.9 C1199.4,1088.9 1199.3,1091.8 1199.1,1094.8 C1198.8,1097.7 1198.4,1100.7 1197.9,1103.6 C1197.4,1106.6 1196.8,1109.5 1196.0,1112.5 C1195.2,1115.4 1193.7,1119.9 1193.3,1121.3" style="stroke-width:11.2"/>
<path class="k" d="M1193.3,1050.5 C1193.7,1052.0 1195.2,1056.4 1196.0,1059.4 C1196.8,1062.3 1197.4,1065.3 1197.9,1068.2 C1198.4,1071.2 1198.8,1074.1 1199.1,1077.1 C1199.3,1080.0 1199.4,1083.0 1199.4,1085.9 C1199.4,1088.9 1199.3,1091.8 1199.1,1094.8 C1198.8,1097.7 1198.4,1100.7 1197.9,1103.6 C1197.4,1106.6 1196.8,1109.5 1196.0,1112.5 C1195.2,1115.4 1193.7,1119.9 1193.3,1121.3" style="stroke-width:9.0"/>
<path class="w" d="M1193.3,1050.5 C1193.7,1052.0 1195.2,1056.4 1196.0,1059.4 C1196.8,1062.3 1197.4,1065.3 1197.9,1068.2 C1198.4,1071.2 1198.8,1074.1 1199.1,1077.1 C1199.3,1080.0 1199.4,1083.0 1199.4,1085.9 C1199.4,1088.9 1199.3,1091.8 1199.1,1094.8 C1198.8,1097.7 1198.4,1100.7 1197.9,1103.6 C1197.4,1106.6 1196.8,1109.5 1196.0,1112.5 C1195.2,1115.4 1193.7,1119.9 1193.3,1121.3" style="stroke-width:7.8"/>
<ellipse class="c" cx="1207.0" cy="1043.9" rx="2.4" ry="2.5"/>
<ellipse class="c" cx="1209.4" cy="1050.6" rx="2.4" ry="2.5"/>
<ellipse class="c" cx="1211.4" cy="1057.2" rx="2.4" ry="2.5"/>
<ellipse class="c" cx="1212.9" cy="1063.8" rx="2.4" ry="2.5"/>
<ellipse class="c" cx="1214.0" cy="1070.4" rx="2.4" ry="2.5"/>
<ellipse class="c" cx="1214.7" cy="1077.0" rx="2.4" ry="2.5"/>
<ellipse class="c" cx="1214.9" cy="1083.6" rx="2.4" ry="2.5"/>
<ellipse class="c" cx="1214.7" cy="1090.3" rx="2.4" ry="2.5"/>
<ellipse class="c" cx="1214.0" cy="1096.9" rx="2.4" ry="2.5"/>
<ellipse class="c" cx="1212.9" cy="1103.5" rx="2.4" ry="2.5"/>
<ellipse class="c" cx="1211.4" cy="1110.1" rx="2.4" ry="2.5"/>
<ellipse class="c" cx="1209.4" cy="1116.7" rx="2.4" ry="2.5"/>
<ellipse class="c" cx="1207.0" cy="1123.3" rx="2.4" ry="2.5"/>
<ellipse class="b" cx="1226.5" cy="1051.6" rx="5.3" ry="4.5"/>
<ellipse class="i" cx="1226.5" cy="1052.2" rx="2.1" ry="1.8"/>
<ellipse class="b" cx="1230.0" cy="1066.8" rx="5.3" ry="4.5"/>
<ellipse class="i" cx="1230.0" cy="1067.4" rx="2.1" ry="1.8"/>
<ellipse class="b" cx="1231.2" cy="1082.0" rx="5.3" ry="4.5"/>
<ellipse class="i" cx="1231.2" cy="1082.6" rx="2.1" ry="1.8"/>
<ellipse class="b" cx="1230.0" cy="1097.2" rx="5.3" ry="4.5"/>
<ellipse class="i" cx="1230.0" cy="1097.8" rx="2.1" ry="1.8"/>
<ellipse class="b" cx="1226.5" cy="1112.4" rx="5.3" ry="4.5"/>
<ellipse class="i" cx="1226.5" cy="1113.0" rx="2.1" ry="1.8"/>
<ellipse class="c" cx="1237.7" cy="1041.4" rx="2.5" ry="2.5"/>
<ellipse class="c" cx="1240.2" cy="1048.0" rx="2.5" ry="2.5"/>
<ellipse class="c" cx="1242.2" cy="1054.6" rx="2.5" ry="2.5"/>
<ellipse class="c" cx="1243.8" cy="1061.2" rx="2.5" ry="2.5"/>
<ellipse class="c" cx="1244.9" cy="1067.9" rx="2.5" ry="2.5"/>
<ellipse class="c" cx="1245.6" cy="1074.5" rx="2.5" ry="2.5"/>
<ellipse class="c" cx="1245.8" cy="1081.1" rx="2.5" ry="2.5"/>
<ellipse class="c" cx="1245.6" cy="1087.7" rx="2.5" ry="2.5"/>
<ellipse class="c" cx="1244.9" cy="1094.3" rx="2.5" ry="2.5"/>
<ellipse class="c" cx="1243.8" cy="1100.9" rx="2.5" ry="2.5"/>
<ellipse class="c" cx="1242.2" cy="1107.6" rx="2.5" ry="2.5"/>
<ellipse class="c" cx="1240.2" cy="1114.2" rx="2.5" ry="2.5"/>
<ellipse class="c" cx="1237.7" cy="1120.8" rx="2.5" ry="2.5"/>
<path class="k" d="M1251.2,1045.7 C1251.7,1047.2 1253.2,1051.6 1254.0,1054.5 C1254.8,1057.4 1255.4,1060.3 1256.0,1063.3 C1256.5,1066.2 1256.9,1069.1 1257.2,1072.0 C1257.4,1075.0 1257.6,1077.9 1257.6,1080.8 C1257.6,1083.7 1257.4,1086.7 1257.2,1089.6 C1256.9,1092.5 1256.5,1095.4 1256.0,1098.4 C1255.4,1101.3 1254.8,1104.2 1254.0,1107.1 C1253.2,1110.1 1251.7,1114.5 1251.2,1115.9" style="stroke-width:15.4"/>
<path class="w" d="M1251.2,1045.7 C1251.7,1047.2 1253.2,1051.6 1254.0,1054.5 C1254.8,1057.4 1255.4,1060.3 1256.0,1063.3 C1256.5,1066.2 1256.9,1069.1 1257.2,1072.0 C1257.4,1075.0 1257.6,1077.9 1257.6,1080.8 C1257.6,1083.7 1257.4,1086.7 1257.2,1089.6 C1256.9,1092.5 1256.5,1095.4 1256.0,1098.4 C1255.4,1101.3 1254.8,1104.2 1254.0,1107.1 C1253.2,1110.1 1251.7,1114.5 1251.2,1115.9" style="stroke-width:11.8"/>
<path class="k" d="M1251.2,1045.7 C1251.7,1047.2 1253.2,1051.6 1254.0,1054.5 C1254.8,1057.4 1255.4,1060.3 1256.0,1063.3 C1256.5,1066.2 1256.9,1069.1 1257.2,1072.0 C1257.4,1075.0 1257.6,1077.9 1257.6,1080.8 C1257.6,1083.7 1257.4,1086.7 1257.2,1089.6 C1256.9,1092.5 1256.5,1095.4 1256.0,1098.4 C1255.4,1101.3 1254.8,1104.2 1254.0,1107.1 C1253.2,1110.1 1251.7,1114.5 1251.2,1115.9" style="stroke-width:9.6"/>
<path class="w" d="M1251.2,1045.7 C1251.7,1047.2 1253.2,1051.6 1254.0,1054.5 C1254.8,1057.4 1255.4,1060.3 1256.0,1063.3 C1256.5,1066.2 1256.9,1069.1 1257.2,1072.0 C1257.4,1075.0 1257.6,1077.9 1257.6,1080.8 C1257.6,1083.7 1257.4,1086.7 1257.2,1089.6 C1256.9,1092.5 1256.5,1095.4 1256.0,1098.4 C1255.4,1101.3 1254.8,1104.2 1254.0,1107.1 C1253.2,1110.1 1251.7,1114.5 1251.2,1115.9" style="stroke-width:8.4"/>
<ellipse class="c" cx="1265.3" cy="1041.3" rx="2.5" ry="2.5"/>
<ellipse class="c" cx="1267.7" cy="1048.0" rx="2.5" ry="2.5"/>
<ellipse class="c" cx="1269.8" cy="1054.6" rx="2.5" ry="2.5"/>
<ellipse class="c" cx="1271.3" cy="1061.2" rx="2.5" ry="2.5"/>
<ellipse class="c" cx="1272.5" cy="1067.8" rx="2.5" ry="2.5"/>
<ellipse class="c" cx="1273.1" cy="1074.4" rx="2.5" ry="2.5"/>
<ellipse class="c" cx="1273.4" cy="1081.0" rx="2.5" ry="2.5"/>
<ellipse class="c" cx="1273.1" cy="1087.6" rx="2.5" ry="2.5"/>
<ellipse class="c" cx="1272.5" cy="1094.3" rx="2.5" ry="2.5"/>
<ellipse class="c" cx="1271.3" cy="1100.9" rx="2.5" ry="2.5"/>
<ellipse class="c" cx="1269.8" cy="1107.5" rx="2.5" ry="2.5"/>
<ellipse class="c" cx="1267.7" cy="1114.1" rx="2.5" ry="2.5"/>
<ellipse class="c" cx="1265.3" cy="1120.7" rx="2.5" ry="2.5"/>
<ellipse class="b" cx="1284.9" cy="1051.6" rx="5.3" ry="4.5"/>
<ellipse class="i" cx="1284.9" cy="1052.2" rx="2.1" ry="1.8"/>
<ellipse class="b" cx="1288.4" cy="1066.8" rx="5.3" ry="4.5"/>
<ellipse class="i" cx="1288.4" cy="1067.4" rx="2.1" ry="1.8"/>
<ellipse class="b" cx="1289.6" cy="1082.0" rx="5.3" ry="4.5"/>
<ellipse class="i" cx="1289.6" cy="1082.6" rx="2.1" ry="1.8"/>
<ellipse class="b" cx="1288.4" cy="1097.2" rx="5.3" ry="4.5"/>
<ellipse class="i" cx="1288.4" cy="1097.8" rx="2.1" ry="1.8"/>
<ellipse class="b" cx="1284.9" cy="1112.4" rx="5.3" ry="4.5"/>
<ellipse class="i" cx="1284.9" cy="1113.0" rx="2.1" ry="1.8"/>
<ellipse class="c" cx="1295.9" cy="1043.7" rx="2.4" ry="2.5"/>
<ellipse class="c" cx="1298.4" cy="1050.4" rx="2.4" ry="2.5"/>
<ellipse class="c" cx="1300.3" cy="1057.0" rx="2.4" ry="2.5"/>
<ellipse class="c" cx="1301.9" cy="1063.6" rx="2.4" ry="2.5"/>
<ellipse class="c" cx="1303.0" cy="1070.2" rx="2.4" ry="2.5"/>
<ellipse class="c" cx="1303.6" cy="1076.8" rx="2.4" ry="2.5"/>
<ellipse class="c" cx="1303.9" cy="1083.4" rx="2.4" ry="2.5"/>
<ellipse class="c" cx="1303.6" cy="1090.0" rx="2.4" ry="2.5"/>
<ellipse class="c" cx="1303.0" cy="1096.7" rx="2.4" ry="2.5"/>
<ellipse class="c" cx="1301.9" cy="1103.3" rx="2.4" ry="2.5"/>
<ellipse class="c" cx="1300.3" cy="1109.9" rx="2.4" ry="2.5"/>
<ellipse class="c" cx="1298.4" cy="1116.5" rx="2.4" ry="2.5"/>
<ellipse class="c" cx="1295.9" cy="1123.1" rx="2.4" ry="2.5"/>
<path class="k" d="M1308.9,1049.7 C1309.3,1051.1 1310.8,1055.5 1311.6,1058.5 C1312.4,1061.4 1313.0,1064.4 1313.5,1067.3 C1314.0,1070.3 1314.4,1073.2 1314.7,1076.2 C1314.9,1079.1 1315.1,1082.1 1315.1,1085.0 C1315.1,1088.0 1314.9,1090.9 1314.7,1093.8 C1314.4,1096.8 1314.0,1099.7 1313.5,1102.7 C1313.0,1105.6 1312.4,1108.6 1311.6,1111.5 C1310.8,1114.5 1309.3,1118.9 1308.9,1120.4" style="stroke-width:14.9"/>
<path class="w" d="M1308.9,1049.7 C1309.3,1051.1 1310.8,1055.5 1311.6,1058.5 C1312.4,1061.4 1313.0,1064.4 1313.5,1067.3 C1314.0,1070.3 1314.4,1073.2 1314.7,1076.2 C1314.9,1079.1 1315.1,1082.1 1315.1,1085.0 C1315.1,1088.0 1314.9,1090.9 1314.7,1093.8 C1314.4,1096.8 1314.0,1099.7 1313.5,1102.7 C1313.0,1105.6 1312.4,1108.6 1311.6,1111.5 C1310.8,1114.5 1309.3,1118.9 1308.9,1120.4" style="stroke-width:11.3"/>
<path class="k" d="M1308.9,1049.7 C1309.3,1051.1 1310.8,1055.5 1311.6,1058.5 C1312.4,1061.4 1313.0,1064.4 1313.5,1067.3 C1314.0,1070.3 1314.4,1073.2 1314.7,1076.2 C1314.9,1079.1 1315.1,1082.1 1315.1,1085.0 C1315.1,1088.0 1314.9,1090.9 1314.7,1093.8 C1314.4,1096.8 1314.0,1099.7 1313.5,1102.7 C1313.0,1105.6 1312.4,1108.6 1311.6,1111.5 C1310.8,1114.5 1309.3,1118.9 1308.9,1120.4" style="stroke-width:9.1"/>
<path class="w" d="M1308.9,1049.7 C1309.3,1051.1 1310.8,1055.5 1311.6,1058.5 C1312.4,1061.4 1313.0,1064.4 1313.5,1067.3 C1314.0,1070.3 1314.4,1073.2 1314.7,1076.2 C1314.9,1079.1 1315.1,1082.1 1315.1,1085.0 C1315.1,1088.0 1314.9,1090.9 1314.7,1093.8 C1314.4,1096.8 1314.0,1099.7 1313.5,1102.7 C1313.0,1105.6 1312.4,1108.6 1311.6,1111.5 C1310.8,1114.5 1309.3,1118.9 1308.9,1120.4" style="stroke-width:7.9"/>
<ellipse class="c" cx="1322.2" cy="1048.0" rx="2.3" ry="2.5"/>
<ellipse class="c" cx="1324.5" cy="1054.6" rx="2.3" ry="2.5"/>
<ellipse class="c" cx="1326.4" cy="1061.2" rx="2.3" ry="2.5"/>
<ellipse class="c" cx="1327.9" cy="1067.9" rx="2.3" ry="2.5"/>
<ellipse class="c" cx="1329.0" cy="1074.5" rx="2.3" ry="2.5"/>
<ellipse class="c" cx="1329.6" cy="1081.1" rx="2.3" ry="2.5"/>
<ellipse class="c" cx="1329.8" cy="1087.7" rx="2.3" ry="2.5"/>
<ellipse class="c" cx="1329.6" cy="1094.3" rx="2.3" ry="2.5"/>
<ellipse class="c" cx="1329.0" cy="1100.9" rx="2.3" ry="2.5"/>
<ellipse class="c" cx="1327.9" cy="1107.6" rx="2.3" ry="2.5"/>
<ellipse class="c" cx="1326.4" cy="1114.2" rx="2.3" ry="2.5"/>
<ellipse class="c" cx="1324.5" cy="1120.8" rx="2.3" ry="2.5"/>
<ellipse class="c" cx="1322.2" cy="1127.4" rx="2.3" ry="2.5"/>
<ellipse class="b" cx="1340.3" cy="1060.8" rx="4.8" ry="4.5"/>
<ellipse class="i" cx="1340.3" cy="1061.4" rx="1.9" ry="1.8"/>
<ellipse class="b" cx="1343.5" cy="1076.0" rx="4.8" ry="4.5"/>
<ellipse class="i" cx="1343.5" cy="1076.6" rx="1.9" ry="1.8"/>
<ellipse class="b" cx="1344.6" cy="1091.2" rx="4.8" ry="4.5"/>
<ellipse class="i" cx="1344.6" cy="1091.8" rx="1.9" ry="1.8"/>
<ellipse class="b" cx="1343.5" cy="1106.4" rx="4.8" ry="4.5"/>
<ellipse class="i" cx="1343.5" cy="1107.0" rx="1.9" ry="1.8"/>
<ellipse class="b" cx="1340.3" cy="1121.6" rx="4.8" ry="4.5"/>
<ellipse class="i" cx="1340.3" cy="1122.2" rx="1.9" ry="1.8"/>
<ellipse class="c" cx="1350.1" cy="1055.1" rx="2.1" ry="2.5"/>
<ellipse class="c" cx="1352.3" cy="1061.8" rx="2.1" ry="2.5"/>
<ellipse class="c" cx="1354.0" cy="1068.4" rx="2.1" ry="2.5"/>
<ellipse class="c" cx="1355.4" cy="1075.0" rx="2.1" ry="2.5"/>
<ellipse class="c" cx="1356.4" cy="1081.6" rx="2.1" ry="2.5"/>
<ellipse class="c" cx="1357.0" cy="1088.2" rx="2.1" ry="2.5"/>
<ellipse class="c" cx="1357.2" cy="1094.8" rx="2.1" ry="2.5"/>
<ellipse class="c" cx="1357.0" cy="1101.5" rx="2.1" ry="2.5"/>
<ellipse class="c" cx="1356.4" cy="1108.1" rx="2.1" ry="2.5"/>
<ellipse class="c" cx="1355.4" cy="1114.7" rx="2.1" ry="2.5"/>
<ellipse class="c" cx="1354.0" cy="1121.3" rx="2.1" ry="2.5"/>
<ellipse class="c" cx="1352.3" cy="1127.9" rx="2.1" ry="2.5"/>
<ellipse class="c" cx="1350.1" cy="1134.5" rx="2.1" ry="2.5"/>
<path class="k" d="M1361.2,1062.1 C1361.6,1063.6 1363.0,1068.1 1363.7,1071.1 C1364.4,1074.1 1365.0,1077.1 1365.4,1080.1 C1365.9,1083.1 1366.2,1086.1 1366.5,1089.1 C1366.7,1092.1 1366.8,1095.1 1366.8,1098.1 C1366.8,1101.1 1366.7,1104.2 1366.5,1107.2 C1366.2,1110.2 1365.9,1113.2 1365.4,1116.2 C1365.0,1119.2 1364.4,1122.2 1363.7,1125.2 C1363.0,1128.2 1361.6,1132.7 1361.2,1134.2" style="stroke-width:13.4"/>
<path class="w" d="M1361.2,1062.1 C1361.6,1063.6 1363.0,1068.1 1363.7,1071.1 C1364.4,1074.1 1365.0,1077.1 1365.4,1080.1 C1365.9,1083.1 1366.2,1086.1 1366.5,1089.1 C1366.7,1092.1 1366.8,1095.1 1366.8,1098.1 C1366.8,1101.1 1366.7,1104.2 1366.5,1107.2 C1366.2,1110.2 1365.9,1113.2 1365.4,1116.2 C1365.0,1119.2 1364.4,1122.2 1363.7,1125.2 C1363.0,1128.2 1361.6,1132.7 1361.2,1134.2" style="stroke-width:9.8"/>
<path class="k" d="M1361.2,1062.1 C1361.6,1063.6 1363.0,1068.1 1363.7,1071.1 C1364.4,1074.1 1365.0,1077.1 1365.4,1080.1 C1365.9,1083.1 1366.2,1086.1 1366.5,1089.1 C1366.7,1092.1 1366.8,1095.1 1366.8,1098.1 C1366.8,1101.1 1366.7,1104.2 1366.5,1107.2 C1366.2,1110.2 1365.9,1113.2 1365.4,1116.2 C1365.0,1119.2 1364.4,1122.2 1363.7,1125.2 C1363.0,1128.2 1361.6,1132.7 1361.2,1134.2" style="stroke-width:7.6"/>
<path class="w" d="M1361.2,1062.1 C1361.6,1063.6 1363.0,1068.1 1363.7,1071.1 C1364.4,1074.1 1365.0,1077.1 1365.4,1080.1 C1365.9,1083.1 1366.2,1086.1 1366.5,1089.1 C1366.7,1092.1 1366.8,1095.1 1366.8,1098.1 C1366.8,1101.1 1366.7,1104.2 1366.5,1107.2 C1366.2,1110.2 1365.9,1113.2 1365.4,1116.2 C1365.0,1119.2 1364.4,1122.2 1363.7,1125.2 C1363.0,1128.2 1361.6,1132.7 1361.2,1134.2" style="stroke-width:6.4"/>
<ellipse class="c" cx="1372.8" cy="1063.4" rx="1.9" ry="2.5"/>
<ellipse class="c" cx="1374.7" cy="1070.0" rx="1.9" ry="2.5"/>
<ellipse class="c" cx="1376.3" cy="1076.6" rx="1.9" ry="2.5"/>
<ellipse class="c" cx="1377.6" cy="1083.2" rx="1.9" ry="2.5"/>
<ellipse class="c" cx="1378.5" cy="1089.9" rx="1.9" ry="2.5"/>
<ellipse class="c" cx="1379.0" cy="1096.5" rx="1.9" ry="2.5"/>
<ellipse class="c" cx="1379.2" cy="1103.1" rx="1.9" ry="2.5"/>
<ellipse class="c" cx="1379.0" cy="1109.7" rx="1.9" ry="2.5"/>
<ellipse class="c" cx="1378.5" cy="1116.3" rx="1.9" ry="2.5"/>
<ellipse class="c" cx="1377.6" cy="1122.9" rx="1.9" ry="2.5"/>
<ellipse class="c" cx="1376.3" cy="1129.5" rx="1.9" ry="2.5"/>
<ellipse class="c" cx="1374.7" cy="1136.2" rx="1.9" ry="2.5"/>
<ellipse class="c" cx="1372.8" cy="1142.8" rx="1.9" ry="2.5"/>
<ellipse class="b" cx="1387.6" cy="1078.4" rx="3.9" ry="4.5"/>
<ellipse class="i" cx="1387.6" cy="1079.0" rx="1.5" ry="1.8"/>
<ellipse class="b" cx="1390.3" cy="1093.6" rx="3.9" ry="4.5"/>
<ellipse class="i" cx="1390.3" cy="1094.2" rx="1.5" ry="1.8"/>
<ellipse class="b" cx="1391.1" cy="1108.8" rx="3.9" ry="4.5"/>
<ellipse class="i" cx="1391.1" cy="1109.4" rx="1.5" ry="1.8"/>
<ellipse class="b" cx="1390.3" cy="1124.0" rx="3.9" ry="4.5"/>
<ellipse class="i" cx="1390.3" cy="1124.6" rx="1.5" ry="1.8"/>
<ellipse class="b" cx="1387.6" cy="1139.2" rx="3.9" ry="4.5"/>
<ellipse class="i" cx="1387.6" cy="1139.8" rx="1.5" ry="1.8"/>
<ellipse class="c" cx="1395.4" cy="1074.6" rx="1.7" ry="2.5"/>
<ellipse class="c" cx="1397.1" cy="1081.2" rx="1.7" ry="2.5"/>
<ellipse class="c" cx="1398.5" cy="1087.9" rx="1.7" ry="2.5"/>
<ellipse class="c" cx="1399.6" cy="1094.5" rx="1.7" ry="2.5"/>
<ellipse class="c" cx="1400.4" cy="1101.1" rx="1.7" ry="2.5"/>
<ellipse class="c" cx="1400.8" cy="1107.7" rx="1.7" ry="2.5"/>
<ellipse class="c" cx="1401.0" cy="1114.3" rx="1.7" ry="2.5"/>
<ellipse class="c" cx="1400.8" cy="1120.9" rx="1.7" ry="2.5"/>
<ellipse class="c" cx="1400.4" cy="1127.5" rx="1.7" ry="2.5"/>
<ellipse class="c" cx="1399.6" cy="1134.2" rx="1.7" ry="2.5"/>
<ellipse class="c" cx="1398.5" cy="1140.8" rx="1.7" ry="2.5"/>
<ellipse class="c" cx="1397.1" cy="1147.4" rx="1.7" ry="2.5"/>
<ellipse class="c" cx="1395.4" cy="1154.0" rx="1.7" ry="2.5"/>
<path class="k" d="M1403.7,1081.8 C1404.0,1083.3 1405.1,1088.0 1405.7,1091.1 C1406.3,1094.2 1406.7,1097.3 1407.1,1100.4 C1407.5,1103.5 1407.8,1106.6 1408.0,1109.7 C1408.2,1112.8 1408.2,1115.9 1408.2,1119.0 C1408.2,1122.1 1408.2,1125.2 1408.0,1128.4 C1407.8,1131.5 1407.5,1134.6 1407.1,1137.7 C1406.7,1140.8 1406.3,1143.9 1405.7,1147.0 C1405.1,1150.1 1404.0,1154.7 1403.7,1156.3" style="stroke-width:11.1"/>
<path class="w" d="M1403.7,1081.8 C1404.0,1083.3 1405.1,1088.0 1405.7,1091.1 C1406.3,1094.2 1406.7,1097.3 1407.1,1100.4 C1407.5,1103.5 1407.8,1106.6 1408.0,1109.7 C1408.2,1112.8 1408.2,1115.9 1408.2,1119.0 C1408.2,1122.1 1408.2,1125.2 1408.0,1128.4 C1407.8,1131.5 1407.5,1134.6 1407.1,1137.7 C1406.7,1140.8 1406.3,1143.9 1405.7,1147.0 C1405.1,1150.1 1404.0,1154.7 1403.7,1156.3" style="stroke-width:7.5"/>
<path class="k" d="M1403.7,1081.8 C1404.0,1083.3 1405.1,1088.0 1405.7,1091.1 C1406.3,1094.2 1406.7,1097.3 1407.1,1100.4 C1407.5,1103.5 1407.8,1106.6 1408.0,1109.7 C1408.2,1112.8 1408.2,1115.9 1408.2,1119.0 C1408.2,1122.1 1408.2,1125.2 1408.0,1128.4 C1407.8,1131.5 1407.5,1134.6 1407.1,1137.7 C1406.7,1140.8 1406.3,1143.9 1405.7,1147.0 C1405.1,1150.1 1404.0,1154.7 1403.7,1156.3" style="stroke-width:5.3"/>
<path class="w" d="M1403.7,1081.8 C1404.0,1083.3 1405.1,1088.0 1405.7,1091.1 C1406.3,1094.2 1406.7,1097.3 1407.1,1100.4 C1407.5,1103.5 1407.8,1106.6 1408.0,1109.7 C1408.2,1112.8 1408.2,1115.9 1408.2,1119.0 C1408.2,1122.1 1408.2,1125.2 1408.0,1128.4 C1407.8,1131.5 1407.5,1134.6 1407.1,1137.7 C1406.7,1140.8 1406.3,1143.9 1405.7,1147.0 C1405.1,1150.1 1404.0,1154.7 1403.7,1156.3" style="stroke-width:4.1"/>
<ellipse class="c" cx="1412.5" cy="1086.1" rx="1.4" ry="2.5"/>
<ellipse class="c" cx="1413.9" cy="1092.7" rx="1.4" ry="2.5"/>
<ellipse class="c" cx="1415.1" cy="1099.3" rx="1.4" ry="2.5"/>
<ellipse class="c" cx="1416.0" cy="1105.9" rx="1.4" ry="2.5"/>
<ellipse class="c" cx="1416.6" cy="1112.6" rx="1.4" ry="2.5"/>
<ellipse class="c" cx="1417.0" cy="1119.2" rx="1.4" ry="2.5"/>
<ellipse class="c" cx="1417.2" cy="1125.8" rx="1.4" ry="2.5"/>
<ellipse class="c" cx="1417.0" cy="1132.4" rx="1.4" ry="2.5"/>
<ellipse class="c" cx="1416.6" cy="1139.0" rx="1.4" ry="2.5"/>
<ellipse class="c" cx="1416.0" cy="1145.6" rx="1.4" ry="2.5"/>
<ellipse class="c" cx="1415.1" cy="1152.3" rx="1.4" ry="2.5"/>
<ellipse class="c" cx="1413.9" cy="1158.9" rx="1.4" ry="2.5"/>
<ellipse class="c" cx="1412.5" cy="1165.5" rx="1.4" ry="2.5"/>
<ellipse class="b" cx="1422.9" cy="1102.8" rx="2.7" ry="4.5"/>
<ellipse class="i" cx="1422.9" cy="1103.4" rx="1.0" ry="1.8"/>
<ellipse class="b" cx="1424.6" cy="1118.0" rx="2.7" ry="4.5"/>
<ellipse class="i" cx="1424.6" cy="1118.6" rx="1.0" ry="1.8"/>
<ellipse class="b" cx="1425.2" cy="1133.2" rx="2.7" ry="4.5"/>
<ellipse class="i" cx="1425.2" cy="1133.8" rx="1.0" ry="1.8"/>
<ellipse class="b" cx="1424.6" cy="1148.4" rx="2.7" ry="4.5"/>
<ellipse class="i" cx="1424.6" cy="1149.0" rx="1.0" ry="1.8"/>
<ellipse class="b" cx="1422.9" cy="1163.6" rx="2.7" ry="4.5"/>
<ellipse class="i" cx="1422.9" cy="1164.2" rx="1.0" ry="1.8"/>
<ellipse class="c" cx="1427.9" cy="1100.4" rx="1.1" ry="2.5"/>
<ellipse class="c" cx="1429.0" cy="1107.1" rx="1.1" ry="2.5"/>
<ellipse class="c" cx="1429.9" cy="1113.7" rx="1.1" ry="2.5"/>
<ellipse class="c" cx="1430.5" cy="1120.3" rx="1.1" ry="2.5"/>
<ellipse class="c" cx="1431.0" cy="1126.9" rx="1.1" ry="2.5"/>
<ellipse class="c" cx="1431.3" cy="1133.5" rx="1.1" ry="2.5"/>
<ellipse class="c" cx="1431.4" cy="1140.1" rx="1.1" ry="2.5"/>
<ellipse class="c" cx="1431.3" cy="1146.7" rx="1.1" ry="2.5"/>
<ellipse class="c" cx="1431.0" cy="1153.4" rx="1.1" ry="2.5"/>
<ellipse class="c" cx="1430.5" cy="1160.0" rx="1.1" ry="2.5"/>
<ellipse class="c" cx="1429.9" cy="1166.6" rx="1.1" ry="2.5"/>
<ellipse class="c" cx="1429.0" cy="1173.2" rx="1.1" ry="2.5"/>
<ellipse class="c" cx="1427.9" cy="1179.8" rx="1.1" ry="2.5"/>
<path class="k" d="M1432.7,1107.1 C1432.9,1108.7 1433.6,1113.6 1434.0,1116.8 C1434.4,1120.0 1434.7,1123.2 1434.9,1126.5 C1435.2,1129.7 1435.3,1132.9 1435.5,1136.2 C1435.6,1139.4 1435.7,1142.6 1435.7,1145.9 C1435.7,1149.1 1435.6,1152.3 1435.5,1155.5 C1435.3,1158.8 1435.2,1162.0 1434.9,1165.2 C1434.7,1168.5 1434.4,1171.7 1434.0,1174.9 C1433.6,1178.2 1432.9,1183.0 1432.7,1184.6" style="stroke-width:8.1"/>
<path class="w" d="M1432.7,1107.1 C1432.9,1108.7 1433.6,1113.6 1434.0,1116.8 C1434.4,1120.0 1434.7,1123.2 1434.9,1126.5 C1435.2,1129.7 1435.3,1132.9 1435.5,1136.2 C1435.6,1139.4 1435.7,1142.6 1435.7,1145.9 C1435.7,1149.1 1435.6,1152.3 1435.5,1155.5 C1435.3,1158.8 1435.2,1162.0 1434.9,1165.2 C1434.7,1168.5 1434.4,1171.7 1434.0,1174.9 C1433.6,1178.2 1432.9,1183.0 1432.7,1184.6" style="stroke-width:4.5"/>
<path class="k" d="M1432.7,1107.1 C1432.9,1108.7 1433.6,1113.6 1434.0,1116.8 C1434.4,1120.0 1434.7,1123.2 1434.9,1126.5 C1435.2,1129.7 1435.3,1132.9 1435.5,1136.2 C1435.6,1139.4 1435.7,1142.6 1435.7,1145.9 C1435.7,1149.1 1435.6,1152.3 1435.5,1155.5 C1435.3,1158.8 1435.2,1162.0 1434.9,1165.2 C1434.7,1168.5 1434.4,1171.7 1434.0,1174.9 C1433.6,1178.2 1432.9,1183.0 1432.7,1184.6" style="stroke-width:2.3"/>
<path class="w" d="M1432.7,1107.1 C1432.9,1108.7 1433.6,1113.6 1434.0,1116.8 C1434.4,1120.0 1434.7,1123.2 1434.9,1126.5 C1435.2,1129.7 1435.3,1132.9 1435.5,1136.2 C1435.6,1139.4 1435.7,1142.6 1435.7,1145.9 C1435.7,1149.1 1435.6,1152.3 1435.5,1155.5 C1435.3,1158.8 1435.2,1162.0 1434.9,1165.2 C1434.7,1168.5 1434.4,1171.7 1434.0,1174.9 C1433.6,1178.2 1432.9,1183.0 1432.7,1184.6" style="stroke-width:1.1"/>
<ellipse class="c" cx="1437.8" cy="1114.1" rx="0.7" ry="2.5"/>
<ellipse class="c" cx="1438.6" cy="1120.7" rx="0.7" ry="2.5"/>
<ellipse class="c" cx="1439.2" cy="1127.4" rx="0.7" ry="2.5"/>
<ellipse class="c" cx="1439.7" cy="1134.0" rx="0.7" ry="2.5"/>
<ellipse class="c" cx="1440.0" cy="1140.6" rx="0.7" ry="2.5"/>
<ellipse class="c" cx="1440.2" cy="1147.2" rx="0.7" ry="2.5"/>
<ellipse class="c" cx="1440.3" cy="1153.8" rx="0.7" ry="2.5"/>
<ellipse class="c" cx="1440.2" cy="1160.4" rx="0.7" ry="2.5"/>
<ellipse class="c" cx="1440.0" cy="1167.0" rx="0.7" ry="2.5"/>
<ellipse class="c" cx="1439.7" cy="1173.7" rx="0.7" ry="2.5"/>
<ellipse class="c" cx="1439.2" cy="1180.3" rx="0.7" ry="2.5"/>
<ellipse class="c" cx="1438.6" cy="1186.9" rx="0.7" ry="2.5"/>
<ellipse class="c" cx="1437.8" cy="1193.5" rx="0.7" ry="2.5"/>
<ellipse class="b" cx="1442.7" cy="1131.9" rx="1.2" ry="4.5"/>
<ellipse class="i" cx="1442.7" cy="1132.5" rx="0.5" ry="1.8"/>
<ellipse class="b" cx="1443.5" cy="1147.1" rx="1.2" ry="4.5"/>
<ellipse class="i" cx="1443.5" cy="1147.7" rx="0.5" ry="1.8"/>
<ellipse class="b" cx="1443.8" cy="1162.3" rx="1.2" ry="4.5"/>
<ellipse class="i" cx="1443.8" cy="1162.9" rx="0.5" ry="1.8"/>
<ellipse class="b" cx="1443.5" cy="1177.5" rx="1.2" ry="4.5"/>
<ellipse class="i" cx="1443.5" cy="1178.1" rx="0.5" ry="1.8"/>
<ellipse class="b" cx="1442.7" cy="1192.7" rx="1.2" ry="4.5"/>
<ellipse class="i" cx="1442.7" cy="1193.3" rx="0.5" ry="1.8"/>
<ellipse class="c" cx="1444.6" cy="1130.3" rx="0.5" ry="2.5"/>
<ellipse class="c" cx="1445.0" cy="1136.9" rx="0.5" ry="2.5"/>
<ellipse class="c" cx="1445.3" cy="1143.5" rx="0.5" ry="2.5"/>
<ellipse class="c" cx="1445.5" cy="1150.1" rx="0.5" ry="2.5"/>
<ellipse class="c" cx="1445.7" cy="1156.7" rx="0.5" ry="2.5"/>
<ellipse class="c" cx="1445.8" cy="1163.4" rx="0.5" ry="2.5"/>
<ellipse class="c" cx="1445.8" cy="1170.0" rx="0.5" ry="2.5"/>
<ellipse class="c" cx="1445.8" cy="1176.6" rx="0.5" ry="2.5"/>
<ellipse class="c" cx="1445.7" cy="1183.2" rx="0.5" ry="2.5"/>
<ellipse class="c" cx="1445.5" cy="1189.8" rx="0.5" ry="2.5"/>
<ellipse class="c" cx="1445.3" cy="1196.4" rx="0.5" ry="2.5"/>
<ellipse class="c" cx="1445.0" cy="1203.1" rx="0.5" ry="2.5"/>
<ellipse class="c" cx="1444.6" cy="1209.7" rx="0.5" ry="2.5"/>
<path class="k" d="M1445.9,1136.4 C1445.9,1138.0 1446.1,1143.0 1446.2,1146.3 C1446.3,1149.7 1446.4,1153.0 1446.4,1156.3 C1446.5,1159.6 1446.5,1162.9 1446.6,1166.3 C1446.6,1169.6 1446.6,1172.9 1446.6,1176.2 C1446.6,1179.5 1446.6,1182.8 1446.6,1186.2 C1446.5,1189.5 1446.5,1192.8 1446.4,1196.1 C1446.4,1199.4 1446.3,1202.8 1446.2,1206.1 C1446.1,1209.4 1445.9,1214.4 1445.9,1216.0" style="stroke-width:6.0"/>
<path class="w" d="M1445.9,1136.4 C1445.9,1138.0 1446.1,1143.0 1446.2,1146.3 C1446.3,1149.7 1446.4,1153.0 1446.4,1156.3 C1446.5,1159.6 1446.5,1162.9 1446.6,1166.3 C1446.6,1169.6 1446.6,1172.9 1446.6,1176.2 C1446.6,1179.5 1446.6,1182.8 1446.6,1186.2 C1446.5,1189.5 1446.5,1192.8 1446.4,1196.1 C1446.4,1199.4 1446.3,1202.8 1446.2,1206.1 C1446.1,1209.4 1445.9,1214.4 1445.9,1216.0" style="stroke-width:2.4"/>
</g>
<line x1="1395.5" y1="912" x2="1395.5" y2="1071" stroke="#000" stroke-width="1.6"/>
<line x1="1396" y1="950" x2="1396" y2="1069" stroke="#000" stroke-width="4.5" stroke-dasharray="9 2"/>
<ellipse cx="1213" cy="890" rx="3.6" ry="2" fill="none" stroke="#000" stroke-width="1.4" />
<ellipse cx="1363" cy="905" rx="3.6" ry="2" fill="none" stroke="#000" stroke-width="1.4" />
<ellipse cx="1083" cy="938" rx="3.6" ry="2" fill="none" stroke="#000" stroke-width="1.4" />
<ellipse cx="1138" cy="1097" rx="3.6" ry="2" fill="none" stroke="#000" stroke-width="1.4" />
<ellipse cx="1288" cy="1117" rx="3.6" ry="2" fill="none" stroke="#000" stroke-width="1.4" />
<ellipse cx="1420" cy="1065" rx="3.6" ry="2" fill="none" stroke="#000" stroke-width="1.4" />
</svg></body></html>
